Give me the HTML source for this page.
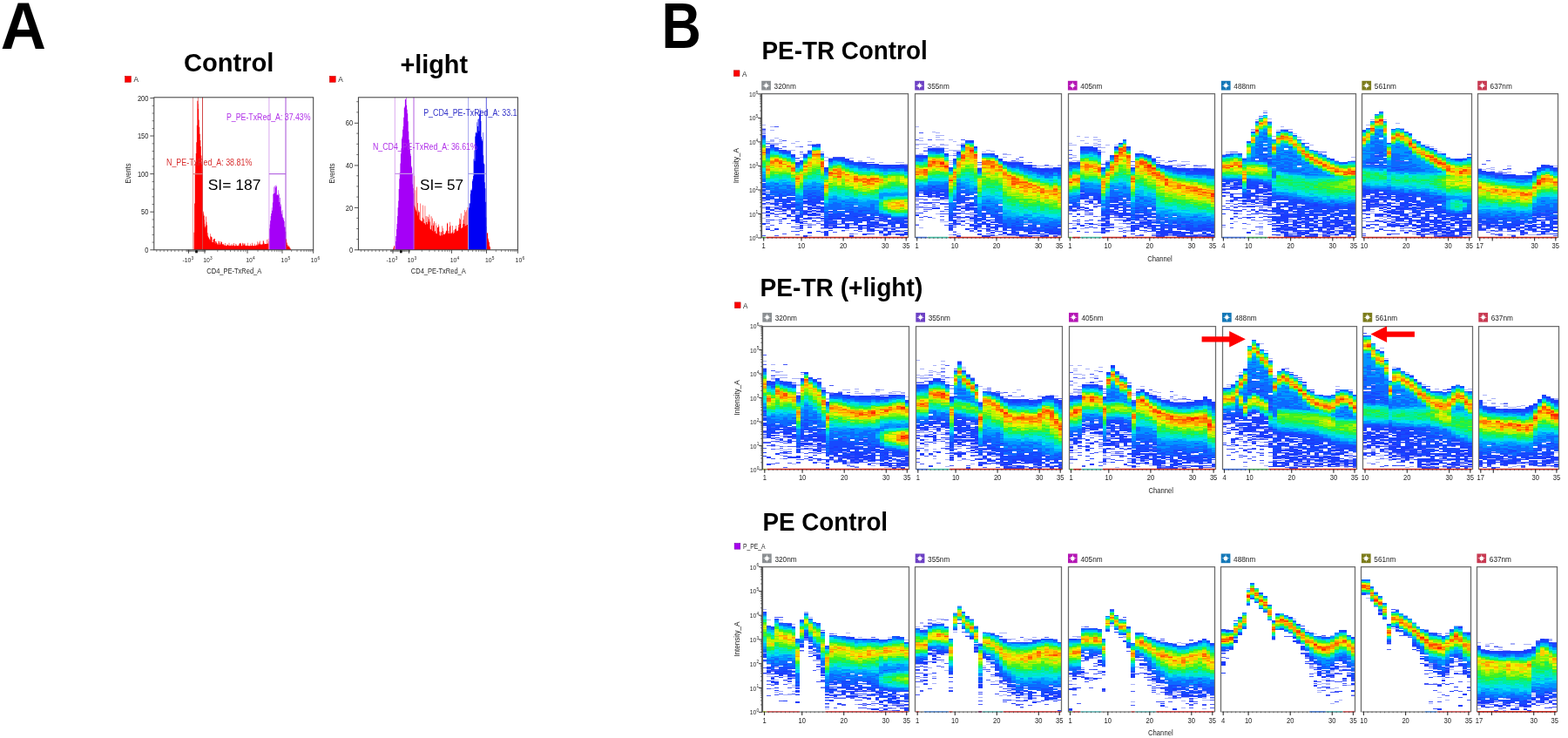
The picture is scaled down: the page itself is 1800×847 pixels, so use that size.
<!DOCTYPE html>
<html lang="en"><head><meta charset="utf-8"><title>Figure</title>
<style>
html,body{margin:0;padding:0;background:#fff;}
body{width:1800px;height:847px;overflow:hidden;font-family:"Liberation Sans",sans-serif;}
svg{display:block;position:absolute;left:0;top:0;}
svg text{font-family:"Liberation Sans",sans-serif;}
</style></head><body>
<svg width="1800" height="847" viewBox="0 0 1800 847">
<rect width="1800" height="847" fill="#fff"/>
<g id="panelA">
<text x="0.8" y="55.6" font-size="76" font-weight="bold" textLength="52.2" lengthAdjust="spacingAndGlyphs">A</text>
<text x="211" y="82.4" font-size="30.1" font-weight="bold" textLength="103.4" lengthAdjust="spacingAndGlyphs">Control</text>
<text x="459.4" y="84" font-size="30.1" font-weight="bold" textLength="77.6" lengthAdjust="spacingAndGlyphs">+light</text>
<path d="M222.0 286.8L222.0 286.8L222.6 286.8L222.6 266.8L223.1 266.8L223.1 233.4L223.7 233.4L223.7 198.8L224.2 198.8L224.2 187.4L224.8 187.4L224.8 176.1L225.3 176.1L225.3 163.2L225.9 163.2L225.9 143.7L226.4 143.7L226.4 115.8L227.0 115.8L227.0 115.8L227.5 115.8L227.5 119.3L228.1 119.3L228.1 137.6L228.6 137.6L228.6 145.8L229.2 145.8L229.2 153.8L229.7 153.8L229.7 161.0L230.3 161.0L230.3 168.1L230.8 168.1L230.8 178.5L231.4 178.5L231.4 189.1L231.9 189.1L231.9 199.8L232.5 199.8L232.5 221.3L233.0 221.3L233.0 242.8L233.6 242.8L233.6 247.5L234.1 247.5L234.1 252.2L234.7 252.2L234.7 256.8L235.2 256.8L235.2 260.5L235.8 260.5L235.8 262.6L236.3 262.6L236.3 264.6L236.9 264.6L236.9 266.6L237.4 266.6L237.4 268.6L238.0 268.6L238.0 270.6L238.5 270.6L238.5 271.6L239.1 271.6L239.1 272.5L239.6 272.5L239.6 273.4L240.2 273.4L240.2 274.3L240.7 274.3L240.7 275.2L241.3 275.2L241.3 276.1L241.8 276.1L241.8 277.0L242.4 277.0L242.4 277.5L242.9 277.5L242.9 277.7L243.5 277.7L243.5 277.9L244.0 277.9L244.0 278.2L244.6 278.2L244.6 278.4L245.1 278.4L245.1 278.7L245.7 278.7L245.7 278.9L246.2 278.9L246.2 279.1L246.8 279.1L246.8 279.4L247.3 279.4L247.3 279.6L247.9 279.6L247.9 279.9L248.4 279.9L248.4 280.1L249.0 280.1L249.0 280.3L249.5 280.3L249.5 280.6L250.1 280.6L250.1 280.8L250.6 280.8L250.6 280.9L251.2 280.9L251.2 280.9L251.7 280.9L251.7 281.0L252.3 281.0L252.3 281.1L252.8 281.1L252.8 281.2L253.4 281.2L253.4 281.2L253.9 281.2L253.9 281.3L254.5 281.3L254.5 281.4L255.0 281.4L255.0 281.4L255.6 281.4L255.6 281.5L256.1 281.5L256.1 281.6L256.7 281.6L256.7 281.6L257.2 281.6L257.2 281.7L257.8 281.7L257.8 281.8L258.3 281.8L258.3 281.8L258.9 281.8L258.9 281.9L259.4 281.9L259.4 282.0L260.0 282.0L260.0 282.0L260.5 282.0L260.5 282.1L261.1 282.1L261.1 282.2L261.6 282.2L261.6 282.3L262.2 282.3L262.2 282.3L262.7 282.3L262.7 282.3L263.3 282.3L263.3 282.3L263.8 282.3L263.8 282.3L264.4 282.3L264.4 282.3L264.9 282.3L264.9 282.3L265.5 282.3L265.5 282.3L266.0 282.3L266.0 282.3L266.6 282.3L266.6 282.3L267.1 282.3L267.1 282.3L267.7 282.3L267.7 282.3L268.2 282.3L268.2 282.3L268.8 282.3L268.8 282.3L269.3 282.3L269.3 282.3L269.9 282.3L269.9 282.3L270.4 282.3L270.4 282.3L271.0 282.3L271.0 282.3L271.5 282.3L271.5 282.3L272.1 282.3L272.1 282.3L272.6 282.3L272.6 282.3L273.2 282.3L273.2 282.3L273.7 282.3L273.7 282.3L274.3 282.3L274.3 282.3L274.8 282.3L274.8 282.3L275.4 282.3L275.4 282.3L275.9 282.3L275.9 282.3L276.5 282.3L276.5 282.3L277.0 282.3L277.0 282.3L277.6 282.3L277.6 282.3L278.1 282.3L278.1 282.3L278.7 282.3L278.7 282.3L279.2 282.3L279.2 282.3L279.8 282.3L279.8 282.3L280.3 282.3L280.3 282.3L280.9 282.3L280.9 282.3L281.4 282.3L281.4 282.3L282.0 282.3L282.0 282.3L282.5 282.3L282.5 282.3L283.1 282.3L283.1 282.3L283.6 282.3L283.6 282.3L284.2 282.3L284.2 282.3L284.7 282.3L284.7 282.3L285.3 282.3L285.3 282.3L285.8 282.3L285.8 282.3L286.4 282.3L286.4 282.3L286.9 282.3L286.9 282.3L287.5 282.3L287.5 282.3L288.0 282.3L288.0 282.3L288.6 282.3L288.6 282.3L289.1 282.3L289.1 282.3L289.7 282.3L289.7 282.3L290.2 282.3L290.2 282.3L290.8 282.3L290.8 282.2L291.3 282.2L291.3 282.1L291.9 282.1L291.9 282.0L292.4 282.0L292.4 281.9L293.0 281.9L293.0 281.9L293.5 281.9L293.5 281.8L294.1 281.8L294.1 281.7L294.6 281.7L294.6 281.6L295.2 281.6L295.2 281.5L295.7 281.5L295.7 281.4L296.3 281.4L296.3 281.4L296.8 281.4L296.8 281.3L297.4 281.3L297.4 281.2L297.9 281.2L297.9 281.1L298.5 281.1L298.5 281.0L299.0 281.0L299.0 280.9L299.6 280.9L299.6 280.9L300.1 280.9L300.1 280.8L300.7 280.8L300.7 280.7L301.2 280.7L301.2 280.6L301.8 280.6L301.8 280.5L302.3 280.5L302.3 280.4L302.9 280.4L302.9 280.3L303.4 280.3L303.4 280.2L304.0 280.2L304.0 280.1L304.5 280.1L304.5 280.0L305.1 280.0L305.1 280.0L305.6 280.0L305.6 279.9L306.2 279.9L306.2 279.8L306.7 279.8L306.7 279.7L307.3 279.7L307.3 279.6L307.8 279.6L307.8 279.5L308.4 279.5L308.4 279.4L308.9 279.4L308.9 279.3L309.5 279.3L309.5 286.8Z" fill="#f00"/>
<path d="M233.0 286.8L233.0 244.9L233.6 244.9L233.6 255.2L234.1 255.2L234.1 247.5L234.7 247.5L234.7 261.0L235.2 261.0L235.2 266.8L235.8 266.8L235.8 259.2L236.3 259.2L236.3 248.6L236.9 248.6L236.9 254.7L237.4 254.7L237.4 258.6L238.0 258.6L238.0 271.6L238.5 271.6L238.5 267.2L239.1 267.2L239.1 272.5L239.6 272.5L239.6 275.0L240.2 275.0L240.2 276.7L240.7 276.7L240.7 276.0L241.3 276.0L241.3 268.2L241.8 268.2L241.8 270.9L242.4 270.9L242.4 271.9L242.9 271.9L242.9 272.3L243.5 272.3L243.5 278.8L244.0 278.8L244.0 277.9L244.6 277.9L244.6 275.1L245.1 275.1L245.1 274.5L245.7 274.5L245.7 273.8L246.2 273.8L246.2 273.9L246.8 273.9L246.8 281.0L247.3 281.0L247.3 277.0L247.9 277.0L247.9 276.8L248.4 276.8L248.4 278.4L249.0 278.4L249.0 281.1L249.5 281.1L249.5 279.2L250.1 279.2L250.1 282.1L250.6 282.1L250.6 276.5L251.2 276.5L251.2 277.1L251.7 277.1L251.7 279.3L252.3 279.3L252.3 280.9L252.8 280.9L252.8 277.1L253.4 277.1L253.4 279.4L253.9 279.4L253.9 277.5L254.5 277.5L254.5 277.9L255.0 277.9L255.0 280.0L255.6 280.0L255.6 280.7L256.1 280.7L256.1 279.7L256.7 279.7L256.7 280.7L257.2 280.7L257.2 282.4L257.8 282.4L257.8 281.6L258.3 281.6L258.3 278.9L258.9 278.9L258.9 283.2L259.4 283.2L259.4 283.2L260.0 283.2L260.0 280.2L260.5 280.2L260.5 282.1L261.1 282.1L261.1 280.8L261.6 280.8L261.6 281.3L262.2 281.3L262.2 282.0L262.7 282.0L262.7 278.7L263.3 278.7L263.3 282.7L263.8 282.7L263.8 281.6L264.4 281.6L264.4 282.7L264.9 282.7L264.9 280.5L265.5 280.5L265.5 282.3L266.0 282.3L266.0 281.9L266.6 281.9L266.6 279.9L267.1 279.9L267.1 282.1L267.7 282.1L267.7 280.9L268.2 280.9L268.2 279.1L268.8 279.1L268.8 283.2L269.3 283.2L269.3 283.4L269.9 283.4L269.9 282.5L270.4 282.5L270.4 279.8L271.0 279.8L271.0 280.6L271.5 280.6L271.5 282.5L272.1 282.5L272.1 282.0L272.6 282.0L272.6 282.8L273.2 282.8L273.2 281.4L273.7 281.4L273.7 283.5L274.3 283.5L274.3 280.2L274.8 280.2L274.8 279.2L275.4 279.2L275.4 278.9L275.9 278.9L275.9 280.0L276.5 280.0L276.5 278.8L277.0 278.8L277.0 283.6L277.6 283.6L277.6 282.2L278.1 282.2L278.1 278.8L278.7 278.8L278.7 279.8L279.2 279.8L279.2 281.6L279.8 281.6L279.8 278.9L280.3 278.9L280.3 280.6L280.9 280.6L280.9 279.6L281.4 279.6L281.4 282.2L282.0 282.2L282.0 282.7L282.5 282.7L282.5 281.5L283.1 281.5L283.1 283.0L283.6 283.0L283.6 281.8L284.2 281.8L284.2 278.8L284.7 278.8L284.7 282.0L285.3 282.0L285.3 283.7L285.8 283.7L285.8 283.5L286.4 283.5L286.4 282.8L286.9 282.8L286.9 279.7L287.5 279.7L287.5 281.9L288.0 281.9L288.0 282.2L288.6 282.2L288.6 283.2L289.1 283.2L289.1 278.7L289.7 278.7L289.7 281.6L290.2 281.6L290.2 282.6L290.8 282.6L290.8 283.3L291.3 283.3L291.3 283.3L291.9 283.3L291.9 282.6L292.4 282.6L292.4 279.8L293.0 279.8L293.0 282.6L293.5 282.6L293.5 283.1L294.1 283.1L294.1 280.5L294.6 280.5L294.6 281.8L295.2 281.8L295.2 277.3L295.7 277.3L295.7 282.4L296.3 282.4L296.3 279.8L296.8 279.8L296.8 278.2L297.4 278.2L297.4 280.4L297.9 280.4L297.9 276.6L298.5 276.6L298.5 279.7L299.0 279.7L299.0 281.2L299.6 281.2L299.6 280.0L300.1 280.0L300.1 282.4L300.7 282.4L300.7 279.7L301.2 279.7L301.2 280.8L301.8 280.8L301.8 276.2L302.3 276.2L302.3 276.4L302.9 276.4L302.9 278.7L303.4 278.7L303.4 282.1L304.0 282.1L304.0 280.3L304.5 280.3L304.5 280.3L305.1 280.3L305.1 280.5L305.6 280.5L305.6 280.2L306.2 280.2L306.2 275.1L306.7 275.1L306.7 280.8L307.3 280.8L307.3 281.4L307.8 281.4L307.8 274.2L308.4 274.2L308.4 277.0L308.9 277.0L308.9 273.3L309.5 273.3L309.5 286.8Z" fill="#f00"/>
<path d="M309.0 286.8L309.0 262.2L309.6 262.2L309.6 257.6L310.1 257.6L310.1 253.2L310.7 253.2L310.7 248.1L311.2 248.1L311.2 245.1L311.8 245.1L311.8 238.3L312.3 238.3L312.3 241.8L312.9 241.8L312.9 232.5L313.4 232.5L313.4 222.7L314.0 222.7L314.0 222.0L314.5 222.0L314.5 214.5L315.1 214.5L315.1 221.4L315.6 221.4L315.6 213.3L316.2 213.3L316.2 215.2L316.7 215.2L316.7 212.6L317.3 212.6L317.3 214.1L317.8 214.1L317.8 223.9L318.4 223.9L318.4 223.0L318.9 223.0L318.9 224.3L319.5 224.3L319.5 218.3L320.0 218.3L320.0 222.6L320.6 222.6L320.6 232.0L321.1 232.0L321.1 226.9L321.7 226.9L321.7 236.9L322.2 236.9L322.2 234.6L322.8 234.6L322.8 242.2L323.3 242.2L323.3 245.8L323.9 245.8L323.9 240.9L324.4 240.9L324.4 249.4L325.0 249.4L325.0 252.2L325.5 252.2L325.5 250.0L326.1 250.0L326.1 254.0L326.6 254.0L326.6 260.6L327.2 260.6L327.2 260.5L327.7 260.5L327.7 265.8L328.3 265.8L328.3 286.8Z" fill="#a500f7"/>
<path d="M328.0 286.8L328.0 273.9L328.6 273.9L328.6 275.3L329.1 275.3L329.1 278.6L329.7 278.6L329.7 280.9L330.2 280.9L330.2 282.8L330.8 282.8L330.8 281.4L331.3 281.4L331.3 282.7L331.9 282.7L331.9 282.9L332.4 282.9L332.4 284.4L333.0 284.4L333.0 284.7L333.5 284.7L333.5 285.9L334.1 285.9L334.1 286.8Z" fill="#f00"/>
<path d="M221.5 111.8V286.8" stroke="#e9a0a0" stroke-width="1" fill="none"/>
<path d="M232.5 111.8V286.8" stroke="#d24848" stroke-width="1" fill="none"/>
<path d="M227.4 111.8V125" stroke="#e86060" stroke-width="0.8" fill="none"/>
<path d="M221.5 199.6H232.5" stroke="#e08080" stroke-width="1.2" fill="none"/>
<path d="M308.9 111.8V286.8" stroke="#d9a8ee" stroke-width="1" fill="none"/>
<path d="M328 111.8V286.8" stroke="#a64fd6" stroke-width="1" fill="none"/>
<path d="M308.9 199.6H328" stroke="#b15fe0" stroke-width="1.1" fill="none"/>
<rect x="143.5" y="87.4" width="6.9" height="6.9" fill="#f00" stroke="#b00" stroke-width="0.5"/>
<text x="153.5" y="94.3" font-size="9" fill="#1c1c1c" textLength="5.5" lengthAdjust="spacingAndGlyphs">A</text>
<rect x="176.8" y="111.8" width="182.89999999999998" height="175.0" fill="none" stroke="#3a3a3a" stroke-width="1"/>
<line x1="172.3" y1="112.6" x2="176.8" y2="112.6" stroke="#3a3a3a" stroke-width="0.9"/>
<text x="157.9" y="115.69999999999999" font-size="8.8" fill="#1c1c1c" textLength="12.6" lengthAdjust="spacingAndGlyphs">200</text>
<line x1="172.3" y1="156.0" x2="176.8" y2="156.0" stroke="#3a3a3a" stroke-width="0.9"/>
<text x="157.9" y="159.1" font-size="8.8" fill="#1c1c1c" textLength="12.6" lengthAdjust="spacingAndGlyphs">150</text>
<line x1="172.3" y1="199.6" x2="176.8" y2="199.6" stroke="#3a3a3a" stroke-width="0.9"/>
<text x="157.9" y="202.7" font-size="8.8" fill="#1c1c1c" textLength="12.6" lengthAdjust="spacingAndGlyphs">100</text>
<line x1="172.3" y1="243.2" x2="176.8" y2="243.2" stroke="#3a3a3a" stroke-width="0.9"/>
<text x="162.1" y="246.29999999999998" font-size="8.8" fill="#1c1c1c" textLength="8.4" lengthAdjust="spacingAndGlyphs">50</text>
<line x1="172.3" y1="286.8" x2="176.8" y2="286.8" stroke="#3a3a3a" stroke-width="0.9"/>
<text x="166.3" y="289.90000000000003" font-size="8.8" fill="#1c1c1c" textLength="4.2" lengthAdjust="spacingAndGlyphs">0</text>
<line x1="174.60000000000002" y1="278.09000000000003" x2="176.8" y2="278.09000000000003" stroke="#3a3a3a" stroke-width="0.7"/>
<line x1="174.60000000000002" y1="269.38" x2="176.8" y2="269.38" stroke="#3a3a3a" stroke-width="0.7"/>
<line x1="174.60000000000002" y1="260.67" x2="176.8" y2="260.67" stroke="#3a3a3a" stroke-width="0.7"/>
<line x1="174.60000000000002" y1="251.96" x2="176.8" y2="251.96" stroke="#3a3a3a" stroke-width="0.7"/>
<line x1="174.60000000000002" y1="234.54000000000002" x2="176.8" y2="234.54000000000002" stroke="#3a3a3a" stroke-width="0.7"/>
<line x1="174.60000000000002" y1="225.83" x2="176.8" y2="225.83" stroke="#3a3a3a" stroke-width="0.7"/>
<line x1="174.60000000000002" y1="217.12" x2="176.8" y2="217.12" stroke="#3a3a3a" stroke-width="0.7"/>
<line x1="174.60000000000002" y1="208.41" x2="176.8" y2="208.41" stroke="#3a3a3a" stroke-width="0.7"/>
<line x1="174.60000000000002" y1="190.99" x2="176.8" y2="190.99" stroke="#3a3a3a" stroke-width="0.7"/>
<line x1="174.60000000000002" y1="182.28" x2="176.8" y2="182.28" stroke="#3a3a3a" stroke-width="0.7"/>
<line x1="174.60000000000002" y1="173.57" x2="176.8" y2="173.57" stroke="#3a3a3a" stroke-width="0.7"/>
<line x1="174.60000000000002" y1="164.86" x2="176.8" y2="164.86" stroke="#3a3a3a" stroke-width="0.7"/>
<line x1="174.60000000000002" y1="147.44" x2="176.8" y2="147.44" stroke="#3a3a3a" stroke-width="0.7"/>
<line x1="174.60000000000002" y1="138.73" x2="176.8" y2="138.73" stroke="#3a3a3a" stroke-width="0.7"/>
<line x1="174.60000000000002" y1="130.01999999999998" x2="176.8" y2="130.01999999999998" stroke="#3a3a3a" stroke-width="0.7"/>
<line x1="174.60000000000002" y1="121.31" x2="176.8" y2="121.31" stroke="#3a3a3a" stroke-width="0.7"/>
<text transform="translate(150.0 210.6) rotate(-90)" font-size="8.6" fill="#1c1c1c" textLength="23" lengthAdjust="spacingAndGlyphs">Events</text>
<text x="209.4" y="301.0" font-size="7.8" fill="#1c1c1c" textLength="9.9" lengthAdjust="spacingAndGlyphs">-10</text>
<text x="219.6" y="297.6" font-size="4.8" fill="#1c1c1c">3</text>
<text x="233.2" y="301.0" font-size="7.8" fill="#1c1c1c" textLength="7.6" lengthAdjust="spacingAndGlyphs">10</text>
<text x="241.0" y="297.6" font-size="4.8" fill="#1c1c1c">3</text>
<text x="282.2" y="301.0" font-size="7.8" fill="#1c1c1c" textLength="7.6" lengthAdjust="spacingAndGlyphs">10</text>
<text x="290.0" y="297.6" font-size="4.8" fill="#1c1c1c">4</text>
<text x="322.6" y="301.0" font-size="7.8" fill="#1c1c1c" textLength="7.6" lengthAdjust="spacingAndGlyphs">10</text>
<text x="330.4" y="297.6" font-size="4.8" fill="#1c1c1c">5</text>
<text x="356.8" y="301.0" font-size="7.8" fill="#1c1c1c" textLength="7.6" lengthAdjust="spacingAndGlyphs">10</text>
<text x="364.6" y="297.6" font-size="4.8" fill="#1c1c1c">6</text>
<text x="268.8" y="314" font-size="8.6" fill="#1c1c1c" text-anchor="middle" textLength="63" lengthAdjust="spacingAndGlyphs">CD4_PE-TxRed_A</text>
<line x1="216.5" y1="286.8" x2="216.5" y2="290.8" stroke="#3a3a3a" stroke-width="0.9"/>
<line x1="235.0" y1="286.8" x2="235.0" y2="290.8" stroke="#3a3a3a" stroke-width="0.9"/>
<line x1="284.0" y1="286.8" x2="284.0" y2="290.8" stroke="#3a3a3a" stroke-width="0.9"/>
<line x1="324.0" y1="286.8" x2="324.0" y2="290.8" stroke="#3a3a3a" stroke-width="0.9"/>
<line x1="359.7" y1="286.8" x2="359.7" y2="290.8" stroke="#3a3a3a" stroke-width="0.9"/>
<path d="M249.8 286.8v2.3M258.4 286.8v2.3M264.5 286.8v2.3M269.2 286.8v2.3M273.1 286.8v2.3M276.4 286.8v2.3M279.3 286.8v2.3M281.8 286.8v2.3M296.0 286.8v2.3M303.1 286.8v2.3M308.1 286.8v2.3M312.0 286.8v2.3M315.1 286.8v2.3M317.8 286.8v2.3M320.1 286.8v2.3M322.2 286.8v2.3M334.7 286.8v2.3M341.0 286.8v2.3M345.5 286.8v2.3M349.0 286.8v2.3M351.8 286.8v2.3M354.2 286.8v2.3M356.2 286.8v2.3M358.1 286.8v2.3M179.8 286.8v2.3M184.0 286.8v2.3M188.2 286.8v2.3M192.4 286.8v2.3M196.6 286.8v2.3M200.8 286.8v2.3M205.0 286.8v2.3M209.2 286.8v2.3M214.0 286.8v2.3M215.2 286.8v2.3M216.3 286.8v2.3M217.4 286.8v2.3M218.6 286.8v2.3M219.8 286.8v2.3M220.9 286.8v2.3M222.1 286.8v2.3M223.2 286.8v2.3M224.3 286.8v2.3M225.5 286.8v2.3M226.7 286.8v2.3M227.8 286.8v2.3M228.9 286.8v2.3M230.1 286.8v2.3M231.2 286.8v2.3M232.4 286.8v2.3M233.6 286.8v2.3M234.7 286.8v2.3M235.8 286.8v2.3" stroke="#3a3a3a" stroke-width="0.6" fill="none"/>
<rect x="224.2" y="287.3" width="2.6" height="3" fill="#000"/>
<text x="260" y="137.8" font-size="10" fill="#b030e8" textLength="96.5" lengthAdjust="spacingAndGlyphs">P_PE-TxRed_A: 37.43%</text>
<text x="191" y="190.2" font-size="10" fill="#d83030" textLength="98.3" lengthAdjust="spacingAndGlyphs">N_PE-TxRed_A: 38.81%</text>
<text x="238.7" y="217.6" font-size="17.3" textLength="60.7" lengthAdjust="spacingAndGlyphs">SI= 187</text>
<path d="M451.0 286.8L451.0 285.8L451.6 285.8L451.6 283.9L452.1 283.9L452.1 282.0L452.7 282.0L452.7 282.6L453.2 282.6L453.2 282.3L453.8 282.3L453.8 286.8Z" fill="#f00"/>
<path d="M475.0 286.8L475.0 235.6L475.6 235.6L475.6 236.5L476.1 236.5L476.1 237.5L476.7 237.5L476.7 239.4L477.2 239.4L477.2 241.2L477.8 241.2L477.8 243.0L478.3 243.0L478.3 244.9L478.9 244.9L478.9 246.4L479.4 246.4L479.4 247.9L480.0 247.9L480.0 249.3L480.5 249.3L480.5 250.8L481.1 250.8L481.1 251.8L481.6 251.8L481.6 252.3L482.2 252.3L482.2 252.7L482.7 252.7L482.7 253.1L483.3 253.1L483.3 253.6L483.8 253.6L483.8 254.0L484.4 254.0L484.4 254.5L484.9 254.5L484.9 254.9L485.5 254.9L485.5 255.4L486.0 255.4L486.0 255.8L486.6 255.8L486.6 256.3L487.1 256.3L487.1 256.8L487.7 256.8L487.7 257.3L488.2 257.3L488.2 257.8L488.8 257.8L488.8 258.3L489.3 258.3L489.3 258.9L489.9 258.9L489.9 259.4L490.4 259.4L490.4 259.9L491.0 259.9L491.0 260.4L491.5 260.4L491.5 261.0L492.1 261.0L492.1 261.5L492.6 261.5L492.6 262.0L493.2 262.0L493.2 262.4L493.7 262.4L493.7 262.9L494.3 262.9L494.3 263.3L494.8 263.3L494.8 263.8L495.4 263.8L495.4 264.2L495.9 264.2L495.9 264.7L496.5 264.7L496.5 265.1L497.0 265.1L497.0 265.6L497.6 265.6L497.6 266.0L498.1 266.0L498.1 266.5L498.7 266.5L498.7 266.9L499.2 266.9L499.2 267.2L499.8 267.2L499.8 267.5L500.3 267.5L500.3 267.8L500.9 267.8L500.9 268.1L501.4 268.1L501.4 268.4L502.0 268.4L502.0 268.7L502.5 268.7L502.5 269.1L503.1 269.1L503.1 269.4L503.6 269.4L503.6 269.7L504.2 269.7L504.2 270.0L504.7 270.0L504.7 270.3L505.3 270.3L505.3 270.6L505.8 270.6L505.8 270.7L506.4 270.7L506.4 270.5L506.9 270.5L506.9 270.2L507.5 270.2L507.5 270.0L508.0 270.0L508.0 269.7L508.6 269.7L508.6 269.5L509.1 269.5L509.1 269.2L509.7 269.2L509.7 269.0L510.2 269.0L510.2 268.7L510.8 268.7L510.8 268.5L511.3 268.5L511.3 268.2L511.9 268.2L511.9 268.0L512.4 268.0L512.4 267.7L513.0 267.7L513.0 267.6L513.5 267.6L513.5 267.7L514.1 267.7L514.1 267.8L514.6 267.8L514.6 267.8L515.2 267.8L515.2 267.9L515.7 267.9L515.7 267.9L516.3 267.9L516.3 268.0L516.8 268.0L516.8 268.1L517.4 268.1L517.4 268.1L517.9 268.1L517.9 268.2L518.5 268.2L518.5 268.2L519.0 268.2L519.0 268.3L519.6 268.3L519.6 268.4L520.1 268.4L520.1 268.2L520.7 268.2L520.7 267.8L521.2 267.8L521.2 267.4L521.8 267.4L521.8 267.1L522.3 267.1L522.3 266.7L522.8 266.7L522.8 266.3L523.4 266.3L523.4 265.9L523.9 265.9L523.9 265.6L524.5 265.6L524.5 265.2L525.0 265.2L525.0 264.8L525.6 264.8L525.6 264.5L526.1 264.5L526.1 264.1L526.7 264.1L526.7 263.7L527.2 263.7L527.2 263.3L527.8 263.3L527.8 263.0L528.3 263.0L528.3 262.6L528.9 262.6L528.9 262.2L529.4 262.2L529.4 261.9L530.0 261.9L530.0 261.5L530.5 261.5L530.5 261.2L531.1 261.2L531.1 260.9L531.6 260.9L531.6 260.6L532.2 260.6L532.2 260.3L532.7 260.3L532.7 260.0L533.3 260.0L533.3 259.7L533.8 259.7L533.8 259.4L534.4 259.4L534.4 259.1L534.9 259.1L534.9 258.8L535.5 258.8L535.5 258.5L536.0 258.5L536.0 258.1L536.6 258.1L536.6 258.0L537.1 258.0L537.1 258.0L537.7 258.0L537.7 258.0L538.2 258.0L538.2 286.8Z" fill="#f00"/>
<path d="M475.0 286.8L475.0 236.1L475.6 236.1L475.6 201.8L476.1 201.8L476.1 242.7L476.7 242.7L476.7 218.3L477.2 218.3L477.2 247.8L477.8 247.8L477.8 242.6L478.3 242.6L478.3 214.5L478.9 214.5L478.9 247.5L479.4 247.5L479.4 232.9L480.0 232.9L480.0 241.4L480.5 241.4L480.5 243.4L481.1 243.4L481.1 243.2L481.6 243.2L481.6 253.7L482.2 253.7L482.2 233.5L482.7 233.5L482.7 257.9L483.3 257.9L483.3 253.7L483.8 253.7L483.8 260.8L484.4 260.8L484.4 253.6L484.9 253.6L484.9 249.8L485.5 249.8L485.5 235.5L486.0 235.5L486.0 251.6L486.6 251.6L486.6 259.8L487.1 259.8L487.1 256.2L487.7 256.2L487.7 236.2L488.2 236.2L488.2 262.6L488.8 262.6L488.8 248.0L489.3 248.0L489.3 255.1L489.9 255.1L489.9 248.3L490.4 248.3L490.4 257.3L491.0 257.3L491.0 249.1L491.5 249.1L491.5 254.6L492.1 254.6L492.1 251.5L492.6 251.5L492.6 246.3L493.2 246.3L493.2 254.5L493.7 254.5L493.7 265.0L494.3 265.0L494.3 267.2L494.8 267.2L494.8 248.3L495.4 248.3L495.4 258.8L495.9 258.8L495.9 265.6L496.5 265.6L496.5 250.5L497.0 250.5L497.0 258.7L497.6 258.7L497.6 256.3L498.1 256.3L498.1 254.0L498.7 254.0L498.7 266.0L499.2 266.0L499.2 265.0L499.8 265.0L499.8 255.7L500.3 255.7L500.3 269.7L500.9 269.7L500.9 258.8L501.4 258.8L501.4 270.9L502.0 270.9L502.0 261.0L502.5 261.0L502.5 261.2L503.1 261.2L503.1 257.6L503.6 257.6L503.6 259.8L504.2 259.8L504.2 265.7L504.7 265.7L504.7 270.9L505.3 270.9L505.3 271.9L505.8 271.9L505.8 266.2L506.4 266.2L506.4 266.2L506.9 266.2L506.9 272.8L507.5 272.8L507.5 259.3L508.0 259.3L508.0 265.3L508.6 265.3L508.6 261.8L509.1 261.8L509.1 269.5L509.7 269.5L509.7 268.9L510.2 268.9L510.2 272.6L510.8 272.6L510.8 266.6L511.3 266.6L511.3 267.7L511.9 267.7L511.9 264.6L512.4 264.6L512.4 265.2L513.0 265.2L513.0 256.7L513.5 256.7L513.5 255.8L514.1 255.8L514.1 268.9L514.6 268.9L514.6 264.9L515.2 264.9L515.2 269.1L515.7 269.1L515.7 260.3L516.3 260.3L516.3 254.8L516.8 254.8L516.8 268.7L517.4 268.7L517.4 258.7L517.9 258.7L517.9 267.1L518.5 267.1L518.5 272.2L519.0 272.2L519.0 259.0L519.6 259.0L519.6 266.5L520.1 266.5L520.1 269.4L520.7 269.4L520.7 264.2L521.2 264.2L521.2 267.5L521.8 267.5L521.8 263.8L522.3 263.8L522.3 262.7L522.8 262.7L522.8 262.8L523.4 262.8L523.4 259.0L523.9 259.0L523.9 264.5L524.5 264.5L524.5 268.1L525.0 268.1L525.0 268.0L525.6 268.0L525.6 267.2L526.1 267.2L526.1 257.9L526.7 257.9L526.7 261.0L527.2 261.0L527.2 250.6L527.8 250.6L527.8 256.9L528.3 256.9L528.3 251.7L528.9 251.7L528.9 244.8L529.4 244.8L529.4 266.0L530.0 266.0L530.0 266.8L530.5 266.8L530.5 263.6L531.1 263.6L531.1 257.3L531.6 257.3L531.6 252.2L532.2 252.2L532.2 247.6L532.7 247.6L532.7 257.1L533.3 257.1L533.3 240.9L533.8 240.9L533.8 265.5L534.4 265.5L534.4 243.3L534.9 243.3L534.9 259.5L535.5 259.5L535.5 241.3L536.0 241.3L536.0 263.7L536.6 263.7L536.6 238.1L537.1 238.1L537.1 243.7L537.7 243.7L537.7 237.4L538.2 237.4L538.2 286.8Z" fill="#f00"/>
<path d="M453.3 286.8L453.3 283.3L453.9 283.3L453.9 277.0L454.4 277.0L454.4 270.9L455.0 270.9L455.0 263.0L455.5 263.0L455.5 257.1L456.1 257.1L456.1 248.1L456.6 248.1L456.6 238.3L457.2 238.3L457.2 230.5L457.7 230.5L457.7 217.0L458.3 217.0L458.3 205.3L458.8 205.3L458.8 198.2L459.4 198.2L459.4 187.4L459.9 187.4L459.9 176.4L460.5 176.4L460.5 170.2L461.0 170.2L461.0 159.2L461.6 159.2L461.6 156.8L462.1 156.8L462.1 148.8L462.7 148.8L462.7 144.9L463.2 144.9L463.2 134.7L463.8 134.7L463.8 124.0L464.3 124.0L464.3 122.6L464.9 122.6L464.9 114.3L465.4 114.3L465.4 113.7L466.0 113.7L466.0 112.0L466.5 112.0L466.5 120.8L467.1 120.8L467.1 125.8L467.6 125.8L467.6 130.2L468.2 130.2L468.2 139.2L468.7 139.2L468.7 150.8L469.3 150.8L469.3 160.3L469.8 160.3L469.8 164.4L470.4 164.4L470.4 170.8L470.9 170.8L470.9 176.6L471.5 176.6L471.5 178.9L472.0 178.9L472.0 190.8L472.6 190.8L472.6 192.6L473.1 192.6L473.1 199.5L473.7 199.5L473.7 211.5L474.2 211.5L474.2 216.1L474.8 216.1L474.8 221.8L475.3 221.8L475.3 286.8Z" fill="#a500f7"/>
<path d="M537.6 286.8L537.6 241.2L538.1 241.2L538.1 238.6L538.7 238.6L538.7 233.2L539.2 233.2L539.2 233.5L539.8 233.5L539.8 222.5L540.3 222.5L540.3 218.2L540.9 218.2L540.9 216.4L541.4 216.4L541.4 218.5L542.0 218.5L542.0 207.9L542.5 207.9L542.5 205.8L543.1 205.8L543.1 202.1L543.6 202.1L543.6 182.4L544.2 182.4L544.2 172.5L544.7 172.5L544.7 184.8L545.3 184.8L545.3 156.5L545.8 156.5L545.8 152.5L546.4 152.5L546.4 151.5L546.9 151.5L546.9 152.8L547.5 152.8L547.5 140.2L548.0 140.2L548.0 144.9L548.6 144.9L548.6 137.0L549.1 137.0L549.1 136.3L549.7 136.3L549.7 150.5L550.2 150.5L550.2 130.5L550.8 130.5L550.8 124.5L551.3 124.5L551.3 126.8L551.9 126.8L551.9 139.0L552.4 139.0L552.4 157.1L553.0 157.1L553.0 159.8L553.5 159.8L553.5 161.7L554.1 161.7L554.1 151.9L554.6 151.9L554.6 178.3L555.2 178.3L555.2 187.5L555.7 187.5L555.7 188.5L556.3 188.5L556.3 209.3L556.8 209.3L556.8 216.2L557.4 216.2L557.4 231.8L557.9 231.8L557.9 249.4L558.5 249.4L558.5 260.0L559.0 260.0L559.0 286.8Z" fill="#0000f5"/>
<path d="M558.5 286.8L558.5 266.4L559.0 266.4L559.0 267.7L559.6 267.7L559.6 266.9L560.1 266.9L560.1 273.8L560.7 273.8L560.7 276.0L561.2 276.0L561.2 278.1L561.8 278.1L561.8 282.2L562.3 282.2L562.3 283.6L562.9 283.6L562.9 286.8Z" fill="#f00"/>
<path d="M453.3 111.8V286.8" stroke="#dcaaf0" stroke-width="1" fill="none"/>
<path d="M475 111.8V286.8" stroke="#b45fe0" stroke-width="1" fill="none"/>
<path d="M453.3 199.4H475" stroke="#c890ea" stroke-width="1.2" fill="none"/>
<path d="M537.6 111.8V286.8" stroke="#a8a8f0" stroke-width="1" fill="none"/>
<path d="M558.3 111.8V286.8" stroke="#5a5ae0" stroke-width="1" fill="none"/>
<path d="M537.6 199.4H558.3" stroke="#9a9ae8" stroke-width="1.2" fill="none"/>
<rect x="378.3" y="87.4" width="6.9" height="6.9" fill="#f00" stroke="#b00" stroke-width="0.5"/>
<text x="388.3" y="94.3" font-size="9" fill="#1c1c1c" textLength="5.5" lengthAdjust="spacingAndGlyphs">A</text>
<rect x="411.4" y="111.8" width="183.0" height="175.0" fill="none" stroke="#3a3a3a" stroke-width="1"/>
<line x1="406.9" y1="141.3" x2="411.4" y2="141.3" stroke="#3a3a3a" stroke-width="0.9"/>
<text x="396.7" y="144.4" font-size="8.8" fill="#1c1c1c" textLength="8.4" lengthAdjust="spacingAndGlyphs">60</text>
<line x1="406.9" y1="189.9" x2="411.4" y2="189.9" stroke="#3a3a3a" stroke-width="0.9"/>
<text x="396.7" y="193.0" font-size="8.8" fill="#1c1c1c" textLength="8.4" lengthAdjust="spacingAndGlyphs">40</text>
<line x1="406.9" y1="238.4" x2="411.4" y2="238.4" stroke="#3a3a3a" stroke-width="0.9"/>
<text x="396.7" y="241.5" font-size="8.8" fill="#1c1c1c" textLength="8.4" lengthAdjust="spacingAndGlyphs">20</text>
<line x1="406.9" y1="286.8" x2="411.4" y2="286.8" stroke="#3a3a3a" stroke-width="0.9"/>
<text x="400.9" y="289.90000000000003" font-size="8.8" fill="#1c1c1c" textLength="4.2" lengthAdjust="spacingAndGlyphs">0</text>
<line x1="409.2" y1="274.65000000000003" x2="411.4" y2="274.65000000000003" stroke="#3a3a3a" stroke-width="0.7"/>
<line x1="409.2" y1="262.5" x2="411.4" y2="262.5" stroke="#3a3a3a" stroke-width="0.7"/>
<line x1="409.2" y1="250.35000000000002" x2="411.4" y2="250.35000000000002" stroke="#3a3a3a" stroke-width="0.7"/>
<line x1="409.2" y1="226.05" x2="411.4" y2="226.05" stroke="#3a3a3a" stroke-width="0.7"/>
<line x1="409.2" y1="213.9" x2="411.4" y2="213.9" stroke="#3a3a3a" stroke-width="0.7"/>
<line x1="409.2" y1="201.75" x2="411.4" y2="201.75" stroke="#3a3a3a" stroke-width="0.7"/>
<line x1="409.2" y1="177.45" x2="411.4" y2="177.45" stroke="#3a3a3a" stroke-width="0.7"/>
<line x1="409.2" y1="165.3" x2="411.4" y2="165.3" stroke="#3a3a3a" stroke-width="0.7"/>
<line x1="409.2" y1="153.15" x2="411.4" y2="153.15" stroke="#3a3a3a" stroke-width="0.7"/>
<line x1="409.2" y1="128.85" x2="411.4" y2="128.85" stroke="#3a3a3a" stroke-width="0.7"/>
<line x1="409.2" y1="116.69999999999999" x2="411.4" y2="116.69999999999999" stroke="#3a3a3a" stroke-width="0.7"/>
<text transform="translate(384.1 210.6) rotate(-90)" font-size="8.6" fill="#1c1c1c" textLength="23" lengthAdjust="spacingAndGlyphs">Events</text>
<text x="443.6" y="301.0" font-size="7.8" fill="#1c1c1c" textLength="9.9" lengthAdjust="spacingAndGlyphs">-10</text>
<text x="453.8" y="297.6" font-size="4.8" fill="#1c1c1c">3</text>
<text x="467.7" y="301.0" font-size="7.8" fill="#1c1c1c" textLength="7.6" lengthAdjust="spacingAndGlyphs">10</text>
<text x="475.5" y="297.6" font-size="4.8" fill="#1c1c1c">3</text>
<text x="516.8" y="301.0" font-size="7.8" fill="#1c1c1c" textLength="7.6" lengthAdjust="spacingAndGlyphs">10</text>
<text x="524.6" y="297.6" font-size="4.8" fill="#1c1c1c">4</text>
<text x="557.0" y="301.0" font-size="7.8" fill="#1c1c1c" textLength="7.6" lengthAdjust="spacingAndGlyphs">10</text>
<text x="564.8" y="297.6" font-size="4.8" fill="#1c1c1c">5</text>
<text x="591.6" y="301.0" font-size="7.8" fill="#1c1c1c" textLength="7.6" lengthAdjust="spacingAndGlyphs">10</text>
<text x="599.4" y="297.6" font-size="4.8" fill="#1c1c1c">6</text>
<text x="503.3" y="314" font-size="8.6" fill="#1c1c1c" text-anchor="middle" textLength="63" lengthAdjust="spacingAndGlyphs">CD4_PE-TxRed_A</text>
<line x1="451.0" y1="286.8" x2="451.0" y2="290.8" stroke="#3a3a3a" stroke-width="0.9"/>
<line x1="469.5" y1="286.8" x2="469.5" y2="290.8" stroke="#3a3a3a" stroke-width="0.9"/>
<line x1="518.5" y1="286.8" x2="518.5" y2="290.8" stroke="#3a3a3a" stroke-width="0.9"/>
<line x1="558.5" y1="286.8" x2="558.5" y2="290.8" stroke="#3a3a3a" stroke-width="0.9"/>
<line x1="594.4" y1="286.8" x2="594.4" y2="290.8" stroke="#3a3a3a" stroke-width="0.9"/>
<path d="M484.3 286.8v2.3M492.9 286.8v2.3M499.0 286.8v2.3M503.7 286.8v2.3M507.6 286.8v2.3M510.9 286.8v2.3M513.8 286.8v2.3M516.3 286.8v2.3M530.5 286.8v2.3M537.6 286.8v2.3M542.6 286.8v2.3M546.5 286.8v2.3M549.6 286.8v2.3M552.3 286.8v2.3M554.6 286.8v2.3M556.7 286.8v2.3M569.3 286.8v2.3M575.6 286.8v2.3M580.1 286.8v2.3M583.6 286.8v2.3M586.4 286.8v2.3M588.8 286.8v2.3M590.9 286.8v2.3M592.8 286.8v2.3M414.4 286.8v2.3M418.6 286.8v2.3M422.8 286.8v2.3M427.0 286.8v2.3M431.2 286.8v2.3M435.4 286.8v2.3M439.6 286.8v2.3M443.8 286.8v2.3M448.5 286.8v2.3M449.6 286.8v2.3M450.8 286.8v2.3M451.9 286.8v2.3M453.1 286.8v2.3M454.2 286.8v2.3M455.4 286.8v2.3M456.6 286.8v2.3M457.7 286.8v2.3M458.9 286.8v2.3M460.0 286.8v2.3M461.1 286.8v2.3M462.3 286.8v2.3M463.4 286.8v2.3M464.6 286.8v2.3M465.8 286.8v2.3M466.9 286.8v2.3M468.1 286.8v2.3M469.2 286.8v2.3M470.4 286.8v2.3" stroke="#3a3a3a" stroke-width="0.6" fill="none"/>
<rect x="459" y="287.3" width="2.6" height="3" fill="#000"/>
<clipPath id="cpA2"><rect x="411" y="112" width="183" height="175"/></clipPath>
<text x="486.2" y="132.5" font-size="10" fill="#3030c8" textLength="119.5" lengthAdjust="spacingAndGlyphs" clip-path="url(#cpA2)">P_CD4_PE-TxRed_A: 33.11%</text>
<text x="428" y="172.3" font-size="10" fill="#b030e8" textLength="119.8" lengthAdjust="spacingAndGlyphs">N_CD4_PE-TxRed_A: 36.61%</text>
<text x="482" y="217.6" font-size="17.3" textLength="50" lengthAdjust="spacingAndGlyphs">SI= 57</text>
</g>
<g id="panelB">
<text x="759.4" y="54.8" font-size="75" font-weight="bold" textLength="45.4" lengthAdjust="spacingAndGlyphs">B</text>
<text x="874.5" y="68.3" font-size="29.0" font-weight="bold" textLength="190.2" lengthAdjust="spacingAndGlyphs">PE-TR Control</text>
<text x="872.5" y="340.2" font-size="29.0" font-weight="bold" textLength="186.8" lengthAdjust="spacingAndGlyphs">PE-TR (+light)</text>
<text x="875.5" y="609.3" font-size="29.0" font-weight="bold" textLength="143.6" lengthAdjust="spacingAndGlyphs">PE Control</text>
<rect x="842.3" y="80.8" width="6.7" height="6.7" fill="#f00" stroke="#b00000" stroke-width="0.5"/>
<text x="852.0" y="87.5" font-size="9" fill="#1c1c1c" textLength="5.4" lengthAdjust="spacingAndGlyphs">A</text>
<text x="859.9" y="276.0" font-size="7.7" fill="#1c1c1c" textLength="7.5" lengthAdjust="spacingAndGlyphs">10</text>
<text x="867.6" y="272.6" font-size="4.8" fill="#1c1c1c">0</text>
<text x="859.9" y="248.5" font-size="7.7" fill="#1c1c1c" textLength="7.5" lengthAdjust="spacingAndGlyphs">10</text>
<text x="867.6" y="245.1" font-size="4.8" fill="#1c1c1c">1</text>
<text x="859.9" y="221.0" font-size="7.7" fill="#1c1c1c" textLength="7.5" lengthAdjust="spacingAndGlyphs">10</text>
<text x="867.6" y="217.6" font-size="4.8" fill="#1c1c1c">2</text>
<text x="859.9" y="193.4" font-size="7.7" fill="#1c1c1c" textLength="7.5" lengthAdjust="spacingAndGlyphs">10</text>
<text x="867.6" y="190.0" font-size="4.8" fill="#1c1c1c">3</text>
<text x="859.9" y="165.9" font-size="7.7" fill="#1c1c1c" textLength="7.5" lengthAdjust="spacingAndGlyphs">10</text>
<text x="867.6" y="162.5" font-size="4.8" fill="#1c1c1c">4</text>
<text x="859.9" y="138.4" font-size="7.7" fill="#1c1c1c" textLength="7.5" lengthAdjust="spacingAndGlyphs">10</text>
<text x="867.6" y="135.0" font-size="4.8" fill="#1c1c1c">5</text>
<text x="859.9" y="110.9" font-size="7.7" fill="#1c1c1c" textLength="7.5" lengthAdjust="spacingAndGlyphs">10</text>
<text x="867.6" y="107.5" font-size="4.8" fill="#1c1c1c">6</text>
<text transform="translate(847.8 210.2) rotate(-90)" font-size="8.8" fill="#1c1c1c" textLength="40.2" lengthAdjust="spacingAndGlyphs">Intensity_A</text>
<text x="1317.3" y="299.6" font-size="8.8" fill="#1c1c1c" textLength="28.5" lengthAdjust="spacingAndGlyphs">Channel</text>
<rect x="874.2" y="92.8" width="10.7" height="10.7" fill="#8b8f92"/>
<path d="M879.55 99.15L884.05 98.15L879.55 97.15ZM879.06 98.64L882.02 100.62L880.04 97.66ZM878.55 98.15L879.55 102.65L880.55 98.15ZM879.06 97.66L877.08 100.62L880.04 98.64ZM879.55 97.15L875.05 98.15L879.55 99.15ZM880.04 97.66L877.08 95.68L879.06 98.64ZM880.55 98.15L879.55 93.65L878.55 98.15ZM880.04 98.64L882.02 95.68L879.06 97.66Z" fill="#fff"/>
<circle cx="879.55" cy="98.15" r="2.0" fill="#fff"/>
<text x="888.6" y="101.9" font-size="9.3" fill="#1c1c1c" textLength="25.2" lengthAdjust="spacingAndGlyphs">320nm</text>
<g fill="none">
<path stroke="#a8b0f7" stroke-width="5" d="M876.5 143v1M876.5 147v1M876.5 216v1M876.5 220v1M876.5 229v1M876.5 236v1M876.5 250v1M881.5 162v1M881.5 165v1M881.5 218v1M881.5 233v1M881.5 234v1M881.5 248v1M881.5 249v1M886.5 145v1M886.5 149v1M886.5 160v1M886.5 161v1M886.5 162v1M886.5 164v1M886.5 165v1M886.5 224v1M886.5 230v1M886.5 232v1M886.5 237v1M886.5 238v1M891.5 158v1M891.5 164v1M891.5 165v1M891.5 166v1M891.5 236v1M891.5 237v1M891.5 240v1M891.5 245v1M891.5 252v1M905.5 172v1M905.5 241v1M905.5 250v1M910.5 164v1M910.5 172v1M910.5 230v1M910.5 238v1M915.5 162v1M915.5 168v1M915.5 182v1M915.5 184v1M915.5 242v1M915.5 257v1M924.5 176v1M924.5 234v1M924.5 236v1M924.5 253v1M924.5 258v1M929.5 162v1M929.5 172v1M929.5 241v1M929.5 256v1M929.5 257v1M929.5 261v1M929.5 270v1M934.5 165v1M934.5 237v1M934.5 249v1M934.5 252v1M934.5 254v1M934.5 257v1M934.5 258v1M939.5 234v1M939.5 240v1M939.5 241v1M948.5 180v1M948.5 184v1M948.5 262v1M953.5 181v1M953.5 244v1M953.5 260v1M958.5 252v1M963.5 254v1M963.5 256v1M972.5 244v1M972.5 254v1M972.5 264v1M977.5 181v1M977.5 257v1M977.5 258v1M977.5 260v1M982.5 260v1M982.5 268v1M987.5 184v1M987.5 185v1M987.5 249v1M992.5 262v1M1001.5 182v1M1006.5 253v1M1011.5 186v1M1011.5 256v1M1011.5 260v1M1011.5 264v1M1011.5 269v1M1016.5 265v1M1016.5 272v1M1025.5 261v1M1025.5 264v1M1025.5 268v1M1025.5 272v1M1030.5 186v1M1030.5 260v1M1030.5 262v1M1030.5 266v1M1035.5 186v1M1035.5 188v1M1035.5 264v1M1035.5 266v1M1040.5 188v1M1040.5 252v1M1040.5 256v1"/>
<path stroke="#4657f8" stroke-width="5" d="M876.5 148v1M876.5 149v1M876.5 151v1M876.5 153v1M876.5 228v1M876.5 230v1M876.5 234v1M876.5 238v1M876.5 244v1M876.5 270v1M881.5 164v1M881.5 168v1M881.5 244v1M881.5 254v1M881.5 256v1M881.5 260v1M886.5 234v1M886.5 244v1M886.5 245v1M886.5 258v1M886.5 264v1M891.5 145v1M891.5 232v1M891.5 242v1M891.5 246v1M891.5 248v1M891.5 270v1M900.5 161v1M900.5 168v1M900.5 238v1M900.5 242v1M900.5 244v1M900.5 245v1M900.5 268v1M905.5 173v1M905.5 240v1M905.5 256v1M910.5 233v1M910.5 240v1M910.5 244v1M910.5 245v1M910.5 252v1M910.5 265v1M915.5 181v1M915.5 260v1M915.5 262v1M915.5 269v1M924.5 241v1M924.5 246v1M924.5 254v1M924.5 256v1M929.5 166v1M929.5 249v1M929.5 258v1M934.5 242v1M934.5 250v1M939.5 165v1M939.5 237v1M939.5 246v2M939.5 249v1M939.5 250v1M939.5 254v1M939.5 256v1M948.5 270v1M953.5 253v1M953.5 257v1M953.5 258v2M953.5 262v1M958.5 180v1M958.5 257v1M958.5 266v1M963.5 180v1M972.5 253v1M972.5 262v1M977.5 184v1M977.5 268v1M982.5 258v1M982.5 261v1M982.5 264v1M987.5 265v1M992.5 248v1M1001.5 186v1M1001.5 268v1M1006.5 250v1M1006.5 258v2M1006.5 261v1M1006.5 264v1M1011.5 249v1M1011.5 252v1M1016.5 253v1M1016.5 254v1M1016.5 270v1M1025.5 253v1M1025.5 266v1M1030.5 264v1M1030.5 269v1M1035.5 265v1M1035.5 270v1M1040.5 189v1"/>
<path stroke="#1b3bfc" stroke-width="5" d="M876.5 155v1M876.5 157v1M876.5 221v3M876.5 226v2M876.5 233v1M876.5 256v2M881.5 170v3M881.5 232v1M881.5 237v4M881.5 242v2M881.5 246v2M881.5 252v1M881.5 262v2M886.5 166v2M886.5 233v1M886.5 240v2M886.5 252v1M891.5 169v1M891.5 233v1M891.5 238v2M891.5 262v2M900.5 172v2M900.5 229v1M900.5 234v4M900.5 240v2M900.5 250v2M905.5 230v3M905.5 236v4M905.5 246v3M910.5 177v3M910.5 232v1M910.5 234v4M910.5 241v3M910.5 248v1M910.5 253v1M910.5 260v1M915.5 186v3M915.5 248v1M915.5 250v6M915.5 265v1M924.5 177v1M924.5 230v2M924.5 233v1M924.5 237v1M924.5 242v4M924.5 250v2M924.5 270v2M929.5 173v1M929.5 230v2M929.5 237v4M929.5 242v2M929.5 245v3M929.5 250v2M929.5 260v1M929.5 266v2M934.5 166v2M934.5 232v1M934.5 234v3M934.5 238v2M934.5 241v1M934.5 244v4M934.5 253v1M939.5 232v1M939.5 238v2M939.5 242v2M939.5 245v1M939.5 265v1M948.5 192v2M948.5 254v2M948.5 258v4M948.5 265v5M953.5 182v2M953.5 248v1M953.5 250v2M953.5 256v1M953.5 261v1M953.5 264v1M958.5 181v1M958.5 253v1M958.5 256v1M958.5 258v4M963.5 181v1M963.5 249v3M963.5 260v2M972.5 182v4M972.5 256v6M977.5 185v1M977.5 253v1M977.5 261v1M977.5 270v2M982.5 248v1M982.5 256v2M987.5 186v2M987.5 253v1M987.5 258v6M992.5 186v2M992.5 189v1M992.5 249v1M992.5 252v2M992.5 258v2M992.5 261v1M992.5 268v2M1001.5 188v1M1001.5 256v1M1001.5 258v2M1001.5 262v4M1006.5 188v2M1006.5 249v1M1006.5 254v4M1006.5 260v1M1011.5 189v1M1011.5 253v1M1011.5 258v2M1011.5 261v1M1011.5 265v3M1016.5 189v3M1016.5 249v1M1016.5 257v1M1016.5 261v4M1016.5 268v2M1025.5 189v1M1025.5 192v1M1025.5 257v1M1025.5 260v1M1025.5 262v2M1025.5 265v1M1030.5 189v4M1030.5 253v4M1030.5 261v1M1030.5 265v1M1030.5 268v1M1035.5 189v3M1035.5 256v5M1035.5 268v2M1040.5 190v3M1040.5 250v2M1040.5 253v1M1040.5 257v5M1040.5 266v4"/>
<path stroke="#164afe" stroke-width="5" d="M876.5 156v1M876.5 210v2M876.5 213v3M876.5 217v3M881.5 173v3M881.5 220v1M881.5 224v6M886.5 168v2M886.5 220v1M886.5 225v4M891.5 170v3M891.5 220v1M891.5 225v1M891.5 228v4M891.5 234v2M900.5 174v2M900.5 220v1M900.5 224v1M900.5 228v1M900.5 230v4M905.5 174v2M905.5 222v2M905.5 226v4M905.5 234v2M910.5 221v1M910.5 224v1M910.5 226v4M915.5 234v2M915.5 240v2M915.5 244v1M915.5 246v2M915.5 249v1M924.5 178v3M924.5 224v1M924.5 228v1M924.5 232v1M929.5 174v2M929.5 222v2M929.5 225v5M929.5 232v4M934.5 221v1M934.5 224v2M934.5 228v4M934.5 233v1M939.5 166v2M939.5 225v7M939.5 233v1M939.5 236v1M948.5 194v3M948.5 244v1M948.5 248v1M948.5 250v4M948.5 256v2M953.5 184v2M953.5 242v2M953.5 245v3M953.5 249v1M953.5 252v1M953.5 254v2M958.5 182v2M958.5 241v1M958.5 245v7M958.5 254v2M963.5 182v2M963.5 240v1M963.5 244v5M963.5 257v1M972.5 242v2M972.5 246v7M977.5 186v3M977.5 240v1M977.5 242v11M977.5 256v1M982.5 186v4M982.5 244v4M982.5 249v7M987.5 188v2M987.5 241v3M987.5 245v4M987.5 250v3M987.5 254v2M992.5 188v1M992.5 190v2M992.5 241v1M992.5 245v3M992.5 250v2M1001.5 189v1M1001.5 245v3M1001.5 249v4M1001.5 254v2M1001.5 257v1M1001.5 260v1M1006.5 190v3M1006.5 244v1M1006.5 252v1M1011.5 190v3M1011.5 246v3M1011.5 250v2M1011.5 257v1M1016.5 192v2M1016.5 248v1M1016.5 250v3M1016.5 258v2M1025.5 190v2M1025.5 193v1M1025.5 250v3M1025.5 254v3M1025.5 258v2M1030.5 250v3M1035.5 192v1M1035.5 250v6M1035.5 261v1M1040.5 193v3M1040.5 254v2M1040.5 264v1"/>
<path stroke="#0c6aff" stroke-width="5" d="M876.5 158v2M876.5 205v4M876.5 212v1M881.5 176v1M881.5 213v5M881.5 222v2M886.5 170v2M886.5 213v1M886.5 216v1M886.5 218v2M886.5 221v3M891.5 173v1M891.5 210v2M891.5 214v6M891.5 221v4M900.5 176v1M900.5 212v1M900.5 217v3M900.5 221v3M900.5 225v1M905.5 176v1M905.5 212v5M905.5 218v4M905.5 224v1M910.5 180v1M910.5 213v1M910.5 216v5M910.5 222v2M915.5 189v3M915.5 228v1M915.5 232v2M915.5 236v4M924.5 213v1M924.5 218v6M924.5 225v3M929.5 176v1M929.5 216v1M929.5 218v4M929.5 224v1M934.5 168v1M934.5 214v2M934.5 218v3M934.5 222v2M934.5 226v2M939.5 168v1M939.5 218v7M948.5 197v1M948.5 237v4M948.5 242v2M948.5 245v3M948.5 249v1M953.5 228v1M953.5 234v7M958.5 228v1M958.5 232v9M958.5 242v3M963.5 184v1M963.5 233v7M963.5 242v2M972.5 186v3M972.5 232v1M972.5 234v2M972.5 237v5M977.5 232v1M977.5 234v6M977.5 241v1M982.5 232v1M982.5 237v7M987.5 190v3M987.5 236v1M987.5 238v3M987.5 244v1M992.5 192v1M992.5 237v4M992.5 242v3M1001.5 190v3M1001.5 234v11M1001.5 248v1M1006.5 241v3M1006.5 245v3M1011.5 193v1M1011.5 245v1M1016.5 194v2M1016.5 246v2M1025.5 249v1M1030.5 193v3M1030.5 249v1M1035.5 193v1M1035.5 249v1M1040.5 196v1M1040.5 249v1"/>
<path stroke="#0096ff" stroke-width="5" d="M876.5 160v1M876.5 197v1M876.5 200v5M881.5 177v4M881.5 210v3M886.5 172v1M886.5 209v4M886.5 214v2M886.5 217v1M891.5 212v2M900.5 209v3M900.5 213v4M905.5 177v3M905.5 209v1M905.5 217v1M910.5 181v1M910.5 212v1M910.5 214v2M915.5 192v1M915.5 224v4M915.5 229v3M924.5 181v1M924.5 214v4M929.5 212v4M929.5 217v1M934.5 209v5M934.5 216v2M939.5 210v2M939.5 213v5M948.5 198v3M948.5 233v4M948.5 241v1M953.5 186v2M953.5 229v5M958.5 184v1M958.5 225v3M958.5 229v3M963.5 185v1M963.5 229v4M972.5 189v1M972.5 229v3M972.5 233v1M972.5 236v1M977.5 189v4M977.5 228v1M977.5 230v2M977.5 233v1M982.5 190v2M982.5 228v4M982.5 233v3M987.5 193v1M987.5 232v4M987.5 237v1M992.5 232v5M1001.5 193v1M1001.5 230v4M1006.5 193v1M1006.5 230v6M1006.5 237v4M1011.5 194v3M1011.5 222v6M1016.5 196v1M1016.5 221v4M1016.5 245v1M1025.5 194v3M1025.5 222v3M1025.5 248v1M1030.5 222v2M1030.5 248v1M1035.5 194v2M1035.5 222v3M1035.5 248v1M1040.5 221v3M1040.5 248v1"/>
<path stroke="#00bbf8" stroke-width="5" d="M876.5 161v3M876.5 198v2M881.5 181v1M881.5 209v1M886.5 173v1M886.5 208v1M891.5 209v1M900.5 177v1M900.5 206v2M905.5 208v1M905.5 210v2M910.5 182v2M910.5 209v3M915.5 222v2M924.5 209v4M929.5 177v1M929.5 210v2M934.5 208v1M939.5 169v1M939.5 212v1M948.5 201v1M953.5 188v2M953.5 225v3M958.5 185v3M958.5 224v1M963.5 226v3M972.5 190v2M972.5 225v1M972.5 228v1M977.5 226v2M977.5 229v1M982.5 192v1M987.5 194v2M987.5 229v3M992.5 193v3M992.5 228v1M992.5 230v2M1001.5 229v1M1006.5 194v2M1006.5 236v1M1011.5 221v1M1011.5 228v1M1011.5 242v3M1016.5 197v3M1016.5 225v1M1025.5 220v2M1025.5 225v1M1030.5 196v2M1030.5 220v2M1030.5 224v1M1035.5 196v1M1035.5 221v1M1040.5 197v3M1040.5 220v1M1040.5 224v1M1040.5 246v2"/>
<path stroke="#00e1f0" stroke-width="5" d="M876.5 164v2M876.5 193v4M881.5 208v1M886.5 174v2M886.5 205v3M891.5 174v3M891.5 205v1M891.5 208v1M900.5 178v3M900.5 205v1M900.5 208v1M905.5 180v1M905.5 205v3M915.5 193v1M924.5 182v2M929.5 178v2M929.5 206v4M934.5 169v3M934.5 206v2M939.5 204v1M939.5 206v2M939.5 209v1M948.5 230v3M953.5 221v4M958.5 220v1M958.5 222v2M963.5 186v2M963.5 224v2M972.5 226v2M977.5 225v1M982.5 193v3M982.5 226v2M987.5 225v4M992.5 196v1M992.5 226v2M992.5 229v1M1001.5 194v2M1001.5 228v1M1006.5 196v2M1006.5 228v2M1011.5 197v1M1011.5 220v1M1011.5 241v1M1016.5 200v1M1016.5 217v4M1016.5 226v3M1016.5 242v3M1025.5 218v2M1025.5 246v2M1030.5 216v1M1030.5 218v2M1030.5 225v1M1030.5 245v3M1035.5 197v1M1035.5 218v3M1035.5 225v1M1035.5 245v3M1040.5 200v1M1040.5 218v2M1040.5 225v1M1040.5 245v1"/>
<path stroke="#19f051" stroke-width="5" d="M876.5 166v2M876.5 186v3M876.5 190v2M881.5 184v1M881.5 204v1M886.5 178v2M886.5 200v2M900.5 181v1M905.5 182v3M905.5 200v1M915.5 197v1M915.5 216v1M924.5 185v1M924.5 202v2M929.5 180v1M934.5 172v1M934.5 197v3M939.5 194v2M939.5 197v1M939.5 200v1M953.5 192v1M953.5 217v1M963.5 189v1M963.5 216v2M977.5 196v1M977.5 217v3M982.5 218v2M982.5 221v3M987.5 221v1M1001.5 221v3M1006.5 218v3M1011.5 200v2M1011.5 216v1M1011.5 232v4M1016.5 201v3M1016.5 214v2M1016.5 240v1M1025.5 200v1M1025.5 209v5M1025.5 242v2M1030.5 200v1M1030.5 212v2M1035.5 200v1M1035.5 228v1M1040.5 202v2M1040.5 214v2M1040.5 242v2"/>
<path stroke="#42f120" stroke-width="5" d="M876.5 168v1M876.5 184v2M881.5 185v1M886.5 197v3M891.5 178v2M891.5 197v1M900.5 198v2M905.5 198v2M910.5 186v2M910.5 201v1M924.5 186v2M924.5 201v1M924.5 204v1M929.5 181v1M929.5 197v4M934.5 193v4M939.5 192v1M948.5 208v1M948.5 222v3M953.5 210v2M953.5 213v3M958.5 190v2M958.5 213v1M963.5 213v3M972.5 194v3M972.5 214v4M977.5 197v1M977.5 214v2M982.5 198v2M982.5 220v1M987.5 200v1M992.5 200v1M992.5 220v1M992.5 222v2M1001.5 198v3M1001.5 218v3M1006.5 200v1M1006.5 217v1M1006.5 221v1M1011.5 214v2M1016.5 212v2M1016.5 237v3M1025.5 201v1M1025.5 228v1M1025.5 241v1M1030.5 201v1M1030.5 208v4M1030.5 228v1M1030.5 242v2M1035.5 201v1M1035.5 210v3M1035.5 241v3M1040.5 212v2M1040.5 228v1M1040.5 241v1"/>
<path stroke="#83f40c" stroke-width="5" d="M876.5 169v1M881.5 186v4M881.5 200v4M886.5 180v1M886.5 192v1M886.5 196v1M891.5 180v1M891.5 198v2M900.5 182v2M900.5 196v2M905.5 185v1M910.5 200v1M910.5 202v2M915.5 198v3M915.5 213v3M924.5 198v3M929.5 192v1M929.5 194v2M934.5 190v3M939.5 172v1M939.5 190v2M939.5 193v1M948.5 206v2M948.5 221v1M953.5 193v3M953.5 212v1M958.5 192v1M958.5 204v2M958.5 209v4M963.5 190v3M972.5 212v1M977.5 216v1M982.5 217v1M987.5 201v1M987.5 213v1M987.5 216v4M992.5 217v1M1011.5 202v2M1011.5 212v2M1016.5 204v1M1016.5 206v2M1016.5 210v2M1016.5 230v2M1016.5 234v2M1025.5 208v1M1025.5 229v1M1030.5 202v6M1030.5 229v1M1030.5 240v2M1035.5 238v2M1040.5 204v1M1040.5 230v2M1040.5 240v1"/>
<path stroke="#f0f100" stroke-width="5" d="M876.5 170v2M876.5 173v1M886.5 182v2M886.5 193v1M891.5 181v1M891.5 192v1M900.5 186v2M900.5 189v4M905.5 188v1M910.5 189v1M910.5 198v2M915.5 209v1M924.5 189v1M924.5 193v1M924.5 196v1M929.5 184v1M934.5 180v2M934.5 184v4M948.5 209v3M953.5 196v1M953.5 202v3M953.5 206v2M953.5 209v1M958.5 197v1M963.5 209v3M972.5 198v2M972.5 204v1M972.5 210v2M977.5 201v1M977.5 206v2M977.5 209v1M977.5 212v1M982.5 200v1M982.5 210v3M982.5 214v2M987.5 209v1M992.5 213v1M1001.5 214v3M1006.5 202v2M1006.5 210v2M1006.5 216v1M1025.5 233v3M1030.5 230v2M1030.5 237v1M1035.5 204v1M1035.5 206v2M1035.5 233v1M1035.5 237v1M1040.5 206v3M1040.5 232v1M1040.5 234v3M1040.5 238v2"/>
<path stroke="#fe9f00" stroke-width="5" d="M876.5 172v1M876.5 177v1M881.5 190v2M881.5 193v1M886.5 184v1M886.5 189v1M900.5 185v1M915.5 202v2M915.5 208v1M924.5 194v2M929.5 186v2M929.5 189v1M934.5 176v1M934.5 178v2M939.5 178v2M948.5 213v3M953.5 200v1M958.5 196v1M958.5 202v2M963.5 193v3M963.5 201v1M972.5 206v2M992.5 204v1M992.5 206v2M1001.5 208v1M1006.5 206v2M1011.5 205v3M1011.5 209v1M1025.5 232v1M1025.5 236v1M1030.5 232v2M1030.5 236v1M1035.5 234v2"/>
<path stroke="#ff7500" stroke-width="5" d="M876.5 174v2M881.5 194v2M886.5 185v3M891.5 182v2M891.5 185v1M900.5 188v1M905.5 190v2M910.5 192v1M910.5 194v3M915.5 204v1M924.5 190v2M939.5 176v1M948.5 212v1M953.5 197v1M953.5 201v1M958.5 194v2M958.5 198v2M963.5 196v5M982.5 202v3M982.5 206v3M987.5 205v3M992.5 209v1M992.5 212v1M1001.5 204v1M1001.5 206v2M1001.5 210v2M1006.5 204v1M1035.5 236v1"/>
<path stroke="#fccc00" stroke-width="5" d="M876.5 176v1M881.5 192v1M881.5 196v4M886.5 188v1M891.5 186v6M900.5 193v1M905.5 186v2M905.5 189v1M910.5 190v2M915.5 201v1M915.5 206v2M915.5 210v2M924.5 192v1M924.5 197v1M929.5 185v1M929.5 188v1M929.5 190v2M934.5 173v3M934.5 182v2M939.5 173v3M939.5 180v2M939.5 184v1M939.5 186v2M948.5 216v1M948.5 218v2M953.5 205v1M958.5 193v1M958.5 200v1M963.5 204v4M972.5 201v3M972.5 205v1M972.5 208v1M977.5 202v4M977.5 208v1M982.5 201v1M982.5 209v1M982.5 213v1M987.5 202v3M987.5 208v1M992.5 202v2M992.5 210v2M1001.5 202v2M1001.5 209v1M1001.5 212v2M1006.5 209v1M1006.5 212v1M1011.5 208v1M1025.5 237v3M1030.5 234v2M1030.5 238v2M1035.5 230v3M1040.5 237v1"/>
<path stroke="#bef400" stroke-width="5" d="M876.5 178v6M886.5 181v1M886.5 190v2M886.5 194v2M891.5 193v4M900.5 184v1M900.5 194v2M905.5 192v6M910.5 188v1M910.5 197v1M915.5 212v1M924.5 188v1M929.5 182v2M929.5 193v1M929.5 196v1M934.5 188v2M939.5 182v2M939.5 185v1M939.5 188v2M948.5 217v1M948.5 220v1M953.5 208v1M958.5 201v1M958.5 206v3M963.5 208v1M963.5 212v1M972.5 197v1M972.5 209v1M972.5 213v1M977.5 198v3M977.5 210v2M977.5 213v1M982.5 216v1M987.5 210v3M987.5 214v2M992.5 201v1M992.5 214v3M992.5 218v2M1001.5 201v1M1001.5 217v1M1006.5 201v1M1006.5 213v3M1011.5 204v1M1011.5 210v2M1016.5 205v1M1016.5 208v2M1016.5 232v2M1016.5 236v1M1025.5 202v6M1025.5 230v2M1025.5 240v1M1035.5 202v2M1035.5 205v1M1035.5 208v2M1035.5 229v1M1035.5 240v1M1040.5 205v1M1040.5 209v3M1040.5 229v1M1040.5 233v1"/>
<path stroke="#00f096" stroke-width="5" d="M876.5 189v1M876.5 192v1M881.5 182v2M881.5 205v1M886.5 177v1M886.5 202v3M891.5 200v4M900.5 200v2M905.5 201v3M910.5 204v4M915.5 217v3M924.5 184v1M924.5 205v1M929.5 201v1M929.5 204v2M934.5 200v4M939.5 196v1M939.5 198v2M948.5 204v2M948.5 225v4M953.5 190v2M953.5 216v1M953.5 218v2M958.5 214v3M958.5 218v2M963.5 218v4M972.5 192v2M972.5 218v2M972.5 221v3M977.5 220v2M982.5 197v1M982.5 224v2M987.5 197v3M987.5 220v1M992.5 198v2M992.5 221v1M1001.5 197v1M1006.5 198v2M1006.5 222v2M1006.5 226v2M1011.5 198v2M1011.5 217v1M1011.5 236v5M1016.5 229v1M1016.5 241v1M1025.5 198v2M1025.5 216v1M1030.5 198v2M1030.5 226v2M1030.5 244v1M1035.5 213v3M1035.5 226v2M1040.5 201v1M1040.5 226v2M1040.5 244v1"/>
<path stroke="#00e8c3" stroke-width="5" d="M881.5 206v2M886.5 176v1M891.5 177v1M891.5 204v1M891.5 206v2M900.5 202v3M905.5 181v1M905.5 204v1M910.5 184v2M910.5 208v1M915.5 194v3M915.5 220v2M924.5 206v3M929.5 202v2M934.5 204v2M939.5 170v2M939.5 201v3M939.5 205v1M939.5 208v1M948.5 202v2M948.5 229v1M953.5 220v1M958.5 188v2M958.5 217v1M958.5 221v1M963.5 188v1M963.5 222v2M972.5 220v1M972.5 224v1M977.5 193v3M977.5 222v3M982.5 196v1M987.5 196v1M987.5 222v3M992.5 197v1M992.5 224v2M1001.5 196v1M1001.5 224v4M1006.5 224v2M1011.5 218v2M1011.5 229v3M1016.5 216v1M1025.5 197v1M1025.5 214v2M1025.5 217v1M1025.5 226v2M1025.5 244v2M1030.5 214v2M1030.5 217v1M1035.5 198v2M1035.5 216v2M1035.5 244v1M1040.5 216v2"/>
<path stroke="#ff4c00" stroke-width="5" d="M891.5 184v1M910.5 193v1M915.5 205v1M934.5 177v1M939.5 177v1M953.5 198v2M963.5 202v2M972.5 200v1M992.5 205v1M992.5 208v1M1006.5 205v1M1006.5 208v1"/>
<path stroke="#a8b0f7" stroke-width="4" d="M896 160v1M896 162v1M896 164v1M896 237v1M896 249v1M920 176v1M920 177v1M920 180v1M944 174v1M944 230v1M944 244v1M944 246v1M944 262v1M968 257v1M968 265v1M997 180v1M1021 258v1M1021 260v1M1021 261v1"/>
<path stroke="#4657f8" stroke-width="4" d="M896 170v1M896 238v2M896 242v1M896 245v1M896 254v1M896 256v1M920 168v1M920 174v1M920 260v1M920 262v1M920 264v1M920 272v1M944 234v1M944 248v1M944 257v1M944 258v1M944 261v1M944 266v1M968 180v1M997 186v1M997 256v1M997 264v1M997 265v1M1021 262v1M1021 269v1"/>
<path stroke="#1b3bfc" stroke-width="4" d="M896 172v1M896 230v2M896 233v1M896 236v1M896 240v1M896 252v1M920 184v2M920 249v1M920 252v1M920 254v3M920 258v2M920 261v1M944 176v1M944 232v1M944 237v7M944 250v2M944 253v1M968 181v1M968 250v2M968 253v4M968 260v2M968 264v1M997 188v2M997 250v3M997 254v2M997 258v6M997 268v1M1021 189v4M1021 252v1M1021 256v2M1021 265v4"/>
<path stroke="#164afe" stroke-width="4" d="M896 173v1M896 222v8M920 186v2M920 238v2M920 241v1M920 245v4M944 177v1M944 224v1M944 226v4M944 233v1M968 182v3M968 245v4M968 252v1M997 190v2M997 241v1M997 245v1M997 248v2M997 253v1M997 257v1M1021 248v2M1021 253v3"/>
<path stroke="#0c6aff" stroke-width="4" d="M896 174v2M896 213v1M896 217v5M920 188v1M920 228v2M920 232v6M920 240v1M920 242v3M944 214v2M944 217v1M944 220v4M944 225v1M968 185v1M968 230v2M968 236v1M968 238v3M968 242v3M997 192v2M997 238v3M997 242v3M1021 193v1M1021 246v2"/>
<path stroke="#00bbf8" stroke-width="4" d="M896 176v1M896 206v6M920 224v1M944 210v2M968 228v2M997 228v2M1021 221v1M1021 225v1M1021 245v1"/>
<path stroke="#00e1f0" stroke-width="4" d="M896 177v1M920 190v3M920 221v3M944 180v1M944 208v2M968 188v2M968 222v2M968 225v3M997 226v2M1021 198v2M1021 217v1M1021 220v1M1021 244v1"/>
<path stroke="#00f096" stroke-width="4" d="M896 178v2M896 202v3M920 216v2M944 181v1M944 202v2M968 190v2M968 216v1M997 198v2M997 222v2M1021 216v1M1021 228v1"/>
<path stroke="#19f051" stroke-width="4" d="M896 180v1M896 200v2M920 194v2M920 213v3M944 204v1M968 192v1M968 217v1M997 200v1M1021 200v1M1021 212v1M1021 214v2M1021 241v3"/>
<path stroke="#83f40c" stroke-width="4" d="M896 181v1M896 197v1M920 209v1M944 198v2M968 194v2M968 205v5M968 212v1M997 216v1M997 218v2M1021 202v2M1021 208v1M1021 230v2"/>
<path stroke="#f0f100" stroke-width="4" d="M896 182v2M896 194v2M944 184v1M968 196v1M997 204v1M1021 206v2M1021 236v1"/>
<path stroke="#ff7500" stroke-width="4" d="M896 184v2M944 185v1M944 189v1M997 205v1M997 208v4"/>
<path stroke="#ff4c00" stroke-width="4" d="M896 186v2M944 186v3M944 190v2M997 206v2"/>
<path stroke="#fe9f00" stroke-width="4" d="M896 188v1M896 190v2M920 200v1M944 193v1M968 197v3"/>
<path stroke="#fccc00" stroke-width="4" d="M896 189v1M896 192v1M920 201v5M944 192v1M944 194v2M968 200v2M997 212v1M997 214v2M1021 205v1M1021 232v4M1021 237v1"/>
<path stroke="#bef400" stroke-width="4" d="M896 193v1M896 196v1M920 197v3M920 206v3M944 196v2M968 202v3M997 202v2M997 213v1M997 217v1M1021 204v1M1021 238v2"/>
<path stroke="#42f120" stroke-width="4" d="M896 198v2M920 196v1M920 210v3M944 182v2M944 200v2M968 193v1M968 210v2M968 213v3M997 201v1M997 220v2M1021 201v1M1021 209v3M1021 213v1M1021 229v1M1021 240v1"/>
<path stroke="#00e8c3" stroke-width="4" d="M896 205v1M920 193v1M920 218v3M944 205v3M968 218v4M968 224v1M997 196v2M997 224v2M1021 197v1M1021 218v2M1021 226v2"/>
<path stroke="#0096ff" stroke-width="4" d="M896 212v1M896 214v3M920 189v1M920 225v3M920 230v2M944 178v2M944 212v2M944 216v1M944 218v2M968 186v2M968 232v4M968 237v1M997 194v2M997 230v8M1021 194v3M1021 222v3"/>
<path stroke="#ff2300" stroke-width="5" d="M982.5 205v1M1001.5 205v1"/>
</g>
<path d="M874.8 272.7H1042.1" stroke="#555" stroke-width="1.1" fill="none"/>
<path d="M874.8 272.5H878.6" stroke="#58c040" stroke-width="1.5" fill="none"/>
<path d="M879.6 272.5H1042.1" stroke="#c8281e" stroke-width="1.5" fill="none"/>
<path d="M874.5 273.0V107.5H1042.5V273.0" fill="none" stroke="#6a6a6a" stroke-width="1.25"/>
<path d="M876.7 272.4v4.2M920.0 272.4v4.2M968.1 272.4v4.2M1016.2 272.4v4.2M1040.2 272.4v4.2" stroke="#333" stroke-width="1.1" fill="none"/>
<path d="M876.7 272.4v1.6M881.5 272.4v1.6M886.3 272.4v1.6M891.1 272.4v1.6M895.9 272.4v1.6M900.7 272.4v1.6M905.6 272.4v1.6M910.4 272.4v1.6M915.2 272.4v1.6M920.0 272.4v1.6M924.8 272.4v1.6M929.6 272.4v1.6M934.4 272.4v1.6M939.2 272.4v1.6M944.0 272.4v1.6M948.8 272.4v1.6M953.6 272.4v1.6M958.4 272.4v1.6M963.3 272.4v1.6M968.1 272.4v1.6M972.9 272.4v1.6M977.7 272.4v1.6M982.5 272.4v1.6M987.3 272.4v1.6M992.1 272.4v1.6M996.9 272.4v1.6M1001.7 272.4v1.6M1006.5 272.4v1.6M1011.3 272.4v1.6M1016.2 272.4v1.6M1021.0 272.4v1.6M1025.8 272.4v1.6M1030.6 272.4v1.6M1035.4 272.4v1.6M1040.2 272.4v1.6" stroke="#333" stroke-width="0.6" fill="none"/>
<text x="874.6" y="285.3" font-size="8.6" fill="#1c1c1c" textLength="4.2" lengthAdjust="spacingAndGlyphs">1</text>
<text x="915.8" y="285.3" font-size="8.6" fill="#1c1c1c" textLength="8.4" lengthAdjust="spacingAndGlyphs">10</text>
<text x="963.9" y="285.3" font-size="8.6" fill="#1c1c1c" textLength="8.4" lengthAdjust="spacingAndGlyphs">20</text>
<text x="1012.0" y="285.3" font-size="8.6" fill="#1c1c1c" textLength="8.4" lengthAdjust="spacingAndGlyphs">30</text>
<text x="1036.0" y="285.3" font-size="8.6" fill="#1c1c1c" textLength="8.4" lengthAdjust="spacingAndGlyphs">35</text>
<rect x="1050.2" y="92.8" width="10.7" height="10.7" fill="#6c40c4"/>
<path d="M1055.55 99.15L1060.05 98.15L1055.55 97.15ZM1055.06 98.64L1058.02 100.62L1056.04 97.66ZM1054.55 98.15L1055.55 102.65L1056.55 98.15ZM1055.06 97.66L1053.08 100.62L1056.04 98.64ZM1055.55 97.15L1051.05 98.15L1055.55 99.15ZM1056.04 97.66L1053.08 95.68L1055.06 98.64ZM1056.55 98.15L1055.55 93.65L1054.55 98.15ZM1056.04 98.64L1058.02 95.68L1055.06 97.66Z" fill="#fff"/>
<circle cx="1055.55" cy="98.15" r="2.0" fill="#fff"/>
<text x="1064.6" y="101.9" font-size="9.3" fill="#1c1c1c" textLength="25.2" lengthAdjust="spacingAndGlyphs">355nm</text>
<g fill="none">
<path stroke="#a8b0f7" stroke-width="5" d="M1052.5 145v1M1052.5 165v1M1052.5 166v1M1052.5 170v1M1052.5 177v1M1052.5 226v1M1052.5 240v1M1052.5 257v1M1057.5 158v1M1057.5 161v1M1057.5 165v1M1057.5 176v1M1057.5 177v1M1057.5 220v1M1057.5 233v1M1057.5 238v1M1057.5 252v1M1057.5 261v1M1062.5 165v1M1062.5 169v1M1062.5 172v1M1062.5 228v1M1062.5 236v1M1076.5 152v1M1076.5 155v1M1076.5 157v1M1076.5 160v1M1076.5 168v1M1076.5 169v1M1076.5 236v1M1076.5 245v1M1081.5 155v1M1081.5 160v1M1081.5 165v1M1081.5 166v1M1081.5 169v1M1081.5 221v1M1081.5 229v1M1081.5 254v1M1086.5 166v1M1086.5 170v1M1086.5 173v1M1086.5 230v1M1086.5 242v1M1086.5 254v1M1091.5 160v1M1091.5 172v1M1091.5 178v1M1091.5 184v1M1091.5 186v1M1091.5 188v1M1091.5 257v1M1091.5 269v1M1100.5 166v1M1100.5 172v1M1100.5 173v1M1100.5 234v1M1100.5 238v1M1100.5 268v1M1105.5 164v1M1105.5 165v1M1105.5 217v1M1105.5 233v1M1105.5 237v1M1105.5 250v1M1110.5 230v1M1110.5 233v1M1110.5 252v1M1115.5 237v1M1115.5 241v1M1115.5 248v1M1124.5 188v1M1124.5 189v1M1124.5 192v1M1124.5 254v1M1124.5 261v1M1124.5 262v1M1129.5 174v1M1134.5 172v1M1134.5 246v1M1134.5 254v1M1134.5 261v1M1139.5 173v1M1139.5 262v1M1148.5 234v1M1148.5 257v1M1148.5 266v1M1148.5 268v1M1153.5 176v1M1153.5 177v1M1153.5 180v1M1153.5 270v1M1158.5 177v1M1158.5 185v1M1158.5 262v1M1158.5 270v1M1163.5 185v1M1163.5 270v1M1172.5 184v1M1177.5 186v1M1177.5 253v1M1177.5 256v1M1177.5 266v1M1182.5 256v1M1182.5 257v1M1187.5 189v1M1187.5 265v1M1196.5 190v1M1196.5 266v1M1196.5 269v1M1201.5 190v1M1201.5 192v1M1206.5 190v1M1206.5 192v1M1206.5 269v1M1211.5 269v1"/>
<path stroke="#4657f8" stroke-width="5" d="M1052.5 160v1M1052.5 230v1M1052.5 234v1M1052.5 236v1M1052.5 238v1M1052.5 244v1M1052.5 258v1M1057.5 152v1M1057.5 228v1M1057.5 232v1M1057.5 237v1M1057.5 249v1M1062.5 173v1M1062.5 229v1M1062.5 232v1M1062.5 233v1M1062.5 238v1M1062.5 240v1M1062.5 242v1M1062.5 248v1M1067.5 160v1M1067.5 168v1M1067.5 226v1M1067.5 233v1M1067.5 238v1M1067.5 240v1M1076.5 226v1M1076.5 232v1M1081.5 228v1M1081.5 234v1M1081.5 242v1M1081.5 245v1M1081.5 248v1M1081.5 252v1M1086.5 226v2M1086.5 228v1M1086.5 233v1M1086.5 234v1M1086.5 237v1M1086.5 245v1M1086.5 258v1M1091.5 260v1M1091.5 264v1M1100.5 244v1M1100.5 245v1M1100.5 248v1M1100.5 249v1M1100.5 250v1M1100.5 252v1M1100.5 254v1M1105.5 160v1M1105.5 236v1M1105.5 242v1M1105.5 254v1M1105.5 258v1M1110.5 228v1M1110.5 245v1M1110.5 256v1M1115.5 244v1M1115.5 246v1M1115.5 249v1M1115.5 253v1M1115.5 262v1M1115.5 264v1M1115.5 265v1M1124.5 186v1M1124.5 269v1M1129.5 262v1M1134.5 264v1M1134.5 265v1M1134.5 268v1M1139.5 269v1M1139.5 270v1M1148.5 265v1M1148.5 269v1M1163.5 184v1M1163.5 268v1M1172.5 180v1M1172.5 272v1M1177.5 270v2M1182.5 186v1M1187.5 190v1M1187.5 268v1M1187.5 270v1M1201.5 189v1M1206.5 193v1M1211.5 270v2"/>
<path stroke="#1b3bfc" stroke-width="5" d="M1052.5 178v3M1052.5 222v3M1052.5 228v1M1052.5 246v2M1057.5 178v2M1057.5 221v1M1057.5 225v1M1057.5 244v1M1062.5 178v3M1062.5 222v2M1062.5 225v1M1067.5 170v2M1067.5 220v6M1067.5 232v1M1067.5 249v1M1076.5 170v2M1076.5 220v2M1076.5 224v2M1076.5 229v1M1076.5 238v2M1081.5 222v3M1081.5 226v2M1081.5 233v1M1086.5 176v1M1086.5 225v1M1086.5 240v1M1091.5 192v1M1091.5 249v1M1091.5 256v1M1091.5 261v3M1100.5 174v2M1100.5 229v1M1100.5 233v1M1100.5 237v1M1100.5 240v2M1100.5 256v2M1100.5 270v2M1105.5 166v2M1105.5 232v1M1105.5 238v2M1105.5 244v1M1105.5 249v1M1105.5 253v1M1110.5 161v1M1110.5 232v1M1110.5 234v2M1110.5 238v4M1110.5 248v2M1110.5 262v2M1115.5 161v1M1115.5 233v4M1115.5 238v3M1115.5 250v2M1115.5 257v3M1124.5 193v1M1124.5 258v3M1124.5 264v2M1124.5 268v1M1129.5 176v1M1129.5 254v4M1129.5 270v2M1134.5 176v1M1134.5 253v1M1134.5 257v4M1134.5 262v2M1134.5 270v2M1139.5 176v1M1139.5 254v2M1139.5 257v1M1139.5 260v2M1139.5 264v1M1139.5 266v2M1148.5 182v2M1148.5 256v1M1148.5 258v2M1153.5 185v1M1153.5 262v3M1153.5 266v3M1153.5 272v1M1158.5 186v3M1158.5 268v2M1163.5 186v3M1163.5 261v1M1163.5 265v3M1163.5 269v1M1172.5 186v4M1172.5 261v1M1172.5 264v1M1172.5 269v3M1177.5 189v4M1177.5 265v1M1177.5 269v1M1182.5 189v5M1182.5 266v3M1182.5 270v3M1187.5 192v2M1187.5 262v2M1187.5 266v2M1196.5 193v4M1196.5 265v1M1196.5 268v1M1196.5 270v2M1201.5 193v4M1201.5 264v1M1201.5 269v3M1206.5 194v2M1206.5 264v5M1211.5 192v4M1211.5 266v3"/>
<path stroke="#0c6aff" stroke-width="5" d="M1052.5 181v4M1052.5 213v7M1057.5 182v3M1057.5 216v2M1062.5 214v4M1067.5 173v1M1067.5 212v4M1076.5 174v2M1076.5 212v4M1076.5 217v1M1081.5 174v2M1081.5 212v5M1086.5 178v2M1086.5 210v7M1091.5 194v2M1091.5 233v11M1091.5 245v1M1100.5 177v1M1100.5 210v3M1100.5 214v7M1105.5 214v2M1105.5 218v2M1105.5 221v1M1105.5 225v1M1110.5 162v2M1110.5 217v5M1115.5 220v4M1115.5 226v2M1124.5 196v2M1124.5 241v7M1129.5 177v1M1129.5 233v1M1129.5 236v1M1129.5 240v1M1134.5 177v1M1134.5 230v2M1134.5 233v1M1134.5 237v3M1134.5 241v3M1139.5 178v2M1139.5 233v1M1139.5 236v1M1139.5 238v8M1139.5 248v1M1148.5 237v7M1148.5 245v3M1153.5 188v1M1153.5 252v4M1158.5 190v2M1158.5 250v10M1163.5 192v1M1163.5 252v4M1163.5 257v1M1172.5 192v2M1172.5 249v1M1172.5 252v5M1172.5 258v2M1177.5 193v3M1177.5 250v2M1177.5 257v1M1177.5 261v1M1182.5 252v4M1182.5 260v1M1187.5 197v1M1187.5 252v1M1187.5 254v4M1196.5 200v1M1196.5 256v5M1196.5 262v2M1201.5 198v6M1201.5 256v2M1201.5 260v2M1206.5 200v2M1206.5 254v6M1206.5 261v1M1211.5 201v1M1211.5 252v1M1211.5 254v6"/>
<path stroke="#00bbf8" stroke-width="5" d="M1052.5 185v1M1052.5 210v3M1057.5 210v2M1062.5 184v2M1067.5 176v1M1067.5 205v1M1081.5 208v1M1100.5 180v1M1100.5 205v1M1100.5 208v1M1105.5 170v2M1105.5 208v2M1110.5 164v1M1110.5 205v3M1110.5 210v2M1115.5 164v1M1115.5 208v1M1115.5 212v4M1124.5 233v1M1124.5 236v1M1129.5 226v3M1134.5 224v4M1139.5 180v1M1139.5 225v3M1139.5 229v1M1148.5 225v1M1148.5 230v3M1153.5 241v3M1153.5 246v2M1158.5 192v2M1158.5 241v7M1163.5 193v3M1163.5 244v5M1172.5 196v1M1177.5 198v2M1177.5 245v1M1177.5 248v1M1182.5 200v1M1182.5 248v1M1182.5 250v2M1187.5 201v1M1187.5 244v2M1187.5 249v1M1196.5 202v2M1196.5 246v3M1196.5 250v2M1206.5 206v2M1206.5 252v1M1211.5 250v2"/>
<path stroke="#00e8c3" stroke-width="5" d="M1052.5 186v3M1052.5 209v1M1057.5 186v3M1057.5 208v1M1062.5 209v1M1067.5 177v1M1067.5 202v3M1076.5 177v1M1076.5 201v1M1076.5 204v1M1081.5 177v1M1081.5 205v1M1086.5 181v3M1086.5 205v1M1091.5 225v1M1100.5 204v1M1105.5 172v1M1105.5 202v2M1105.5 206v2M1110.5 198v2M1110.5 201v3M1115.5 165v1M1115.5 202v2M1115.5 205v3M1129.5 213v1M1129.5 218v2M1134.5 180v1M1134.5 216v4M1134.5 221v1M1139.5 216v1M1139.5 222v2M1148.5 186v2M1148.5 224v1M1153.5 190v2M1153.5 229v1M1153.5 233v3M1153.5 237v1M1158.5 237v3M1163.5 196v1M1163.5 237v4M1163.5 242v2M1172.5 198v2M1172.5 237v3M1172.5 241v3M1177.5 242v3M1182.5 201v3M1182.5 237v1M1182.5 241v1M1187.5 204v1M1196.5 205v1M1196.5 242v3M1201.5 206v3M1201.5 240v1M1201.5 242v4M1206.5 209v1M1206.5 241v1M1206.5 245v1M1211.5 208v1M1211.5 245v1"/>
<path stroke="#42f120" stroke-width="5" d="M1052.5 189v1M1052.5 205v1M1057.5 190v2M1062.5 190v2M1062.5 205v1M1067.5 198v3M1076.5 180v1M1076.5 196v4M1081.5 180v1M1081.5 197v1M1086.5 184v1M1086.5 198v2M1091.5 200v1M1091.5 217v4M1100.5 182v2M1105.5 173v1M1105.5 194v3M1110.5 190v2M1110.5 193v1M1110.5 196v1M1115.5 193v3M1124.5 216v1M1129.5 181v1M1129.5 202v2M1129.5 206v3M1129.5 210v2M1134.5 204v4M1139.5 206v4M1148.5 188v1M1148.5 210v2M1153.5 193v1M1153.5 221v3M1158.5 229v1M1163.5 198v2M1163.5 225v4M1172.5 200v2M1172.5 228v2M1172.5 233v1M1177.5 228v1M1177.5 230v3M1177.5 234v2M1182.5 206v2M1182.5 228v2M1187.5 208v1M1187.5 229v1M1187.5 232v2M1196.5 212v1M1196.5 232v4M1201.5 210v2M1206.5 213v1M1206.5 234v4M1211.5 210v2M1211.5 233v3M1211.5 237v3"/>
<path stroke="#83f40c" stroke-width="5" d="M1052.5 190v2M1057.5 192v1M1057.5 202v4M1062.5 204v1M1067.5 180v1M1067.5 196v2M1076.5 181v1M1086.5 197v1M1091.5 213v1M1091.5 216v1M1100.5 197v3M1105.5 189v1M1105.5 192v2M1110.5 184v1M1110.5 189v1M1110.5 192v1M1115.5 168v1M1115.5 188v5M1124.5 204v1M1124.5 212v1M1124.5 214v2M1124.5 217v3M1129.5 198v3M1129.5 204v2M1134.5 182v2M1134.5 198v2M1139.5 201v1M1139.5 204v1M1148.5 204v6M1153.5 213v1M1153.5 216v4M1158.5 197v1M1158.5 214v4M1158.5 220v1M1158.5 222v3M1163.5 222v2M1172.5 222v6M1172.5 230v2M1177.5 204v2M1177.5 225v1M1182.5 205v1M1182.5 208v1M1182.5 225v1M1182.5 230v3M1187.5 230v2M1196.5 210v2M1201.5 212v1M1201.5 229v3M1201.5 233v1M1206.5 214v2M1206.5 229v1M1206.5 232v2M1211.5 212v1M1211.5 230v3M1211.5 236v1"/>
<path stroke="#bef400" stroke-width="5" d="M1052.5 192v1M1052.5 202v3M1062.5 202v2M1067.5 181v1M1076.5 193v1M1081.5 181v1M1081.5 196v1M1086.5 185v1M1091.5 201v3M1091.5 214v2M1100.5 184v1M1100.5 193v4M1105.5 174v2M1110.5 166v2M1110.5 181v1M1110.5 185v1M1110.5 188v1M1124.5 205v1M1124.5 209v3M1124.5 213v1M1129.5 193v1M1129.5 201v1M1134.5 202v2M1139.5 182v2M1139.5 200v1M1139.5 202v2M1139.5 205v1M1148.5 189v1M1148.5 197v3M1153.5 205v1M1153.5 208v1M1153.5 210v2M1153.5 214v2M1158.5 198v2M1158.5 218v2M1158.5 221v1M1163.5 200v1M1163.5 217v1M1163.5 220v2M1163.5 224v1M1172.5 202v2M1177.5 206v2M1177.5 226v2M1182.5 221v1M1182.5 224v1M1182.5 226v2M1187.5 209v1M1187.5 221v1M1187.5 225v4M1196.5 228v1M1196.5 230v2M1201.5 213v4M1201.5 228v1M1201.5 232v1M1206.5 216v2M1206.5 230v2"/>
<path stroke="#fe9f00" stroke-width="5" d="M1052.5 193v1M1052.5 196v1M1052.5 198v2M1057.5 194v3M1057.5 198v2M1062.5 201v1M1067.5 184v1M1067.5 186v2M1076.5 184v1M1076.5 186v3M1076.5 190v2M1081.5 189v1M1086.5 188v2M1086.5 193v1M1091.5 204v1M1091.5 209v1M1100.5 186v3M1100.5 190v2M1105.5 182v3M1110.5 170v3M1110.5 176v1M1110.5 178v2M1115.5 169v1M1115.5 176v6M1129.5 184v1M1134.5 189v1M1134.5 192v1M1134.5 197v1M1139.5 188v1M1139.5 193v1M1148.5 196v1M1153.5 197v1M1153.5 201v1M1153.5 204v1M1158.5 202v2M1163.5 214v2M1172.5 210v3M1177.5 210v3M1177.5 214v3M1177.5 218v3M1187.5 216v2M1201.5 218v3M1201.5 224v1M1201.5 226v2M1206.5 218v3M1206.5 222v2M1211.5 220v1"/>
<path stroke="#fccc00" stroke-width="5" d="M1052.5 194v2M1057.5 200v1M1067.5 193v1M1076.5 182v2M1076.5 192v1M1081.5 182v3M1081.5 193v3M1086.5 186v2M1086.5 194v3M1091.5 205v1M1091.5 208v1M1091.5 212v1M1100.5 185v1M1100.5 192v1M1105.5 185v1M1105.5 188v1M1110.5 168v1M1110.5 173v3M1110.5 177v1M1110.5 180v1M1110.5 182v2M1115.5 182v2M1115.5 185v1M1124.5 206v2M1129.5 189v3M1129.5 197v1M1134.5 190v2M1134.5 193v1M1134.5 196v1M1134.5 200v1M1139.5 194v6M1148.5 193v1M1153.5 196v1M1153.5 202v2M1158.5 200v1M1158.5 204v1M1158.5 206v8M1163.5 213v1M1172.5 205v3M1172.5 213v1M1172.5 218v2M1172.5 221v1M1177.5 217v1M1177.5 222v2M1182.5 213v1M1182.5 217v1M1187.5 214v2M1187.5 218v2M1187.5 224v1M1196.5 222v2M1196.5 226v2M1201.5 221v1M1201.5 225v1M1206.5 221v1M1211.5 213v3M1211.5 221v1M1211.5 224v2M1211.5 228v1"/>
<path stroke="#ff7500" stroke-width="5" d="M1052.5 197v1M1057.5 197v1M1062.5 196v1M1062.5 198v3M1067.5 185v1M1067.5 188v1M1067.5 190v2M1076.5 185v1M1081.5 185v1M1081.5 190v2M1086.5 192v1M1100.5 189v1M1105.5 177v1M1110.5 169v1M1115.5 170v2M1115.5 174v2M1129.5 185v3M1129.5 192v1M1134.5 185v4M1139.5 186v2M1139.5 189v1M1139.5 192v1M1148.5 190v3M1148.5 194v2M1153.5 198v3M1158.5 205v1M1163.5 202v2M1163.5 206v2M1163.5 209v1M1163.5 212v1M1172.5 208v1M1172.5 214v2M1177.5 208v1M1182.5 210v3M1182.5 214v2M1187.5 212v2M1187.5 220v1M1196.5 216v4M1196.5 221v1M1211.5 216v1M1211.5 218v2M1211.5 222v2"/>
<path stroke="#ff4c00" stroke-width="5" d="M1052.5 200v1M1062.5 194v2M1062.5 197v1M1067.5 189v1M1091.5 206v2M1105.5 178v3M1129.5 188v1M1134.5 184v1M1139.5 185v1M1139.5 190v2M1158.5 201v1M1163.5 204v2M1163.5 208v1M1163.5 210v2M1172.5 209v1M1177.5 209v1M1177.5 213v1M1196.5 220v1M1211.5 217v1"/>
<path stroke="#f0f100" stroke-width="5" d="M1052.5 201v1M1057.5 193v1M1057.5 201v1M1062.5 192v2M1067.5 182v2M1067.5 192v1M1067.5 194v2M1076.5 189v1M1076.5 194v2M1081.5 192v1M1091.5 210v2M1105.5 176v1M1105.5 186v2M1105.5 190v2M1110.5 186v2M1115.5 184v1M1115.5 186v2M1124.5 208v1M1129.5 182v2M1129.5 194v3M1134.5 194v2M1134.5 201v1M1139.5 184v1M1148.5 200v4M1153.5 194v2M1153.5 206v2M1153.5 209v1M1153.5 212v1M1163.5 201v1M1163.5 216v1M1163.5 218v2M1172.5 204v1M1172.5 216v2M1172.5 220v1M1177.5 221v1M1177.5 224v1M1182.5 209v1M1182.5 216v1M1182.5 218v3M1182.5 222v2M1187.5 210v2M1187.5 222v2M1196.5 213v3M1196.5 224v2M1196.5 229v1M1201.5 217v1M1201.5 222v2M1206.5 224v5M1211.5 226v2M1211.5 229v1"/>
<path stroke="#00f096" stroke-width="5" d="M1052.5 206v3M1057.5 189v1M1062.5 186v2M1062.5 208v1M1067.5 178v2M1067.5 201v1M1076.5 200v1M1076.5 202v2M1081.5 178v2M1081.5 201v3M1086.5 202v2M1091.5 198v2M1091.5 221v4M1105.5 198v2M1105.5 201v1M1110.5 197v1M1110.5 200v1M1115.5 198v2M1115.5 201v1M1115.5 204v1M1124.5 201v1M1124.5 222v3M1129.5 214v4M1134.5 212v1M1139.5 213v1M1139.5 217v5M1148.5 213v3M1148.5 218v2M1153.5 226v3M1153.5 230v3M1158.5 194v2M1158.5 226v2M1158.5 232v4M1163.5 197v1M1163.5 233v1M1163.5 236v1M1172.5 234v2M1172.5 240v1M1177.5 238v2M1182.5 204v1M1182.5 238v3M1187.5 205v1M1187.5 237v7M1196.5 208v2M1201.5 209v1M1201.5 238v2M1201.5 241v1M1206.5 210v2M1206.5 242v3M1211.5 206v2M1211.5 209v1M1211.5 240v5"/>
<path stroke="#164afe" stroke-width="5" d="M1052.5 220v2M1052.5 225v1M1057.5 180v2M1057.5 218v2M1062.5 181v1M1062.5 218v4M1067.5 172v1M1067.5 216v4M1076.5 172v2M1076.5 216v1M1076.5 218v2M1076.5 222v2M1081.5 170v4M1081.5 217v4M1086.5 177v1M1086.5 217v8M1091.5 193v1M1091.5 244v1M1091.5 246v3M1091.5 250v4M1091.5 258v2M1100.5 176v1M1100.5 221v8M1100.5 230v3M1100.5 236v1M1105.5 168v1M1105.5 220v1M1105.5 224v1M1105.5 226v6M1110.5 222v3M1110.5 226v2M1110.5 229v1M1110.5 236v2M1115.5 162v2M1115.5 228v1M1115.5 232v1M1124.5 194v2M1124.5 248v1M1124.5 250v4M1124.5 256v2M1129.5 237v3M1129.5 241v1M1129.5 244v9M1134.5 240v1M1134.5 244v2M1134.5 249v1M1134.5 252v1M1134.5 256v1M1139.5 177v1M1139.5 246v2M1139.5 249v1M1139.5 252v1M1148.5 184v1M1148.5 248v8M1148.5 260v1M1153.5 186v2M1153.5 256v6M1158.5 189v1M1158.5 260v2M1158.5 264v1M1163.5 189v3M1163.5 256v1M1163.5 258v3M1163.5 262v3M1172.5 190v2M1172.5 257v1M1172.5 260v1M1172.5 262v2M1177.5 260v1M1177.5 262v3M1182.5 194v2M1182.5 258v2M1182.5 261v5M1187.5 194v3M1187.5 258v4M1187.5 264v1M1196.5 197v3M1196.5 261v1M1196.5 264v1M1201.5 197v1M1201.5 258v2M1201.5 262v2M1201.5 265v3M1206.5 196v4M1206.5 260v1M1206.5 262v2M1211.5 196v2M1211.5 260v6"/>
<path stroke="#0096ff" stroke-width="5" d="M1057.5 185v1M1057.5 212v4M1062.5 182v2M1062.5 212v2M1067.5 174v2M1067.5 208v4M1076.5 176v1M1076.5 208v4M1081.5 209v3M1086.5 208v2M1091.5 196v1M1091.5 232v1M1100.5 178v2M1100.5 206v2M1100.5 209v1M1100.5 213v1M1105.5 169v1M1105.5 210v4M1105.5 216v1M1110.5 209v1M1110.5 212v5M1115.5 216v4M1124.5 198v2M1124.5 234v2M1124.5 237v4M1129.5 178v2M1129.5 225v1M1129.5 229v4M1129.5 234v2M1134.5 178v2M1134.5 228v2M1134.5 232v1M1134.5 234v3M1139.5 228v1M1139.5 230v3M1139.5 234v2M1139.5 237v1M1148.5 185v1M1148.5 229v1M1148.5 233v1M1148.5 236v1M1153.5 189v1M1153.5 244v2M1153.5 248v4M1158.5 248v2M1163.5 249v3M1172.5 194v2M1172.5 248v1M1172.5 250v2M1177.5 196v2M1177.5 246v2M1177.5 249v1M1177.5 252v1M1177.5 254v2M1182.5 196v4M1182.5 246v2M1182.5 249v1M1187.5 198v2M1187.5 250v2M1187.5 253v1M1196.5 201v1M1196.5 249v1M1196.5 252v4M1201.5 204v1M1201.5 249v7M1206.5 202v3M1206.5 250v2M1206.5 253v1M1211.5 198v3M1211.5 253v1"/>
<path stroke="#19f051" stroke-width="5" d="M1057.5 206v2M1062.5 188v2M1062.5 206v2M1076.5 178v2M1081.5 198v3M1086.5 200v2M1100.5 181v1M1100.5 200v4M1105.5 197v1M1105.5 200v1M1110.5 165v1M1110.5 194v2M1115.5 166v2M1115.5 196v2M1115.5 200v1M1124.5 202v2M1124.5 220v2M1124.5 225v1M1129.5 209v1M1129.5 212v1M1134.5 181v1M1134.5 208v4M1134.5 213v3M1139.5 181v1M1139.5 210v3M1139.5 214v2M1148.5 212v1M1148.5 216v2M1153.5 192v1M1153.5 220v1M1153.5 224v2M1158.5 196v1M1158.5 225v1M1158.5 228v1M1158.5 230v2M1163.5 229v4M1163.5 234v2M1172.5 232v1M1172.5 236v1M1177.5 201v3M1177.5 229v1M1177.5 233v1M1177.5 236v2M1182.5 233v4M1187.5 206v2M1187.5 234v3M1196.5 236v6M1201.5 234v4M1206.5 212v1M1206.5 238v3"/>
<path stroke="#00e1f0" stroke-width="5" d="M1057.5 209v1M1062.5 210v2M1067.5 206v2M1076.5 205v3M1081.5 176v1M1081.5 204v1M1081.5 206v2M1086.5 180v1M1086.5 204v1M1086.5 206v2M1091.5 197v1M1091.5 226v6M1105.5 204v2M1110.5 204v1M1110.5 208v1M1115.5 209v3M1124.5 200v1M1124.5 226v7M1129.5 180v1M1129.5 220v5M1134.5 220v1M1134.5 222v2M1139.5 224v1M1148.5 220v4M1148.5 226v3M1153.5 236v1M1153.5 238v3M1158.5 236v1M1158.5 240v1M1163.5 241v1M1172.5 197v1M1172.5 244v4M1177.5 200v1M1177.5 240v2M1182.5 242v4M1187.5 200v1M1187.5 202v2M1187.5 246v3M1196.5 204v1M1196.5 206v2M1196.5 245v1M1201.5 205v1M1201.5 246v3M1206.5 205v1M1206.5 208v1M1206.5 246v4M1211.5 202v4M1211.5 246v4"/>
<path stroke="#a8b0f7" stroke-width="4" d="M1072 151v1M1072 166v1M1072 169v1M1072 226v1M1072 250v1M1096 162v1M1096 172v1M1096 173v1M1096 176v1M1096 248v1M1096 265v1M1120 222v1M1120 257v1M1120 266v1M1144 264v1M1144 270v1M1168 184v1M1168 185v1M1168 265v1M1192 190v1M1192 192v1M1192 260v1M1216 189v1M1216 190v1M1216 270v1"/>
<path stroke="#1b3bfc" stroke-width="4" d="M1072 170v2M1072 224v1M1072 236v1M1072 238v2M1096 182v2M1096 246v2M1096 249v1M1096 252v5M1096 260v1M1096 269v1M1120 168v2M1120 246v4M1120 252v1M1120 258v6M1144 178v2M1144 252v1M1144 257v1M1144 260v4M1144 265v1M1168 186v2M1168 268v1M1192 193v1M1192 264v1M1216 192v5M1216 265v4"/>
<path stroke="#164afe" stroke-width="4" d="M1072 172v2M1072 213v3M1072 218v2M1072 221v1M1096 184v1M1096 238v4M1096 244v1M1120 234v2M1120 238v7M1120 250v2M1120 253v4M1144 242v2M1144 246v6M1144 253v3M1144 258v2M1168 188v2M1168 254v2M1168 257v1M1168 260v5M1168 266v2M1192 194v4M1192 261v3M1192 265v4M1216 197v3M1216 258v2M1216 262v3"/>
<path stroke="#0096ff" stroke-width="4" d="M1072 174v2M1072 208v5M1096 188v1M1096 224v4M1120 170v2M1120 214v2M1120 218v2M1120 228v1M1144 181v1M1144 230v4M1144 238v2M1168 192v2M1168 248v2M1192 200v1M1192 202v2M1192 249v5M1192 256v1M1216 202v3M1216 252v2M1216 256v1"/>
<path stroke="#00bbf8" stroke-width="4" d="M1072 176v1M1096 189v1M1096 222v2M1120 172v1M1120 213v1M1144 224v1M1144 228v2M1168 244v1M1168 246v2M1192 201v1M1192 245v1M1192 248v1M1216 205v1M1216 249v3"/>
<path stroke="#00e8c3" stroke-width="4" d="M1072 177v1M1096 190v2M1120 210v2M1144 182v2M1144 217v1M1144 222v2M1168 196v2M1168 234v6M1168 241v1M1192 205v1M1192 237v3M1192 242v2M1216 209v3M1216 244v4"/>
<path stroke="#00f096" stroke-width="4" d="M1072 178v2M1072 201v3M1096 192v1M1096 214v4M1120 173v1M1120 205v4M1144 213v4M1144 218v2M1168 232v2M1192 236v1M1192 241v1M1216 212v1M1216 241v3"/>
<path stroke="#42f120" stroke-width="4" d="M1072 180v1M1072 197v3M1096 209v3M1096 213v1M1120 174v2M1120 198v2M1144 206v2M1144 212v1M1168 200v1M1168 225v1M1168 228v1M1192 208v1M1192 228v1M1192 233v1M1216 213v1M1216 238v2"/>
<path stroke="#bef400" stroke-width="4" d="M1072 181v1M1072 193v1M1096 194v2M1096 208v1M1120 189v1M1144 202v2M1168 202v2M1168 218v3M1168 224v1M1192 210v2M1192 221v3M1192 226v2M1192 229v1M1216 216v1M1216 220v1M1216 237v1"/>
<path stroke="#fe9f00" stroke-width="4" d="M1072 182v3M1072 188v1M1096 198v3M1096 205v1M1120 184v1M1144 188v1M1144 194v3M1168 204v1M1168 216v1M1192 216v1M1192 218v2M1216 226v2M1216 229v1"/>
<path stroke="#ff2300" stroke-width="4" d="M1072 185v1M1120 177v1"/>
<path stroke="#ff4c00" stroke-width="4" d="M1072 186v2M1096 197v1M1120 178v2M1120 181v1M1168 205v1M1168 209v1"/>
<path stroke="#ff7500" stroke-width="4" d="M1072 189v1M1096 202v2M1120 180v1M1144 189v1M1168 206v3M1168 210v2M1192 214v2M1216 221v1"/>
<path stroke="#fccc00" stroke-width="4" d="M1072 190v2M1096 201v1M1096 204v1M1120 176v1M1120 182v2M1120 185v4M1120 190v2M1144 185v3M1144 190v3M1192 213v1M1216 218v2M1216 222v4M1216 230v3"/>
<path stroke="#f0f100" stroke-width="4" d="M1072 192v1M1096 196v1M1120 192v1M1144 193v1M1144 197v1M1168 212v4M1168 217v1M1192 217v1M1192 220v1M1216 228v1M1216 234v2"/>
<path stroke="#83f40c" stroke-width="4" d="M1072 194v3M1096 206v2M1096 212v1M1120 193v5M1144 184v1M1144 198v4M1144 204v2M1168 201v1M1168 221v3M1168 226v2M1192 209v1M1192 212v1M1192 224v2M1216 214v2M1216 217v1M1216 233v1M1216 236v1"/>
<path stroke="#19f051" stroke-width="4" d="M1072 200v1M1096 193v1M1120 200v5M1144 208v4M1168 198v2M1168 229v3M1192 206v2M1192 230v3M1192 234v2M1216 240v1"/>
<path stroke="#00e1f0" stroke-width="4" d="M1072 204v4M1096 218v4M1120 209v1M1120 212v1M1144 220v2M1144 225v3M1168 194v2M1168 240v1M1168 242v2M1168 245v1M1192 204v1M1192 240v1M1192 244v1M1192 246v2M1216 206v3M1216 248v1"/>
<path stroke="#0c6aff" stroke-width="4" d="M1072 216v2M1096 185v3M1096 228v2M1096 232v6M1120 216v2M1120 220v2M1120 224v4M1120 229v5M1120 236v1M1144 180v1M1144 234v4M1144 240v2M1144 244v2M1168 190v2M1168 250v4M1168 256v1M1168 258v2M1192 198v2M1192 254v2M1192 257v1M1216 200v2M1216 254v2M1216 257v1M1216 260v1"/>
<path stroke="#4657f8" stroke-width="4" d="M1072 220v1M1072 222v1M1072 225v1M1072 229v1M1072 232v1M1072 234v1M1096 178v1M1096 230v1M1096 245v1M1096 257v1M1096 258v1M1096 266v1M1168 182v1M1168 269v1M1168 270v1M1168 272v1M1192 270v1M1192 272v1M1216 269v1"/>
<path stroke="#ff2300" stroke-width="5" d="M1081.5 186v3M1086.5 190v2M1105.5 181v1M1115.5 172v2"/>
</g>
<path d="M1050.8 272.7H1218.0" stroke="#555" stroke-width="1.1" fill="none"/>
<path d="M1050.8 272.5H1064.2" stroke="#3c6ad0" stroke-width="1.5" fill="none"/>
<path d="M1065.2 272.5H1088.2" stroke="#40b8a0" stroke-width="1.5" fill="none"/>
<path d="M1089.2 272.5H1218.0" stroke="#c8281e" stroke-width="1.5" fill="none"/>
<path d="M1050.5 273.0V107.5H1218.5V273.0" fill="none" stroke="#6a6a6a" stroke-width="1.25"/>
<path d="M1052.7 272.4v4.2M1096.0 272.4v4.2M1144.0 272.4v4.2M1192.1 272.4v4.2M1216.1 272.4v4.2" stroke="#333" stroke-width="1.1" fill="none"/>
<path d="M1052.7 272.4v1.6M1057.5 272.4v1.6M1062.3 272.4v1.6M1067.1 272.4v1.6M1071.9 272.4v1.6M1076.7 272.4v1.6M1081.5 272.4v1.6M1086.3 272.4v1.6M1091.1 272.4v1.6M1096.0 272.4v1.6M1100.8 272.4v1.6M1105.6 272.4v1.6M1110.4 272.4v1.6M1115.2 272.4v1.6M1120.0 272.4v1.6M1124.8 272.4v1.6M1129.6 272.4v1.6M1134.4 272.4v1.6M1139.2 272.4v1.6M1144.0 272.4v1.6M1148.8 272.4v1.6M1153.6 272.4v1.6M1158.4 272.4v1.6M1163.2 272.4v1.6M1168.0 272.4v1.6M1172.8 272.4v1.6M1177.7 272.4v1.6M1182.5 272.4v1.6M1187.3 272.4v1.6M1192.1 272.4v1.6M1196.9 272.4v1.6M1201.7 272.4v1.6M1206.5 272.4v1.6M1211.3 272.4v1.6M1216.1 272.4v1.6" stroke="#333" stroke-width="0.6" fill="none"/>
<text x="1050.6" y="285.3" font-size="8.6" fill="#1c1c1c" textLength="4.2" lengthAdjust="spacingAndGlyphs">1</text>
<text x="1091.8" y="285.3" font-size="8.6" fill="#1c1c1c" textLength="8.4" lengthAdjust="spacingAndGlyphs">10</text>
<text x="1139.8" y="285.3" font-size="8.6" fill="#1c1c1c" textLength="8.4" lengthAdjust="spacingAndGlyphs">20</text>
<text x="1187.9" y="285.3" font-size="8.6" fill="#1c1c1c" textLength="8.4" lengthAdjust="spacingAndGlyphs">30</text>
<text x="1211.9" y="285.3" font-size="8.6" fill="#1c1c1c" textLength="8.4" lengthAdjust="spacingAndGlyphs">35</text>
<rect x="1225.9" y="92.8" width="10.7" height="10.7" fill="#b416b4"/>
<path d="M1231.25 99.15L1235.75 98.15L1231.25 97.15ZM1230.76 98.64L1233.72 100.62L1231.74 97.66ZM1230.25 98.15L1231.25 102.65L1232.25 98.15ZM1230.76 97.66L1228.78 100.62L1231.74 98.64ZM1231.25 97.15L1226.75 98.15L1231.25 99.15ZM1231.74 97.66L1228.78 95.68L1230.76 98.64ZM1232.25 98.15L1231.25 93.65L1230.25 98.15ZM1231.74 98.64L1233.72 95.68L1230.76 97.66Z" fill="#fff"/>
<circle cx="1231.25" cy="98.15" r="2.0" fill="#fff"/>
<text x="1240.3" y="101.9" font-size="9.3" fill="#1c1c1c" textLength="25.2" lengthAdjust="spacingAndGlyphs">405nm</text>
<g fill="none">
<path stroke="#a8b0f7" stroke-width="5" d="M1228.5 164v1M1228.5 166v1M1228.5 185v1M1228.5 242v1M1228.5 266v1M1233.5 166v1M1233.5 178v1M1233.5 180v1M1233.5 184v1M1233.5 238v1M1233.5 256v1M1233.5 258v1M1242.5 161v1M1242.5 221v1M1242.5 233v1M1242.5 241v1M1242.5 262v1M1247.5 157v1M1247.5 164v1M1247.5 232v1M1247.5 258v1M1252.5 226v1M1252.5 229v1M1252.5 245v1M1257.5 157v1M1257.5 160v1M1257.5 164v1M1257.5 166v1M1257.5 233v1M1257.5 238v1M1266.5 169v1M1266.5 174v1M1266.5 237v1M1266.5 248v1M1266.5 249v1M1266.5 254v1M1271.5 166v1M1271.5 184v1M1271.5 185v1M1271.5 252v1M1271.5 260v1M1271.5 266v1M1276.5 256v1M1276.5 264v1M1281.5 166v1M1281.5 217v1M1281.5 248v1M1281.5 260v1M1286.5 250v1M1286.5 256v1M1286.5 260v1M1295.5 233v1M1295.5 238v1M1295.5 249v1M1295.5 257v1M1295.5 264v1M1295.5 265v1M1300.5 189v1M1300.5 190v1M1305.5 245v1M1305.5 253v1M1305.5 257v1M1310.5 173v1M1310.5 253v1M1319.5 261v1M1324.5 181v1M1324.5 242v1M1324.5 250v1M1324.5 253v1M1324.5 256v1M1324.5 268v1M1324.5 269v1M1329.5 184v1M1329.5 272v1M1334.5 184v1M1334.5 253v1M1343.5 184v1M1343.5 189v1M1343.5 268v1M1343.5 270v1M1348.5 189v1M1348.5 257v1M1353.5 188v1M1353.5 192v1M1358.5 185v1M1358.5 190v1M1358.5 192v1M1358.5 272v1M1363.5 185v1M1363.5 188v1M1363.5 268v1M1372.5 189v1M1372.5 192v1M1372.5 266v1M1377.5 192v1M1377.5 268v1M1382.5 189v1M1382.5 190v1M1382.5 265v1M1382.5 269v1"/>
<path stroke="#4657f8" stroke-width="5" d="M1228.5 172v1M1228.5 177v1M1228.5 181v1M1228.5 240v1M1228.5 256v1M1228.5 262v1M1233.5 240v1M1233.5 242v1M1233.5 253v1M1233.5 262v1M1242.5 237v1M1242.5 238v1M1242.5 248v1M1247.5 228v1M1247.5 230v2M1247.5 234v1M1247.5 241v1M1247.5 242v1M1247.5 244v1M1247.5 246v1M1247.5 253v1M1247.5 261v1M1247.5 266v1M1247.5 272v1M1252.5 233v1M1252.5 240v1M1252.5 244v1M1252.5 246v1M1257.5 234v1M1257.5 236v1M1257.5 237v1M1257.5 248v1M1257.5 257v1M1257.5 261v1M1257.5 266v1M1266.5 188v1M1266.5 253v1M1266.5 264v1M1266.5 265v1M1271.5 253v1M1271.5 257v1M1271.5 265v1M1276.5 241v1M1276.5 244v1M1276.5 245v1M1276.5 246v1M1276.5 249v1M1276.5 257v1M1276.5 258v1M1276.5 260v1M1276.5 261v1M1281.5 240v1M1281.5 246v2M1281.5 249v1M1281.5 252v1M1286.5 230v1M1286.5 238v1M1286.5 262v1M1286.5 265v1M1295.5 230v1M1295.5 256v1M1295.5 260v1M1300.5 185v1M1300.5 272v1M1305.5 260v1M1305.5 270v1M1310.5 250v1M1310.5 257v1M1310.5 269v1M1310.5 270v1M1319.5 244v1M1319.5 260v1M1319.5 262v1M1324.5 236v1M1324.5 246v1M1324.5 265v1M1324.5 270v1M1329.5 180v1M1329.5 186v1M1329.5 188v1M1329.5 252v1M1329.5 268v1M1329.5 269v1M1343.5 185v1M1343.5 269v1M1343.5 272v1M1348.5 184v1M1348.5 270v1M1353.5 190v1M1353.5 261v1M1353.5 269v1M1358.5 189v1M1358.5 257v1M1372.5 190v1M1372.5 269v1M1377.5 190v1M1377.5 193v1M1377.5 269v1M1377.5 270v2M1387.5 193v1"/>
<path stroke="#1b3bfc" stroke-width="5" d="M1228.5 186v3M1228.5 236v1M1228.5 238v2M1228.5 241v1M1228.5 245v1M1233.5 186v3M1233.5 237v1M1233.5 241v1M1233.5 248v1M1233.5 261v1M1242.5 168v4M1242.5 222v2M1242.5 226v3M1242.5 240v1M1242.5 258v2M1247.5 168v2M1247.5 224v1M1247.5 238v2M1247.5 256v1M1252.5 168v1M1252.5 170v2M1252.5 228v1M1252.5 230v3M1252.5 241v1M1252.5 252v1M1252.5 256v2M1252.5 260v1M1257.5 169v4M1257.5 228v2M1266.5 192v2M1266.5 256v4M1266.5 261v3M1266.5 266v2M1271.5 246v2M1271.5 250v2M1271.5 254v3M1271.5 261v1M1271.5 264v1M1276.5 236v2M1276.5 240v1M1276.5 242v2M1281.5 168v2M1281.5 230v2M1281.5 234v2M1281.5 237v3M1281.5 242v4M1286.5 164v1M1286.5 241v1M1286.5 244v6M1286.5 252v1M1295.5 168v1M1295.5 245v3M1295.5 250v4M1300.5 192v1M1300.5 258v8M1300.5 268v1M1305.5 176v1M1305.5 249v1M1305.5 252v1M1305.5 258v2M1305.5 261v3M1310.5 248v1M1310.5 254v3M1310.5 260v1M1310.5 264v1M1319.5 178v2M1319.5 252v2M1319.5 256v1M1319.5 258v2M1319.5 265v1M1324.5 182v3M1324.5 258v4M1324.5 264v1M1324.5 272v1M1329.5 265v3M1329.5 270v2M1334.5 189v1M1334.5 262v10M1343.5 190v3M1343.5 264v4M1348.5 192v1M1348.5 265v5M1348.5 272v1M1353.5 193v3M1353.5 262v2M1353.5 265v4M1353.5 270v3M1358.5 193v3M1358.5 266v6M1363.5 193v4M1363.5 262v2M1363.5 266v2M1363.5 270v3M1372.5 193v4M1372.5 264v1M1372.5 270v2M1377.5 194v3M1377.5 264v2M1382.5 193v5M1382.5 262v2M1382.5 270v3M1387.5 194v3M1387.5 262v2M1387.5 268v4"/>
<path stroke="#164afe" stroke-width="5" d="M1228.5 189v1M1228.5 232v1M1228.5 237v1M1233.5 232v5M1242.5 172v1M1242.5 218v3M1242.5 224v2M1247.5 170v3M1247.5 221v3M1247.5 225v3M1252.5 169v1M1252.5 172v2M1252.5 221v4M1257.5 173v1M1257.5 221v7M1266.5 242v6M1266.5 250v3M1271.5 186v3M1271.5 237v1M1271.5 240v4M1271.5 245v1M1271.5 248v2M1271.5 258v2M1276.5 178v2M1276.5 226v2M1276.5 229v4M1276.5 234v2M1281.5 226v4M1281.5 232v1M1281.5 236v1M1286.5 225v1M1286.5 228v1M1286.5 232v4M1286.5 237v1M1295.5 169v1M1295.5 228v1M1295.5 236v2M1295.5 240v2M1295.5 244v1M1300.5 193v1M1300.5 246v2M1300.5 249v1M1300.5 252v1M1300.5 254v3M1305.5 177v1M1305.5 238v2M1305.5 241v4M1305.5 246v3M1305.5 250v2M1305.5 256v1M1310.5 176v1M1310.5 237v1M1310.5 241v1M1310.5 244v1M1310.5 246v2M1310.5 249v1M1310.5 252v1M1310.5 258v2M1319.5 180v1M1319.5 245v5M1319.5 254v2M1319.5 257v1M1324.5 238v3M1324.5 245v1M1324.5 248v2M1324.5 252v1M1324.5 254v2M1324.5 262v2M1329.5 189v1M1329.5 254v2M1329.5 258v2M1329.5 262v2M1334.5 190v3M1334.5 257v5M1343.5 193v1M1343.5 258v6M1348.5 193v3M1348.5 254v3M1348.5 258v4M1353.5 196v1M1353.5 257v4M1358.5 196v1M1358.5 254v2M1358.5 261v3M1363.5 198v2M1363.5 254v2M1363.5 257v5M1363.5 264v1M1372.5 197v3M1372.5 261v3M1372.5 265v1M1377.5 197v3M1377.5 258v6M1382.5 198v2M1382.5 257v5M1382.5 264v1M1382.5 266v3M1387.5 197v4M1387.5 256v1M1387.5 258v2M1387.5 261v1M1387.5 264v2"/>
<path stroke="#0c6aff" stroke-width="5" d="M1228.5 190v2M1228.5 193v1M1228.5 226v2M1228.5 229v3M1228.5 233v1M1233.5 189v4M1233.5 225v1M1233.5 228v4M1242.5 173v3M1242.5 210v2M1242.5 214v4M1247.5 173v3M1247.5 213v1M1247.5 216v5M1252.5 216v5M1257.5 174v2M1257.5 217v4M1266.5 194v3M1266.5 234v2M1266.5 240v2M1271.5 189v1M1271.5 226v2M1271.5 229v8M1271.5 238v2M1271.5 244v1M1276.5 180v2M1276.5 213v1M1276.5 218v8M1276.5 228v1M1281.5 170v2M1281.5 216v1M1281.5 220v6M1286.5 165v1M1286.5 220v2M1286.5 224v1M1286.5 226v2M1286.5 229v1M1295.5 170v2M1295.5 222v6M1295.5 229v1M1295.5 232v1M1295.5 234v2M1300.5 194v2M1300.5 238v2M1300.5 241v5M1300.5 248v1M1300.5 250v2M1305.5 178v2M1305.5 225v1M1305.5 229v3M1305.5 233v5M1305.5 240v1M1310.5 177v1M1310.5 226v3M1310.5 232v1M1310.5 234v3M1310.5 238v3M1310.5 242v2M1319.5 181v1M1319.5 230v2M1319.5 234v4M1319.5 240v4M1324.5 185v1M1324.5 228v1M1324.5 233v1M1324.5 237v1M1324.5 241v1M1324.5 244v1M1329.5 190v2M1329.5 246v6M1329.5 253v1M1329.5 256v1M1334.5 249v4M1334.5 254v3M1343.5 194v2M1343.5 249v1M1343.5 252v6M1348.5 196v2M1348.5 246v2M1348.5 252v2M1353.5 197v3M1353.5 248v1M1353.5 250v7M1358.5 197v1M1358.5 250v4M1358.5 256v1M1358.5 258v3M1363.5 197v1M1363.5 200v1M1363.5 253v1M1363.5 256v1M1372.5 200v1M1372.5 248v2M1372.5 254v7M1377.5 200v1M1377.5 253v5M1382.5 200v1M1382.5 249v1M1382.5 254v3M1387.5 201v1M1387.5 252v4M1387.5 257v1M1387.5 260v1"/>
<path stroke="#0096ff" stroke-width="5" d="M1228.5 192v1M1228.5 194v2M1228.5 224v2M1228.5 228v1M1233.5 224v1M1233.5 226v2M1242.5 176v1M1242.5 209v1M1242.5 212v2M1247.5 176v1M1247.5 210v3M1247.5 214v2M1252.5 174v2M1252.5 210v6M1257.5 176v2M1257.5 212v5M1266.5 230v2M1266.5 233v1M1266.5 236v1M1266.5 238v2M1271.5 190v3M1271.5 225v1M1271.5 228v1M1276.5 182v2M1276.5 212v1M1276.5 214v4M1281.5 213v3M1281.5 218v2M1286.5 210v2M1286.5 214v6M1286.5 222v2M1295.5 172v1M1295.5 214v8M1300.5 196v1M1300.5 232v6M1300.5 240v1M1305.5 222v2M1305.5 226v3M1305.5 232v1M1310.5 178v2M1310.5 225v1M1310.5 229v3M1310.5 233v1M1319.5 226v4M1319.5 232v2M1324.5 229v4M1324.5 234v2M1329.5 244v2M1334.5 193v1M1334.5 242v7M1343.5 196v2M1343.5 241v1M1343.5 245v4M1343.5 250v2M1348.5 198v2M1348.5 244v2M1348.5 249v3M1353.5 244v1M1353.5 246v2M1353.5 249v1M1358.5 198v3M1358.5 248v2M1363.5 201v1M1363.5 245v1M1363.5 248v5M1372.5 202v2M1372.5 246v2M1372.5 250v4M1377.5 201v3M1377.5 246v2M1377.5 249v4M1382.5 201v1M1382.5 250v4M1387.5 202v3M1387.5 248v4"/>
<path stroke="#00bbf8" stroke-width="5" d="M1228.5 196v1M1228.5 222v2M1233.5 193v1M1233.5 221v3M1242.5 177v1M1242.5 208v1M1247.5 209v1M1252.5 176v1M1252.5 178v2M1252.5 209v1M1257.5 210v2M1266.5 197v3M1266.5 229v1M1266.5 232v1M1271.5 220v5M1276.5 210v2M1281.5 172v1M1281.5 210v3M1286.5 209v1M1286.5 212v2M1295.5 212v1M1300.5 197v1M1305.5 180v1M1305.5 218v3M1305.5 224v1M1310.5 218v7M1319.5 182v2M1319.5 221v5M1324.5 186v2M1324.5 222v2M1324.5 225v3M1329.5 192v1M1329.5 238v2M1329.5 241v3M1334.5 238v2M1334.5 241v1M1343.5 240v1M1343.5 242v3M1348.5 241v1M1353.5 200v2M1353.5 245v1M1358.5 241v1M1358.5 244v4M1363.5 202v2M1363.5 241v1M1363.5 246v2M1372.5 201v1M1372.5 245v1M1377.5 204v1M1377.5 244v2M1377.5 248v1M1382.5 202v2M1382.5 244v5M1387.5 205v1"/>
<path stroke="#00e8c3" stroke-width="5" d="M1228.5 197v3M1233.5 194v2M1233.5 220v1M1242.5 178v2M1247.5 178v3M1247.5 206v3M1257.5 180v2M1257.5 206v2M1266.5 225v3M1271.5 193v1M1271.5 216v4M1276.5 208v1M1281.5 173v1M1281.5 208v2M1286.5 166v2M1286.5 204v1M1295.5 173v1M1295.5 205v1M1295.5 208v2M1300.5 198v2M1300.5 228v1M1305.5 212v2M1305.5 217v1M1310.5 213v1M1319.5 218v2M1324.5 218v2M1329.5 230v7M1334.5 233v3M1343.5 198v2M1343.5 233v1M1348.5 201v1M1353.5 202v2M1353.5 238v3M1358.5 202v3M1358.5 236v1M1358.5 240v1M1363.5 204v1M1363.5 238v3M1372.5 205v1M1372.5 238v6M1377.5 205v1M1377.5 241v3M1382.5 205v4M1382.5 242v2M1387.5 209v1"/>
<path stroke="#00f096" stroke-width="5" d="M1228.5 200v1M1228.5 220v1M1233.5 196v1M1233.5 217v3M1242.5 181v1M1242.5 204v2M1252.5 180v4M1252.5 204v4M1257.5 182v2M1257.5 204v2M1266.5 200v1M1276.5 206v2M1281.5 202v3M1281.5 206v2M1286.5 198v2M1286.5 201v3M1295.5 202v3M1295.5 206v2M1300.5 224v2M1305.5 210v2M1305.5 214v2M1310.5 180v1M1310.5 210v2M1319.5 184v1M1319.5 216v2M1324.5 188v1M1324.5 217v1M1324.5 220v1M1329.5 193v1M1329.5 226v4M1334.5 225v1M1334.5 228v2M1334.5 232v1M1343.5 201v1M1343.5 232v1M1343.5 234v3M1348.5 202v2M1348.5 232v4M1353.5 234v4M1358.5 237v3M1363.5 205v3M1363.5 234v4M1372.5 208v1M1372.5 236v1M1377.5 206v3M1377.5 237v1M1377.5 240v1M1382.5 209v1M1382.5 240v1M1387.5 210v2M1387.5 238v2M1387.5 241v3"/>
<path stroke="#42f120" stroke-width="5" d="M1228.5 201v3M1228.5 217v1M1233.5 198v2M1233.5 214v2M1242.5 182v3M1242.5 200v1M1247.5 202v2M1252.5 184v1M1257.5 184v1M1266.5 202v2M1271.5 210v2M1271.5 214v2M1276.5 202v2M1281.5 174v2M1281.5 201v1M1286.5 189v3M1286.5 193v3M1286.5 197v1M1295.5 197v1M1305.5 201v1M1310.5 204v2M1319.5 209v1M1319.5 212v2M1324.5 189v1M1324.5 213v3M1329.5 221v3M1334.5 221v4M1343.5 224v1M1343.5 226v6M1353.5 206v2M1353.5 232v1M1358.5 206v2M1358.5 224v1M1358.5 229v1M1363.5 229v4M1372.5 232v1M1372.5 234v2M1377.5 210v2M1377.5 232v1M1377.5 234v2M1382.5 210v2M1382.5 233v1M1382.5 237v1M1387.5 213v1"/>
<path stroke="#bef400" stroke-width="5" d="M1228.5 204v1M1228.5 213v1M1233.5 200v1M1242.5 185v1M1242.5 196v2M1247.5 185v1M1247.5 196v1M1247.5 198v2M1252.5 185v3M1252.5 194v2M1252.5 198v2M1257.5 186v2M1257.5 198v2M1266.5 204v1M1266.5 216v1M1266.5 220v1M1271.5 206v4M1281.5 176v1M1281.5 190v2M1281.5 193v4M1286.5 188v1M1295.5 193v1M1300.5 213v1M1300.5 216v1M1305.5 184v1M1305.5 193v1M1305.5 197v4M1310.5 197v1M1310.5 200v1M1319.5 204v1M1319.5 206v3M1324.5 190v2M1324.5 208v1M1329.5 217v1M1334.5 213v1M1334.5 217v1M1334.5 220v1M1348.5 221v1M1353.5 208v2M1353.5 221v1M1353.5 224v1M1358.5 209v1M1358.5 225v1M1363.5 226v3M1372.5 209v4M1372.5 226v2M1377.5 212v1M1382.5 214v2M1382.5 226v3M1387.5 229v4"/>
<path stroke="#fe9f00" stroke-width="5" d="M1228.5 205v1M1242.5 190v2M1247.5 193v3M1252.5 189v1M1252.5 192v1M1257.5 188v1M1257.5 190v2M1257.5 196v1M1266.5 209v4M1266.5 214v2M1271.5 198v2M1271.5 204v1M1276.5 193v1M1276.5 197v1M1281.5 188v2M1286.5 173v1M1286.5 178v2M1286.5 182v2M1295.5 182v3M1295.5 186v2M1295.5 189v1M1300.5 202v2M1300.5 206v2M1305.5 185v4M1305.5 192v1M1310.5 189v1M1310.5 196v1M1319.5 188v1M1319.5 198v3M1324.5 200v1M1329.5 197v1M1329.5 202v2M1329.5 212v1M1334.5 201v1M1334.5 204v1M1334.5 206v2M1343.5 208v2M1348.5 209v1M1348.5 213v1M1348.5 216v1M1353.5 210v2M1358.5 213v1M1358.5 220v1M1363.5 213v1M1363.5 218v2M1363.5 221v1M1372.5 221v1M1377.5 218v2M1382.5 222v3M1387.5 218v2M1387.5 224v1M1387.5 226v2"/>
<path stroke="#fccc00" stroke-width="5" d="M1228.5 206v2M1228.5 210v3M1233.5 201v4M1233.5 208v2M1242.5 186v2M1242.5 192v2M1247.5 186v2M1247.5 197v1M1252.5 188v1M1257.5 189v1M1257.5 192v1M1257.5 197v1M1266.5 205v3M1266.5 217v1M1276.5 188v2M1276.5 198v2M1281.5 177v1M1281.5 186v2M1281.5 192v1M1286.5 169v1M1295.5 185v1M1295.5 190v3M1300.5 209v1M1300.5 214v2M1305.5 189v1M1305.5 196v1M1310.5 182v2M1310.5 193v3M1310.5 198v2M1319.5 197v1M1324.5 196v1M1324.5 202v2M1329.5 205v3M1329.5 209v1M1329.5 213v1M1334.5 200v1M1334.5 208v1M1343.5 205v3M1343.5 210v3M1343.5 214v2M1343.5 217v3M1348.5 208v1M1348.5 210v3M1348.5 214v2M1348.5 217v1M1348.5 220v1M1353.5 222v2M1358.5 214v6M1358.5 222v2M1363.5 217v1M1363.5 220v1M1372.5 220v1M1372.5 222v3M1377.5 221v1M1377.5 225v4M1382.5 218v2M1382.5 225v1M1387.5 216v2M1387.5 220v1M1387.5 222v2M1387.5 225v1"/>
<path stroke="#ff7500" stroke-width="5" d="M1228.5 208v1M1233.5 206v2M1247.5 188v5M1252.5 190v2M1257.5 193v1M1266.5 208v1M1271.5 200v2M1276.5 190v2M1276.5 194v2M1281.5 180v1M1281.5 182v3M1286.5 176v2M1295.5 181v1M1300.5 204v1M1305.5 190v2M1310.5 184v1M1319.5 193v3M1324.5 194v2M1324.5 197v1M1324.5 201v1M1329.5 198v2M1334.5 202v2M1334.5 205v1M1343.5 213v1M1353.5 212v5M1363.5 214v2M1372.5 214v4M1377.5 216v1M1377.5 220v1M1377.5 222v2M1382.5 217v1M1382.5 221v1"/>
<path stroke="#ff2300" stroke-width="5" d="M1228.5 209v1M1281.5 178v2M1319.5 189v3M1324.5 193v1"/>
<path stroke="#83f40c" stroke-width="5" d="M1228.5 214v3M1233.5 213v1M1242.5 198v2M1247.5 182v3M1247.5 200v2M1252.5 197v1M1252.5 200v2M1257.5 185v1M1257.5 200v2M1266.5 218v2M1266.5 221v1M1271.5 196v1M1276.5 186v2M1276.5 200v2M1281.5 197v1M1286.5 192v1M1295.5 176v1M1295.5 194v3M1295.5 198v2M1300.5 201v1M1300.5 217v3M1305.5 202v4M1310.5 201v3M1319.5 186v2M1319.5 202v2M1319.5 205v1M1319.5 210v2M1324.5 206v2M1324.5 209v3M1329.5 214v3M1329.5 218v3M1334.5 198v2M1334.5 214v2M1334.5 218v2M1343.5 204v1M1343.5 220v1M1343.5 222v2M1343.5 225v1M1348.5 205v3M1348.5 222v6M1353.5 225v4M1358.5 208v1M1358.5 226v3M1363.5 208v2M1372.5 229v3M1377.5 230v2M1377.5 233v1M1382.5 212v2M1382.5 230v3M1387.5 214v2M1387.5 233v1"/>
<path stroke="#19f051" stroke-width="5" d="M1228.5 218v2M1233.5 197v1M1233.5 216v1M1242.5 201v3M1247.5 181v1M1247.5 204v2M1252.5 202v2M1257.5 202v2M1266.5 201v1M1266.5 222v3M1271.5 194v2M1271.5 212v2M1276.5 185v1M1276.5 204v2M1281.5 198v3M1286.5 168v1M1286.5 196v1M1286.5 200v1M1295.5 174v2M1295.5 200v2M1300.5 200v1M1300.5 220v4M1305.5 182v2M1305.5 206v4M1310.5 181v1M1310.5 206v4M1310.5 212v1M1319.5 185v1M1319.5 214v2M1324.5 212v1M1324.5 216v1M1329.5 194v2M1329.5 224v2M1334.5 197v1M1334.5 226v2M1334.5 230v2M1343.5 202v2M1348.5 204v1M1348.5 228v4M1353.5 204v2M1353.5 229v3M1353.5 233v1M1358.5 205v1M1358.5 230v6M1363.5 233v1M1372.5 206v2M1372.5 233v1M1372.5 237v1M1377.5 209v1M1377.5 236v1M1377.5 238v2M1382.5 234v3M1382.5 238v2M1387.5 212v1M1387.5 234v4M1387.5 240v1"/>
<path stroke="#00e1f0" stroke-width="5" d="M1228.5 221v1M1242.5 180v1M1242.5 206v2M1247.5 177v1M1252.5 177v1M1252.5 208v1M1257.5 178v2M1257.5 208v2M1266.5 228v1M1276.5 184v1M1276.5 209v1M1281.5 205v1M1286.5 205v4M1295.5 210v2M1295.5 213v1M1300.5 226v2M1300.5 229v3M1305.5 181v1M1305.5 216v1M1305.5 221v1M1310.5 214v4M1319.5 220v1M1324.5 221v1M1324.5 224v1M1329.5 237v1M1329.5 240v1M1334.5 194v3M1334.5 236v2M1334.5 240v1M1343.5 200v1M1343.5 237v3M1348.5 200v1M1348.5 236v5M1348.5 242v2M1353.5 241v3M1358.5 201v1M1358.5 242v2M1363.5 242v3M1372.5 204v1M1372.5 244v1M1382.5 204v1M1382.5 241v1M1387.5 206v3M1387.5 244v4"/>
<path stroke="#ff4c00" stroke-width="5" d="M1233.5 205v1M1276.5 192v1M1281.5 181v1M1281.5 185v1M1286.5 170v3M1286.5 174v2M1295.5 178v3M1300.5 205v1M1300.5 208v1M1310.5 185v4M1319.5 192v1M1319.5 196v1M1324.5 192v1M1324.5 198v2M1329.5 200v2M1329.5 204v1M1358.5 212v1M1363.5 216v1M1372.5 218v2M1377.5 217v1M1382.5 220v1M1387.5 221v1"/>
<path stroke="#f0f100" stroke-width="5" d="M1233.5 210v3M1242.5 188v2M1242.5 194v2M1252.5 193v1M1252.5 196v1M1257.5 194v2M1266.5 213v1M1271.5 197v1M1271.5 202v2M1271.5 205v1M1276.5 196v1M1286.5 180v2M1286.5 184v4M1295.5 177v1M1295.5 188v1M1300.5 210v3M1305.5 194v2M1310.5 190v3M1319.5 201v1M1324.5 204v2M1329.5 196v1M1329.5 208v1M1329.5 210v2M1334.5 209v4M1334.5 216v1M1343.5 216v1M1343.5 221v1M1348.5 218v2M1353.5 217v4M1358.5 210v2M1358.5 221v1M1363.5 210v3M1363.5 222v4M1372.5 213v1M1372.5 225v1M1372.5 228v1M1377.5 213v3M1377.5 224v1M1377.5 229v1M1382.5 216v1M1382.5 229v1M1387.5 228v1"/>
<path stroke="#a8b0f7" stroke-width="4" d="M1238 156v1M1238 184v1M1238 185v1M1238 232v1M1238 240v1M1238 258v1M1262 160v1M1262 162v1M1262 165v1M1262 166v1M1262 168v1M1262 169v1M1262 173v1M1262 248v1M1262 252v1M1262 256v1M1291 228v1M1291 250v1M1291 261v1M1315 253v1M1315 258v1M1315 262v1M1315 265v1M1315 266v1M1339 186v1M1339 249v1M1339 262v1M1368 269v1M1368 272v1M1392 193v1"/>
<path stroke="#1b3bfc" stroke-width="4" d="M1238 186v2M1238 238v2M1238 245v1M1238 252v1M1238 257v1M1238 265v1M1262 174v3M1262 225v9M1262 236v1M1291 240v1M1291 242v6M1291 252v1M1291 264v1M1291 270v2M1315 177v1M1315 250v2M1315 254v2M1315 257v1M1315 260v2M1315 264v1M1339 190v3M1339 258v2M1339 261v1M1339 265v5M1368 193v1M1368 264v1M1368 266v2M1368 270v2M1392 194v6M1392 265v3M1392 269v4"/>
<path stroke="#164afe" stroke-width="4" d="M1238 188v2M1238 236v1M1262 177v1M1262 222v3M1291 160v1M1291 232v2M1291 236v1M1291 238v2M1291 241v1M1315 178v2M1315 238v10M1315 249v1M1315 252v1M1315 256v1M1339 193v1M1339 253v3M1339 264v1M1368 196v4M1368 256v1M1368 258v6M1368 265v1M1368 268v1M1392 200v2M1392 257v3M1392 261v4"/>
<path stroke="#0c6aff" stroke-width="4" d="M1238 190v2M1238 224v1M1238 226v6M1238 233v3M1262 213v1M1262 217v5M1291 161v1M1291 214v3M1291 222v4M1291 229v3M1291 234v2M1315 229v3M1315 233v1M1315 236v2M1339 194v2M1339 246v2M1339 250v3M1339 257v1M1368 200v1M1368 249v1M1368 252v4M1368 257v1M1392 254v3M1392 260v1"/>
<path stroke="#0096ff" stroke-width="4" d="M1238 192v2M1238 225v1M1262 178v2M1262 212v1M1262 214v3M1291 212v2M1291 217v5M1315 180v1M1315 225v4M1315 232v1M1315 234v2M1339 242v2M1339 245v1M1339 248v1M1368 201v1M1368 248v1M1368 250v2M1392 202v3M1392 250v4"/>
<path stroke="#00e1f0" stroke-width="4" d="M1238 194v2M1238 220v2M1291 208v1M1315 220v1M1315 222v3M1339 197v1M1339 237v1M1368 204v1M1368 244v1M1392 206v2"/>
<path stroke="#00f096" stroke-width="4" d="M1238 196v2M1238 217v1M1262 185v1M1262 206v2M1291 197v1M1291 202v2M1315 216v1M1339 200v1M1339 232v1M1339 234v2M1368 234v3M1392 241v3"/>
<path stroke="#19f051" stroke-width="4" d="M1238 198v2M1238 216v1M1262 205v1M1291 200v1M1315 182v2M1315 212v2M1339 201v1M1339 228v1M1339 233v1M1368 206v2M1368 232v1M1392 212v1M1392 238v3"/>
<path stroke="#83f40c" stroke-width="4" d="M1238 200v1M1238 212v1M1262 188v1M1262 202v3M1291 184v2M1291 189v5M1315 200v1M1315 208v1M1339 202v2M1339 221v4M1368 209v3M1368 228v1M1368 230v2M1368 233v1M1392 214v3M1392 234v2"/>
<path stroke="#fccc00" stroke-width="4" d="M1238 201v3M1262 190v2M1262 200v1M1291 166v2M1291 174v3M1315 193v1M1315 196v2M1339 213v1M1339 216v1M1339 218v2M1368 212v2M1368 220v2M1392 220v1M1392 229v1"/>
<path stroke="#ff7500" stroke-width="4" d="M1238 204v4M1262 193v1M1262 196v2M1291 168v1M1291 170v3M1315 185v1M1315 189v3M1368 214v2M1368 218v2M1392 221v1"/>
<path stroke="#fe9f00" stroke-width="4" d="M1238 208v2M1291 177v3M1315 188v1M1315 194v2M1339 208v1M1368 216v2M1392 218v2M1392 226v3M1392 230v2"/>
<path stroke="#bef400" stroke-width="4" d="M1238 210v2M1238 213v1M1291 182v2M1291 188v1M1315 184v1M1315 198v2M1315 204v1M1339 225v1M1368 224v1M1368 226v2M1392 217v1M1392 232v1M1392 236v1"/>
<path stroke="#42f120" stroke-width="4" d="M1238 214v2M1262 186v2M1291 165v1M1291 194v3M1291 198v2M1315 205v3M1315 209v3M1339 226v2M1339 229v3M1368 208v1M1368 229v1M1392 213v1M1392 237v1"/>
<path stroke="#00e8c3" stroke-width="4" d="M1238 218v2M1262 182v3M1262 208v2M1291 164v1M1291 201v1M1291 204v4M1315 214v2M1315 217v3M1315 221v1M1339 198v2M1339 236v1M1339 238v2M1368 205v1M1368 237v7M1392 208v4M1392 244v2"/>
<path stroke="#00bbf8" stroke-width="4" d="M1238 222v2M1262 180v2M1262 210v2M1291 162v2M1291 209v3M1315 181v1M1339 196v1M1339 240v2M1339 244v1M1368 202v2M1368 245v3M1392 205v1M1392 246v4"/>
<path stroke="#4657f8" stroke-width="4" d="M1238 237v1M1238 241v1M1238 246v1M1238 254v1M1238 256v1M1262 172v1M1262 253v1M1262 258v1M1262 266v1M1291 226v1M1291 237v1M1291 249v1M1291 253v1M1291 254v1M1291 256v1M1291 266v1M1339 260v1M1339 270v1M1368 194v2"/>
<path stroke="#f0f100" stroke-width="4" d="M1262 189v1M1262 198v2M1262 201v1M1291 180v2M1291 186v2M1315 201v3M1339 204v1M1339 214v2M1339 217v1M1339 220v1M1368 222v2M1368 225v1M1392 233v1"/>
<path stroke="#ff4c00" stroke-width="4" d="M1262 192v1M1262 194v2M1291 169v1M1315 186v2M1315 192v1M1339 206v2M1339 209v4M1392 224v1"/>
<path stroke="#ff2300" stroke-width="4" d="M1291 173v1M1339 205v1M1392 222v2M1392 225v1"/>
</g>
<path d="M1226.5 272.7H1393.9" stroke="#555" stroke-width="1.1" fill="none"/>
<path d="M1226.5 272.5H1230.3" stroke="#58c040" stroke-width="1.5" fill="none"/>
<path d="M1231.3 272.5H1239.9" stroke="#c8281e" stroke-width="1.5" fill="none"/>
<path d="M1240.9 272.5H1264.0" stroke="#40b8a0" stroke-width="1.5" fill="none"/>
<path d="M1265.0 272.5H1393.9" stroke="#c8281e" stroke-width="1.5" fill="none"/>
<path d="M1226.5 273.0V107.5H1394.5V273.0" fill="none" stroke="#6a6a6a" stroke-width="1.25"/>
<path d="M1228.4 272.4v4.2M1271.7 272.4v4.2M1319.8 272.4v4.2M1367.9 272.4v4.2M1392.0 272.4v4.2" stroke="#333" stroke-width="1.1" fill="none"/>
<path d="M1228.4 272.4v1.6M1233.2 272.4v1.6M1238.0 272.4v1.6M1242.8 272.4v1.6M1247.7 272.4v1.6M1252.5 272.4v1.6M1257.3 272.4v1.6M1262.1 272.4v1.6M1266.9 272.4v1.6M1271.7 272.4v1.6M1276.5 272.4v1.6M1281.3 272.4v1.6M1286.1 272.4v1.6M1291.0 272.4v1.6M1295.8 272.4v1.6M1300.6 272.4v1.6M1305.4 272.4v1.6M1310.2 272.4v1.6M1315.0 272.4v1.6M1319.8 272.4v1.6M1324.6 272.4v1.6M1329.4 272.4v1.6M1334.3 272.4v1.6M1339.1 272.4v1.6M1343.9 272.4v1.6M1348.7 272.4v1.6M1353.5 272.4v1.6M1358.3 272.4v1.6M1363.1 272.4v1.6M1367.9 272.4v1.6M1372.7 272.4v1.6M1377.6 272.4v1.6M1382.4 272.4v1.6M1387.2 272.4v1.6M1392.0 272.4v1.6" stroke="#333" stroke-width="0.6" fill="none"/>
<text x="1226.3" y="285.3" font-size="8.6" fill="#1c1c1c" textLength="4.2" lengthAdjust="spacingAndGlyphs">1</text>
<text x="1267.5" y="285.3" font-size="8.6" fill="#1c1c1c" textLength="8.4" lengthAdjust="spacingAndGlyphs">10</text>
<text x="1315.6" y="285.3" font-size="8.6" fill="#1c1c1c" textLength="8.4" lengthAdjust="spacingAndGlyphs">20</text>
<text x="1363.7" y="285.3" font-size="8.6" fill="#1c1c1c" textLength="8.4" lengthAdjust="spacingAndGlyphs">30</text>
<text x="1387.8" y="285.3" font-size="8.6" fill="#1c1c1c" textLength="8.4" lengthAdjust="spacingAndGlyphs">35</text>
<rect x="1401.9" y="92.8" width="10.7" height="10.7" fill="#1478b8"/>
<path d="M1407.25 99.15L1411.75 98.15L1407.25 97.15ZM1406.76 98.64L1409.72 100.62L1407.74 97.66ZM1406.25 98.15L1407.25 102.65L1408.25 98.15ZM1406.76 97.66L1404.78 100.62L1407.74 98.64ZM1407.25 97.15L1402.75 98.15L1407.25 99.15ZM1407.74 97.66L1404.78 95.68L1406.76 98.64ZM1408.25 98.15L1407.25 93.65L1406.25 98.15ZM1407.74 98.64L1409.72 95.68L1406.76 97.66Z" fill="#fff"/>
<circle cx="1407.25" cy="98.15" r="2.0" fill="#fff"/>
<text x="1416.3" y="101.9" font-size="9.3" fill="#1c1c1c" textLength="25.2" lengthAdjust="spacingAndGlyphs">488nm</text>
<g fill="none">
<path stroke="#a8b0f7" stroke-width="5" d="M1404.5 177v1M1404.5 260v1M1409.5 174v1M1409.5 176v1M1409.5 214v1M1409.5 222v1M1409.5 224v1M1418.5 208v1M1418.5 230v1M1418.5 249v1M1418.5 254v1M1423.5 213v1M1423.5 237v1M1423.5 245v1M1428.5 181v1M1428.5 232v1M1428.5 236v1M1428.5 262v1M1433.5 217v1M1433.5 233v1M1433.5 234v1M1433.5 257v1M1438.5 148v1M1438.5 149v1M1438.5 217v1M1438.5 228v1M1447.5 222v1M1447.5 224v1M1447.5 226v1M1447.5 232v1M1447.5 245v1M1447.5 253v1M1447.5 256v1M1447.5 262v1M1452.5 127v1M1452.5 216v1M1452.5 221v1M1452.5 237v1M1457.5 136v1M1457.5 139v1M1457.5 181v1M1457.5 245v1M1462.5 156v1M1462.5 192v1M1462.5 246v1M1462.5 257v1M1462.5 261v1M1467.5 149v1M1467.5 246v1M1467.5 266v1M1467.5 270v1M1476.5 148v1M1476.5 265v1M1481.5 148v1M1481.5 244v1M1481.5 250v1M1481.5 258v1M1481.5 266v1M1481.5 269v1M1486.5 153v1M1486.5 244v1M1486.5 260v1M1491.5 157v1M1491.5 234v1M1491.5 237v1M1500.5 262v1M1505.5 166v1M1505.5 240v1M1505.5 254v1M1505.5 266v1M1510.5 244v1M1510.5 256v1M1510.5 265v1M1515.5 244v1M1515.5 249v1M1515.5 250v1M1515.5 258v1M1515.5 266v1M1515.5 269v1M1520.5 177v1M1520.5 262v1M1520.5 264v1M1520.5 268v1M1529.5 244v1M1529.5 256v1M1529.5 257v1M1534.5 184v1M1534.5 242v1M1534.5 262v1M1534.5 265v1M1534.5 266v1M1534.5 270v1M1539.5 240v1M1539.5 250v1M1539.5 262v1M1544.5 253v1M1544.5 257v1M1544.5 266v1M1553.5 180v1M1553.5 184v1M1553.5 246v1M1553.5 264v1M1553.5 272v1"/>
<path stroke="#164afe" stroke-width="5" d="M1404.5 178v2M1404.5 206v3M1409.5 177v1M1409.5 206v3M1409.5 210v2M1418.5 206v2M1418.5 209v1M1423.5 206v4M1423.5 212v1M1428.5 182v2M1428.5 222v6M1428.5 229v1M1433.5 162v2M1433.5 206v6M1433.5 213v1M1433.5 216v1M1433.5 218v3M1433.5 222v2M1438.5 208v4M1438.5 213v3M1438.5 222v2M1447.5 177v1M1447.5 209v1M1452.5 170v2M1452.5 177v1M1452.5 181v3M1452.5 210v2M1452.5 218v2M1452.5 222v2M1457.5 140v1M1457.5 180v1M1457.5 184v1M1457.5 186v2M1457.5 212v1M1462.5 225v4M1462.5 240v4M1462.5 250v2M1462.5 253v1M1467.5 151v1M1467.5 224v6M1467.5 233v3M1467.5 240v1M1467.5 242v2M1467.5 245v1M1467.5 249v1M1467.5 253v1M1476.5 149v2M1476.5 196v1M1476.5 226v3M1476.5 232v1M1476.5 236v2M1476.5 242v2M1476.5 245v1M1481.5 229v7M1481.5 241v1M1486.5 155v1M1486.5 228v4M1486.5 233v1M1486.5 236v4M1486.5 242v2M1486.5 245v3M1486.5 249v1M1491.5 160v1M1491.5 229v5M1491.5 236v1M1491.5 238v2M1491.5 241v1M1491.5 244v1M1491.5 250v2M1500.5 232v1M1500.5 234v4M1500.5 240v1M1500.5 242v2M1500.5 246v2M1500.5 254v2M1505.5 233v3M1505.5 237v3M1505.5 242v2M1505.5 245v1M1505.5 256v2M1505.5 262v2M1510.5 173v1M1510.5 232v2M1510.5 237v7M1510.5 245v1M1510.5 250v2M1510.5 253v1M1515.5 176v1M1515.5 234v10M1515.5 245v3M1515.5 253v1M1515.5 261v1M1520.5 234v4M1520.5 242v2M1520.5 246v2M1520.5 250v3M1520.5 257v1M1529.5 237v3M1529.5 241v3M1529.5 245v3M1529.5 249v1M1529.5 252v2M1534.5 234v4M1534.5 240v2M1534.5 244v4M1534.5 249v1M1534.5 257v1M1539.5 236v4M1539.5 241v7M1539.5 252v1M1539.5 264v1M1544.5 186v2M1544.5 236v4M1544.5 241v5M1544.5 248v1M1544.5 252v1M1544.5 254v2M1544.5 258v2M1553.5 185v1M1553.5 234v4M1553.5 240v6M1553.5 248v1M1553.5 250v4M1553.5 256v1M1553.5 260v1"/>
<path stroke="#0096ff" stroke-width="5" d="M1404.5 180v1M1404.5 204v1M1409.5 204v2M1418.5 204v1M1423.5 178v2M1428.5 184v2M1428.5 218v2M1433.5 181v5M1438.5 168v12M1438.5 185v1M1438.5 205v1M1447.5 151v5M1447.5 158v4M1447.5 164v1M1452.5 132v1M1452.5 148v4M1452.5 155v2M1452.5 161v1M1452.5 165v3M1457.5 141v2M1457.5 158v7M1457.5 166v2M1457.5 170v3M1457.5 174v2M1457.5 177v1M1457.5 190v2M1457.5 206v3M1462.5 161v1M1462.5 178v4M1462.5 184v2M1462.5 190v2M1462.5 193v3M1462.5 204v1M1462.5 216v2M1462.5 220v1M1467.5 152v1M1467.5 169v4M1467.5 174v2M1467.5 177v1M1467.5 185v1M1467.5 188v1M1467.5 196v1M1467.5 220v4M1476.5 166v2M1476.5 169v1M1476.5 172v2M1476.5 176v1M1476.5 178v3M1476.5 184v1M1476.5 189v1M1476.5 193v1M1476.5 197v1M1476.5 221v3M1481.5 170v4M1481.5 177v1M1481.5 180v2M1481.5 185v1M1481.5 198v2M1481.5 222v3M1486.5 156v1M1486.5 173v5M1486.5 181v3M1486.5 186v3M1486.5 190v4M1486.5 198v2M1486.5 222v4M1491.5 178v4M1491.5 184v2M1491.5 192v2M1491.5 198v3M1491.5 224v1M1500.5 169v1M1500.5 188v4M1500.5 193v5M1500.5 201v1M1500.5 226v2M1500.5 229v1M1505.5 190v7M1505.5 198v2M1505.5 201v1M1505.5 226v3M1510.5 196v1M1510.5 198v2M1510.5 201v1M1510.5 226v2M1510.5 229v3M1515.5 177v1M1515.5 194v3M1515.5 198v4M1515.5 228v1M1520.5 198v4M1520.5 230v3M1529.5 184v1M1529.5 201v1M1529.5 229v1M1529.5 233v1M1534.5 186v2M1534.5 230v3M1539.5 188v1M1539.5 230v3M1544.5 233v1M1553.5 230v2"/>
<path stroke="#00e1f0" stroke-width="5" d="M1404.5 181v1M1409.5 180v1M1409.5 202v2M1418.5 178v2M1423.5 180v1M1428.5 214v2M1433.5 178v2M1433.5 202v2M1438.5 153v2M1438.5 202v2M1447.5 136v1M1447.5 149v2M1447.5 186v3M1452.5 133v2M1452.5 188v1M1452.5 205v1M1457.5 143v1M1457.5 157v1M1462.5 205v3M1462.5 209v3M1462.5 214v2M1467.5 153v2M1467.5 197v4M1467.5 214v2M1467.5 217v3M1476.5 218v2M1481.5 153v2M1481.5 220v1M1486.5 201v1M1491.5 161v3M1491.5 177v1M1491.5 201v1M1491.5 218v6M1500.5 222v3M1505.5 220v1M1505.5 225v1M1510.5 222v2M1515.5 204v1M1515.5 224v2M1520.5 196v1M1520.5 226v3M1529.5 185v1M1529.5 204v1M1529.5 224v1M1529.5 226v2M1539.5 224v1M1544.5 224v1M1544.5 226v2M1553.5 225v1M1553.5 228v1"/>
<path stroke="#00f096" stroke-width="5" d="M1404.5 182v2M1404.5 200v2M1409.5 200v2M1423.5 181v1M1423.5 200v1M1428.5 190v2M1428.5 210v2M1428.5 213v1M1433.5 177v1M1433.5 188v1M1438.5 188v1M1438.5 201v1M1447.5 148v1M1452.5 145v2M1457.5 144v1M1457.5 194v2M1457.5 198v2M1457.5 202v2M1462.5 164v1M1462.5 208v1M1462.5 212v1M1467.5 155v1M1467.5 205v1M1467.5 209v5M1476.5 152v1M1476.5 208v1M1476.5 210v3M1481.5 155v1M1481.5 202v4M1481.5 208v1M1481.5 213v1M1486.5 158v2M1486.5 205v4M1486.5 210v3M1486.5 214v4M1491.5 176v1M1491.5 204v5M1491.5 210v2M1491.5 213v5M1500.5 208v1M1500.5 212v1M1500.5 216v5M1505.5 188v1M1505.5 208v2M1505.5 213v4M1510.5 190v2M1510.5 209v3M1510.5 216v1M1510.5 221v1M1515.5 180v1M1515.5 205v4M1515.5 218v4M1520.5 206v2M1520.5 217v5M1529.5 205v3M1529.5 222v2M1534.5 189v1M1534.5 206v2M1534.5 221v4M1539.5 202v2M1539.5 205v1M1539.5 221v3M1544.5 204v1M1544.5 218v2M1544.5 221v3M1553.5 189v1M1553.5 204v1M1553.5 221v4"/>
<path stroke="#19f051" stroke-width="5" d="M1404.5 184v1M1404.5 198v2M1409.5 182v3M1418.5 200v1M1428.5 189v1M1433.5 166v2M1433.5 176v1M1433.5 189v1M1433.5 200v1M1438.5 155v2M1438.5 164v1M1447.5 137v2M1447.5 201v1M1452.5 189v3M1452.5 200v2M1457.5 155v2M1457.5 196v2M1457.5 200v2M1462.5 176v1M1467.5 165v1M1467.5 201v4M1467.5 206v3M1476.5 162v2M1476.5 205v3M1476.5 209v1M1481.5 206v2M1481.5 209v4M1486.5 209v1M1486.5 213v1M1491.5 164v1M1491.5 209v1M1491.5 212v1M1500.5 184v1M1500.5 209v3M1500.5 213v3M1505.5 210v3M1505.5 217v1M1510.5 177v3M1510.5 208v1M1510.5 212v2M1510.5 217v1M1515.5 192v1M1515.5 209v1M1515.5 213v5M1520.5 182v2M1520.5 208v1M1520.5 210v2M1520.5 213v1M1520.5 216v1M1529.5 208v1M1529.5 212v1M1529.5 218v4M1534.5 216v1M1534.5 218v3M1539.5 190v2M1539.5 206v2M1539.5 218v3M1544.5 190v3M1544.5 206v2M1553.5 190v2M1553.5 202v2M1553.5 220v1"/>
<path stroke="#42f120" stroke-width="5" d="M1404.5 185v1M1409.5 197v3M1418.5 181v1M1418.5 198v2M1423.5 182v3M1428.5 192v2M1428.5 208v2M1433.5 168v1M1433.5 197v3M1438.5 189v1M1438.5 200v1M1447.5 139v1M1447.5 147v1M1447.5 189v3M1447.5 200v1M1452.5 135v1M1452.5 144v1M1452.5 198v2M1457.5 145v2M1462.5 165v1M1476.5 153v2M1481.5 165v1M1486.5 169v1M1491.5 174v2M1500.5 173v1M1500.5 182v2M1505.5 186v2M1510.5 214v2M1515.5 181v1M1515.5 190v2M1515.5 210v3M1520.5 184v1M1520.5 194v2M1520.5 209v1M1520.5 212v1M1520.5 214v2M1529.5 188v1M1529.5 198v2M1529.5 209v3M1529.5 214v4M1534.5 201v1M1534.5 208v5M1534.5 217v1M1539.5 192v1M1539.5 201v1M1539.5 208v2M1539.5 216v2M1544.5 202v2M1544.5 205v1M1544.5 212v1M1544.5 217v1M1544.5 220v1M1553.5 213v3M1553.5 217v3"/>
<path stroke="#bef400" stroke-width="5" d="M1404.5 186v2M1404.5 194v3M1409.5 194v2M1418.5 182v4M1418.5 192v1M1418.5 196v1M1423.5 193v1M1433.5 169v1M1433.5 174v2M1433.5 194v3M1438.5 196v1M1447.5 193v1M1447.5 197v1M1452.5 143v1M1452.5 192v1M1457.5 147v2M1462.5 166v2M1481.5 156v2M1481.5 164v1M1486.5 161v1M1500.5 181v1M1510.5 180v1M1515.5 182v2M1529.5 189v1M1544.5 201v1M1553.5 206v7"/>
<path stroke="#fccc00" stroke-width="5" d="M1404.5 188v1M1404.5 193v1M1418.5 193v1M1423.5 185v1M1423.5 188v1M1428.5 196v1M1428.5 198v2M1428.5 201v3M1433.5 172v2M1433.5 193v1M1438.5 158v2M1438.5 162v2M1438.5 194v2M1447.5 140v1M1447.5 144v1M1452.5 141v2M1457.5 149v2M1467.5 160v4M1476.5 160v1M1481.5 160v1M1481.5 162v2M1486.5 164v1M1491.5 168v1M1491.5 170v2M1515.5 184v1M1515.5 188v1M1520.5 186v2M1529.5 194v2M1534.5 192v1M1539.5 193v3M1539.5 200v1M1553.5 194v2"/>
<path stroke="#fe9f00" stroke-width="5" d="M1404.5 189v1M1409.5 190v2M1409.5 193v1M1418.5 188v1M1423.5 186v2M1423.5 192v1M1428.5 197v1M1428.5 205v1M1438.5 160v2M1452.5 139v2M1462.5 168v1M1462.5 172v1M1476.5 156v1M1476.5 158v2M1481.5 158v2M1486.5 166v2M1491.5 169v1M1491.5 172v1M1500.5 176v1M1510.5 182v2M1510.5 185v3M1515.5 185v1M1529.5 196v1M1534.5 193v1M1539.5 197v1M1544.5 196v1"/>
<path stroke="#ff7500" stroke-width="5" d="M1404.5 190v3M1409.5 189v1M1418.5 186v2M1423.5 189v1M1428.5 200v1M1428.5 204v1M1447.5 141v2M1462.5 169v3M1467.5 158v2M1476.5 157v1M1481.5 161v1M1486.5 165v1M1500.5 178v3M1505.5 181v3M1520.5 188v1M1520.5 190v2M1529.5 192v2M1534.5 194v2M1539.5 196v1M1544.5 198v2M1553.5 200v1"/>
<path stroke="#83f40c" stroke-width="5" d="M1404.5 197v1M1409.5 185v3M1409.5 196v1M1418.5 197v1M1423.5 196v4M1428.5 194v2M1433.5 190v2M1438.5 190v3M1438.5 197v3M1447.5 145v2M1447.5 196v1M1447.5 198v2M1452.5 193v1M1452.5 196v2M1457.5 153v2M1462.5 174v2M1467.5 156v2M1467.5 164v1M1476.5 155v1M1476.5 161v1M1486.5 160v1M1486.5 168v1M1491.5 165v3M1491.5 173v1M1500.5 174v2M1505.5 176v2M1505.5 185v1M1510.5 189v1M1520.5 193v1M1529.5 197v1M1529.5 213v1M1534.5 190v2M1534.5 200v1M1534.5 213v3M1539.5 210v6M1544.5 193v1M1544.5 208v4M1544.5 213v4M1553.5 201v1M1553.5 205v1M1553.5 216v1"/>
<path stroke="#00bbf8" stroke-width="5" d="M1404.5 202v2M1418.5 177v1M1423.5 202v3M1428.5 186v2M1428.5 216v1M1433.5 164v1M1433.5 180v1M1433.5 204v1M1438.5 204v1M1447.5 205v1M1452.5 147v1M1452.5 186v2M1452.5 206v2M1462.5 162v2M1462.5 218v2M1467.5 168v1M1476.5 151v1M1476.5 165v1M1476.5 198v2M1476.5 217v1M1476.5 220v1M1481.5 152v1M1481.5 200v1M1481.5 221v1M1486.5 172v1M1486.5 200v1M1486.5 220v2M1491.5 225v1M1500.5 170v2M1500.5 202v3M1500.5 225v1M1505.5 173v1M1505.5 189v1M1505.5 202v3M1505.5 222v2M1510.5 174v3M1510.5 192v1M1510.5 202v3M1510.5 225v1M1510.5 228v1M1515.5 178v2M1515.5 202v2M1515.5 226v2M1515.5 229v1M1520.5 180v1M1520.5 197v1M1520.5 202v2M1520.5 225v1M1520.5 229v1M1529.5 202v2M1529.5 228v1M1534.5 228v2M1539.5 226v4M1544.5 188v1M1544.5 228v4M1553.5 186v2M1553.5 229v1"/>
<path stroke="#0c6aff" stroke-width="5" d="M1404.5 205v1M1409.5 178v2M1418.5 176v1M1418.5 205v1M1423.5 177v1M1423.5 205v1M1428.5 217v1M1428.5 220v2M1433.5 205v1M1438.5 152v1M1438.5 180v5M1438.5 206v2M1447.5 135v1M1447.5 156v2M1447.5 162v2M1447.5 165v12M1447.5 178v8M1447.5 206v3M1452.5 152v3M1452.5 157v4M1452.5 162v2M1452.5 169v1M1452.5 172v2M1452.5 176v1M1452.5 178v3M1452.5 184v2M1452.5 208v2M1457.5 165v1M1457.5 168v2M1457.5 173v1M1457.5 176v1M1457.5 178v2M1457.5 182v2M1457.5 185v1M1457.5 188v2M1457.5 209v3M1462.5 160v1M1462.5 182v2M1462.5 186v4M1462.5 196v8M1462.5 221v4M1462.5 229v1M1467.5 173v1M1467.5 176v1M1467.5 178v7M1467.5 186v2M1467.5 189v7M1476.5 168v1M1476.5 174v2M1476.5 177v1M1476.5 181v3M1476.5 185v4M1476.5 190v3M1476.5 194v2M1476.5 224v2M1481.5 168v2M1481.5 174v3M1481.5 178v2M1481.5 182v3M1481.5 186v12M1481.5 225v4M1486.5 178v3M1486.5 184v2M1486.5 189v1M1486.5 194v4M1486.5 226v2M1491.5 182v2M1491.5 186v4M1491.5 194v4M1491.5 226v3M1500.5 186v2M1500.5 192v1M1500.5 198v3M1500.5 228v1M1500.5 230v2M1505.5 172v1M1505.5 197v1M1505.5 200v1M1505.5 229v4M1510.5 193v3M1510.5 197v1M1510.5 200v1M1515.5 197v1M1515.5 230v4M1520.5 178v2M1520.5 233v1M1529.5 230v3M1529.5 234v3M1534.5 185v1M1534.5 233v1M1539.5 186v2M1539.5 233v3M1544.5 232v1M1544.5 234v2M1553.5 232v2"/>
<path stroke="#1b3bfc" stroke-width="5" d="M1404.5 210v4M1404.5 217v1M1404.5 220v1M1404.5 224v1M1404.5 240v1M1404.5 245v1M1409.5 209v1M1409.5 213v1M1409.5 240v1M1418.5 210v3M1418.5 214v2M1418.5 217v1M1418.5 226v2M1418.5 229v1M1423.5 176v1M1423.5 210v2M1423.5 214v3M1423.5 226v2M1423.5 233v1M1428.5 230v2M1428.5 233v1M1433.5 212v1M1433.5 214v2M1433.5 224v4M1433.5 230v2M1433.5 237v1M1433.5 249v1M1433.5 266v2M1438.5 151v1M1438.5 212v1M1438.5 216v1M1438.5 221v1M1438.5 224v1M1438.5 229v4M1438.5 237v1M1438.5 240v1M1438.5 245v1M1438.5 249v1M1447.5 210v2M1447.5 213v1M1447.5 217v5M1447.5 225v1M1447.5 228v1M1447.5 236v1M1447.5 241v1M1447.5 260v1M1452.5 212v4M1452.5 217v1M1452.5 220v1M1452.5 225v1M1452.5 228v1M1452.5 232v1M1452.5 234v2M1452.5 241v1M1452.5 248v1M1457.5 213v7M1457.5 221v3M1457.5 226v10M1457.5 249v1M1457.5 257v1M1462.5 232v1M1462.5 238v2M1462.5 245v1M1462.5 248v2M1462.5 252v1M1462.5 256v1M1462.5 262v2M1462.5 265v1M1462.5 269v1M1467.5 237v3M1467.5 241v1M1467.5 244v1M1467.5 250v3M1467.5 254v3M1467.5 258v2M1467.5 261v5M1467.5 269v1M1467.5 272v1M1476.5 229v1M1476.5 233v3M1476.5 241v1M1476.5 244v1M1476.5 246v10M1476.5 257v4M1476.5 262v3M1476.5 266v6M1481.5 151v1M1481.5 237v4M1481.5 246v3M1481.5 252v1M1481.5 257v1M1481.5 260v4M1481.5 268v1M1481.5 270v2M1486.5 232v1M1486.5 234v2M1486.5 248v1M1486.5 253v7M1486.5 261v4M1486.5 268v1M1486.5 270v2M1491.5 240v1M1491.5 242v2M1491.5 245v5M1491.5 252v1M1491.5 254v3M1491.5 258v4M1491.5 264v1M1491.5 266v3M1491.5 270v2M1500.5 168v1M1500.5 233v1M1500.5 238v2M1500.5 245v1M1500.5 248v5M1500.5 256v6M1500.5 264v5M1500.5 270v2M1505.5 236v1M1505.5 241v1M1505.5 244v1M1505.5 246v2M1505.5 250v4M1505.5 258v2M1505.5 261v1M1505.5 264v2M1505.5 268v1M1505.5 270v2M1510.5 234v3M1510.5 246v4M1510.5 254v2M1510.5 258v4M1510.5 264v1M1510.5 268v4M1515.5 252v1M1515.5 256v1M1515.5 260v1M1515.5 262v4M1520.5 238v2M1520.5 241v1M1520.5 244v2M1520.5 249v1M1520.5 253v4M1520.5 258v4M1520.5 265v1M1520.5 269v1M1529.5 182v2M1529.5 240v1M1529.5 248v1M1529.5 254v2M1529.5 258v6M1529.5 265v3M1529.5 269v1M1534.5 238v2M1534.5 250v7M1534.5 258v3M1534.5 269v1M1539.5 248v1M1539.5 253v7M1539.5 261v1M1539.5 265v4M1544.5 249v3M1544.5 256v1M1544.5 260v6M1544.5 268v1M1553.5 238v2M1553.5 249v1M1553.5 254v2M1553.5 257v1M1553.5 262v2M1553.5 265v5"/>
<path stroke="#4657f8" stroke-width="5" d="M1404.5 214v1M1404.5 216v1M1404.5 218v1M1404.5 221v1M1404.5 225v1M1404.5 236v1M1404.5 258v1M1409.5 216v1M1409.5 217v1M1409.5 220v1M1409.5 221v1M1409.5 230v1M1409.5 233v1M1409.5 238v1M1418.5 174v1M1418.5 213v1M1418.5 216v1M1418.5 222v1M1418.5 228v1M1418.5 234v1M1418.5 237v1M1418.5 238v1M1418.5 241v1M1418.5 242v1M1418.5 244v1M1418.5 245v1M1418.5 248v1M1423.5 222v1M1423.5 230v1M1423.5 236v1M1423.5 241v1M1423.5 242v1M1423.5 250v1M1428.5 234v1M1428.5 237v1M1428.5 240v1M1428.5 249v1M1428.5 256v1M1433.5 221v1M1433.5 228v1M1433.5 229v1M1433.5 236v1M1433.5 242v1M1433.5 246v1M1433.5 250v1M1438.5 225v1M1438.5 234v1M1438.5 236v1M1438.5 241v1M1438.5 252v1M1438.5 264v1M1447.5 133v1M1447.5 216v1M1447.5 230v2M1447.5 233v1M1447.5 238v1M1447.5 240v1M1447.5 244v1M1447.5 249v1M1447.5 266v1M1447.5 268v1M1452.5 129v1M1452.5 226v1M1452.5 229v3M1452.5 233v1M1452.5 240v1M1452.5 242v1M1452.5 245v1M1452.5 252v1M1457.5 225v1M1457.5 236v1M1457.5 238v1M1457.5 241v1M1457.5 242v1M1457.5 246v1M1457.5 248v1M1457.5 252v1M1457.5 254v1M1462.5 230v1M1462.5 258v2M1467.5 232v1M1467.5 236v1M1467.5 248v1M1476.5 261v1M1481.5 242v1M1481.5 245v1M1481.5 249v1M1481.5 254v1M1481.5 264v1M1486.5 240v1M1486.5 252v1M1486.5 265v1M1486.5 266v1M1491.5 265v1M1491.5 269v1M1500.5 164v1M1500.5 253v1M1505.5 269v1M1510.5 257v1M1510.5 272v1M1515.5 174v1M1520.5 174v1M1520.5 266v2M1520.5 270v2M1520.5 272v1M1529.5 272v1M1534.5 264v1M1534.5 268v1M1553.5 261v1"/>
<path stroke="#00e8c3" stroke-width="5" d="M1409.5 181v1M1418.5 180v1M1418.5 201v3M1423.5 201v1M1428.5 188v1M1428.5 212v1M1433.5 165v1M1433.5 186v2M1433.5 201v1M1438.5 165v3M1438.5 186v2M1447.5 202v3M1452.5 202v3M1457.5 192v2M1457.5 204v2M1462.5 177v1M1462.5 213v1M1467.5 166v2M1467.5 216v1M1476.5 164v1M1476.5 200v5M1476.5 213v4M1481.5 166v2M1481.5 201v1M1481.5 214v6M1486.5 157v1M1486.5 170v2M1486.5 202v3M1486.5 218v2M1491.5 202v2M1500.5 172v1M1500.5 185v1M1500.5 205v3M1500.5 221v1M1505.5 174v2M1505.5 205v3M1505.5 218v2M1505.5 221v1M1505.5 224v1M1510.5 205v3M1510.5 218v3M1510.5 224v1M1515.5 193v1M1515.5 222v2M1520.5 181v1M1520.5 204v2M1520.5 222v3M1529.5 186v2M1529.5 200v1M1529.5 225v1M1534.5 188v1M1534.5 202v4M1534.5 225v3M1539.5 189v1M1539.5 204v1M1539.5 225v1M1544.5 189v1M1544.5 225v1M1553.5 188v1M1553.5 226v2"/>
<path stroke="#f0f100" stroke-width="5" d="M1409.5 188v1M1418.5 190v2M1418.5 194v2M1423.5 194v2M1428.5 206v2M1433.5 170v2M1433.5 192v1M1438.5 157v1M1438.5 193v1M1447.5 143v1M1447.5 192v1M1447.5 194v2M1452.5 136v3M1452.5 194v2M1457.5 151v2M1462.5 173v1M1486.5 162v2M1505.5 178v2M1505.5 184v1M1510.5 181v1M1510.5 188v1M1515.5 189v1M1520.5 185v1M1520.5 192v1M1529.5 190v2M1534.5 198v2M1539.5 198v2M1544.5 194v2M1553.5 192v2"/>
<path stroke="#ff4c00" stroke-width="5" d="M1409.5 192v1M1418.5 189v1M1423.5 190v2M1500.5 177v1M1505.5 180v1M1510.5 184v1M1515.5 186v2M1534.5 196v2M1544.5 197v1M1544.5 200v1M1553.5 197v3"/>
<path stroke="#4657f8" stroke-width="4" d="M1414 174v1M1414 217v1M1414 224v1M1414 226v1M1414 229v1M1414 236v1M1414 241v1M1414 261v1M1443 139v1M1443 222v1M1443 226v3M1443 232v1M1443 260v1M1472 244v1M1472 265v1M1472 272v1M1496 234v1M1525 264v1M1525 265v1M1525 272v1M1549 254v1M1549 262v2M1549 270v2M1549 272v1"/>
<path stroke="#164afe" stroke-width="4" d="M1414 176v1M1414 206v3M1414 212v1M1443 140v1M1443 181v1M1443 184v1M1443 208v5M1443 217v1M1443 224v1M1472 193v1M1472 225v1M1472 229v1M1472 232v2M1472 237v1M1472 241v1M1472 252v1M1472 261v1M1496 229v5M1496 236v1M1496 238v6M1496 245v3M1496 253v1M1496 261v1M1525 236v10M1525 248v1M1525 250v3M1525 256v1M1549 185v1M1549 234v4M1549 240v5M1549 246v2M1549 250v3M1549 260v1"/>
<path stroke="#0c6aff" stroke-width="4" d="M1414 177v1M1414 205v1M1443 164v1M1443 166v2M1443 170v7M1443 178v3M1443 206v2M1472 149v2M1472 172v1M1472 176v2M1472 182v2M1472 185v1M1472 188v5M1472 194v3M1472 221v1M1472 224v1M1472 226v2M1496 165v1M1496 188v1M1496 193v3M1496 198v2M1496 228v1M1525 181v1M1525 201v1M1525 233v3M1549 233v1"/>
<path stroke="#0096ff" stroke-width="4" d="M1414 178v2M1414 204v1M1443 157v7M1443 165v1M1443 168v2M1443 177v1M1443 185v1M1443 205v1M1472 166v6M1472 173v3M1472 178v4M1472 184v1M1472 186v2M1472 197v1M1472 222v2M1496 184v4M1496 189v4M1496 196v2M1496 200v1M1496 226v2M1525 182v2M1525 200v1M1525 229v1M1525 232v1M1549 230v3"/>
<path stroke="#00e8c3" stroke-width="4" d="M1414 180v1M1414 202v2M1443 143v1M1443 156v1M1443 202v2M1472 201v1M1472 210v2M1472 213v3M1472 217v1M1496 168v1M1496 181v1M1496 218v2M1525 204v2M1549 188v1M1549 224v1"/>
<path stroke="#00f096" stroke-width="4" d="M1414 181v1M1414 200v1M1443 155v1M1443 188v1M1443 201v1M1472 152v1M1472 162v2M1472 202v3M1472 209v1M1496 180v1M1496 206v2M1496 210v2M1496 213v3M1496 217v1M1525 184v1M1525 197v1M1525 208v1M1525 221v4M1549 189v1M1549 222v2"/>
<path stroke="#42f120" stroke-width="4" d="M1414 182v2M1414 197v3M1443 144v1M1443 198v2M1496 169v1M1496 178v2M1525 210v4M1525 216v1M1549 190v2M1549 202v2M1549 205v1M1549 213v4"/>
<path stroke="#83f40c" stroke-width="4" d="M1414 184v1M1414 193v3M1443 153v2M1443 190v2M1472 153v2M1549 192v1M1549 206v2M1549 209v4M1549 217v1"/>
<path stroke="#bef400" stroke-width="4" d="M1414 185v1M1414 196v1M1443 145v2M1443 194v2M1443 197v1M1496 170v2M1525 186v2M1549 201v1M1549 208v1"/>
<path stroke="#fccc00" stroke-width="4" d="M1414 186v3M1443 147v1M1443 196v1M1472 160v1M1496 177v1M1525 188v2M1549 200v1"/>
<path stroke="#fe9f00" stroke-width="4" d="M1414 189v1M1443 148v1M1443 151v2M1472 155v1M1496 172v1M1496 174v2M1525 190v3M1549 193v1"/>
<path stroke="#ff4c00" stroke-width="4" d="M1414 190v2M1472 156v1M1496 173v1M1549 198v2"/>
<path stroke="#f0f100" stroke-width="4" d="M1414 192v1M1443 192v2M1525 194v2"/>
<path stroke="#00e1f0" stroke-width="4" d="M1414 201v1M1472 151v1M1472 198v3M1472 216v1M1472 218v2M1496 182v2M1496 202v3M1496 220v4M1525 198v2M1549 225v1M1549 229v1"/>
<path stroke="#a8b0f7" stroke-width="4" d="M1414 209v1M1414 210v1M1414 213v1M1414 233v1M1414 240v1M1443 137v1M1443 244v1M1443 253v1M1443 268v1M1472 145v1M1472 148v1M1472 234v1M1472 238v1M1472 254v1M1472 264v1M1472 269v1M1496 160v1M1496 252v1M1496 256v1M1496 260v1M1496 265v1M1525 253v1M1525 261v1M1525 269v1M1549 253v1M1549 256v1M1549 266v1"/>
<path stroke="#1b3bfc" stroke-width="4" d="M1414 214v3M1414 222v2M1414 225v1M1414 230v2M1414 250v2M1414 256v1M1443 213v4M1443 218v4M1443 225v1M1443 229v1M1443 233v1M1443 236v1M1443 242v2M1443 245v1M1472 228v1M1472 236v1M1472 240v1M1472 242v2M1472 245v7M1472 253v1M1472 256v1M1472 258v3M1472 262v2M1472 266v2M1496 164v1M1496 237v1M1496 244v1M1496 248v1M1496 250v2M1496 254v2M1496 257v1M1496 264v1M1496 266v4M1525 249v1M1525 254v2M1525 257v4M1525 262v2M1525 266v3M1525 270v2M1549 238v2M1549 245v1M1549 248v2M1549 257v3M1549 261v1M1549 264v2M1549 269v1"/>
<path stroke="#00bbf8" stroke-width="4" d="M1443 141v2M1443 186v2M1443 204v1M1472 164v2M1472 220v1M1496 166v2M1496 201v1M1496 224v2M1525 202v2M1525 225v4M1525 230v2M1549 186v2M1549 226v3"/>
<path stroke="#ff2300" stroke-width="4" d="M1443 149v2"/>
<path stroke="#19f051" stroke-width="4" d="M1443 189v1M1443 200v1M1472 161v1M1472 205v4M1472 212v1M1496 205v1M1496 208v2M1496 212v1M1496 216v1M1525 185v1M1525 196v1M1525 206v2M1525 209v1M1525 214v2M1525 217v4M1549 204v1M1549 218v4"/>
<path stroke="#ff7500" stroke-width="4" d="M1472 157v3M1496 176v1M1525 193v1M1549 194v4"/>
<path stroke="#ff2300" stroke-width="5" d="M1520.5 189v1M1553.5 196v1"/>
</g>
<path d="M1402.5 272.7H1555.8" stroke="#555" stroke-width="1.1" fill="none"/>
<path d="M1402.5 272.5H1430.4" stroke="#3c6ad0" stroke-width="1.5" fill="none"/>
<path d="M1431.4 272.5H1454.5" stroke="#48a860" stroke-width="1.5" fill="none"/>
<path d="M1455.5 272.5H1555.8" stroke="#c8281e" stroke-width="1.5" fill="none"/>
<path d="M1402.5 273.0V107.5H1556.5V273.0" fill="none" stroke="#6a6a6a" stroke-width="1.25"/>
<path d="M1404.4 272.4v4.2M1433.3 272.4v4.2M1481.6 272.4v4.2M1529.8 272.4v4.2M1553.9 272.4v4.2" stroke="#333" stroke-width="1.1" fill="none"/>
<path d="M1404.4 272.4v1.6M1409.2 272.4v1.6M1414.1 272.4v1.6M1418.9 272.4v1.6M1423.7 272.4v1.6M1428.5 272.4v1.6M1433.3 272.4v1.6M1438.2 272.4v1.6M1443.0 272.4v1.6M1447.8 272.4v1.6M1452.6 272.4v1.6M1457.5 272.4v1.6M1462.3 272.4v1.6M1467.1 272.4v1.6M1471.9 272.4v1.6M1476.7 272.4v1.6M1481.6 272.4v1.6M1486.4 272.4v1.6M1491.2 272.4v1.6M1496.0 272.4v1.6M1500.8 272.4v1.6M1505.7 272.4v1.6M1510.5 272.4v1.6M1515.3 272.4v1.6M1520.1 272.4v1.6M1525.0 272.4v1.6M1529.8 272.4v1.6M1534.6 272.4v1.6M1539.4 272.4v1.6M1544.2 272.4v1.6M1549.1 272.4v1.6M1553.9 272.4v1.6" stroke="#333" stroke-width="0.6" fill="none"/>
<text x="1402.3" y="285.3" font-size="8.6" fill="#1c1c1c" textLength="4.2" lengthAdjust="spacingAndGlyphs">4</text>
<text x="1429.1" y="285.3" font-size="8.6" fill="#1c1c1c" textLength="8.4" lengthAdjust="spacingAndGlyphs">10</text>
<text x="1477.4" y="285.3" font-size="8.6" fill="#1c1c1c" textLength="8.4" lengthAdjust="spacingAndGlyphs">20</text>
<text x="1525.6" y="285.3" font-size="8.6" fill="#1c1c1c" textLength="8.4" lengthAdjust="spacingAndGlyphs">30</text>
<text x="1549.7" y="285.3" font-size="8.6" fill="#1c1c1c" textLength="8.4" lengthAdjust="spacingAndGlyphs">35</text>
<rect x="1563.4" y="92.8" width="10.7" height="10.7" fill="#7c7c1c"/>
<path d="M1568.75 99.15L1573.25 98.15L1568.75 97.15ZM1568.26 98.64L1571.22 100.62L1569.24 97.66ZM1567.75 98.15L1568.75 102.65L1569.75 98.15ZM1568.26 97.66L1566.28 100.62L1569.24 98.64ZM1568.75 97.15L1564.25 98.15L1568.75 99.15ZM1569.24 97.66L1566.28 95.68L1568.26 98.64ZM1569.75 98.15L1568.75 93.65L1567.75 98.15ZM1569.24 98.64L1571.22 95.68L1568.26 97.66Z" fill="#fff"/>
<circle cx="1568.75" cy="98.15" r="2.0" fill="#fff"/>
<text x="1577.8" y="101.9" font-size="9.3" fill="#1c1c1c" textLength="25.2" lengthAdjust="spacingAndGlyphs">561nm</text>
<g fill="none">
<path stroke="#1b3bfc" stroke-width="4" d="M1566 149v2M1566 218v2M1566 221v4M1566 228v2M1566 233v1M1566 236v1M1566 240v2M1566 261v1M1590 221v3M1590 225v1M1590 229v3M1590 234v2M1590 237v1M1590 240v1M1590 242v2M1590 254v2M1590 272v1M1619 224v1M1619 226v2M1619 230v2M1619 234v3M1619 238v2M1619 244v1M1619 250v8M1619 261v1M1648 172v1M1648 238v2M1648 244v1M1648 249v4M1648 254v2M1648 257v4M1648 262v2M1648 265v4M1677 182v2M1677 252v1M1677 254v2M1677 257v4M1677 262v3M1677 266v4M1677 272v1"/>
<path stroke="#0c6aff" stroke-width="4" d="M1566 151v1M1566 172v1M1566 176v1M1566 184v4M1566 189v3M1566 213v3M1590 139v1M1590 168v1M1590 170v4M1590 176v4M1590 181v7M1590 189v3M1590 216v2M1619 173v4M1619 182v2M1619 185v3M1619 189v8M1619 218v4M1648 173v1M1648 221v1M1648 224v2M1648 229v1M1648 233v1M1648 236v1M1677 242v3"/>
<path stroke="#00e1f0" stroke-width="4" d="M1566 152v1M1566 168v1M1590 156v1M1590 194v2M1590 212v1M1619 156v1M1619 200v1M1619 202v2M1619 216v1M1648 176v1M1648 216v2M1677 221v3M1677 233v1M1677 240v2"/>
<path stroke="#00f096" stroke-width="4" d="M1566 153v3M1566 166v2M1566 196v1M1566 198v2M1566 202v4M1566 208v1M1590 155v1M1590 197v3M1619 157v1M1619 170v2M1619 204v5M1648 201v4M1648 214v2M1677 188v2M1677 218v2M1677 234v3"/>
<path stroke="#83f40c" stroke-width="4" d="M1566 156v1M1566 165v1M1590 145v2M1619 158v2M1648 188v1M1677 202v3M1677 206v2M1677 212v1M1677 216v1"/>
<path stroke="#f0f100" stroke-width="4" d="M1566 157v1M1566 164v1M1677 192v1M1677 200v1M1677 205v1M1677 210v2"/>
<path stroke="#fe9f00" stroke-width="4" d="M1566 158v2M1590 147v4M1619 161v1M1648 181v1M1648 186v2M1677 193v1M1677 201v1"/>
<path stroke="#ff7500" stroke-width="4" d="M1566 160v2M1619 162v2M1619 166v2M1648 184v1"/>
<path stroke="#fccc00" stroke-width="4" d="M1566 162v2M1590 151v1M1619 160v1M1619 168v1M1677 194v2M1677 209v1"/>
<path stroke="#0096ff" stroke-width="4" d="M1566 169v3M1566 173v3M1566 177v7M1566 188v1M1566 192v1M1566 212v1M1590 140v1M1590 158v10M1590 169v1M1590 174v2M1590 193v1M1590 214v2M1619 155v1M1619 177v5M1619 184v1M1619 188v1M1619 197v3M1619 217v1M1648 194v4M1648 222v2M1677 185v1M1677 226v4"/>
<path stroke="#00bbf8" stroke-width="4" d="M1566 193v1M1566 210v2M1590 157v1M1590 210v2M1590 213v1M1619 172v1M1619 213v3M1648 174v2M1648 193v1M1648 198v3M1648 218v3M1677 224v2"/>
<path stroke="#00e8c3" stroke-width="4" d="M1566 194v2M1566 209v1M1590 141v2M1590 196v1M1590 201v1M1590 206v4M1619 201v1M1619 209v4M1648 192v1M1648 213v1M1677 186v2M1677 230v3M1677 237v3"/>
<path stroke="#19f051" stroke-width="4" d="M1566 197v1M1566 200v2M1566 206v2M1590 143v1M1590 153v2M1590 200v1M1590 202v4M1648 177v1M1648 205v8M1677 220v1"/>
<path stroke="#164afe" stroke-width="4" d="M1566 216v2M1566 220v1M1590 192v1M1590 218v3M1590 226v2M1619 153v2M1619 222v2M1619 228v2M1619 233v1M1619 248v1M1648 226v3M1648 230v3M1648 234v2M1648 237v1M1648 240v4M1648 245v1M1648 253v1M1648 256v1M1677 184v1M1677 245v4M1677 250v2M1677 253v1M1677 256v1M1677 261v1M1677 265v1"/>
<path stroke="#4657f8" stroke-width="4" d="M1566 225v1M1566 226v1M1566 242v1M1566 245v1M1566 250v1M1566 260v1M1566 268v1M1566 270v1M1590 228v1M1590 238v1M1590 245v1M1590 246v1M1590 252v1M1590 260v1M1590 264v1M1619 240v1M1619 264v1M1619 265v1M1648 269v3M1677 270v2"/>
<path stroke="#a8b0f7" stroke-width="4" d="M1566 230v1M1566 232v1M1566 238v1M1566 244v1M1566 253v1M1590 137v1M1590 232v1M1590 236v1M1590 248v1M1590 249v1M1619 225v1M1619 241v1M1619 246v1M1648 170v1M1648 261v1"/>
<path stroke="#a8b0f7" stroke-width="5" d="M1570.5 143v1M1570.5 188v1M1570.5 225v1M1570.5 242v1M1570.5 250v1M1570.5 257v1M1575.5 137v1M1575.5 222v1M1575.5 233v1M1575.5 238v1M1575.5 242v1M1575.5 244v1M1580.5 177v1M1580.5 254v1M1585.5 221v1M1585.5 224v1M1585.5 232v1M1585.5 233v1M1585.5 237v1M1585.5 250v1M1594.5 229v1M1594.5 253v1M1599.5 226v1M1599.5 230v1M1599.5 232v1M1599.5 250v1M1599.5 256v1M1599.5 265v1M1604.5 141v1M1604.5 233v1M1604.5 234v1M1604.5 241v1M1604.5 246v1M1604.5 254v1M1609.5 147v1M1609.5 248v1M1609.5 254v1M1609.5 265v1M1614.5 264v1M1623.5 254v1M1623.5 266v1M1623.5 268v1M1628.5 226v1M1628.5 237v1M1628.5 240v1M1628.5 248v1M1633.5 230v1M1633.5 248v1M1633.5 261v1M1638.5 166v1M1638.5 254v1M1638.5 269v1M1643.5 168v1M1643.5 238v1M1643.5 245v1M1643.5 246v1M1643.5 258v1M1643.5 265v1M1643.5 268v1M1643.5 269v1M1652.5 174v1M1652.5 250v1M1652.5 266v1M1657.5 264v1M1657.5 268v1M1662.5 180v1M1662.5 252v1M1662.5 253v1M1662.5 256v1M1662.5 258v1M1662.5 265v1M1667.5 248v1M1667.5 262v1M1672.5 253v1M1672.5 258v1M1672.5 269v1M1681.5 181v1M1686.5 176v1M1686.5 252v1M1686.5 260v1M1686.5 261v1M1686.5 262v1M1686.5 269v1M1686.5 270v1"/>
<path stroke="#164afe" stroke-width="5" d="M1570.5 147v1M1570.5 186v2M1570.5 217v1M1570.5 229v1M1575.5 186v2M1575.5 218v3M1575.5 226v2M1580.5 178v2M1580.5 184v1M1580.5 186v2M1580.5 189v1M1580.5 217v1M1580.5 220v1M1580.5 228v2M1580.5 234v2M1585.5 174v2M1585.5 178v2M1585.5 189v1M1585.5 218v2M1585.5 229v1M1594.5 218v2M1594.5 221v3M1594.5 225v4M1594.5 232v1M1594.5 234v3M1599.5 148v1M1599.5 192v1M1599.5 220v4M1599.5 241v1M1604.5 192v1M1604.5 194v2M1604.5 220v1M1604.5 222v3M1604.5 226v6M1609.5 148v1M1609.5 194v2M1609.5 221v3M1609.5 226v2M1609.5 233v1M1609.5 236v1M1609.5 244v1M1614.5 193v1M1614.5 224v8M1614.5 234v3M1614.5 238v2M1614.5 245v1M1623.5 222v6M1623.5 229v1M1623.5 237v5M1628.5 162v2M1628.5 221v1M1628.5 225v1M1628.5 230v4M1628.5 236v1M1628.5 241v4M1633.5 222v3M1633.5 226v3M1633.5 232v8M1633.5 244v2M1633.5 249v1M1633.5 252v1M1638.5 224v1M1638.5 226v7M1638.5 234v4M1638.5 240v1M1638.5 244v1M1638.5 246v3M1638.5 256v1M1643.5 170v2M1643.5 224v1M1643.5 228v8M1643.5 240v1M1643.5 244v1M1652.5 225v3M1652.5 230v4M1652.5 236v1M1652.5 238v4M1652.5 244v4M1652.5 256v1M1657.5 176v1M1657.5 230v2M1657.5 240v2M1657.5 244v1M1657.5 246v3M1657.5 252v1M1657.5 256v1M1657.5 260v1M1662.5 245v3M1662.5 250v2M1662.5 254v2M1667.5 245v3M1667.5 250v2M1667.5 253v1M1667.5 257v1M1672.5 245v1M1672.5 248v2M1672.5 252v1M1672.5 262v2M1681.5 182v2M1681.5 246v3M1681.5 250v2M1681.5 256v1M1686.5 180v1M1686.5 241v4M1686.5 250v2M1686.5 256v1"/>
<path stroke="#0096ff" stroke-width="5" d="M1570.5 148v1M1570.5 165v8M1570.5 174v2M1570.5 177v5M1570.5 192v1M1570.5 213v1M1575.5 156v6M1575.5 166v3M1575.5 174v2M1575.5 192v2M1575.5 214v2M1580.5 148v5M1580.5 155v3M1580.5 160v1M1580.5 164v1M1580.5 214v2M1585.5 129v2M1585.5 148v1M1585.5 151v4M1585.5 157v1M1585.5 160v2M1585.5 165v1M1585.5 193v3M1585.5 214v2M1594.5 165v1M1594.5 184v6M1594.5 192v2M1594.5 212v1M1599.5 166v10M1599.5 214v4M1604.5 147v1M1604.5 164v4M1604.5 170v6M1604.5 196v2M1604.5 217v1M1609.5 166v12M1609.5 180v1M1609.5 182v2M1609.5 189v1M1609.5 196v4M1609.5 216v1M1614.5 152v1M1614.5 169v5M1614.5 176v2M1614.5 180v4M1614.5 189v1M1614.5 196v1M1614.5 216v1M1614.5 218v3M1623.5 178v10M1623.5 192v1M1623.5 197v3M1623.5 217v3M1628.5 164v1M1628.5 182v7M1628.5 190v2M1628.5 197v1M1628.5 217v1M1633.5 185v9M1633.5 197v1M1633.5 218v2M1638.5 188v5M1638.5 194v4M1638.5 217v4M1643.5 190v7M1643.5 220v4M1652.5 196v1M1657.5 222v3M1657.5 236v1M1662.5 225v3M1662.5 229v1M1662.5 240v1M1667.5 225v4M1667.5 241v1M1672.5 225v3M1672.5 242v2M1681.5 225v1M1681.5 228v1M1681.5 238v3M1686.5 228v1M1686.5 233v1"/>
<path stroke="#00e8c3" stroke-width="5" d="M1570.5 149v2M1570.5 196v1M1570.5 206v3M1575.5 196v2M1575.5 206v2M1580.5 197v1M1580.5 210v2M1585.5 131v1M1585.5 198v2M1585.5 206v2M1594.5 181v3M1594.5 204v1M1599.5 151v1M1599.5 165v1M1599.5 200v2M1599.5 208v1M1599.5 210v2M1604.5 200v1M1604.5 202v4M1604.5 208v1M1604.5 210v3M1609.5 151v1M1609.5 202v2M1609.5 210v2M1614.5 153v2M1614.5 210v2M1623.5 176v1M1623.5 201v1M1623.5 209v1M1623.5 212v2M1628.5 166v2M1628.5 200v5M1628.5 210v6M1633.5 169v1M1633.5 182v2M1633.5 201v4M1633.5 208v1M1633.5 213v1M1638.5 201v4M1638.5 208v1M1638.5 210v2M1638.5 213v3M1643.5 173v1M1643.5 201v1M1643.5 209v1M1643.5 212v2M1652.5 178v2M1652.5 216v1M1657.5 180v1M1657.5 196v2M1657.5 200v1M1657.5 218v2M1662.5 185v1M1662.5 221v1M1667.5 186v2M1667.5 220v1M1667.5 222v2M1667.5 232v1M1667.5 234v6M1672.5 221v1M1672.5 232v1M1672.5 238v3M1681.5 186v2M1681.5 221v3M1681.5 234v2M1686.5 185v1M1686.5 221v3"/>
<path stroke="#19f051" stroke-width="5" d="M1570.5 151v1M1570.5 161v1M1570.5 198v6M1575.5 153v2M1575.5 200v1M1575.5 204v1M1580.5 133v3M1580.5 198v4M1585.5 132v1M1585.5 201v5M1599.5 164v1M1599.5 205v1M1604.5 161v1M1604.5 206v2M1609.5 162v2M1614.5 155v1M1614.5 166v2M1614.5 206v3M1623.5 206v2M1628.5 168v1M1628.5 208v1M1633.5 181v1M1633.5 206v2M1638.5 184v1M1638.5 206v2M1643.5 174v2M1643.5 208v1M1643.5 210v2M1652.5 180v1M1652.5 202v2M1652.5 208v1M1652.5 214v2M1657.5 182v2M1657.5 202v2M1657.5 214v2M1662.5 186v2M1662.5 201v1M1662.5 217v3M1667.5 216v1M1672.5 217v1M1672.5 237v1M1686.5 188v1M1686.5 218v2"/>
<path stroke="#42f120" stroke-width="5" d="M1570.5 152v1M1580.5 144v1M1585.5 133v2M1585.5 144v1M1594.5 169v1M1594.5 180v1M1599.5 153v2M1604.5 160v1M1609.5 152v1M1614.5 156v1M1614.5 165v1M1623.5 164v1M1623.5 174v2M1633.5 170v2M1638.5 173v1M1643.5 176v1M1643.5 186v2M1652.5 192v1M1652.5 205v3M1652.5 209v1M1652.5 212v1M1657.5 194v2M1657.5 204v2M1657.5 208v6M1662.5 213v1M1662.5 216v1M1667.5 214v2M1672.5 214v3M1681.5 189v1M1681.5 216v4M1686.5 189v1M1686.5 202v2M1686.5 216v2"/>
<path stroke="#fccc00" stroke-width="5" d="M1570.5 153v4M1575.5 145v2M1580.5 137v2M1580.5 141v2M1594.5 177v1M1599.5 156v1M1599.5 161v1M1604.5 157v1M1609.5 155v1M1609.5 160v1M1614.5 158v4M1623.5 165v3M1623.5 170v2M1633.5 173v1M1638.5 177v1M1638.5 180v1M1643.5 185v1M1657.5 193v1M1662.5 189v1M1667.5 194v2M1672.5 193v1M1672.5 196v6M1681.5 205v1M1681.5 208v2M1686.5 200v1"/>
<path stroke="#fe9f00" stroke-width="5" d="M1570.5 157v1M1585.5 136v1M1585.5 140v3M1594.5 173v1M1604.5 156v1M1609.5 157v3M1628.5 172v1M1628.5 174v2M1633.5 174v3M1643.5 181v1M1643.5 184v1M1652.5 185v1M1652.5 189v1M1657.5 189v4M1667.5 193v1M1667.5 196v1M1681.5 197v3M1686.5 192v1M1686.5 194v6"/>
<path stroke="#bef400" stroke-width="5" d="M1570.5 158v3M1575.5 144v1M1575.5 151v2M1580.5 136v1M1580.5 143v1M1594.5 172v1M1599.5 155v1M1599.5 160v1M1609.5 153v2M1609.5 161v1M1614.5 157v1M1614.5 162v2M1623.5 172v1M1633.5 178v2M1638.5 174v3M1652.5 182v2M1657.5 185v1M1662.5 197v1M1662.5 200v1M1662.5 205v1M1662.5 210v3M1667.5 204v1M1667.5 209v1M1667.5 212v2M1672.5 192v1M1672.5 194v2M1672.5 202v6M1681.5 190v3M1681.5 202v3M1681.5 214v2M1686.5 204v2M1686.5 210v2M1686.5 213v1"/>
<path stroke="#00f096" stroke-width="5" d="M1570.5 162v2M1570.5 197v1M1570.5 204v2M1575.5 141v2M1575.5 198v2M1575.5 201v3M1575.5 205v1M1580.5 145v2M1580.5 202v6M1585.5 145v2M1585.5 200v1M1594.5 168v1M1599.5 152v1M1599.5 202v3M1599.5 206v2M1599.5 209v1M1604.5 149v2M1604.5 209v1M1609.5 164v1M1609.5 204v6M1614.5 201v5M1614.5 209v1M1623.5 162v2M1623.5 202v4M1623.5 208v1M1628.5 178v3M1628.5 205v3M1628.5 209v1M1633.5 205v1M1633.5 209v3M1638.5 172v1M1638.5 185v1M1638.5 205v1M1638.5 209v1M1643.5 188v1M1643.5 202v6M1652.5 193v1M1652.5 201v1M1652.5 204v1M1652.5 210v2M1652.5 213v1M1652.5 217v1M1657.5 181v1M1657.5 201v1M1657.5 216v2M1662.5 220v1M1667.5 188v1M1667.5 217v3M1667.5 221v1M1667.5 233v1M1672.5 188v2M1672.5 218v3M1672.5 230v2M1672.5 233v4M1681.5 188v1M1681.5 220v1M1686.5 186v2M1686.5 220v1"/>
<path stroke="#00e1f0" stroke-width="5" d="M1570.5 164v1M1570.5 194v2M1570.5 209v1M1575.5 155v1M1575.5 208v5M1580.5 147v1M1580.5 196v1M1580.5 208v2M1585.5 147v1M1585.5 196v2M1585.5 208v5M1594.5 166v2M1594.5 201v3M1594.5 205v1M1594.5 208v1M1594.5 210v2M1599.5 198v2M1599.5 212v2M1604.5 162v2M1604.5 201v1M1604.5 213v1M1609.5 200v2M1609.5 212v2M1614.5 198v3M1614.5 212v1M1614.5 214v2M1623.5 177v1M1623.5 200v1M1623.5 210v2M1628.5 216v1M1633.5 212v1M1633.5 214v2M1638.5 186v2M1638.5 200v1M1638.5 212v1M1643.5 189v1M1643.5 200v1M1643.5 214v3M1643.5 218v2M1652.5 194v2M1652.5 198v3M1657.5 178v2M1657.5 198v2M1657.5 220v1M1662.5 222v2M1667.5 229v3M1672.5 186v2M1672.5 222v3M1672.5 241v1M1681.5 185v1M1681.5 224v1M1681.5 233v1M1681.5 236v2M1686.5 184v1"/>
<path stroke="#0c6aff" stroke-width="5" d="M1570.5 173v1M1570.5 176v1M1570.5 182v4M1570.5 189v3M1570.5 214v3M1575.5 139v1M1575.5 162v4M1575.5 169v5M1575.5 176v10M1575.5 189v3M1575.5 216v2M1580.5 131v1M1580.5 153v2M1580.5 158v2M1580.5 161v3M1580.5 165v12M1580.5 180v4M1580.5 185v1M1580.5 190v3M1580.5 216v1M1585.5 149v2M1585.5 155v2M1585.5 162v3M1585.5 166v8M1585.5 176v2M1585.5 180v4M1585.5 185v4M1585.5 190v3M1585.5 216v2M1594.5 190v2M1594.5 194v3M1594.5 214v4M1594.5 220v1M1599.5 176v16M1599.5 193v4M1599.5 218v2M1604.5 168v2M1604.5 176v8M1604.5 185v7M1604.5 193v1M1604.5 218v2M1604.5 221v1M1609.5 178v2M1609.5 181v1M1609.5 184v1M1609.5 186v3M1609.5 190v4M1609.5 217v4M1614.5 174v2M1614.5 178v2M1614.5 185v4M1614.5 190v3M1614.5 194v2M1614.5 197v1M1614.5 221v1M1623.5 160v1M1623.5 188v4M1623.5 193v4M1623.5 220v2M1628.5 189v1M1628.5 192v5M1628.5 220v1M1628.5 222v3M1633.5 166v2M1633.5 194v3M1633.5 220v2M1633.5 225v1M1633.5 229v1M1638.5 169v1M1638.5 193v1M1638.5 221v3M1638.5 225v1M1638.5 233v1M1643.5 197v1M1643.5 225v3M1652.5 176v1M1652.5 197v1M1652.5 224v1M1652.5 228v2M1657.5 177v1M1657.5 225v5M1657.5 232v4M1657.5 237v3M1662.5 181v1M1662.5 228v1M1662.5 241v3M1667.5 182v2M1667.5 242v3M1672.5 184v1M1672.5 244v1M1681.5 229v3M1681.5 241v3M1686.5 181v1M1686.5 229v4M1686.5 234v7"/>
<path stroke="#00bbf8" stroke-width="5" d="M1570.5 193v1M1570.5 210v3M1575.5 140v1M1575.5 194v2M1575.5 213v1M1580.5 132v1M1580.5 193v3M1580.5 212v2M1585.5 213v1M1594.5 197v4M1594.5 206v2M1594.5 209v1M1594.5 213v1M1599.5 149v2M1599.5 197v1M1604.5 148v1M1604.5 198v2M1604.5 214v3M1609.5 149v2M1609.5 165v1M1609.5 214v2M1614.5 168v1M1614.5 213v1M1614.5 217v1M1623.5 161v1M1623.5 214v3M1628.5 165v1M1628.5 181v1M1628.5 198v2M1628.5 218v2M1633.5 168v1M1633.5 184v1M1633.5 198v3M1633.5 216v2M1638.5 170v2M1638.5 198v2M1638.5 216v1M1643.5 172v1M1643.5 198v2M1643.5 217v1M1652.5 177v1M1652.5 218v6M1657.5 221v1M1662.5 182v3M1662.5 224v1M1662.5 230v10M1667.5 184v2M1667.5 224v1M1667.5 240v1M1672.5 185v1M1672.5 228v2M1681.5 184v1M1681.5 226v2M1681.5 232v1M1686.5 182v2M1686.5 224v4"/>
<path stroke="#1b3bfc" stroke-width="5" d="M1570.5 218v6M1570.5 228v1M1570.5 230v12M1570.5 249v1M1570.5 258v2M1575.5 221v1M1575.5 229v3M1575.5 234v2M1575.5 237v1M1575.5 257v1M1575.5 261v1M1580.5 218v2M1580.5 221v5M1580.5 230v2M1580.5 233v1M1580.5 237v1M1580.5 246v2M1580.5 253v1M1580.5 265v1M1585.5 128v1M1585.5 222v2M1585.5 225v3M1585.5 234v2M1585.5 238v2M1585.5 241v1M1585.5 245v3M1585.5 262v2M1594.5 164v1M1594.5 224v1M1594.5 233v1M1594.5 238v2M1594.5 242v3M1594.5 246v3M1594.5 257v3M1599.5 225v1M1599.5 228v2M1599.5 233v1M1599.5 236v2M1599.5 240v1M1599.5 242v4M1599.5 248v1M1599.5 252v1M1599.5 254v2M1599.5 257v3M1599.5 264v1M1604.5 225v1M1604.5 236v5M1604.5 242v4M1604.5 248v6M1604.5 256v1M1604.5 258v2M1609.5 224v2M1609.5 228v2M1609.5 232v1M1609.5 234v2M1609.5 238v3M1609.5 242v2M1609.5 245v3M1609.5 250v4M1609.5 258v3M1614.5 151v1M1614.5 222v2M1614.5 232v2M1614.5 237v1M1614.5 240v1M1614.5 246v2M1614.5 249v3M1614.5 256v1M1614.5 266v2M1623.5 228v1M1623.5 230v3M1623.5 234v2M1623.5 242v2M1623.5 246v4M1623.5 252v1M1623.5 257v3M1628.5 234v2M1628.5 238v2M1628.5 245v3M1628.5 249v1M1628.5 252v4M1628.5 258v4M1628.5 264v1M1628.5 266v2M1628.5 269v1M1633.5 250v2M1633.5 254v2M1633.5 257v3M1633.5 262v4M1633.5 270v2M1638.5 168v1M1638.5 242v2M1638.5 245v1M1638.5 249v5M1638.5 257v3M1638.5 262v4M1638.5 268v1M1643.5 236v1M1643.5 242v2M1643.5 248v1M1643.5 252v4M1643.5 257v1M1643.5 261v3M1643.5 266v2M1652.5 237v1M1652.5 242v2M1652.5 248v2M1652.5 252v4M1652.5 258v7M1652.5 268v1M1652.5 270v2M1657.5 242v2M1657.5 249v3M1657.5 254v2M1657.5 257v3M1657.5 262v2M1657.5 265v3M1657.5 269v4M1662.5 244v1M1662.5 248v1M1662.5 257v1M1662.5 260v5M1662.5 266v3M1662.5 270v2M1667.5 249v1M1667.5 252v1M1667.5 256v1M1667.5 258v2M1667.5 261v1M1667.5 264v4M1667.5 269v3M1672.5 182v2M1672.5 246v2M1672.5 250v2M1672.5 254v3M1672.5 264v2M1672.5 270v2M1681.5 244v2M1681.5 253v3M1681.5 258v2M1681.5 261v4M1681.5 268v2M1686.5 245v1M1686.5 253v3M1686.5 257v3M1686.5 264v1M1686.5 266v3"/>
<path stroke="#4657f8" stroke-width="5" d="M1570.5 245v1M1570.5 246v1M1570.5 254v1M1570.5 262v1M1575.5 188v1M1575.5 224v1M1575.5 225v1M1575.5 228v1M1575.5 232v1M1575.5 236v1M1575.5 240v1M1575.5 254v1M1580.5 226v1M1580.5 232v1M1580.5 236v1M1580.5 245v1M1580.5 248v1M1580.5 252v1M1580.5 257v1M1580.5 258v1M1580.5 264v1M1585.5 228v1M1585.5 236v1M1585.5 248v1M1585.5 253v1M1585.5 254v1M1585.5 260v1M1594.5 241v1M1594.5 250v1M1594.5 254v1M1594.5 256v1M1594.5 264v1M1594.5 268v1M1594.5 269v1M1599.5 249v1M1599.5 260v1M1599.5 268v1M1604.5 184v1M1604.5 257v1M1604.5 268v1M1609.5 185v1M1609.5 237v1M1609.5 241v1M1609.5 256v1M1609.5 262v1M1609.5 264v1M1614.5 248v1M1614.5 254v1M1614.5 257v3M1614.5 261v1M1623.5 244v1M1623.5 253v1M1623.5 261v1M1623.5 262v1M1623.5 265v1M1628.5 268v1M1628.5 272v1M1633.5 240v1M1633.5 241v1M1633.5 253v1M1633.5 256v1M1633.5 260v1M1633.5 266v1M1633.5 268v1M1633.5 269v1M1638.5 238v1M1638.5 260v1M1643.5 237v1M1643.5 260v1M1643.5 264v1M1652.5 265v1M1662.5 269v1M1667.5 268v1M1672.5 272v1M1681.5 249v1M1681.5 260v1M1681.5 266v2M1686.5 177v1"/>
<path stroke="#83f40c" stroke-width="5" d="M1575.5 143v1M1585.5 135v1M1585.5 143v1M1594.5 170v2M1594.5 178v2M1599.5 162v2M1604.5 151v2M1604.5 158v2M1614.5 164v1M1623.5 173v1M1628.5 169v1M1628.5 176v2M1633.5 172v1M1633.5 180v1M1638.5 182v2M1652.5 181v1M1657.5 184v1M1657.5 206v2M1662.5 188v1M1662.5 202v3M1662.5 208v1M1662.5 214v2M1667.5 189v1M1667.5 201v3M1667.5 205v1M1667.5 208v1M1667.5 210v2M1672.5 190v2M1672.5 208v1M1672.5 213v1M1681.5 212v2M1686.5 190v2M1686.5 201v1M1686.5 208v1M1686.5 214v2"/>
<path stroke="#ff2300" stroke-width="5" d="M1575.5 147v1M1585.5 137v2M1643.5 180v1M1652.5 186v2M1657.5 188v1"/>
<path stroke="#ff7500" stroke-width="5" d="M1575.5 148v3M1585.5 139v1M1594.5 174v3M1599.5 157v3M1604.5 153v2M1609.5 156v1M1623.5 168v1M1633.5 177v1M1643.5 178v2M1643.5 182v2M1652.5 184v1M1652.5 188v1M1657.5 186v2M1662.5 190v3M1662.5 196v1M1667.5 197v1"/>
<path stroke="#ff4c00" stroke-width="5" d="M1580.5 139v2M1604.5 155v1M1623.5 169v1M1638.5 178v2M1662.5 193v3M1681.5 194v3"/>
<path stroke="#42f120" stroke-width="4" d="M1590 144v1M1619 169v1M1648 178v2M1648 190v2M1677 190v2M1677 213v1M1677 217v1"/>
<path stroke="#bef400" stroke-width="4" d="M1590 152v1M1648 180v1M1648 189v1M1677 208v1M1677 214v2"/>
<path stroke="#ff2300" stroke-width="4" d="M1619 164v2"/>
<path stroke="#f0f100" stroke-width="5" d="M1628.5 170v2M1628.5 173v1M1638.5 181v1M1643.5 177v1M1652.5 190v2M1662.5 198v2M1662.5 206v2M1662.5 209v1M1667.5 190v3M1667.5 198v3M1667.5 206v2M1672.5 209v4M1681.5 193v1M1681.5 200v2M1681.5 206v2M1681.5 210v2M1686.5 193v1M1686.5 206v2M1686.5 209v1M1686.5 212v1"/>
<path stroke="#ff4c00" stroke-width="4" d="M1648 182v2M1648 185v1M1677 196v4"/>
</g>
<path d="M1564.0 272.7H1688.6" stroke="#555" stroke-width="1.1" fill="none"/>
<path d="M1564.0 272.5H1688.6" stroke="#c8281e" stroke-width="1.5" fill="none"/>
<path d="M1563.5 273.0V107.5H1689.5V273.0" fill="none" stroke="#6a6a6a" stroke-width="1.25"/>
<path d="M1565.9 272.4v4.2M1614.2 272.4v4.2M1662.5 272.4v4.2M1686.7 272.4v4.2" stroke="#333" stroke-width="1.1" fill="none"/>
<path d="M1565.9 272.4v1.6M1570.7 272.4v1.6M1575.6 272.4v1.6M1580.4 272.4v1.6M1585.2 272.4v1.6M1590.1 272.4v1.6M1594.9 272.4v1.6M1599.7 272.4v1.6M1604.6 272.4v1.6M1609.4 272.4v1.6M1614.2 272.4v1.6M1619.1 272.4v1.6M1623.9 272.4v1.6M1628.7 272.4v1.6M1633.5 272.4v1.6M1638.4 272.4v1.6M1643.2 272.4v1.6M1648.0 272.4v1.6M1652.9 272.4v1.6M1657.7 272.4v1.6M1662.5 272.4v1.6M1667.4 272.4v1.6M1672.2 272.4v1.6M1677.0 272.4v1.6M1681.9 272.4v1.6M1686.7 272.4v1.6" stroke="#333" stroke-width="0.6" fill="none"/>
<text x="1561.7" y="285.3" font-size="8.6" fill="#1c1c1c" textLength="8.4" lengthAdjust="spacingAndGlyphs">10</text>
<text x="1610.0" y="285.3" font-size="8.6" fill="#1c1c1c" textLength="8.4" lengthAdjust="spacingAndGlyphs">20</text>
<text x="1658.3" y="285.3" font-size="8.6" fill="#1c1c1c" textLength="8.4" lengthAdjust="spacingAndGlyphs">30</text>
<text x="1682.5" y="285.3" font-size="8.6" fill="#1c1c1c" textLength="8.4" lengthAdjust="spacingAndGlyphs">35</text>
<rect x="1696.2" y="92.8" width="10.7" height="10.7" fill="#c83a52"/>
<path d="M1701.55 99.15L1706.05 98.15L1701.55 97.15ZM1701.06 98.64L1704.02 100.62L1702.04 97.66ZM1700.55 98.15L1701.55 102.65L1702.55 98.15ZM1701.06 97.66L1699.08 100.62L1702.04 98.64ZM1701.55 97.15L1697.05 98.15L1701.55 99.15ZM1702.04 97.66L1699.08 95.68L1701.06 98.64ZM1702.55 98.15L1701.55 93.65L1700.55 98.15ZM1702.04 98.64L1704.02 95.68L1701.06 97.66Z" fill="#fff"/>
<circle cx="1701.55" cy="98.15" r="2.0" fill="#fff"/>
<text x="1710.6" y="101.9" font-size="9.3" fill="#1c1c1c" textLength="25.2" lengthAdjust="spacingAndGlyphs">637nm</text>
<g fill="none">
<path stroke="#a8b0f7" stroke-width="5" d="M1698.5 193v1M1698.5 256v1M1703.5 194v1M1703.5 252v1M1703.5 260v1M1703.5 261v1M1708.5 193v1M1708.5 264v1M1713.5 192v1M1713.5 194v1M1713.5 196v1M1713.5 257v1M1713.5 261v1M1713.5 265v1M1722.5 196v1M1722.5 197v1M1722.5 265v1M1727.5 262v1M1727.5 265v1M1732.5 190v1M1732.5 194v1M1732.5 197v1M1732.5 254v1M1732.5 264v1M1732.5 269v1M1737.5 269v1M1742.5 260v1M1742.5 264v1M1742.5 265v1M1747.5 252v1M1747.5 262v1M1756.5 197v1M1756.5 269v1M1756.5 272v1M1761.5 248v1M1761.5 266v1M1761.5 269v1M1766.5 250v1M1766.5 262v1M1766.5 268v1M1771.5 248v1M1771.5 250v1M1771.5 253v1M1771.5 261v1M1771.5 269v1M1776.5 253v1M1776.5 260v1M1785.5 190v1"/>
<path stroke="#1b3bfc" stroke-width="5" d="M1698.5 194v3M1698.5 257v7M1703.5 196v2M1703.5 262v2M1708.5 197v3M1708.5 256v4M1713.5 197v3M1713.5 256v1M1713.5 260v1M1713.5 264v1M1722.5 200v1M1722.5 261v1M1727.5 201v1M1727.5 261v1M1732.5 200v2M1732.5 260v4M1737.5 200v4M1737.5 257v1M1737.5 260v2M1737.5 264v1M1737.5 270v2M1742.5 257v3M1742.5 262v2M1747.5 201v1M1747.5 204v1M1747.5 257v1M1747.5 260v2M1747.5 264v4M1747.5 269v1M1756.5 201v3M1756.5 258v4M1761.5 196v1M1761.5 257v3M1761.5 262v4M1766.5 192v2M1766.5 253v1M1766.5 260v2M1766.5 265v1M1771.5 189v3M1771.5 252v1M1771.5 254v7M1771.5 262v2M1771.5 265v4M1776.5 190v2M1776.5 252v1M1776.5 258v2M1776.5 262v2M1785.5 193v1M1785.5 250v2M1785.5 254v4M1785.5 260v2M1785.5 264v2M1785.5 268v1"/>
<path stroke="#164afe" stroke-width="5" d="M1698.5 197v3M1698.5 248v1M1698.5 250v6M1703.5 198v2M1703.5 249v1M1703.5 253v4M1708.5 200v1M1708.5 250v3M1708.5 254v2M1708.5 260v2M1713.5 200v1M1713.5 250v6M1713.5 258v2M1722.5 201v1M1722.5 250v2M1722.5 256v1M1722.5 258v3M1722.5 262v2M1727.5 200v1M1727.5 202v3M1727.5 250v2M1727.5 253v8M1732.5 202v3M1732.5 253v1M1732.5 256v4M1737.5 204v1M1737.5 250v2M1737.5 253v4M1737.5 258v2M1742.5 202v3M1742.5 249v1M1742.5 252v5M1742.5 261v1M1747.5 202v2M1747.5 205v1M1747.5 253v4M1756.5 204v1M1756.5 254v3M1756.5 262v2M1761.5 197v4M1761.5 245v3M1761.5 249v7M1761.5 260v1M1766.5 241v1M1766.5 244v6M1766.5 252v1M1766.5 257v1M1771.5 192v1M1771.5 245v3M1771.5 249v1M1776.5 192v1M1776.5 241v3M1776.5 245v3M1776.5 249v3M1776.5 257v1M1776.5 265v1M1785.5 194v2M1785.5 242v3M1785.5 248v2M1785.5 253v1"/>
<path stroke="#0096ff" stroke-width="5" d="M1698.5 200v4M1698.5 241v4M1703.5 201v1M1703.5 240v1M1703.5 242v3M1708.5 202v3M1708.5 240v4M1713.5 205v1M1713.5 242v6M1722.5 205v1M1722.5 244v1M1722.5 246v2M1727.5 206v2M1727.5 242v4M1732.5 205v3M1732.5 244v2M1732.5 248v1M1737.5 205v3M1737.5 241v3M1737.5 248v1M1742.5 206v2M1742.5 209v1M1742.5 244v4M1747.5 206v2M1747.5 209v1M1747.5 242v3M1756.5 206v3M1756.5 244v2M1756.5 249v1M1761.5 202v2M1761.5 233v5M1761.5 241v1M1766.5 197v1M1766.5 228v8M1771.5 226v4M1771.5 232v1M1771.5 234v2M1776.5 193v1M1776.5 226v8M1785.5 197v1M1785.5 230v3"/>
<path stroke="#00e1f0" stroke-width="5" d="M1698.5 204v1M1698.5 234v2M1698.5 238v2M1703.5 236v1M1703.5 238v2M1708.5 205v1M1708.5 238v2M1713.5 206v2M1713.5 236v1M1713.5 238v2M1722.5 209v1M1727.5 208v2M1727.5 237v1M1727.5 240v1M1732.5 209v1M1737.5 209v1M1737.5 238v3M1742.5 212v1M1742.5 237v5M1747.5 212v1M1747.5 240v2M1756.5 210v2M1756.5 238v2M1761.5 206v2M1761.5 230v3M1766.5 198v3M1771.5 196v2M1771.5 225v1M1776.5 224v2M1785.5 201v1M1785.5 224v2"/>
<path stroke="#00e8c3" stroke-width="5" d="M1698.5 205v1M1698.5 236v1M1703.5 205v3M1703.5 234v2M1708.5 208v1M1708.5 232v4M1713.5 233v3M1713.5 237v1M1722.5 208v1M1722.5 237v1M1727.5 234v3M1732.5 210v2M1732.5 237v1M1737.5 210v3M1737.5 236v1M1742.5 210v2M1747.5 238v2M1756.5 212v2M1756.5 237v1M1756.5 240v1M1761.5 228v2M1766.5 224v2M1771.5 221v4M1776.5 222v2M1785.5 222v2"/>
<path stroke="#00f096" stroke-width="5" d="M1698.5 206v2M1698.5 233v1M1703.5 230v4M1708.5 206v2M1713.5 208v1M1722.5 210v2M1722.5 236v1M1727.5 210v2M1732.5 212v1M1732.5 232v1M1732.5 234v3M1737.5 234v2M1737.5 237v1M1742.5 213v1M1742.5 233v4M1747.5 213v1M1747.5 236v2M1756.5 234v3M1761.5 208v1M1761.5 226v2M1766.5 222v2M1771.5 198v2M1776.5 197v1M1776.5 220v2M1785.5 220v1"/>
<path stroke="#42f120" stroke-width="5" d="M1698.5 208v1M1698.5 226v2M1698.5 229v1M1703.5 209v1M1703.5 225v3M1708.5 228v2M1713.5 210v3M1713.5 228v2M1713.5 232v1M1722.5 212v1M1722.5 229v5M1732.5 214v2M1732.5 229v1M1737.5 213v1M1737.5 232v1M1742.5 229v1M1742.5 232v1M1747.5 214v3M1747.5 233v3M1756.5 233v1M1761.5 225v1M1766.5 202v3M1766.5 218v3M1771.5 200v1M1771.5 217v1M1776.5 217v3M1785.5 218v2"/>
<path stroke="#bef400" stroke-width="5" d="M1698.5 209v1M1698.5 218v2M1698.5 222v2M1703.5 210v2M1703.5 218v2M1703.5 221v3M1708.5 212v1M1713.5 213v1M1713.5 225v3M1722.5 224v4M1727.5 226v2M1727.5 229v1M1732.5 216v1M1732.5 226v2M1737.5 228v1M1742.5 217v1M1742.5 228v1M1747.5 218v2M1747.5 230v2M1756.5 217v1M1756.5 230v2M1761.5 212v1M1761.5 222v3M1766.5 205v1M1766.5 214v2M1771.5 212v1M1776.5 213v3M1785.5 216v1"/>
<path stroke="#f0f100" stroke-width="5" d="M1698.5 210v2M1698.5 221v1M1703.5 213v3M1708.5 214v2M1708.5 217v1M1713.5 214v2M1713.5 222v2M1722.5 214v3M1722.5 221v1M1727.5 216v1M1727.5 225v1M1732.5 217v1M1737.5 218v2M1737.5 226v2M1742.5 224v2M1747.5 229v1M1756.5 218v2M1756.5 228v1M1761.5 213v1M1761.5 217v1M1761.5 220v1M1766.5 216v1M1776.5 200v1M1776.5 209v3M1785.5 205v3"/>
<path stroke="#fccc00" stroke-width="5" d="M1698.5 212v2M1698.5 217v1M1698.5 220v1M1703.5 212v1M1703.5 216v1M1703.5 220v1M1708.5 216v1M1713.5 218v2M1722.5 218v3M1727.5 221v4M1732.5 218v4M1732.5 224v1M1737.5 217v1M1737.5 222v4M1742.5 218v2M1742.5 221v3M1747.5 225v4M1756.5 225v3M1761.5 218v2M1766.5 213v1M1771.5 201v3M1771.5 210v2M1771.5 213v1M1776.5 202v2M1776.5 212v1M1785.5 213v1"/>
<path stroke="#ff7500" stroke-width="5" d="M1698.5 214v2M1727.5 218v3M1737.5 220v1M1747.5 222v3M1756.5 222v2M1761.5 214v2M1771.5 204v1M1771.5 206v3M1776.5 205v1M1785.5 208v1"/>
<path stroke="#fe9f00" stroke-width="5" d="M1698.5 216v1M1703.5 217v1M1708.5 218v2M1713.5 216v2M1713.5 220v2M1722.5 217v1M1722.5 222v2M1727.5 217v1M1732.5 222v2M1737.5 221v1M1742.5 220v1M1747.5 220v1M1756.5 220v2M1756.5 224v1M1761.5 216v1M1766.5 212v1M1771.5 209v1M1776.5 201v1M1776.5 204v1M1776.5 206v3M1785.5 210v3"/>
<path stroke="#83f40c" stroke-width="5" d="M1698.5 224v2M1703.5 224v1M1708.5 210v2M1708.5 213v1M1708.5 220v8M1713.5 224v1M1722.5 213v1M1722.5 228v1M1727.5 213v3M1727.5 228v1M1727.5 230v2M1732.5 225v1M1732.5 228v1M1732.5 230v2M1737.5 216v1M1737.5 229v1M1742.5 216v1M1742.5 226v2M1742.5 230v2M1747.5 217v1M1747.5 232v1M1756.5 229v1M1756.5 232v1M1761.5 210v2M1761.5 221v1M1766.5 217v1M1771.5 214v3M1776.5 216v1M1785.5 204v1M1785.5 214v2M1785.5 217v1"/>
<path stroke="#19f051" stroke-width="5" d="M1698.5 228v1M1698.5 230v3M1703.5 208v1M1703.5 228v2M1708.5 209v1M1708.5 230v2M1713.5 209v1M1713.5 230v2M1722.5 234v2M1727.5 212v1M1727.5 232v2M1732.5 213v1M1732.5 233v1M1737.5 214v2M1737.5 230v2M1737.5 233v1M1742.5 214v2M1756.5 214v3M1761.5 209v1M1766.5 201v1M1766.5 221v1M1771.5 218v3M1776.5 198v2M1785.5 202v2M1785.5 221v1"/>
<path stroke="#00bbf8" stroke-width="5" d="M1698.5 237v1M1698.5 240v1M1703.5 202v3M1703.5 237v1M1703.5 241v1M1708.5 236v2M1713.5 204v1M1713.5 240v2M1722.5 206v2M1722.5 238v6M1727.5 238v2M1727.5 241v1M1732.5 208v1M1732.5 238v4M1737.5 208v1M1742.5 242v2M1747.5 210v2M1756.5 209v1M1756.5 241v3M1761.5 204v2M1766.5 226v2M1776.5 194v3M1785.5 198v3M1785.5 226v3"/>
<path stroke="#0c6aff" stroke-width="5" d="M1698.5 245v3M1698.5 249v1M1703.5 200v1M1703.5 245v4M1703.5 250v2M1708.5 201v1M1708.5 244v6M1708.5 253v1M1713.5 201v3M1713.5 248v2M1722.5 202v3M1722.5 245v1M1722.5 248v2M1722.5 252v1M1722.5 254v2M1727.5 205v1M1727.5 246v4M1727.5 252v1M1732.5 242v2M1732.5 246v2M1732.5 249v4M1737.5 244v4M1737.5 249v1M1737.5 252v1M1742.5 205v1M1742.5 208v1M1742.5 248v1M1742.5 250v2M1747.5 208v1M1747.5 245v7M1756.5 205v1M1756.5 246v3M1756.5 250v2M1756.5 253v1M1761.5 201v1M1761.5 238v3M1761.5 242v3M1766.5 194v3M1766.5 236v5M1766.5 242v2M1771.5 193v3M1771.5 230v2M1771.5 233v1M1771.5 236v8M1776.5 234v7M1776.5 244v1M1785.5 196v1M1785.5 229v1M1785.5 233v9M1785.5 246v2"/>
<path stroke="#4657f8" stroke-width="5" d="M1698.5 264v1M1703.5 188v1M1703.5 257v1M1703.5 258v1M1703.5 264v1M1708.5 184v1M1708.5 262v1M1708.5 266v1M1713.5 268v1M1722.5 198v2M1722.5 264v1M1722.5 268v1M1722.5 269v1M1722.5 270v1M1727.5 194v1M1727.5 198v1M1732.5 193v1M1732.5 265v1M1737.5 265v1M1742.5 201v1M1747.5 268v1M1756.5 198v1M1756.5 264v1M1766.5 269v1M1766.5 272v1M1771.5 244v1M1776.5 189v1M1776.5 248v1M1776.5 264v1M1776.5 266v1M1776.5 268v1M1785.5 192v1M1785.5 270v1"/>
<path stroke="#4657f8" stroke-width="4" d="M1718 198v2M1718 257v1M1718 265v1M1718 269v1M1752 266v2M1752 268v1"/>
<path stroke="#1b3bfc" stroke-width="4" d="M1718 200v1M1718 258v2M1718 261v1M1752 201v3M1781 190v2M1781 260v2M1781 264v1M1781 268v1"/>
<path stroke="#164afe" stroke-width="4" d="M1718 201v3M1718 248v1M1718 252v5M1752 204v2M1752 253v1M1752 258v3M1752 262v2M1781 192v2M1781 241v1M1781 244v2M1781 248v12M1781 262v2"/>
<path stroke="#0c6aff" stroke-width="4" d="M1718 204v1M1718 246v2M1718 249v3M1752 206v2M1752 245v1M1752 248v5M1752 254v2M1781 194v2M1781 233v1M1781 238v3M1781 242v2M1781 246v2"/>
<path stroke="#0096ff" stroke-width="4" d="M1718 205v1M1718 242v4M1752 208v2M1752 244v1M1752 246v2M1781 229v4M1781 234v4"/>
<path stroke="#00e1f0" stroke-width="4" d="M1718 206v3M1718 236v1M1718 238v2M1752 210v3M1752 240v2M1781 197v3M1781 225v1"/>
<path stroke="#00f096" stroke-width="4" d="M1718 209v3M1718 230v2M1752 213v1M1752 237v1M1781 200v1M1781 220v1"/>
<path stroke="#42f120" stroke-width="4" d="M1718 212v1M1718 229v1M1752 216v1M1752 233v4M1781 201v1M1781 216v2"/>
<path stroke="#bef400" stroke-width="4" d="M1718 213v1M1718 220v1M1752 218v2M1752 230v2"/>
<path stroke="#83f40c" stroke-width="4" d="M1718 214v2M1718 224v5M1752 217v1M1752 232v1M1781 212v1M1781 214v2"/>
<path stroke="#fccc00" stroke-width="4" d="M1718 216v1M1752 221v1M1752 225v1M1752 229v1M1781 204v1"/>
<path stroke="#ff7500" stroke-width="4" d="M1718 217v3M1752 224v1M1781 205v1"/>
<path stroke="#fe9f00" stroke-width="4" d="M1718 221v1M1752 228v1M1781 206v4"/>
<path stroke="#f0f100" stroke-width="4" d="M1718 222v2M1752 220v1M1752 226v2M1781 202v2M1781 210v2M1781 213v1"/>
<path stroke="#19f051" stroke-width="4" d="M1718 232v1M1752 214v2M1781 218v2"/>
<path stroke="#00e8c3" stroke-width="4" d="M1718 233v3M1718 237v1M1752 238v2M1781 221v4"/>
<path stroke="#00bbf8" stroke-width="4" d="M1718 240v2M1752 242v2M1781 196v1M1781 226v3"/>
<path stroke="#a8b0f7" stroke-width="4" d="M1718 260v1M1718 262v1M1718 264v1M1718 268v1M1752 197v1M1752 256v1M1752 257v1M1752 264v1"/>
<path stroke="#ff4c00" stroke-width="5" d="M1747.5 221v1M1766.5 206v3M1785.5 209v1"/>
<path stroke="#ff4c00" stroke-width="4" d="M1752 222v2"/>
<path stroke="#ff2300" stroke-width="5" d="M1766.5 209v3M1771.5 205v1"/>
</g>
<path d="M1696.8 272.7H1787.7" stroke="#555" stroke-width="1.1" fill="none"/>
<path d="M1696.8 272.5H1787.7" stroke="#c8281e" stroke-width="1.5" fill="none"/>
<path d="M1696.5 273.0V107.5H1788.5V273.0" fill="none" stroke="#6a6a6a" stroke-width="1.25"/>
<path d="M1698.7 272.4v4.2M1713.2 272.4v4.2M1761.6 272.4v4.2M1785.8 272.4v4.2" stroke="#333" stroke-width="1.1" fill="none"/>
<path d="M1698.7 272.4v1.6M1703.6 272.4v1.6M1708.4 272.4v1.6M1713.2 272.4v1.6M1718.1 272.4v1.6M1722.9 272.4v1.6M1727.7 272.4v1.6M1732.6 272.4v1.6M1737.4 272.4v1.6M1742.2 272.4v1.6M1747.1 272.4v1.6M1751.9 272.4v1.6M1756.8 272.4v1.6M1761.6 272.4v1.6M1766.4 272.4v1.6M1771.3 272.4v1.6M1776.1 272.4v1.6M1780.9 272.4v1.6M1785.8 272.4v1.6" stroke="#333" stroke-width="0.6" fill="none"/>
<text x="1694.5" y="285.3" font-size="8.6" fill="#1c1c1c" textLength="8.4" lengthAdjust="spacingAndGlyphs">17</text>
<text x="1757.4" y="285.3" font-size="8.6" fill="#1c1c1c" textLength="8.4" lengthAdjust="spacingAndGlyphs">30</text>
<text x="1781.6" y="285.3" font-size="8.6" fill="#1c1c1c" textLength="8.4" lengthAdjust="spacingAndGlyphs">35</text>
<path d="M870.1 273.0H874.3M870.1 245.5H874.3M870.1 218.0H874.3M870.1 190.4H874.3M870.1 162.9H874.3M870.1 135.4H874.3M870.1 107.9H874.3" stroke="#333" stroke-width="1" fill="none"/>
<path d="M872.1 264.7H874.3M872.1 259.9H874.3M872.1 256.4H874.3M872.1 253.8H874.3M872.1 251.6H874.3M872.1 249.7H874.3M872.1 248.1H874.3M872.1 246.7H874.3M872.1 237.2H874.3M872.1 232.4H874.3M872.1 228.9H874.3M872.1 226.3H874.3M872.1 224.1H874.3M872.1 222.2H874.3M872.1 220.6H874.3M872.1 219.2H874.3M872.1 209.7H874.3M872.1 204.8H874.3M872.1 201.4H874.3M872.1 198.7H874.3M872.1 196.6H874.3M872.1 194.7H874.3M872.1 193.1H874.3M872.1 191.7H874.3M872.1 182.2H874.3M872.1 177.3H874.3M872.1 173.9H874.3M872.1 171.2H874.3M872.1 169.0H874.3M872.1 167.2H874.3M872.1 165.6H874.3M872.1 164.2H874.3M872.1 154.6H874.3M872.1 149.8H874.3M872.1 146.4H874.3M872.1 143.7H874.3M872.1 141.5H874.3M872.1 139.7H874.3M872.1 138.1H874.3M872.1 136.7H874.3M872.1 127.1H874.3M872.1 122.3H874.3M872.1 118.8H874.3M872.1 116.2H874.3M872.1 114.0H874.3M872.1 112.2H874.3M872.1 110.6H874.3M872.1 109.2H874.3" stroke="#333" stroke-width="0.7" fill="none"/>
<path d="M874.0 107.9V273.0" stroke="#4a4a4a" stroke-width="1.3" fill="none"/>
<rect x="843.4" y="346.9" width="6.7" height="6.7" fill="#f00" stroke="#b00000" stroke-width="0.5"/>
<text x="853.1" y="353.6" font-size="9" fill="#1c1c1c" textLength="5.4" lengthAdjust="spacingAndGlyphs">A</text>
<text x="861.0" y="542.1" font-size="7.7" fill="#1c1c1c" textLength="7.5" lengthAdjust="spacingAndGlyphs">10</text>
<text x="868.7" y="538.7" font-size="4.8" fill="#1c1c1c">0</text>
<text x="861.0" y="514.6" font-size="7.7" fill="#1c1c1c" textLength="7.5" lengthAdjust="spacingAndGlyphs">10</text>
<text x="868.7" y="511.2" font-size="4.8" fill="#1c1c1c">1</text>
<text x="861.0" y="487.1" font-size="7.7" fill="#1c1c1c" textLength="7.5" lengthAdjust="spacingAndGlyphs">10</text>
<text x="868.7" y="483.7" font-size="4.8" fill="#1c1c1c">2</text>
<text x="861.0" y="459.6" font-size="7.7" fill="#1c1c1c" textLength="7.5" lengthAdjust="spacingAndGlyphs">10</text>
<text x="868.7" y="456.2" font-size="4.8" fill="#1c1c1c">3</text>
<text x="861.0" y="432.0" font-size="7.7" fill="#1c1c1c" textLength="7.5" lengthAdjust="spacingAndGlyphs">10</text>
<text x="868.7" y="428.6" font-size="4.8" fill="#1c1c1c">4</text>
<text x="861.0" y="404.5" font-size="7.7" fill="#1c1c1c" textLength="7.5" lengthAdjust="spacingAndGlyphs">10</text>
<text x="868.7" y="401.1" font-size="4.8" fill="#1c1c1c">5</text>
<text x="861.0" y="377.0" font-size="7.7" fill="#1c1c1c" textLength="7.5" lengthAdjust="spacingAndGlyphs">10</text>
<text x="868.7" y="373.6" font-size="4.8" fill="#1c1c1c">6</text>
<text transform="translate(848.9 476.4) rotate(-90)" font-size="8.8" fill="#1c1c1c" textLength="40.2" lengthAdjust="spacingAndGlyphs">Intensity_A</text>
<text x="1318.4" y="565.7" font-size="8.8" fill="#1c1c1c" textLength="28.5" lengthAdjust="spacingAndGlyphs">Channel</text>
<rect x="875.3" y="358.9" width="10.7" height="10.7" fill="#8b8f92"/>
<path d="M880.65 365.25L885.15 364.25L880.65 363.25ZM880.16 364.74L883.12 366.72L881.14 363.76ZM879.65 364.25L880.65 368.75L881.65 364.25ZM880.16 363.76L878.18 366.72L881.14 364.74ZM880.65 363.25L876.15 364.25L880.65 365.25ZM881.14 363.76L878.18 361.78L880.16 364.74ZM881.65 364.25L880.65 359.75L879.65 364.25ZM881.14 364.74L883.12 361.78L880.16 363.76Z" fill="#fff"/>
<circle cx="880.65" cy="364.25" r="2.0" fill="#fff"/>
<text x="889.7" y="368.0" font-size="9.3" fill="#1c1c1c" textLength="25.2" lengthAdjust="spacingAndGlyphs">320nm</text>
<g fill="none">
<path stroke="#4657f8" stroke-width="5" d="M877.5 407v1M877.5 418v1M877.5 473v1M877.5 494v1M877.5 496v1M877.5 500v1M877.5 507v1M877.5 508v1M877.5 514v1M882.5 507v1M882.5 508v1M882.5 511v1M887.5 425v1M887.5 431v1M887.5 490v1M887.5 500v1M887.5 502v1M887.5 503v1M887.5 506v1M887.5 511v1M887.5 515v1M887.5 526v1M887.5 532v1M892.5 504v1M892.5 506v1M892.5 531v1M901.5 418v1M901.5 491v1M901.5 500v2M901.5 508v1M901.5 519v1M901.5 520v1M901.5 526v1M901.5 536v1M906.5 502v1M906.5 508v1M906.5 512v1M906.5 520v1M906.5 531v1M911.5 439v1M911.5 490v1M911.5 494v1M911.5 502v1M911.5 503v1M911.5 506v1M911.5 512v1M916.5 527v1M916.5 530v1M916.5 531v1M925.5 502v1M925.5 512v1M925.5 515v1M925.5 520v1M925.5 526v1M930.5 496v1M930.5 514v1M930.5 527v1M930.5 528v1M935.5 512v1M935.5 519v1M935.5 530v1M940.5 434v1M940.5 438v1M940.5 512v2M940.5 515v1M940.5 520v1M940.5 527v1M940.5 528v1M945.5 445v1M945.5 511v1M945.5 516v1M945.5 519v1M945.5 531v1M954.5 442v1M954.5 451v2M954.5 526v1M959.5 495v1M959.5 518v1M959.5 528v2M964.5 450v1M964.5 524v2M969.5 502v1M969.5 532v1M978.5 523v1M978.5 526v1M978.5 530v1M978.5 531v1M978.5 535v1M983.5 454v1M983.5 528v2M983.5 536v1M988.5 530v1M993.5 530v1M1002.5 454v1M1002.5 519v1M1002.5 531v1M1007.5 447v1M1007.5 527v1M1007.5 528v1M1012.5 453v1M1012.5 538v1M1017.5 453v1M1017.5 532v2M1026.5 527v1M1026.5 538v1M1031.5 524v1M1031.5 535v1M1031.5 536v1M1036.5 453v1M1036.5 524v1M1036.5 531v1M1036.5 538v1M1041.5 530v1"/>
<path stroke="#a8b0f7" stroke-width="5" d="M877.5 414v1M877.5 422v1M877.5 478v1M877.5 490v1M887.5 418v1M887.5 430v1M887.5 433v1M887.5 434v1M887.5 435v1M887.5 437v1M887.5 512v1M892.5 426v1M892.5 427v1M892.5 430v1M892.5 495v1M892.5 507v1M892.5 511v1M892.5 515v1M892.5 538v1M901.5 430v1M901.5 433v1M901.5 437v1M901.5 499v1M901.5 502v1M901.5 512v1M901.5 516v1M906.5 515v1M906.5 523v1M911.5 434v1M911.5 532v1M916.5 434v1M916.5 441v1M916.5 442v1M916.5 450v1M916.5 451v1M916.5 453v1M916.5 514v1M925.5 496v1M925.5 507v1M925.5 523v1M930.5 489v1M930.5 511v1M930.5 512v1M930.5 515v1M930.5 516v1M935.5 487v1M935.5 507v1M935.5 508v1M935.5 520v1M940.5 435v1M940.5 491v1M940.5 530v1M945.5 508v1M945.5 514v1M945.5 515v1M954.5 450v1M954.5 522v1M954.5 528v1M959.5 524v1M959.5 527v1M964.5 449v1M964.5 530v1M969.5 447v1M969.5 518v1M969.5 526v1M978.5 534v1M983.5 446v1M983.5 449v1M983.5 451v1M983.5 511v1M983.5 535v1M988.5 451v1M988.5 516v1M988.5 526v1M993.5 503v1M993.5 512v1M993.5 522v1M993.5 528v1M1002.5 451v1M1002.5 453v1M1002.5 518v1M1002.5 534v1M1007.5 449v1M1007.5 523v1M1007.5 531v1M1007.5 532v1M1012.5 447v1M1012.5 454v1M1017.5 528v1M1017.5 536v1M1026.5 449v1M1026.5 451v1M1026.5 524v1M1026.5 528v1M1026.5 532v1M1031.5 449v1M1031.5 530v1M1036.5 450v1M1036.5 451v1M1041.5 455v1M1041.5 523v1M1041.5 535v1"/>
<path stroke="#1b3bfc" stroke-width="5" d="M877.5 423v2M877.5 481v1M877.5 485v4M877.5 495v1M877.5 498v1M877.5 502v1M877.5 519v1M877.5 523v1M882.5 437v2M882.5 492v2M882.5 499v4M882.5 524v2M882.5 532v2M887.5 438v4M887.5 495v3M887.5 499v1M887.5 510v1M892.5 434v1M892.5 496v2M892.5 499v1M892.5 502v1M892.5 520v2M901.5 439v2M901.5 495v4M901.5 506v1M901.5 518v1M901.5 523v1M906.5 438v1M906.5 490v1M906.5 492v2M906.5 496v3M906.5 500v2M906.5 504v4M906.5 518v1M906.5 524v2M911.5 441v1M911.5 492v2M911.5 495v1M911.5 498v4M911.5 524v2M916.5 454v3M916.5 519v1M916.5 523v3M925.5 427v2M925.5 506v1M925.5 508v3M925.5 514v1M930.5 433v1M930.5 500v2M930.5 508v3M930.5 519v1M930.5 524v2M935.5 435v2M935.5 496v2M935.5 500v2M935.5 503v4M935.5 510v1M935.5 515v3M935.5 522v1M935.5 526v1M935.5 531v1M940.5 439v2M940.5 500v7M940.5 508v3M940.5 514v1M940.5 516v3M940.5 526v1M945.5 447v3M945.5 500v7M945.5 510v1M945.5 527v1M954.5 453v1M954.5 514v1M954.5 518v1M954.5 524v2M954.5 527v1M959.5 451v2M959.5 512v2M959.5 519v5M959.5 530v1M964.5 451v2M964.5 516v2M964.5 522v2M964.5 526v4M969.5 453v1M969.5 519v1M969.5 523v3M969.5 528v4M978.5 454v3M978.5 514v1M978.5 518v2M978.5 522v1M978.5 524v2M978.5 527v3M983.5 514v2M983.5 518v5M983.5 524v4M983.5 530v2M988.5 454v3M988.5 520v6M988.5 527v3M993.5 454v3M993.5 520v2M993.5 523v5M1002.5 514v1M1002.5 516v2M1002.5 522v8M1007.5 454v3M1007.5 512v2M1007.5 518v1M1012.5 455v2M1012.5 519v1M1012.5 522v1M1012.5 527v1M1012.5 531v4M1017.5 455v2M1017.5 519v3M1017.5 524v2M1017.5 527v1M1017.5 530v2M1017.5 534v1M1026.5 453v2M1026.5 519v1M1026.5 522v1M1026.5 531v1M1026.5 534v1M1026.5 536v2M1031.5 453v1M1031.5 518v1M1031.5 523v1M1031.5 527v1M1031.5 531v4M1036.5 454v1M1036.5 520v2M1036.5 526v1M1036.5 528v3M1036.5 532v3M1036.5 536v2M1041.5 459v2M1041.5 519v1M1041.5 522v1M1041.5 524v6M1041.5 531v4M1041.5 538v1"/>
<path stroke="#164afe" stroke-width="5" d="M877.5 425v2M877.5 471v2M877.5 477v1M877.5 479v2M877.5 482v1M882.5 439v3M882.5 487v5M882.5 494v5M887.5 443v2M887.5 486v3M887.5 491v4M892.5 435v2M892.5 489v5M901.5 438v1M901.5 441v1M901.5 489v2M901.5 492v3M906.5 439v3M906.5 485v1M906.5 491v1M906.5 494v2M911.5 442v3M911.5 485v1M911.5 491v1M916.5 457v1M916.5 508v2M916.5 511v3M916.5 515v4M925.5 481v2M925.5 485v9M925.5 495v1M925.5 499v3M925.5 503v3M930.5 434v1M930.5 482v1M930.5 491v5M930.5 498v2M930.5 502v4M935.5 437v1M935.5 483v3M935.5 490v1M935.5 492v2M935.5 498v2M940.5 492v4M940.5 498v2M940.5 511v1M945.5 492v2M945.5 498v2M945.5 507v1M945.5 512v2M954.5 454v1M954.5 503v1M954.5 506v8M954.5 515v3M954.5 519v3M959.5 453v2M959.5 506v6M959.5 514v4M964.5 453v2M964.5 503v13M964.5 518v2M969.5 454v3M969.5 506v8M969.5 515v3M969.5 520v3M978.5 503v1M978.5 507v7M978.5 515v1M978.5 520v2M983.5 455v4M983.5 508v2M983.5 512v2M983.5 516v2M983.5 523v1M988.5 457v2M988.5 504v2M988.5 507v4M988.5 512v4M988.5 518v2M993.5 457v2M993.5 502v1M993.5 504v4M993.5 510v1M993.5 514v6M1002.5 455v3M1002.5 506v1M1002.5 510v1M1002.5 512v2M1002.5 515v1M1002.5 520v2M1007.5 457v2M1007.5 510v2M1007.5 515v3M1007.5 519v1M1007.5 522v1M1012.5 457v2M1012.5 512v3M1012.5 516v3M1012.5 520v2M1012.5 523v4M1012.5 528v2M1017.5 457v1M1017.5 515v4M1017.5 522v2M1017.5 526v1M1026.5 455v2M1026.5 516v3M1026.5 520v2M1026.5 523v1M1026.5 526v1M1031.5 454v1M1031.5 516v2M1031.5 519v4M1031.5 528v2M1036.5 518v2M1036.5 522v2M1041.5 461v1M1041.5 518v1M1041.5 520v2"/>
<path stroke="#0096ff" stroke-width="5" d="M877.5 427v3M877.5 463v2M877.5 466v1M877.5 469v2M882.5 477v2M887.5 445v2M887.5 475v2M887.5 479v2M892.5 438v3M892.5 477v4M892.5 482v1M901.5 477v2M906.5 475v7M911.5 445v1M911.5 475v2M911.5 478v1M911.5 481v1M916.5 461v1M916.5 492v7M925.5 429v1M925.5 463v2M925.5 466v4M930.5 435v2M930.5 465v1M930.5 467v7M930.5 475v3M930.5 481v1M935.5 471v2M935.5 474v1M935.5 481v1M940.5 443v2M940.5 475v2M940.5 479v3M940.5 486v1M945.5 451v2M945.5 483v2M945.5 486v1M954.5 457v1M954.5 491v3M954.5 495v1M959.5 491v4M959.5 496v2M959.5 502v1M964.5 457v1M964.5 492v3M964.5 500v2M969.5 459v2M969.5 492v2M969.5 495v1M969.5 499v1M978.5 459v2M978.5 494v1M983.5 491v7M983.5 500v2M988.5 461v1M988.5 492v4M993.5 461v1M993.5 492v2M993.5 500v2M1002.5 459v2M1002.5 492v2M1002.5 495v1M1007.5 461v1M1007.5 495v3M1007.5 503v1M1012.5 459v2M1012.5 489v2M1012.5 492v3M1012.5 508v4M1017.5 461v1M1017.5 486v3M1017.5 490v1M1017.5 512v2M1026.5 457v2M1026.5 487v4M1031.5 486v3M1031.5 515v1M1036.5 457v1M1036.5 487v4M1036.5 515v1M1041.5 486v3M1041.5 490v1M1041.5 516v2"/>
<path stroke="#00e1f0" stroke-width="5" d="M877.5 430v1M877.5 459v3M882.5 446v1M882.5 473v4M887.5 447v2M887.5 473v1M892.5 470v3M892.5 474v1M901.5 474v1M906.5 445v1M906.5 471v2M911.5 446v3M911.5 471v4M916.5 491v1M925.5 430v1M925.5 458v3M930.5 437v1M930.5 461v1M935.5 441v1M935.5 469v2M940.5 445v1M940.5 473v1M945.5 478v4M954.5 458v1M954.5 486v1M954.5 489v2M959.5 458v1M959.5 486v1M959.5 489v1M964.5 486v1M969.5 461v1M978.5 461v2M978.5 489v2M983.5 462v1M983.5 489v2M988.5 490v1M1002.5 462v3M1002.5 490v1M1007.5 489v2M1012.5 483v3M1012.5 507v1M1017.5 462v1M1017.5 485v1M1017.5 492v2M1017.5 508v2M1017.5 511v1M1026.5 459v2M1026.5 483v2M1026.5 492v2M1026.5 511v1M1031.5 458v1M1031.5 483v3M1031.5 491v1M1036.5 459v2M1036.5 485v1"/>
<path stroke="#00f096" stroke-width="5" d="M877.5 431v2M877.5 454v1M877.5 457v1M882.5 469v2M887.5 451v2M887.5 471v2M892.5 442v1M892.5 465v1M892.5 467v2M901.5 467v3M906.5 467v2M906.5 470v1M911.5 449v1M911.5 469v2M916.5 487v3M925.5 454v1M925.5 457v1M930.5 459v2M935.5 442v1M935.5 462v1M935.5 465v2M940.5 466v3M945.5 475v3M954.5 485v1M959.5 482v4M964.5 461v1M969.5 462v1M969.5 485v2M978.5 465v1M978.5 485v1M978.5 487v2M983.5 466v1M988.5 465v1M988.5 486v1M993.5 487v2M1002.5 486v1M1007.5 485v2M1012.5 463v2M1012.5 481v2M1012.5 496v4M1012.5 504v2M1017.5 463v2M1017.5 481v2M1017.5 507v1M1026.5 494v1M1026.5 508v2M1031.5 459v2M1031.5 511v1M1036.5 461v1M1036.5 481v1M1036.5 492v2M1041.5 511v3"/>
<path stroke="#19f051" stroke-width="5" d="M877.5 433v1M877.5 451v2M892.5 462v1M892.5 466v1M901.5 446v1M901.5 465v1M906.5 449v1M906.5 463v4M916.5 466v1M916.5 485v2M925.5 431v2M925.5 453v1M930.5 454v5M935.5 443v2M935.5 459v2M940.5 469v1M945.5 474v1M954.5 461v1M954.5 479v2M954.5 482v1M959.5 461v1M959.5 481v1M964.5 479v2M964.5 482v3M969.5 463v2M969.5 482v1M978.5 466v1M978.5 482v1M978.5 486v1M983.5 467v2M983.5 485v2M988.5 466v3M993.5 467v2M993.5 486v1M1002.5 465v1M1007.5 482v3M1012.5 465v1M1012.5 500v4M1017.5 479v2M1017.5 495v3M1026.5 462v1M1026.5 479v2M1026.5 510v1M1031.5 461v1M1031.5 479v3M1031.5 510v1M1036.5 479v2M1041.5 466v1M1041.5 479v3M1041.5 492v2"/>
<path stroke="#42f120" stroke-width="5" d="M877.5 434v1M877.5 453v1M882.5 450v3M882.5 467v2M887.5 453v1M887.5 455v2M887.5 466v4M892.5 443v2M892.5 459v3M892.5 463v2M901.5 447v2M901.5 463v2M901.5 466v1M911.5 450v1M911.5 466v3M916.5 469v1M916.5 483v2M925.5 433v1M925.5 450v3M930.5 439v2M935.5 461v1M940.5 447v2M940.5 463v3M945.5 455v2M945.5 471v3M954.5 462v1M954.5 477v1M954.5 481v1M959.5 462v1M959.5 478v1M964.5 462v3M964.5 481v1M969.5 465v1M969.5 483v2M978.5 467v2M983.5 482v3M988.5 482v1M988.5 485v1M993.5 469v1M993.5 483v3M1002.5 485v1M1007.5 466v1M1007.5 481v1M1012.5 478v3M1017.5 465v1M1017.5 506v1M1026.5 478v1M1026.5 495v1M1031.5 477v2M1031.5 494v1M1036.5 477v2M1036.5 511v1"/>
<path stroke="#bef400" stroke-width="5" d="M877.5 435v2M877.5 447v3M882.5 453v1M882.5 462v1M887.5 459v2M892.5 455v2M906.5 451v2M906.5 458v1M911.5 462v1M916.5 479v4M925.5 445v1M930.5 447v4M935.5 445v1M935.5 451v2M935.5 454v1M940.5 454v3M940.5 458v3M945.5 458v1M954.5 473v4M954.5 478v1M959.5 463v2M964.5 465v1M969.5 466v1M983.5 479v2M988.5 469v2M988.5 481v1M993.5 470v1M1002.5 469v1M1002.5 479v3M1007.5 467v2M1007.5 477v1M1007.5 479v2M1012.5 467v2M1017.5 498v1M1017.5 500v4M1026.5 465v1M1026.5 503v1M1026.5 506v1M1031.5 463v2M1031.5 474v1M1031.5 495v1M1036.5 475v2M1036.5 507v1M1041.5 467v2"/>
<path stroke="#fccc00" stroke-width="5" d="M877.5 437v1M882.5 454v1M882.5 461v1M887.5 457v1M892.5 445v2M892.5 454v1M901.5 450v1M901.5 459v2M906.5 453v1M911.5 453v1M911.5 457v1M911.5 461v1M925.5 439v2M925.5 443v2M930.5 441v1M935.5 447v3M935.5 453v1M940.5 450v1M940.5 457v1M954.5 466v1M954.5 470v3M959.5 465v1M959.5 470v3M964.5 469v1M964.5 471v2M964.5 474v1M969.5 471v2M969.5 474v4M978.5 470v1M978.5 475v2M988.5 477v4M993.5 474v1M993.5 478v3M1002.5 470v1M1007.5 470v4M1007.5 478v1M1012.5 474v3M1017.5 467v2M1017.5 473v1M1026.5 467v2M1026.5 470v3M1031.5 465v1M1031.5 470v1M1031.5 473v1M1031.5 498v1M1031.5 506v1M1036.5 465v1M1036.5 471v2M1036.5 474v1M1036.5 495v1M1041.5 498v1M1041.5 506v4"/>
<path stroke="#f0f100" stroke-width="5" d="M877.5 438v1M877.5 442v1M882.5 463v2M887.5 458v1M887.5 461v1M892.5 453v1M901.5 458v1M906.5 454v1M906.5 457v1M906.5 459v2M911.5 454v1M916.5 470v1M916.5 477v1M925.5 434v1M930.5 442v3M930.5 446v1M935.5 450v1M940.5 451v2M945.5 465v2M945.5 469v1M959.5 474v3M964.5 466v1M964.5 475v2M969.5 467v2M978.5 477v1M978.5 479v2M993.5 471v2M993.5 477v1M1002.5 478v1M1007.5 474v1M1012.5 471v2M1017.5 475v2M1017.5 499v1M1026.5 466v1M1026.5 473v1M1026.5 496v2M1026.5 499v4M1026.5 504v2M1031.5 471v2M1031.5 496v2M1031.5 507v1M1036.5 473v1M1041.5 474v3M1041.5 496v2"/>
<path stroke="#fe9f00" stroke-width="5" d="M877.5 439v2M877.5 443v3M882.5 455v2M892.5 450v1M901.5 455v3M906.5 455v2M911.5 455v2M911.5 458v3M916.5 471v2M916.5 474v3M916.5 478v1M925.5 437v1M925.5 441v2M930.5 445v1M935.5 446v1M945.5 462v1M954.5 465v1M959.5 466v4M964.5 467v2M964.5 473v1M969.5 473v1M978.5 471v2M978.5 474v1M978.5 478v1M983.5 471v3M983.5 475v2M983.5 478v1M988.5 471v2M1002.5 477v1M1007.5 475v2M1012.5 469v1M1017.5 469v1M1017.5 474v1M1026.5 469v1M1031.5 499v5M1036.5 466v1M1036.5 470v1M1036.5 496v4M1036.5 504v3M1041.5 469v5M1041.5 504v2"/>
<path stroke="#ff7500" stroke-width="5" d="M877.5 441v1M882.5 458v3M892.5 447v2M892.5 451v2M916.5 473v1M925.5 438v1M940.5 453v1M945.5 459v3M945.5 463v2M954.5 467v3M964.5 470v1M969.5 469v2M983.5 474v1M983.5 477v1M988.5 473v1M993.5 473v1M993.5 475v2M1002.5 475v2M1012.5 470v1M1012.5 473v1M1031.5 467v3M1031.5 504v2M1041.5 503v1"/>
<path stroke="#83f40c" stroke-width="5" d="M877.5 446v1M877.5 450v1M882.5 465v2M887.5 454v1M887.5 462v4M892.5 457v2M901.5 449v1M901.5 461v2M906.5 450v1M906.5 461v2M911.5 451v2M911.5 463v3M916.5 467v2M925.5 446v4M930.5 451v3M935.5 455v4M940.5 449v1M940.5 461v2M945.5 457v1M945.5 467v2M945.5 470v1M954.5 463v2M959.5 473v1M959.5 477v1M959.5 479v2M964.5 477v2M969.5 478v4M978.5 469v1M978.5 481v1M978.5 483v2M983.5 469v2M983.5 481v1M988.5 483v2M993.5 481v2M1002.5 466v3M1002.5 482v3M1007.5 469v1M1012.5 466v1M1012.5 477v1M1017.5 466v1M1017.5 477v2M1017.5 504v2M1026.5 463v2M1026.5 474v4M1026.5 498v1M1026.5 507v1M1031.5 462v1M1031.5 475v2M1031.5 508v2M1036.5 462v3M1036.5 494v1M1036.5 508v3M1041.5 477v2M1041.5 494v2M1041.5 510v1"/>
<path stroke="#00e8c3" stroke-width="5" d="M877.5 455v2M877.5 458v1M882.5 447v3M882.5 471v2M887.5 449v2M887.5 470v1M892.5 441v1M892.5 469v1M901.5 445v1M901.5 470v3M906.5 446v3M906.5 469v1M906.5 473v1M916.5 463v3M916.5 490v1M925.5 455v2M930.5 438v1M930.5 462v3M935.5 463v2M940.5 446v1M940.5 470v3M945.5 454v1M954.5 459v2M954.5 483v2M959.5 459v2M959.5 487v2M964.5 459v2M964.5 485v1M964.5 487v3M969.5 487v2M978.5 463v2M983.5 463v3M983.5 487v2M988.5 487v3M993.5 465v2M993.5 489v1M1002.5 487v3M1007.5 463v3M1007.5 487v2M1012.5 495v1M1012.5 506v1M1017.5 483v2M1017.5 494v1M1017.5 510v1M1026.5 461v1M1026.5 481v2M1031.5 482v1M1031.5 492v2M1036.5 482v1M1036.5 491v1M1036.5 512v3M1041.5 465v1M1041.5 482v3M1041.5 491v1"/>
<path stroke="#00bbf8" stroke-width="5" d="M877.5 462v1M877.5 465v1M882.5 443v3M887.5 474v1M892.5 473v1M892.5 475v2M901.5 443v2M901.5 473v1M901.5 475v2M906.5 474v1M911.5 477v1M916.5 462v1M925.5 461v2M930.5 466v1M935.5 439v2M935.5 467v2M940.5 474v1M940.5 477v1M945.5 453v1M945.5 482v1M954.5 487v2M959.5 490v1M964.5 458v1M964.5 490v2M969.5 489v3M978.5 491v1M983.5 461v1M988.5 462v3M988.5 491v1M993.5 462v3M993.5 490v2M1002.5 461v1M1002.5 491v1M1007.5 462v1M1007.5 491v1M1007.5 498v5M1012.5 461v2M1012.5 486v3M1026.5 485v2M1026.5 491v1M1026.5 512v2M1031.5 512v3M1036.5 458v1M1036.5 483v2M1036.5 486v1M1041.5 463v2M1041.5 485v1M1041.5 514v2"/>
<path stroke="#0c6aff" stroke-width="5" d="M877.5 467v2M877.5 474v3M882.5 442v1M882.5 479v8M887.5 442v1M887.5 477v2M887.5 481v5M887.5 489v1M892.5 437v1M892.5 481v1M892.5 483v3M892.5 487v2M901.5 442v1M901.5 479v10M906.5 442v3M906.5 482v3M906.5 486v3M911.5 479v2M911.5 482v3M911.5 486v1M911.5 489v1M916.5 458v3M916.5 499v9M916.5 510v1M925.5 465v1M925.5 470v11M925.5 483v2M930.5 474v1M930.5 478v3M930.5 483v6M930.5 490v1M935.5 438v1M935.5 473v1M935.5 475v6M935.5 482v1M935.5 486v1M935.5 489v1M935.5 491v1M935.5 494v1M940.5 441v2M940.5 478v1M940.5 482v4M940.5 487v4M940.5 496v2M945.5 450v1M945.5 485v1M945.5 487v4M945.5 494v4M954.5 455v2M954.5 494v1M954.5 496v7M954.5 504v2M959.5 455v3M959.5 498v4M959.5 504v2M964.5 455v2M964.5 495v5M964.5 502v1M969.5 457v2M969.5 494v1M969.5 496v3M969.5 500v2M969.5 503v3M978.5 457v2M978.5 492v2M978.5 495v8M978.5 506v1M983.5 459v2M983.5 498v2M983.5 502v6M983.5 510v1M988.5 459v2M988.5 496v8M993.5 459v2M993.5 494v6M993.5 508v2M993.5 511v1M1002.5 458v1M1002.5 494v1M1002.5 496v10M1002.5 507v3M1002.5 511v1M1007.5 459v2M1007.5 492v3M1007.5 504v6M1012.5 491v1M1017.5 458v3M1017.5 489v1M1017.5 491v1M1017.5 514v1M1026.5 514v2M1031.5 455v3M1031.5 489v2M1036.5 455v2M1036.5 516v2M1041.5 462v1M1041.5 489v1"/>
<path stroke="#ff4c00" stroke-width="5" d="M882.5 457v1M892.5 449v1M901.5 451v4M925.5 435v2M978.5 473v1M988.5 474v3M1002.5 471v2M1017.5 470v3M1031.5 466v1M1036.5 469v1M1036.5 502v1M1041.5 499v3"/>
<path stroke="#a8b0f7" stroke-width="4" d="M897 426v1M897 430v1M897 433v1M897 500v1M897 516v1M897 520v1M897 522v1M897 526v1M921 429v1M921 507v1M921 512v1M921 514v1M921 519v1M950 451v1M950 457v1M950 458v1M950 534v1M974 447v1M974 519v1M974 527v1M998 531v1M1022 450v1M1022 451v1M1022 518v1M1022 520v1M1022 523v1M1022 536v1"/>
<path stroke="#1b3bfc" stroke-width="4" d="M897 437v1M897 495v1M897 504v2M897 519v1M921 434v3M921 498v1M921 500v4M921 506v1M921 508v2M921 511v1M950 461v2M950 527v3M950 532v2M950 536v2M974 453v4M974 518v1M974 522v5M974 534v1M998 454v3M998 519v1M998 522v5M998 528v2M998 532v2M1022 453v1M1022 522v1M1022 526v1M1022 528v2M1022 531v5"/>
<path stroke="#164afe" stroke-width="4" d="M897 438v3M897 487v4M897 492v2M921 485v1M921 487v2M921 492v6M921 499v1M950 463v2M950 511v1M950 514v1M950 519v5M974 457v1M974 508v10M974 520v2M998 457v2M998 508v3M998 512v7M1022 454v3M1022 516v2M1022 519v1M1022 524v2"/>
<path stroke="#0096ff" stroke-width="4" d="M897 441v1M897 475v2M897 478v4M921 438v1M921 469v4M921 474v4M921 481v1M950 466v1M950 500v6M950 507v1M974 458v4M974 491v5M974 499v3M998 491v3M998 496v2M1022 458v1M1022 486v5M1022 512v2"/>
<path stroke="#00bbf8" stroke-width="4" d="M897 442v1M897 474v1M897 477v1M921 439v2M921 467v2M950 467v2M950 498v2M974 462v1M998 462v3M998 490v1M1022 459v2M1022 483v3M1022 491v1"/>
<path stroke="#00e8c3" stroke-width="4" d="M897 443v2M921 462v1M950 469v1M950 494v1M974 463v2M974 486v3M998 465v1M1022 482v1"/>
<path stroke="#19f051" stroke-width="4" d="M897 445v1M897 467v2M921 441v1M950 473v1M950 491v1M974 465v2M998 467v2M1022 463v2M1022 479v2M1022 507v1"/>
<path stroke="#42f120" stroke-width="4" d="M897 446v1M897 466v1M921 442v1M921 454v5M974 481v1M998 483v2M1022 465v1M1022 478v1M1022 495v1"/>
<path stroke="#83f40c" stroke-width="4" d="M897 447v2M897 462v4M921 451v2M950 486v3M950 490v1M974 478v1M974 482v1M998 469v2M998 481v2M1022 475v3M1022 496v3M1022 506v1"/>
<path stroke="#fe9f00" stroke-width="4" d="M897 449v6M897 457v1M921 445v1M921 447v2M950 481v1M974 470v4M998 475v2M998 478v1M1022 469v1"/>
<path stroke="#ff7500" stroke-width="4" d="M897 455v2M950 477v2M950 482v1M998 471v4M998 477v1M1022 467v2"/>
<path stroke="#bef400" stroke-width="4" d="M897 458v1M897 461v1M921 443v2M921 453v1M950 474v1M950 489v1M974 467v2M974 479v2M1022 474v1M1022 503v3"/>
<path stroke="#f0f100" stroke-width="4" d="M897 459v2M921 446v1M921 450v1M950 483v3M974 469v1M974 477v1M1022 473v1M1022 499v4"/>
<path stroke="#00f096" stroke-width="4" d="M897 469v1M921 459v3M921 463v2M950 471v2M950 492v2M974 483v3M998 466v1M998 485v4M1022 462v1M1022 481v1M1022 494v1M1022 508v3"/>
<path stroke="#00e1f0" stroke-width="4" d="M897 470v4M921 465v2M950 470v1M950 495v3M974 489v2M998 489v1M1022 461v1M1022 492v2M1022 511v1"/>
<path stroke="#0c6aff" stroke-width="4" d="M897 482v5M921 437v1M921 473v1M921 478v3M921 482v3M921 486v1M921 489v3M950 465v1M950 506v1M950 508v3M950 512v2M950 515v4M974 496v3M974 502v6M998 459v3M998 494v2M998 498v10M1022 457v1M1022 514v2"/>
<path stroke="#4657f8" stroke-width="4" d="M897 496v1M897 503v1M897 507v1M897 512v1M897 514v1M921 427v1M921 504v1M921 510v1M921 515v1M921 527v1M950 450v1M950 530v1M974 450v1M974 530v1M974 532v1M998 511v1M998 520v1M998 527v1"/>
<path stroke="#fccc00" stroke-width="4" d="M921 449v1M950 475v2M974 474v3M998 479v2M1022 466v1M1022 471v2"/>
<path stroke="#ff4c00" stroke-width="4" d="M950 479v2M1022 470v1"/>
<path stroke="#ff2300" stroke-width="5" d="M1002.5 473v2M1036.5 467v2M1036.5 500v2M1036.5 503v1M1041.5 502v1"/>
</g>
<path d="M875.9 538.8H1043.2" stroke="#555" stroke-width="1.1" fill="none"/>
<path d="M875.9 538.6H879.7" stroke="#b0b030" stroke-width="1.5" fill="none"/>
<path d="M880.7 538.6H1043.2" stroke="#c8281e" stroke-width="1.5" fill="none"/>
<path d="M875.5 539.1V374.5H1043.5V539.1" fill="none" stroke="#6a6a6a" stroke-width="1.25"/>
<path d="M877.8 538.5v4.2M921.1 538.5v4.2M969.2 538.5v4.2M1017.3 538.5v4.2M1041.3 538.5v4.2" stroke="#333" stroke-width="1.1" fill="none"/>
<path d="M877.8 538.5v1.6M882.6 538.5v1.6M887.4 538.5v1.6M892.2 538.5v1.6M897.0 538.5v1.6M901.8 538.5v1.6M906.7 538.5v1.6M911.5 538.5v1.6M916.3 538.5v1.6M921.1 538.5v1.6M925.9 538.5v1.6M930.7 538.5v1.6M935.5 538.5v1.6M940.3 538.5v1.6M945.1 538.5v1.6M949.9 538.5v1.6M954.7 538.5v1.6M959.5 538.5v1.6M964.4 538.5v1.6M969.2 538.5v1.6M974.0 538.5v1.6M978.8 538.5v1.6M983.6 538.5v1.6M988.4 538.5v1.6M993.2 538.5v1.6M998.0 538.5v1.6M1002.8 538.5v1.6M1007.6 538.5v1.6M1012.4 538.5v1.6M1017.3 538.5v1.6M1022.1 538.5v1.6M1026.9 538.5v1.6M1031.7 538.5v1.6M1036.5 538.5v1.6M1041.3 538.5v1.6" stroke="#333" stroke-width="0.6" fill="none"/>
<text x="875.7" y="551.4" font-size="8.6" fill="#1c1c1c" textLength="4.2" lengthAdjust="spacingAndGlyphs">1</text>
<text x="916.9" y="551.4" font-size="8.6" fill="#1c1c1c" textLength="8.4" lengthAdjust="spacingAndGlyphs">10</text>
<text x="965.0" y="551.4" font-size="8.6" fill="#1c1c1c" textLength="8.4" lengthAdjust="spacingAndGlyphs">20</text>
<text x="1013.1" y="551.4" font-size="8.6" fill="#1c1c1c" textLength="8.4" lengthAdjust="spacingAndGlyphs">30</text>
<text x="1037.1" y="551.4" font-size="8.6" fill="#1c1c1c" textLength="8.4" lengthAdjust="spacingAndGlyphs">35</text>
<rect x="1051.3" y="358.9" width="10.7" height="10.7" fill="#6c40c4"/>
<path d="M1056.65 365.25L1061.15 364.25L1056.65 363.25ZM1056.16 364.74L1059.12 366.72L1057.14 363.76ZM1055.65 364.25L1056.65 368.75L1057.65 364.25ZM1056.16 363.76L1054.18 366.72L1057.14 364.74ZM1056.65 363.25L1052.15 364.25L1056.65 365.25ZM1057.14 363.76L1054.18 361.78L1056.16 364.74ZM1057.65 364.25L1056.65 359.75L1055.65 364.25ZM1057.14 364.74L1059.12 361.78L1056.16 363.76Z" fill="#fff"/>
<circle cx="1056.65" cy="364.25" r="2.0" fill="#fff"/>
<text x="1065.7" y="368.0" font-size="9.3" fill="#1c1c1c" textLength="25.2" lengthAdjust="spacingAndGlyphs">355nm</text>
<g fill="none">
<path stroke="#a8b0f7" stroke-width="5" d="M1053.5 413v1M1053.5 430v1M1053.5 433v1M1053.5 438v1M1053.5 492v1M1053.5 507v1M1053.5 512v1M1053.5 518v1M1053.5 538v1M1058.5 423v1M1058.5 431v1M1058.5 433v1M1058.5 434v1M1058.5 438v1M1058.5 494v1M1058.5 495v1M1058.5 496v1M1063.5 430v1M1063.5 433v1M1063.5 434v1M1063.5 487v1M1063.5 494v1M1063.5 496v1M1063.5 498v1M1063.5 504v1M1063.5 506v1M1063.5 507v1M1063.5 508v1M1063.5 512v1M1063.5 518v1M1068.5 425v1M1068.5 427v1M1068.5 433v1M1068.5 492v1M1068.5 522v1M1077.5 427v1M1077.5 429v1M1077.5 490v1M1077.5 495v1M1077.5 498v1M1077.5 506v1M1082.5 414v1M1082.5 418v1M1082.5 422v1M1082.5 423v1M1082.5 427v1M1082.5 433v1M1082.5 483v1M1082.5 492v1M1082.5 496v1M1082.5 504v1M1087.5 438v1M1087.5 499v1M1087.5 503v1M1087.5 507v1M1087.5 510v1M1087.5 527v1M1087.5 535v1M1092.5 433v1M1092.5 445v1M1092.5 446v1M1092.5 451v1M1092.5 523v1M1101.5 414v1M1101.5 498v1M1101.5 503v1M1101.5 506v1M1101.5 514v1M1101.5 528v1M1106.5 421v1M1106.5 423v1M1106.5 496v1M1106.5 527v1M1111.5 429v1M1111.5 486v1M1111.5 498v1M1111.5 527v1M1116.5 433v1M1116.5 485v1M1116.5 487v1M1116.5 491v1M1116.5 507v1M1116.5 510v1M1116.5 511v1M1116.5 532v1M1125.5 443v1M1125.5 461v1M1125.5 524v1M1130.5 446v1M1130.5 512v1M1130.5 519v1M1130.5 522v1M1130.5 527v1M1135.5 508v1M1135.5 516v1M1135.5 531v1M1140.5 518v1M1140.5 527v1M1145.5 450v1M1145.5 523v1M1145.5 524v1M1154.5 455v1M1159.5 453v1M1159.5 534v1M1164.5 450v1M1164.5 455v1M1164.5 532v1M1164.5 535v1M1169.5 447v1M1169.5 455v1M1178.5 532v1M1178.5 536v1M1183.5 457v1M1188.5 458v1M1188.5 534v1M1188.5 538v1M1193.5 454v1M1193.5 455v1M1193.5 535v1M1202.5 522v1M1202.5 536v1M1207.5 453v1M1207.5 528v1M1207.5 532v1M1207.5 534v1M1212.5 454v1"/>
<path stroke="#4657f8" stroke-width="5" d="M1053.5 439v1M1053.5 496v1M1053.5 499v1M1053.5 500v1M1053.5 503v1M1053.5 514v1M1053.5 526v1M1053.5 530v1M1058.5 439v1M1058.5 492v2M1058.5 500v1M1058.5 514v1M1058.5 522v1M1058.5 532v1M1063.5 437v1M1063.5 499v1M1063.5 510v1M1063.5 516v1M1063.5 523v1M1068.5 430v1M1068.5 495v1M1068.5 534v1M1077.5 485v1M1077.5 489v1M1077.5 494v1M1077.5 504v1M1077.5 531v1M1082.5 426v1M1082.5 431v1M1082.5 435v1M1082.5 498v1M1082.5 506v1M1082.5 514v1M1087.5 419v1M1087.5 433v1M1087.5 489v1M1087.5 498v1M1087.5 502v1M1087.5 504v1M1087.5 508v1M1087.5 512v1M1087.5 514v1M1087.5 515v1M1087.5 520v1M1092.5 442v1M1092.5 514v1M1092.5 520v1M1092.5 526v1M1092.5 528v1M1092.5 534v1M1101.5 510v1M1101.5 512v1M1101.5 518v1M1101.5 519v1M1101.5 524v1M1106.5 498v1M1106.5 499v1M1106.5 506v1M1106.5 511v1M1106.5 526v1M1111.5 500v1M1111.5 518v1M1111.5 534v1M1116.5 512v2M1116.5 522v1M1116.5 523v1M1116.5 528v1M1125.5 512v1M1125.5 515v1M1125.5 531v1M1130.5 514v1M1130.5 516v1M1130.5 526v1M1130.5 530v1M1130.5 532v1M1130.5 536v1M1135.5 445v1M1135.5 447v1M1135.5 518v1M1135.5 532v1M1140.5 523v1M1145.5 449v1M1145.5 531v1M1145.5 532v1M1145.5 536v1M1154.5 450v1M1154.5 457v1M1154.5 528v1M1154.5 534v1M1159.5 454v1M1159.5 514v1M1159.5 522v1M1169.5 528v1M1178.5 535v1M1188.5 531v1M1188.5 535v1M1188.5 536v1M1212.5 457v1M1217.5 457v1M1217.5 531v1M1217.5 535v1"/>
<path stroke="#1b3bfc" stroke-width="5" d="M1053.5 441v1M1053.5 490v2M1053.5 494v1M1053.5 502v1M1053.5 516v2M1058.5 441v2M1058.5 490v2M1058.5 504v2M1058.5 508v2M1058.5 520v2M1063.5 441v1M1063.5 489v1M1063.5 491v3M1063.5 500v2M1068.5 437v1M1068.5 486v3M1068.5 490v1M1068.5 498v1M1068.5 500v2M1068.5 507v1M1068.5 520v2M1068.5 535v1M1077.5 434v4M1077.5 491v3M1077.5 518v2M1082.5 437v1M1082.5 487v4M1082.5 502v1M1087.5 441v1M1087.5 485v4M1087.5 490v2M1087.5 494v1M1087.5 496v2M1092.5 455v3M1092.5 522v1M1092.5 524v2M1092.5 527v1M1101.5 415v3M1101.5 479v2M1101.5 482v1M1101.5 485v1M1101.5 487v4M1101.5 492v6M1101.5 500v2M1101.5 504v2M1101.5 507v3M1101.5 520v4M1106.5 425v1M1106.5 483v3M1106.5 487v2M1106.5 495v1M1106.5 500v3M1106.5 507v1M1106.5 510v1M1106.5 519v3M1111.5 430v1M1111.5 482v1M1111.5 485v1M1111.5 490v1M1111.5 494v1M1111.5 502v1M1111.5 504v3M1111.5 511v1M1111.5 514v1M1111.5 536v2M1116.5 492v2M1116.5 495v1M1116.5 499v1M1116.5 502v1M1116.5 504v3M1116.5 508v2M1116.5 514v1M1116.5 516v2M1116.5 519v1M1125.5 462v1M1125.5 526v2M1125.5 530v1M1125.5 532v3M1130.5 518v1M1130.5 523v3M1130.5 531v1M1135.5 515v1M1135.5 520v3M1135.5 526v4M1140.5 450v1M1140.5 514v1M1140.5 528v2M1140.5 531v1M1145.5 453v1M1145.5 522v1M1145.5 526v2M1145.5 530v1M1154.5 527v1M1154.5 530v4M1154.5 535v3M1159.5 458v1M1159.5 532v2M1159.5 535v3M1164.5 458v4M1164.5 527v5M1164.5 534v1M1164.5 536v2M1169.5 458v3M1169.5 523v1M1169.5 527v1M1169.5 530v2M1169.5 534v4M1178.5 458v3M1178.5 528v4M1183.5 459v3M1183.5 528v4M1183.5 536v2M1188.5 461v1M1188.5 526v5M1193.5 458v3M1193.5 527v4M1193.5 532v3M1193.5 536v2M1202.5 454v3M1202.5 527v1M1202.5 532v4M1207.5 454v3M1207.5 535v4M1212.5 458v1M1212.5 528v2M1212.5 534v2M1217.5 459v4M1217.5 534v1M1217.5 536v2"/>
<path stroke="#164afe" stroke-width="5" d="M1053.5 442v4M1053.5 487v3M1058.5 443v3M1058.5 486v3M1063.5 442v3M1063.5 485v2M1063.5 490v1M1068.5 438v3M1068.5 478v4M1068.5 483v3M1077.5 479v6M1077.5 486v1M1082.5 438v1M1082.5 481v2M1082.5 485v2M1087.5 442v1M1087.5 482v1M1092.5 458v3M1092.5 507v7M1092.5 515v3M1092.5 519v1M1101.5 483v2M1101.5 486v1M1101.5 491v1M1101.5 502v1M1106.5 426v1M1106.5 479v4M1106.5 486v1M1106.5 490v5M1106.5 504v2M1111.5 431v2M1111.5 481v1M1111.5 487v3M1111.5 491v3M1111.5 496v2M1111.5 499v1M1116.5 434v3M1116.5 482v3M1116.5 486v1M1116.5 490v1M1116.5 494v1M1116.5 496v3M1116.5 500v2M1125.5 463v2M1125.5 516v2M1125.5 519v4M1130.5 449v1M1130.5 506v4M1130.5 511v1M1130.5 515v1M1135.5 449v1M1135.5 504v2M1135.5 507v1M1135.5 510v5M1135.5 519v1M1140.5 451v2M1140.5 510v1M1140.5 512v2M1140.5 515v3M1140.5 519v3M1145.5 451v2M1145.5 454v1M1145.5 507v1M1145.5 510v2M1145.5 514v5M1145.5 520v2M1154.5 458v3M1154.5 516v3M1154.5 523v4M1159.5 459v4M1159.5 516v2M1159.5 519v1M1159.5 523v9M1164.5 462v1M1164.5 515v1M1164.5 523v4M1169.5 461v2M1169.5 515v1M1169.5 518v1M1169.5 520v3M1169.5 524v3M1178.5 461v1M1178.5 519v1M1178.5 522v6M1183.5 462v3M1183.5 519v9M1188.5 459v2M1188.5 462v1M1188.5 515v1M1188.5 518v4M1188.5 523v3M1188.5 532v2M1193.5 461v2M1193.5 519v8M1193.5 531v1M1202.5 457v1M1202.5 523v3M1202.5 528v2M1207.5 457v2M1207.5 527v1M1207.5 530v2M1212.5 459v4M1212.5 522v1M1212.5 526v2M1212.5 530v2M1217.5 463v2M1217.5 524v2M1217.5 527v1M1217.5 530v1M1217.5 532v2"/>
<path stroke="#0c6aff" stroke-width="5" d="M1053.5 446v3M1053.5 481v5M1058.5 446v1M1058.5 481v1M1058.5 483v3M1063.5 445v2M1063.5 481v4M1068.5 473v1M1068.5 477v1M1077.5 438v1M1077.5 477v2M1082.5 439v2M1082.5 473v8M1087.5 443v2M1087.5 475v2M1087.5 478v4M1087.5 483v2M1092.5 500v7M1101.5 418v1M1101.5 438v1M1101.5 446v3M1101.5 450v3M1101.5 455v3M1101.5 475v4M1106.5 447v2M1106.5 450v3M1106.5 455v4M1106.5 478v1M1111.5 455v2M1111.5 458v1M1111.5 479v2M1116.5 454v1M1116.5 461v1M1116.5 479v3M1125.5 465v2M1125.5 510v2M1125.5 514v1M1125.5 518v1M1130.5 450v1M1130.5 499v7M1130.5 510v1M1135.5 450v3M1135.5 500v4M1135.5 506v1M1140.5 453v1M1140.5 499v1M1140.5 502v8M1140.5 511v1M1145.5 496v11M1145.5 508v2M1145.5 512v2M1154.5 461v1M1154.5 508v4M1154.5 514v2M1154.5 519v3M1159.5 463v2M1159.5 511v3M1159.5 515v1M1159.5 518v1M1159.5 520v2M1164.5 463v2M1164.5 510v2M1164.5 516v2M1164.5 520v3M1169.5 463v3M1169.5 511v4M1169.5 516v2M1169.5 519v1M1178.5 462v3M1178.5 510v2M1178.5 514v5M1183.5 507v1M1183.5 510v4M1183.5 515v4M1188.5 463v3M1188.5 508v2M1188.5 514v1M1188.5 522v1M1193.5 510v1M1193.5 514v5M1202.5 458v1M1202.5 515v3M1202.5 520v2M1202.5 526v1M1207.5 522v5M1212.5 520v2M1212.5 523v3M1217.5 465v4M1217.5 519v5M1217.5 526v1"/>
<path stroke="#0096ff" stroke-width="5" d="M1053.5 449v1M1053.5 479v2M1058.5 447v2M1058.5 478v3M1063.5 447v2M1063.5 479v2M1068.5 441v1M1068.5 470v3M1068.5 474v1M1077.5 439v2M1077.5 473v4M1082.5 441v1M1087.5 445v1M1087.5 474v1M1087.5 477v1M1092.5 461v1M1092.5 498v2M1101.5 437v1M1101.5 439v7M1101.5 449v1M1101.5 453v2M1106.5 427v2M1106.5 445v2M1106.5 449v1M1106.5 453v2M1106.5 475v3M1111.5 449v6M1111.5 457v1M1111.5 459v2M1111.5 478v1M1116.5 455v6M1116.5 478v1M1125.5 503v7M1130.5 492v7M1135.5 491v1M1135.5 494v1M1135.5 496v4M1140.5 454v1M1140.5 494v1M1140.5 496v3M1140.5 500v2M1145.5 455v2M1145.5 494v1M1154.5 506v2M1154.5 512v2M1159.5 465v1M1159.5 506v5M1164.5 465v1M1164.5 506v4M1164.5 512v3M1169.5 504v2M1169.5 507v4M1178.5 465v1M1178.5 506v4M1178.5 512v2M1183.5 465v2M1183.5 508v2M1183.5 514v1M1188.5 466v1M1188.5 507v1M1188.5 510v4M1193.5 463v2M1193.5 507v3M1193.5 511v3M1202.5 459v2M1202.5 511v1M1202.5 514v1M1202.5 518v2M1207.5 459v3M1207.5 514v8M1212.5 463v4M1212.5 518v2M1217.5 469v1M1217.5 518v1"/>
<path stroke="#00bbf8" stroke-width="5" d="M1053.5 450v1M1053.5 477v2M1058.5 449v1M1058.5 477v1M1063.5 449v2M1063.5 478v1M1077.5 441v1M1077.5 470v3M1082.5 442v1M1087.5 446v1M1087.5 471v3M1092.5 462v1M1092.5 496v2M1101.5 419v2M1101.5 435v2M1101.5 458v1M1101.5 474v1M1106.5 459v2M1106.5 474v1M1111.5 433v1M1111.5 461v1M1111.5 475v3M1116.5 437v1M1125.5 467v3M1125.5 502v1M1130.5 451v3M1130.5 487v4M1135.5 453v1M1135.5 490v1M1135.5 492v2M1135.5 495v1M1140.5 492v2M1140.5 495v1M1145.5 457v1M1145.5 491v3M1145.5 495v1M1154.5 462v1M1154.5 503v3M1159.5 466v1M1159.5 503v3M1164.5 466v3M1164.5 503v3M1169.5 466v1M1169.5 506v1M1178.5 466v3M1178.5 502v4M1183.5 469v1M1183.5 504v3M1188.5 506v1M1193.5 465v1M1193.5 504v3M1202.5 461v1M1202.5 508v3M1202.5 512v2M1207.5 508v6M1212.5 511v1M1212.5 515v3M1217.5 470v3M1217.5 515v3"/>
<path stroke="#00e1f0" stroke-width="5" d="M1053.5 451v2M1053.5 475v2M1058.5 450v1M1063.5 477v1M1068.5 442v3M1068.5 469v1M1077.5 442v1M1082.5 443v2M1082.5 469v1M1082.5 471v2M1087.5 470v1M1092.5 494v2M1101.5 459v2M1101.5 471v3M1106.5 429v1M1106.5 443v2M1106.5 461v1M1111.5 434v1M1111.5 447v2M1116.5 451v3M1116.5 462v1M1116.5 475v3M1125.5 498v4M1130.5 491v1M1135.5 489v1M1140.5 490v2M1145.5 458v1M1145.5 490v1M1154.5 463v3M1154.5 500v3M1159.5 467v2M1159.5 502v1M1164.5 500v3M1169.5 467v3M1169.5 500v4M1178.5 499v1M1183.5 467v2M1183.5 502v2M1188.5 467v2M1188.5 500v6M1193.5 466v3M1193.5 500v4M1202.5 507v1M1207.5 462v1M1207.5 506v1M1212.5 467v4M1212.5 512v3M1217.5 473v2M1217.5 512v3"/>
<path stroke="#00e8c3" stroke-width="5" d="M1053.5 453v1M1053.5 474v1M1058.5 451v3M1058.5 475v2M1063.5 475v2M1068.5 465v1M1068.5 467v2M1077.5 466v1M1077.5 469v1M1082.5 445v1M1082.5 470v1M1087.5 447v2M1087.5 467v2M1092.5 490v4M1101.5 421v1M1101.5 434v1M1106.5 430v1M1106.5 442v1M1106.5 473v1M1111.5 474v1M1116.5 438v1M1116.5 463v2M1125.5 470v1M1125.5 495v3M1130.5 485v2M1135.5 454v1M1135.5 482v7M1140.5 455v2M1140.5 485v1M1140.5 487v3M1145.5 489v1M1154.5 496v4M1159.5 499v3M1164.5 470v1M1164.5 498v2M1169.5 498v2M1178.5 469v1M1178.5 498v1M1178.5 500v2M1183.5 500v2M1188.5 469v1M1188.5 499v1M1202.5 462v3M1202.5 500v2M1202.5 504v3M1207.5 463v2M1207.5 504v2M1207.5 507v1M1212.5 510v1M1217.5 510v2"/>
<path stroke="#19f051" stroke-width="5" d="M1053.5 454v1M1058.5 454v1M1058.5 473v1M1063.5 455v2M1063.5 473v1M1068.5 462v1M1082.5 465v2M1087.5 449v1M1087.5 465v2M1092.5 486v4M1101.5 422v1M1101.5 431v3M1101.5 461v4M1101.5 467v3M1106.5 441v1M1106.5 462v3M1106.5 469v1M1111.5 466v1M1111.5 470v4M1116.5 439v2M1116.5 450v1M1116.5 466v1M1116.5 470v4M1125.5 471v2M1125.5 492v3M1130.5 477v1M1130.5 479v2M1135.5 477v4M1140.5 482v1M1145.5 459v2M1145.5 482v5M1154.5 466v3M1154.5 494v2M1159.5 491v3M1159.5 496v2M1164.5 495v3M1169.5 496v2M1178.5 494v4M1183.5 473v1M1183.5 494v1M1183.5 498v1M1188.5 494v1M1193.5 494v2M1193.5 499v1M1202.5 492v3M1202.5 498v2M1207.5 499v1M1207.5 502v1M1212.5 473v1M1217.5 506v2"/>
<path stroke="#42f120" stroke-width="5" d="M1053.5 455v3M1053.5 470v3M1058.5 455v2M1068.5 459v2M1077.5 445v2M1082.5 446v1M1082.5 462v1M1087.5 462v1M1092.5 466v1M1092.5 485v1M1101.5 465v2M1106.5 465v1M1111.5 445v1M1111.5 463v3M1111.5 467v2M1116.5 449v1M1125.5 473v1M1125.5 491v1M1130.5 473v1M1130.5 475v2M1130.5 478v1M1135.5 474v1M1140.5 481v1M1140.5 483v2M1145.5 461v1M1154.5 491v3M1159.5 470v3M1159.5 490v1M1164.5 471v2M1164.5 490v2M1164.5 494v1M1169.5 492v3M1178.5 471v3M1178.5 491v1M1183.5 492v2M1183.5 495v1M1188.5 473v2M1188.5 491v1M1188.5 495v1M1193.5 469v2M1202.5 489v1M1202.5 495v1M1207.5 467v2M1207.5 498v1M1212.5 474v1M1212.5 499v1M1212.5 502v2M1217.5 479v2M1217.5 503v1"/>
<path stroke="#83f40c" stroke-width="5" d="M1053.5 458v1M1058.5 457v1M1058.5 470v3M1063.5 457v1M1063.5 470v3M1068.5 446v3M1068.5 458v1M1068.5 461v1M1077.5 459v4M1082.5 463v2M1087.5 463v2M1092.5 481v4M1101.5 423v2M1106.5 431v2M1106.5 439v2M1106.5 466v3M1111.5 435v2M1111.5 443v2M1111.5 469v1M1116.5 467v3M1125.5 474v1M1125.5 490v1M1130.5 474v1M1135.5 455v3M1135.5 470v3M1135.5 475v2M1140.5 458v1M1140.5 478v3M1145.5 478v1M1145.5 481v1M1154.5 489v1M1159.5 473v1M1159.5 485v2M1164.5 473v1M1164.5 492v2M1169.5 473v2M1169.5 489v1M1169.5 491v1M1178.5 492v2M1183.5 474v1M1183.5 490v2M1188.5 490v1M1188.5 492v2M1193.5 471v2M1193.5 492v2M1202.5 467v2M1202.5 485v1M1202.5 487v2M1202.5 490v2M1207.5 492v2M1207.5 495v3M1212.5 495v1M1212.5 498v1M1212.5 500v2M1217.5 481v2M1217.5 504v2"/>
<path stroke="#bef400" stroke-width="5" d="M1053.5 459v2M1053.5 467v2M1058.5 467v3M1063.5 469v1M1068.5 455v3M1077.5 447v2M1077.5 457v2M1082.5 447v2M1082.5 459v2M1087.5 450v1M1092.5 467v2M1092.5 477v4M1106.5 433v1M1125.5 489v1M1130.5 455v2M1130.5 466v3M1130.5 470v3M1135.5 466v3M1135.5 473v1M1140.5 471v7M1145.5 475v2M1145.5 479v2M1154.5 469v1M1154.5 485v1M1154.5 487v2M1154.5 490v1M1159.5 487v3M1164.5 474v1M1169.5 475v2M1169.5 483v2M1169.5 490v1M1178.5 474v1M1178.5 487v4M1183.5 487v3M1188.5 489v1M1193.5 489v3M1202.5 466v1M1202.5 479v2M1207.5 469v2M1207.5 491v1M1207.5 494v1M1212.5 475v2M1212.5 492v3M1212.5 496v2M1217.5 500v3"/>
<path stroke="#f0f100" stroke-width="5" d="M1053.5 461v1M1058.5 458v1M1058.5 461v1M1063.5 458v3M1087.5 459v3M1101.5 429v2M1116.5 441v1M1125.5 485v1M1125.5 487v2M1130.5 463v2M1130.5 469v1M1135.5 465v1M1135.5 469v1M1140.5 459v2M1140.5 467v2M1140.5 470v1M1145.5 462v1M1145.5 473v2M1145.5 477v1M1154.5 486v1M1159.5 474v1M1159.5 481v2M1164.5 475v3M1164.5 486v4M1169.5 486v3M1178.5 475v2M1178.5 483v2M1178.5 486v1M1183.5 475v2M1188.5 475v2M1188.5 485v4M1193.5 473v1M1193.5 486v1M1202.5 477v2M1202.5 482v3M1202.5 486v1M1207.5 486v1M1207.5 489v2M1212.5 477v4M1212.5 489v1M1217.5 483v2"/>
<path stroke="#fe9f00" stroke-width="5" d="M1053.5 462v3M1058.5 459v2M1058.5 462v1M1058.5 465v1M1063.5 463v2M1068.5 449v2M1077.5 449v1M1077.5 455v2M1082.5 449v2M1082.5 457v1M1087.5 454v1M1087.5 458v1M1092.5 469v1M1092.5 475v2M1101.5 425v1M1106.5 437v1M1111.5 437v1M1116.5 442v1M1125.5 482v3M1125.5 486v1M1130.5 457v2M1130.5 461v2M1130.5 465v1M1135.5 458v1M1135.5 463v2M1140.5 469v1M1145.5 466v1M1145.5 469v1M1154.5 477v1M1154.5 483v2M1159.5 475v2M1159.5 478v1M1159.5 483v2M1164.5 478v1M1164.5 482v1M1169.5 481v1M1178.5 477v1M1178.5 482v1M1178.5 485v1M1183.5 477v1M1183.5 482v1M1183.5 486v1M1188.5 477v1M1188.5 481v1M1193.5 479v3M1193.5 483v3M1202.5 473v1M1202.5 481v1M1207.5 482v1M1207.5 487v2M1212.5 482v1M1212.5 487v2M1212.5 490v2M1217.5 485v2M1217.5 490v1M1217.5 498v2"/>
<path stroke="#ff7500" stroke-width="5" d="M1053.5 465v1M1058.5 466v1M1063.5 462v1M1063.5 465v2M1068.5 451v2M1077.5 451v2M1077.5 454v1M1087.5 457v1M1092.5 470v1M1092.5 473v1M1101.5 427v2M1106.5 434v3M1111.5 441v1M1116.5 443v2M1116.5 446v1M1130.5 459v2M1135.5 459v3M1140.5 462v4M1145.5 467v2M1154.5 475v2M1164.5 479v3M1169.5 478v1M1178.5 479v3M1183.5 478v4M1183.5 483v2M1188.5 479v2M1188.5 483v2M1193.5 474v1M1193.5 477v1M1193.5 482v1M1202.5 474v1M1207.5 471v2M1207.5 479v3M1212.5 486v1M1217.5 487v2"/>
<path stroke="#fccc00" stroke-width="5" d="M1053.5 466v1M1053.5 469v1M1063.5 461v1M1063.5 467v2M1068.5 453v2M1082.5 458v1M1082.5 461v1M1087.5 451v2M1087.5 455v2M1092.5 471v2M1092.5 474v1M1106.5 438v1M1111.5 438v1M1111.5 442v1M1116.5 447v2M1125.5 475v3M1135.5 462v1M1140.5 461v1M1140.5 466v1M1145.5 463v2M1145.5 471v2M1154.5 470v3M1154.5 479v4M1159.5 479v2M1164.5 483v3M1169.5 477v1M1169.5 482v1M1169.5 485v1M1178.5 478v1M1183.5 485v1M1188.5 478v1M1188.5 482v1M1193.5 487v2M1202.5 469v1M1202.5 475v2M1207.5 483v3M1217.5 494v4"/>
<path stroke="#00f096" stroke-width="5" d="M1053.5 473v1M1058.5 474v1M1063.5 451v4M1063.5 474v1M1068.5 445v1M1068.5 463v2M1068.5 466v1M1077.5 443v2M1077.5 463v3M1077.5 467v2M1082.5 467v2M1087.5 469v1M1092.5 463v3M1101.5 470v1M1106.5 470v3M1111.5 446v1M1111.5 462v1M1116.5 465v1M1116.5 474v1M1130.5 454v1M1130.5 481v4M1135.5 481v1M1140.5 457v1M1140.5 486v1M1145.5 487v2M1159.5 469v1M1159.5 494v2M1159.5 498v1M1164.5 469v1M1169.5 470v3M1169.5 495v1M1178.5 470v1M1183.5 470v3M1183.5 496v2M1183.5 499v1M1188.5 470v3M1188.5 496v3M1193.5 496v3M1202.5 465v1M1202.5 496v2M1202.5 502v2M1207.5 465v2M1207.5 500v2M1207.5 503v1M1212.5 471v2M1212.5 504v6M1217.5 475v4M1217.5 508v2"/>
<path stroke="#ff4c00" stroke-width="5" d="M1058.5 463v2M1077.5 450v1M1077.5 453v1M1082.5 453v4M1087.5 453v1M1101.5 426v1M1111.5 439v2M1116.5 445v1M1125.5 478v3M1145.5 465v1M1145.5 470v1M1154.5 478v1M1159.5 477v1M1169.5 479v2M1193.5 475v2M1193.5 478v1M1202.5 470v3M1207.5 473v6M1212.5 483v3M1217.5 491v3"/>
<path stroke="#a8b0f7" stroke-width="4" d="M1073 419v1M1073 426v1M1073 482v1M1073 515v1M1073 526v1M1097 503v1M1097 508v1M1097 512v1M1121 510v1M1121 511v1M1121 523v1M1150 450v1M1150 451v1M1150 454v1M1174 532v1M1198 532v1M1198 536v1"/>
<path stroke="#1b3bfc" stroke-width="4" d="M1073 434v3M1073 483v4M1073 489v2M1073 496v2M1073 500v3M1073 504v2M1097 425v1M1097 485v1M1097 487v2M1097 491v3M1097 498v4M1097 504v4M1097 515v1M1097 520v2M1121 441v1M1121 495v1M1121 500v6M1121 507v3M1121 512v2M1121 518v2M1150 455v2M1150 520v4M1150 526v1M1150 528v3M1150 532v2M1174 458v1M1174 523v1M1174 526v4M1174 531v1M1174 535v3M1198 455v2M1198 527v1"/>
<path stroke="#164afe" stroke-width="4" d="M1073 437v1M1073 481v1M1097 477v1M1097 479v6M1097 486v1M1097 490v1M1097 494v1M1121 442v1M1121 482v5M1121 489v6M1121 496v3M1150 457v1M1150 508v2M1150 514v6M1150 524v2M1150 527v1M1174 459v3M1174 516v2M1174 520v3M1174 524v2M1198 457v2M1198 522v2M1198 526v1M1198 530v2"/>
<path stroke="#0c6aff" stroke-width="4" d="M1073 438v1M1073 471v10M1097 426v1M1097 451v2M1097 454v3M1097 475v2M1097 478v1M1121 481v1M1150 458v1M1150 498v1M1150 503v1M1150 506v1M1150 510v2M1174 462v3M1174 508v4M1174 514v2M1174 518v2M1198 459v2M1198 518v4"/>
<path stroke="#0096ff" stroke-width="4" d="M1073 439v2M1097 427v2M1097 445v6M1097 474v1M1121 443v2M1121 461v2M1121 479v2M1150 459v2M1150 499v4M1150 504v2M1150 507v1M1174 465v2M1174 507v1M1174 512v2M1198 511v7"/>
<path stroke="#00e1f0" stroke-width="4" d="M1073 441v2M1073 469v1M1097 429v1M1097 458v1M1097 471v2M1121 465v1M1121 478v1M1150 491v1M1174 504v2M1198 462v3M1198 502v1M1198 504v3M1198 508v3"/>
<path stroke="#00e8c3" stroke-width="4" d="M1073 443v2M1073 466v3M1097 442v1M1097 470v1M1121 445v2M1121 459v2M1150 462v1M1150 492v2M1174 467v3M1174 500v3M1198 499v1M1198 503v1"/>
<path stroke="#42f120" stroke-width="4" d="M1073 445v2M1073 462v1M1097 430v1M1097 463v4M1121 447v2M1121 467v3M1121 471v2M1150 483v3M1174 494v1M1198 465v1M1198 487v2M1198 491v5"/>
<path stroke="#fccc00" stroke-width="4" d="M1073 447v2M1073 457v1M1121 455v2M1150 473v1M1150 475v2M1174 483v2M1198 467v2M1198 477v1"/>
<path stroke="#f0f100" stroke-width="4" d="M1073 449v1M1097 433v1M1097 438v1M1121 454v1M1150 474v1M1150 478v1M1174 474v1M1174 486v4M1198 481v2"/>
<path stroke="#fe9f00" stroke-width="4" d="M1073 450v1M1073 454v3M1097 434v1M1097 437v1M1174 475v3M1174 482v1M1174 485v1M1198 470v1M1198 474v3M1198 478v3"/>
<path stroke="#ff7500" stroke-width="4" d="M1073 451v2M1097 435v2M1121 451v3M1150 469v1M1174 481v1M1198 469v1M1198 471v2"/>
<path stroke="#ff2300" stroke-width="4" d="M1073 453v1"/>
<path stroke="#83f40c" stroke-width="4" d="M1073 458v4M1097 431v2M1097 439v3M1121 457v1M1121 470v1M1150 466v1M1150 479v4M1174 491v1M1198 466v1M1198 485v1M1198 489v2"/>
<path stroke="#19f051" stroke-width="4" d="M1073 463v2M1097 462v1M1097 467v2M1121 473v1M1150 463v3M1150 486v4M1174 471v2M1174 495v5"/>
<path stroke="#00f096" stroke-width="4" d="M1073 465v1M1097 459v3M1097 469v1M1121 458v1M1121 466v1M1121 474v3M1150 490v1M1174 470v1M1198 496v3M1198 500v2"/>
<path stroke="#00bbf8" stroke-width="4" d="M1073 470v1M1097 443v2M1097 457v1M1097 473v1M1121 463v2M1121 477v1M1150 461v1M1150 494v4M1174 503v1M1174 506v1M1198 461v1M1198 507v1"/>
<path stroke="#4657f8" stroke-width="4" d="M1073 492v1M1073 499v1M1073 503v1M1073 506v1M1073 508v1M1073 518v1M1073 523v1M1097 423v1M1097 502v1M1097 510v1M1097 519v1M1121 487v1M1121 499v1M1121 506v1M1121 514v1M1121 515v1M1121 516v1M1121 522v1M1121 526v1M1121 527v1M1150 531v1M1150 534v1M1174 454v1M1174 534v1M1198 535v1"/>
<path stroke="#ff2300" stroke-width="5" d="M1082.5 451v2M1125.5 481v1M1154.5 473v2M1212.5 481v1M1217.5 489v1"/>
<path stroke="#bef400" stroke-width="4" d="M1121 449v1M1150 467v2M1150 477v1M1174 473v1M1174 490v1M1174 492v2M1198 483v2M1198 486v1"/>
<path stroke="#ff4c00" stroke-width="4" d="M1121 450v1M1150 470v3M1174 478v3M1198 473v1"/>
</g>
<path d="M1051.9 538.8H1219.1" stroke="#555" stroke-width="1.1" fill="none"/>
<path d="M1051.9 538.6H1065.3" stroke="#3c6ad0" stroke-width="1.5" fill="none"/>
<path d="M1066.3 538.6H1089.3" stroke="#40b8a0" stroke-width="1.5" fill="none"/>
<path d="M1090.3 538.6H1219.1" stroke="#c8281e" stroke-width="1.5" fill="none"/>
<path d="M1051.5 539.1V374.5H1219.5V539.1" fill="none" stroke="#6a6a6a" stroke-width="1.25"/>
<path d="M1053.8 538.5v4.2M1097.1 538.5v4.2M1145.1 538.5v4.2M1193.2 538.5v4.2M1217.2 538.5v4.2" stroke="#333" stroke-width="1.1" fill="none"/>
<path d="M1053.8 538.5v1.6M1058.6 538.5v1.6M1063.4 538.5v1.6M1068.2 538.5v1.6M1073.0 538.5v1.6M1077.8 538.5v1.6M1082.6 538.5v1.6M1087.4 538.5v1.6M1092.2 538.5v1.6M1097.1 538.5v1.6M1101.9 538.5v1.6M1106.7 538.5v1.6M1111.5 538.5v1.6M1116.3 538.5v1.6M1121.1 538.5v1.6M1125.9 538.5v1.6M1130.7 538.5v1.6M1135.5 538.5v1.6M1140.3 538.5v1.6M1145.1 538.5v1.6M1149.9 538.5v1.6M1154.7 538.5v1.6M1159.5 538.5v1.6M1164.3 538.5v1.6M1169.1 538.5v1.6M1173.9 538.5v1.6M1178.8 538.5v1.6M1183.6 538.5v1.6M1188.4 538.5v1.6M1193.2 538.5v1.6M1198.0 538.5v1.6M1202.8 538.5v1.6M1207.6 538.5v1.6M1212.4 538.5v1.6M1217.2 538.5v1.6" stroke="#333" stroke-width="0.6" fill="none"/>
<text x="1051.7" y="551.4" font-size="8.6" fill="#1c1c1c" textLength="4.2" lengthAdjust="spacingAndGlyphs">1</text>
<text x="1092.9" y="551.4" font-size="8.6" fill="#1c1c1c" textLength="8.4" lengthAdjust="spacingAndGlyphs">10</text>
<text x="1140.9" y="551.4" font-size="8.6" fill="#1c1c1c" textLength="8.4" lengthAdjust="spacingAndGlyphs">20</text>
<text x="1189.0" y="551.4" font-size="8.6" fill="#1c1c1c" textLength="8.4" lengthAdjust="spacingAndGlyphs">30</text>
<text x="1213.0" y="551.4" font-size="8.6" fill="#1c1c1c" textLength="8.4" lengthAdjust="spacingAndGlyphs">35</text>
<rect x="1227.0" y="358.9" width="10.7" height="10.7" fill="#b416b4"/>
<path d="M1232.35 365.25L1236.85 364.25L1232.35 363.25ZM1231.86 364.74L1234.82 366.72L1232.84 363.76ZM1231.35 364.25L1232.35 368.75L1233.35 364.25ZM1231.86 363.76L1229.88 366.72L1232.84 364.74ZM1232.35 363.25L1227.85 364.25L1232.35 365.25ZM1232.84 363.76L1229.88 361.78L1231.86 364.74ZM1233.35 364.25L1232.35 359.75L1231.35 364.25ZM1232.84 364.74L1234.82 361.78L1231.86 363.76Z" fill="#fff"/>
<circle cx="1232.35" cy="364.25" r="2.0" fill="#fff"/>
<text x="1241.4" y="368.0" font-size="9.3" fill="#1c1c1c" textLength="25.2" lengthAdjust="spacingAndGlyphs">405nm</text>
<g fill="none">
<path stroke="#a8b0f7" stroke-width="5" d="M1229.5 419v1M1229.5 441v1M1229.5 442v1M1229.5 451v1M1229.5 453v1M1229.5 506v1M1229.5 508v1M1229.5 531v1M1234.5 423v1M1234.5 425v1M1234.5 429v1M1234.5 439v1M1234.5 446v1M1234.5 447v1M1234.5 449v1M1234.5 450v1M1234.5 496v1M1234.5 500v1M1234.5 510v1M1234.5 516v1M1234.5 519v1M1234.5 526v1M1239.5 419v1M1239.5 429v1M1239.5 434v1M1239.5 443v1M1239.5 449v1M1239.5 450v1M1239.5 451v1M1239.5 504v1M1248.5 423v1M1248.5 439v1M1248.5 483v1M1248.5 486v1M1248.5 490v1M1248.5 500v1M1253.5 433v1M1253.5 499v1M1253.5 507v1M1258.5 425v1M1258.5 431v1M1258.5 433v1M1258.5 438v1M1258.5 481v1M1258.5 483v1M1258.5 498v1M1258.5 500v1M1263.5 421v1M1263.5 494v1M1263.5 514v1M1263.5 518v1M1272.5 489v1M1272.5 495v1M1272.5 499v1M1272.5 500v1M1272.5 503v1M1272.5 524v1M1272.5 530v1M1277.5 496v1M1277.5 502v1M1277.5 514v1M1277.5 518v1M1277.5 520v1M1282.5 490v1M1282.5 500v1M1282.5 519v1M1282.5 536v1M1287.5 429v1M1287.5 496v1M1287.5 508v1M1287.5 512v1M1287.5 515v1M1296.5 496v1M1296.5 499v1M1296.5 500v1M1296.5 512v1M1296.5 528v1M1301.5 451v1M1301.5 453v1M1306.5 446v1M1306.5 447v1M1306.5 527v1M1306.5 528v1M1306.5 535v1M1311.5 443v1M1311.5 446v1M1311.5 508v1M1316.5 527v1M1325.5 449v1M1325.5 453v1M1325.5 511v1M1325.5 534v1M1330.5 450v1M1335.5 457v1M1335.5 535v1M1340.5 458v1M1340.5 531v1M1349.5 453v1M1349.5 458v1M1349.5 459v1M1349.5 461v1M1354.5 457v1M1354.5 458v1M1354.5 461v1M1354.5 534v1M1354.5 536v1M1359.5 455v1M1359.5 458v1M1359.5 461v1M1359.5 528v1M1359.5 535v1M1373.5 531v1M1383.5 526v1M1393.5 530v1M1393.5 536v1"/>
<path stroke="#4657f8" stroke-width="5" d="M1229.5 427v1M1229.5 437v1M1229.5 510v1M1229.5 514v1M1229.5 519v1M1229.5 524v1M1229.5 526v1M1229.5 527v1M1234.5 433v1M1234.5 454v1M1239.5 447v1M1239.5 453v1M1239.5 502v1M1239.5 508v1M1239.5 512v1M1239.5 514v1M1239.5 519v1M1239.5 522v1M1248.5 492v1M1248.5 508v1M1248.5 511v1M1248.5 528v1M1253.5 429v1M1253.5 438v1M1253.5 439v1M1253.5 502v1M1253.5 520v1M1258.5 434v1M1258.5 506v1M1258.5 507v1M1258.5 519v1M1263.5 426v1M1263.5 437v1M1263.5 442v1M1263.5 443v2M1263.5 491v1M1263.5 500v1M1263.5 504v1M1263.5 508v1M1263.5 512v1M1263.5 530v1M1263.5 534v1M1272.5 492v1M1272.5 515v1M1272.5 519v1M1272.5 526v1M1277.5 495v1M1277.5 511v1M1277.5 515v1M1277.5 522v1M1277.5 527v1M1282.5 502v1M1282.5 507v4M1282.5 518v1M1282.5 520v1M1282.5 522v1M1282.5 528v1M1287.5 431v2M1287.5 518v1M1287.5 520v1M1287.5 522v1M1287.5 523v1M1287.5 524v1M1287.5 528v1M1296.5 439v1M1296.5 511v1M1296.5 515v1M1296.5 534v1M1301.5 459v2M1301.5 524v1M1301.5 536v1M1306.5 531v1M1306.5 532v1M1311.5 527v1M1316.5 528v1M1316.5 532v1M1325.5 515v1M1330.5 455v1M1330.5 535v1M1330.5 538v1M1335.5 532v1M1335.5 534v1M1335.5 536v2M1340.5 536v2M1354.5 535v1M1354.5 538v1M1359.5 457v1M1364.5 458v1M1364.5 536v1M1373.5 514v1M1378.5 532v1M1383.5 536v1M1388.5 534v1M1388.5 536v1"/>
<path stroke="#1b3bfc" stroke-width="5" d="M1229.5 454v1M1229.5 457v1M1229.5 512v2M1229.5 516v2M1234.5 455v2M1234.5 502v1M1234.5 506v4M1234.5 527v1M1239.5 454v3M1239.5 506v2M1239.5 511v1M1248.5 441v1M1248.5 489v1M1248.5 491v1M1248.5 494v1M1248.5 504v2M1248.5 512v2M1248.5 515v3M1248.5 523v1M1253.5 441v1M1253.5 489v1M1253.5 491v3M1253.5 496v2M1253.5 508v2M1253.5 514v1M1253.5 526v1M1253.5 532v2M1258.5 441v1M1258.5 490v2M1258.5 495v3M1263.5 445v1M1263.5 489v1M1263.5 495v4M1263.5 510v1M1272.5 427v2M1272.5 494v1M1272.5 504v3M1272.5 508v4M1272.5 514v1M1277.5 419v3M1277.5 482v1M1277.5 489v1M1277.5 491v1M1277.5 498v4M1277.5 503v1M1277.5 507v4M1277.5 530v1M1282.5 486v1M1282.5 491v1M1282.5 494v1M1282.5 496v2M1282.5 499v1M1282.5 503v1M1282.5 506v1M1282.5 511v3M1287.5 500v8M1287.5 514v1M1296.5 492v2M1296.5 503v3M1296.5 507v1M1296.5 514v1M1296.5 520v2M1296.5 526v1M1296.5 530v1M1301.5 461v1M1301.5 520v2M1301.5 523v1M1301.5 526v1M1301.5 528v4M1301.5 534v2M1306.5 449v2M1306.5 511v1M1306.5 514v2M1306.5 519v4M1306.5 524v2M1311.5 447v2M1311.5 518v1M1311.5 520v2M1311.5 523v1M1311.5 526v1M1311.5 528v2M1311.5 531v1M1316.5 450v1M1316.5 515v1M1316.5 518v1M1316.5 522v5M1316.5 530v2M1325.5 454v3M1325.5 520v3M1325.5 526v8M1330.5 457v2M1330.5 527v8M1330.5 536v2M1335.5 459v2M1335.5 524v2M1335.5 530v2M1340.5 459v3M1340.5 527v1M1340.5 535v1M1349.5 462v3M1349.5 527v8M1349.5 536v2M1354.5 462v3M1354.5 524v2M1354.5 528v2M1354.5 531v1M1359.5 462v1M1359.5 526v2M1359.5 531v1M1359.5 534v1M1359.5 536v2M1364.5 461v2M1364.5 526v1M1364.5 528v4M1364.5 534v1M1373.5 459v3M1373.5 524v2M1373.5 528v3M1373.5 534v2M1378.5 459v2M1378.5 528v2M1378.5 531v1M1378.5 534v4M1383.5 455v4M1383.5 524v2M1383.5 531v1M1383.5 534v1M1388.5 458v3M1388.5 527v1M1388.5 530v1M1393.5 461v5M1393.5 527v1M1393.5 532v4"/>
<path stroke="#164afe" stroke-width="5" d="M1229.5 455v2M1229.5 458v1M1229.5 498v1M1229.5 500v2M1229.5 503v3M1234.5 457v1M1234.5 498v1M1234.5 503v3M1239.5 457v1M1239.5 499v3M1239.5 503v1M1248.5 442v1M1248.5 482v1M1248.5 487v2M1253.5 442v3M1253.5 483v2M1253.5 487v2M1253.5 490v1M1258.5 442v3M1258.5 486v4M1258.5 492v2M1263.5 446v1M1263.5 486v3M1263.5 490v1M1272.5 429v1M1272.5 482v7M1272.5 490v2M1272.5 496v3M1272.5 502v1M1277.5 483v3M1277.5 487v2M1277.5 490v1M1277.5 492v3M1277.5 506v1M1282.5 426v3M1282.5 482v4M1282.5 489v1M1282.5 495v1M1282.5 498v1M1287.5 433v1M1287.5 482v13M1287.5 498v2M1296.5 442v1M1296.5 485v1M1296.5 487v2M1296.5 491v1M1296.5 494v2M1296.5 498v1M1296.5 506v1M1301.5 462v1M1301.5 511v1M1301.5 516v4M1301.5 522v1M1301.5 527v1M1306.5 503v3M1306.5 512v2M1306.5 516v3M1311.5 449v1M1311.5 503v1M1311.5 507v1M1311.5 510v8M1311.5 524v2M1316.5 451v2M1316.5 506v5M1316.5 512v3M1316.5 516v2M1316.5 520v2M1325.5 457v1M1325.5 507v4M1325.5 514v1M1325.5 516v3M1325.5 523v3M1330.5 516v2M1330.5 520v2M1330.5 523v3M1335.5 461v1M1335.5 519v3M1335.5 523v1M1335.5 526v1M1335.5 528v2M1340.5 462v1M1340.5 518v1M1340.5 522v1M1340.5 524v2M1349.5 465v1M1349.5 516v6M1349.5 523v1M1354.5 516v2M1354.5 519v5M1354.5 526v1M1354.5 532v2M1359.5 463v3M1359.5 515v1M1359.5 518v4M1359.5 523v3M1359.5 530v1M1364.5 463v3M1364.5 520v6M1364.5 527v1M1373.5 462v3M1373.5 518v2M1373.5 523v1M1373.5 526v2M1378.5 461v4M1378.5 522v6M1378.5 530v1M1383.5 459v2M1383.5 516v4M1383.5 522v1M1383.5 527v3M1388.5 461v4M1388.5 522v2M1388.5 526v1M1388.5 528v2M1388.5 531v1M1393.5 466v3M1393.5 522v1M1393.5 524v2"/>
<path stroke="#0c6aff" stroke-width="5" d="M1229.5 459v2M1229.5 494v4M1229.5 499v1M1234.5 458v1M1234.5 494v2M1234.5 499v1M1239.5 458v1M1239.5 492v7M1248.5 443v2M1248.5 478v4M1248.5 485v1M1253.5 445v1M1253.5 475v2M1253.5 479v4M1253.5 485v2M1258.5 479v2M1258.5 482v1M1263.5 478v8M1272.5 451v3M1272.5 455v2M1272.5 459v2M1272.5 481v1M1277.5 422v1M1277.5 445v1M1277.5 449v8M1277.5 458v3M1277.5 481v1M1282.5 446v1M1282.5 450v1M1282.5 454v4M1282.5 479v3M1287.5 434v1M1287.5 453v1M1287.5 479v3M1296.5 443v2M1296.5 482v3M1296.5 486v1M1296.5 489v2M1301.5 463v3M1301.5 506v5M1301.5 512v3M1306.5 490v5M1306.5 498v5M1306.5 507v4M1311.5 498v5M1311.5 504v3M1316.5 453v1M1316.5 496v2M1316.5 499v7M1316.5 511v1M1325.5 458v1M1325.5 495v1M1325.5 499v3M1325.5 503v4M1325.5 512v2M1330.5 459v2M1330.5 510v2M1330.5 514v2M1330.5 518v2M1335.5 462v1M1335.5 508v4M1335.5 515v4M1335.5 522v1M1340.5 463v2M1340.5 511v1M1340.5 514v4M1340.5 519v3M1349.5 466v1M1349.5 506v1M1349.5 510v6M1349.5 522v1M1354.5 465v4M1354.5 510v1M1354.5 512v4M1359.5 466v1M1359.5 510v1M1359.5 512v3M1359.5 516v2M1364.5 466v3M1364.5 511v1M1364.5 514v6M1373.5 465v1M1373.5 508v2M1373.5 512v2M1373.5 515v3M1373.5 522v1M1378.5 465v1M1378.5 512v2M1378.5 515v4M1378.5 520v2M1383.5 461v4M1383.5 511v5M1383.5 520v2M1383.5 523v1M1388.5 465v1M1388.5 515v7M1388.5 524v2M1393.5 469v2M1393.5 519v3M1393.5 523v1"/>
<path stroke="#00bbf8" stroke-width="5" d="M1229.5 461v1M1229.5 463v2M1234.5 489v1M1239.5 459v3M1239.5 490v1M1248.5 474v1M1258.5 474v1M1263.5 475v2M1272.5 446v1M1272.5 461v1M1277.5 423v2M1277.5 439v2M1282.5 445v1M1282.5 477v2M1287.5 461v1M1287.5 478v1M1296.5 461v1M1296.5 463v2M1296.5 481v1M1301.5 466v1M1301.5 499v1M1306.5 489v1M1311.5 489v1M1316.5 489v2M1325.5 459v3M1325.5 491v1M1330.5 462v1M1335.5 466v1M1335.5 502v1M1335.5 504v2M1340.5 466v1M1340.5 503v3M1349.5 467v2M1349.5 503v3M1354.5 469v1M1359.5 469v1M1359.5 503v3M1364.5 469v1M1364.5 506v1M1373.5 466v1M1373.5 469v1M1373.5 507v1M1378.5 466v3M1383.5 465v1M1383.5 504v2M1383.5 507v1M1388.5 467v2M1388.5 470v1M1388.5 510v4M1393.5 475v2M1393.5 515v1"/>
<path stroke="#00e1f0" stroke-width="5" d="M1229.5 462v1M1229.5 487v3M1234.5 461v2M1239.5 487v2M1248.5 447v2M1248.5 470v1M1248.5 473v1M1253.5 446v3M1253.5 474v1M1258.5 447v3M1258.5 471v2M1263.5 449v2M1263.5 473v2M1272.5 431v2M1272.5 462v1M1272.5 477v1M1277.5 438v1M1277.5 461v1M1282.5 430v1M1282.5 461v1M1282.5 475v2M1287.5 435v2M1287.5 477v1M1296.5 445v1M1296.5 478v1M1301.5 467v2M1301.5 494v1M1301.5 496v2M1306.5 454v1M1306.5 485v4M1311.5 451v2M1311.5 483v2M1311.5 487v2M1316.5 486v1M1325.5 489v2M1325.5 492v2M1330.5 463v2M1330.5 502v1M1335.5 503v1M1340.5 500v3M1349.5 469v1M1354.5 502v2M1359.5 471v2M1364.5 470v1M1364.5 504v2M1373.5 503v3M1378.5 469v1M1378.5 502v4M1383.5 467v2M1383.5 502v2M1383.5 506v1M1393.5 474v1M1393.5 510v1M1393.5 512v2"/>
<path stroke="#00e8c3" stroke-width="5" d="M1229.5 465v1M1229.5 486v1M1234.5 487v2M1239.5 462v1M1239.5 486v1M1248.5 449v1M1248.5 471v2M1253.5 449v1M1253.5 471v3M1258.5 470v1M1258.5 473v1M1263.5 451v2M1272.5 475v2M1277.5 425v1M1277.5 475v3M1282.5 443v2M1287.5 450v1M1287.5 462v1M1287.5 475v2M1296.5 446v1M1296.5 465v1M1296.5 477v1M1301.5 469v1M1301.5 495v1M1306.5 483v2M1311.5 453v1M1311.5 481v2M1311.5 485v2M1316.5 455v3M1316.5 483v3M1316.5 487v2M1325.5 487v2M1330.5 465v1M1330.5 498v4M1335.5 467v2M1335.5 498v4M1340.5 467v3M1340.5 496v4M1349.5 498v5M1354.5 470v3M1354.5 499v3M1359.5 470v1M1359.5 502v1M1364.5 471v2M1364.5 499v5M1373.5 500v3M1378.5 470v1M1383.5 466v1M1383.5 500v2M1388.5 471v2M1388.5 507v3M1393.5 477v1M1393.5 508v2M1393.5 511v1"/>
<path stroke="#19f051" stroke-width="5" d="M1229.5 466v1M1229.5 483v2M1234.5 483v3M1239.5 463v2M1239.5 481v2M1248.5 450v1M1248.5 467v3M1253.5 450v1M1258.5 450v3M1258.5 467v2M1263.5 453v1M1263.5 469v1M1263.5 471v2M1272.5 443v2M1277.5 463v2M1277.5 473v1M1282.5 462v1M1287.5 473v2M1296.5 458v1M1296.5 473v1M1301.5 470v1M1301.5 489v3M1306.5 474v3M1311.5 475v3M1316.5 481v2M1325.5 463v2M1325.5 483v2M1330.5 466v3M1330.5 494v2M1335.5 469v1M1335.5 490v2M1335.5 494v2M1340.5 470v1M1340.5 491v1M1340.5 494v2M1349.5 496v2M1354.5 473v1M1354.5 495v1M1359.5 499v1M1364.5 473v2M1364.5 495v4M1373.5 471v2M1373.5 495v1M1373.5 498v1M1378.5 498v1M1383.5 471v2M1383.5 494v1M1383.5 496v2M1388.5 475v2M1388.5 503v1M1388.5 506v1M1393.5 478v1M1393.5 503v5"/>
<path stroke="#42f120" stroke-width="5" d="M1229.5 467v2M1229.5 482v1M1234.5 465v1M1239.5 465v1M1248.5 451v2M1248.5 466v1M1253.5 467v3M1258.5 453v1M1258.5 465v1M1263.5 467v2M1272.5 433v1M1272.5 442v1M1272.5 465v4M1272.5 473v1M1277.5 465v1M1277.5 469v4M1282.5 431v2M1282.5 463v2M1282.5 471v2M1287.5 447v2M1287.5 463v2M1296.5 447v2M1296.5 457v1M1296.5 469v1M1301.5 471v2M1301.5 486v3M1306.5 455v2M1306.5 473v1M1311.5 479v2M1316.5 478v1M1325.5 465v1M1325.5 482v1M1325.5 485v1M1330.5 489v5M1335.5 470v1M1335.5 487v3M1340.5 471v2M1340.5 492v2M1349.5 473v2M1349.5 490v5M1354.5 474v1M1354.5 491v1M1354.5 494v1M1359.5 474v1M1359.5 494v4M1364.5 492v3M1373.5 473v1M1378.5 471v2M1378.5 494v4M1383.5 470v1M1383.5 492v2M1383.5 495v1M1388.5 477v1M1388.5 502v1M1393.5 481v2M1393.5 502v1"/>
<path stroke="#83f40c" stroke-width="5" d="M1229.5 469v1M1229.5 481v1M1234.5 466v1M1234.5 479v2M1234.5 482v1M1239.5 477v4M1248.5 465v1M1253.5 466v1M1258.5 463v2M1258.5 466v1M1263.5 454v1M1272.5 469v4M1277.5 426v1M1277.5 435v2M1277.5 466v1M1282.5 465v2M1287.5 438v1M1287.5 465v2M1287.5 469v4M1296.5 467v2M1296.5 470v3M1306.5 457v1M1306.5 470v1M1311.5 454v1M1311.5 471v2M1311.5 474v1M1316.5 458v1M1316.5 475v3M1330.5 469v1M1330.5 485v1M1335.5 482v1M1335.5 486v1M1340.5 473v1M1340.5 489v2M1349.5 489v1M1354.5 492v2M1359.5 490v1M1359.5 492v2M1364.5 491v1M1373.5 490v2M1373.5 494v1M1378.5 473v1M1378.5 490v1M1383.5 473v2M1383.5 489v1M1383.5 491v1M1388.5 478v1M1388.5 498v1M1388.5 500v2M1393.5 483v3M1393.5 499v1"/>
<path stroke="#bef400" stroke-width="5" d="M1229.5 470v1M1229.5 479v2M1234.5 481v1M1239.5 466v1M1248.5 462v3M1253.5 451v2M1253.5 462v1M1258.5 454v1M1258.5 462v1M1263.5 455v2M1263.5 465v2M1272.5 434v1M1272.5 441v1M1277.5 434v1M1277.5 467v2M1282.5 433v1M1282.5 441v1M1282.5 467v4M1287.5 446v1M1287.5 467v2M1296.5 455v2M1301.5 473v2M1301.5 482v4M1306.5 471v2M1311.5 466v1M1311.5 473v1M1316.5 466v1M1316.5 471v4M1325.5 477v1M1325.5 479v3M1330.5 486v3M1340.5 483v2M1340.5 487v2M1354.5 475v2M1354.5 490v1M1359.5 475v2M1364.5 475v3M1364.5 490v1M1373.5 474v1M1373.5 489v1M1373.5 492v2M1378.5 474v1M1378.5 491v3M1383.5 486v1M1383.5 490v1M1388.5 499v1M1393.5 495v3M1393.5 500v2"/>
<path stroke="#f0f100" stroke-width="5" d="M1229.5 471v2M1239.5 474v1M1248.5 454v1M1253.5 453v1M1253.5 463v3M1263.5 463v2M1277.5 433v1M1282.5 439v2M1301.5 481v1M1306.5 466v1M1306.5 469v1M1311.5 463v2M1311.5 467v2M1311.5 470v1M1316.5 459v3M1316.5 467v3M1325.5 466v3M1330.5 470v1M1330.5 482v3M1335.5 471v2M1335.5 478v1M1335.5 483v3M1340.5 482v1M1340.5 486v1M1349.5 485v1M1354.5 489v1M1359.5 491v1M1364.5 487v2M1373.5 475v3M1378.5 475v2M1378.5 486v1M1378.5 489v1M1388.5 479v2M1388.5 496v2M1393.5 486v1M1393.5 498v1"/>
<path stroke="#fe9f00" stroke-width="5" d="M1229.5 473v2M1229.5 477v1M1234.5 478v1M1239.5 469v1M1239.5 471v3M1248.5 455v2M1253.5 454v1M1253.5 461v1M1258.5 457v2M1258.5 461v1M1263.5 457v2M1263.5 461v1M1272.5 438v1M1277.5 431v2M1282.5 435v4M1287.5 442v1M1287.5 445v1M1296.5 453v2M1306.5 459v2M1311.5 457v1M1311.5 461v1M1311.5 465v1M1316.5 462v1M1335.5 475v3M1340.5 478v1M1340.5 485v1M1349.5 477v2M1349.5 483v2M1354.5 479v2M1354.5 482v3M1354.5 486v1M1359.5 477v1M1359.5 479v2M1359.5 486v1M1364.5 482v1M1364.5 486v1M1373.5 483v6M1378.5 477v2M1378.5 481v2M1378.5 485v1M1383.5 475v2M1383.5 478v1M1383.5 485v1M1388.5 481v1M1388.5 491v1M1393.5 489v1"/>
<path stroke="#ff7500" stroke-width="5" d="M1229.5 475v2M1234.5 469v1M1253.5 457v1M1258.5 455v2M1272.5 437v1M1272.5 439v2M1277.5 430v1M1282.5 434v1M1296.5 451v2M1301.5 475v3M1301.5 479v2M1306.5 458v1M1306.5 461v1M1311.5 462v1M1316.5 463v3M1325.5 469v1M1325.5 473v1M1330.5 477v2M1340.5 475v3M1340.5 479v3M1349.5 482v1M1354.5 478v1M1354.5 485v1M1359.5 483v3M1364.5 478v1M1364.5 483v2M1373.5 478v1M1373.5 481v1M1378.5 479v2M1378.5 483v2M1383.5 477v1M1383.5 481v4M1388.5 482v4M1388.5 492v2M1393.5 490v1"/>
<path stroke="#fccc00" stroke-width="5" d="M1229.5 478v1M1234.5 467v2M1234.5 475v3M1239.5 467v2M1239.5 475v2M1248.5 453v1M1248.5 457v5M1258.5 459v2M1263.5 459v2M1263.5 462v1M1277.5 427v2M1287.5 439v2M1287.5 443v2M1296.5 449v1M1306.5 462v4M1306.5 467v2M1311.5 455v2M1311.5 469v1M1316.5 470v1M1325.5 474v3M1325.5 478v1M1330.5 475v2M1330.5 479v3M1335.5 473v1M1335.5 479v3M1340.5 474v1M1349.5 475v2M1349.5 479v2M1349.5 486v3M1354.5 477v1M1354.5 487v2M1359.5 478v1M1359.5 487v3M1364.5 485v1M1364.5 489v1M1373.5 482v1M1378.5 487v2M1383.5 487v2M1388.5 494v2M1393.5 487v2M1393.5 491v4"/>
<path stroke="#00f096" stroke-width="5" d="M1229.5 485v1M1234.5 463v2M1234.5 486v1M1239.5 483v3M1253.5 470v1M1258.5 469v1M1263.5 470v1M1272.5 445v1M1272.5 463v2M1272.5 474v1M1277.5 437v1M1277.5 462v1M1277.5 474v1M1282.5 442v1M1282.5 473v2M1287.5 437v1M1287.5 449v1M1296.5 459v2M1296.5 466v1M1296.5 474v3M1301.5 492v2M1306.5 477v6M1311.5 478v1M1316.5 479v2M1325.5 462v1M1325.5 486v1M1330.5 496v2M1335.5 492v2M1335.5 496v2M1349.5 470v3M1349.5 495v1M1354.5 496v3M1359.5 473v1M1359.5 498v1M1359.5 500v2M1373.5 470v1M1373.5 496v2M1373.5 499v1M1378.5 499v3M1383.5 469v1M1383.5 498v2M1388.5 473v2M1388.5 504v2M1393.5 479v2"/>
<path stroke="#0096ff" stroke-width="5" d="M1229.5 490v4M1234.5 459v2M1234.5 490v4M1239.5 489v1M1239.5 491v1M1248.5 445v2M1248.5 475v3M1253.5 477v2M1258.5 445v2M1258.5 475v4M1263.5 447v2M1263.5 477v1M1272.5 430v1M1272.5 447v4M1272.5 454v1M1272.5 457v2M1272.5 478v3M1277.5 441v4M1277.5 446v3M1277.5 457v1M1277.5 478v3M1282.5 429v1M1282.5 447v3M1282.5 451v3M1282.5 458v3M1287.5 451v2M1287.5 454v7M1296.5 462v1M1296.5 479v2M1301.5 498v1M1301.5 500v6M1306.5 451v3M1306.5 495v3M1311.5 450v1M1311.5 490v8M1316.5 454v1M1316.5 491v5M1316.5 498v1M1325.5 494v1M1325.5 496v3M1325.5 502v1M1330.5 461v1M1330.5 503v7M1330.5 512v2M1335.5 463v3M1335.5 506v2M1335.5 512v3M1340.5 465v1M1340.5 506v5M1340.5 512v2M1349.5 507v3M1354.5 504v6M1354.5 511v1M1359.5 467v2M1359.5 506v4M1359.5 511v1M1364.5 507v4M1364.5 512v2M1373.5 467v2M1373.5 506v1M1373.5 510v2M1378.5 506v6M1378.5 514v1M1383.5 508v3M1388.5 466v1M1388.5 469v1M1388.5 514v1M1393.5 471v3M1393.5 514v1M1393.5 516v3"/>
<path stroke="#ff4c00" stroke-width="5" d="M1234.5 470v3M1234.5 474v1M1239.5 470v1M1253.5 455v2M1253.5 459v2M1272.5 435v2M1277.5 429v1M1287.5 441v1M1296.5 450v1M1301.5 478v1M1311.5 458v1M1325.5 470v3M1330.5 471v2M1330.5 474v1M1335.5 474v1M1349.5 481v1M1354.5 481v1M1359.5 481v2M1364.5 479v3M1383.5 479v2M1388.5 489v2"/>
<path stroke="#ff2300" stroke-width="5" d="M1234.5 473v1M1253.5 458v1M1311.5 459v2M1330.5 473v1M1373.5 479v2M1388.5 486v3"/>
<path stroke="#a8b0f7" stroke-width="4" d="M1244 430v1M1244 433v1M1244 434v1M1268 449v1M1268 507v1M1268 514v1M1268 520v1M1268 524v1M1292 486v1M1292 502v1M1292 512v1M1292 516v1M1321 451v1M1321 514v1M1321 518v1M1321 519v1M1321 523v1M1321 524v1M1321 532v1M1321 534v1M1345 457v1M1369 459v1M1369 520v1M1369 530v1M1369 531v1"/>
<path stroke="#1b3bfc" stroke-width="4" d="M1244 441v2M1244 491v3M1244 495v1M1268 455v3M1268 516v4M1268 526v1M1268 528v2M1292 433v1M1292 492v2M1292 500v2M1292 503v9M1292 532v2M1321 453v1M1321 520v2M1321 526v2M1345 461v1M1345 527v3M1345 534v4M1369 461v4M1369 524v2M1369 528v2M1369 535v1"/>
<path stroke="#164afe" stroke-width="4" d="M1244 443v2M1244 486v3M1244 490v1M1268 458v1M1268 506v1M1268 508v4M1268 515v1M1292 485v1M1292 487v5M1292 494v1M1292 498v1M1321 454v1M1321 504v2M1321 507v1M1321 510v1M1321 512v2M1321 516v2M1321 522v1M1345 462v3M1345 519v1M1345 522v5M1345 530v1M1345 532v2M1369 518v2M1369 526v2"/>
<path stroke="#0096ff" stroke-width="4" d="M1244 445v1M1244 474v3M1244 478v3M1268 459v2M1268 495v5M1292 435v2M1292 453v1M1292 455v3M1292 459v2M1321 491v7M1345 506v5M1369 506v8"/>
<path stroke="#00bbf8" stroke-width="4" d="M1244 446v1M1268 461v1M1268 492v3M1292 462v1M1292 479v2M1321 458v1M1321 489v1M1345 504v2M1369 467v2"/>
<path stroke="#00e8c3" stroke-width="4" d="M1244 447v2M1244 470v3M1268 490v1M1292 475v2M1321 487v2M1345 469v2M1345 499v1M1345 502v1M1369 471v2M1369 502v1"/>
<path stroke="#00f096" stroke-width="4" d="M1244 449v1M1268 487v2M1292 438v1M1292 449v2M1292 463v2M1321 483v3M1345 498v1M1369 500v2"/>
<path stroke="#42f120" stroke-width="4" d="M1244 450v1M1244 466v1M1268 481v2M1292 439v2M1292 447v2M1292 466v1M1292 470v1M1292 474v1M1321 462v1M1321 478v1M1345 471v3M1345 492v2M1369 473v1M1369 494v1M1369 498v1"/>
<path stroke="#bef400" stroke-width="4" d="M1244 451v3M1244 462v4M1292 467v3M1321 463v2M1321 477v1M1345 474v1M1345 487v3M1345 491v1M1369 475v3M1369 489v1M1369 491v1"/>
<path stroke="#fe9f00" stroke-width="4" d="M1244 454v1M1268 467v2M1268 473v2M1292 441v2M1321 471v2M1345 482v4M1369 483v2M1369 486v1"/>
<path stroke="#ff4c00" stroke-width="4" d="M1244 455v2M1345 478v4"/>
<path stroke="#ff7500" stroke-width="4" d="M1244 457v2M1268 470v3M1292 443v2M1321 466v3"/>
<path stroke="#fccc00" stroke-width="4" d="M1244 459v2M1268 475v3M1321 470v1M1345 475v2M1345 486v1M1369 485v1M1369 490v1"/>
<path stroke="#f0f100" stroke-width="4" d="M1244 461v1M1268 466v1M1292 445v2M1321 465v1M1321 469v1M1321 473v4M1369 478v1M1369 487v2"/>
<path stroke="#19f051" stroke-width="4" d="M1244 467v3M1268 463v2M1268 483v4M1292 465v1M1292 473v1M1321 461v1M1321 479v2M1321 482v1M1345 494v4M1369 495v3M1369 499v1"/>
<path stroke="#00e1f0" stroke-width="4" d="M1244 473v1M1268 462v1M1268 489v1M1268 491v1M1292 437v1M1292 451v2M1292 477v2M1321 459v2M1321 486v1M1321 490v1M1345 467v2M1345 500v2M1345 503v1M1369 469v2M1369 503v3"/>
<path stroke="#0c6aff" stroke-width="4" d="M1244 477v1M1244 481v4M1268 500v6M1292 434v1M1292 454v1M1292 458v1M1292 461v1M1292 481v4M1321 455v3M1321 498v6M1321 506v1M1345 465v2M1345 511v8M1345 520v2M1369 465v2M1369 514v4M1369 523v1"/>
<path stroke="#4657f8" stroke-width="4" d="M1244 494v1M1244 496v1M1244 498v1M1244 503v1M1244 512v1M1244 534v1M1244 535v1M1268 446v1M1268 451v1M1268 522v1M1268 527v1M1268 530v1M1268 532v1M1292 496v1M1292 515v1M1292 523v1M1321 447v1M1321 511v1M1321 515v1M1345 449v1M1345 455v1M1369 522v1M1369 534v1"/>
<path stroke="#83f40c" stroke-width="4" d="M1268 465v1M1268 478v3M1292 471v2M1321 481v1M1345 490v1M1369 474v1M1369 492v2"/>
<path stroke="#ff2300" stroke-width="4" d="M1268 469v1M1345 477v1M1369 479v4"/>
</g>
<path d="M1227.6 538.8H1395.0" stroke="#555" stroke-width="1.1" fill="none"/>
<path d="M1227.6 538.6H1231.4" stroke="#58c040" stroke-width="1.5" fill="none"/>
<path d="M1232.4 538.6H1241.0" stroke="#c8281e" stroke-width="1.5" fill="none"/>
<path d="M1242.0 538.6H1265.1" stroke="#40b8a0" stroke-width="1.5" fill="none"/>
<path d="M1266.1 538.6H1395.0" stroke="#c8281e" stroke-width="1.5" fill="none"/>
<path d="M1227.5 539.1V374.5H1395.5V539.1" fill="none" stroke="#6a6a6a" stroke-width="1.25"/>
<path d="M1229.5 538.5v4.2M1272.8 538.5v4.2M1320.9 538.5v4.2M1369.0 538.5v4.2M1393.1 538.5v4.2" stroke="#333" stroke-width="1.1" fill="none"/>
<path d="M1229.5 538.5v1.6M1234.3 538.5v1.6M1239.1 538.5v1.6M1243.9 538.5v1.6M1248.8 538.5v1.6M1253.6 538.5v1.6M1258.4 538.5v1.6M1263.2 538.5v1.6M1268.0 538.5v1.6M1272.8 538.5v1.6M1277.6 538.5v1.6M1282.4 538.5v1.6M1287.2 538.5v1.6M1292.1 538.5v1.6M1296.9 538.5v1.6M1301.7 538.5v1.6M1306.5 538.5v1.6M1311.3 538.5v1.6M1316.1 538.5v1.6M1320.9 538.5v1.6M1325.7 538.5v1.6M1330.5 538.5v1.6M1335.4 538.5v1.6M1340.2 538.5v1.6M1345.0 538.5v1.6M1349.8 538.5v1.6M1354.6 538.5v1.6M1359.4 538.5v1.6M1364.2 538.5v1.6M1369.0 538.5v1.6M1373.8 538.5v1.6M1378.7 538.5v1.6M1383.5 538.5v1.6M1388.3 538.5v1.6M1393.1 538.5v1.6" stroke="#333" stroke-width="0.6" fill="none"/>
<text x="1227.4" y="551.4" font-size="8.6" fill="#1c1c1c" textLength="4.2" lengthAdjust="spacingAndGlyphs">1</text>
<text x="1268.6" y="551.4" font-size="8.6" fill="#1c1c1c" textLength="8.4" lengthAdjust="spacingAndGlyphs">10</text>
<text x="1316.7" y="551.4" font-size="8.6" fill="#1c1c1c" textLength="8.4" lengthAdjust="spacingAndGlyphs">20</text>
<text x="1364.8" y="551.4" font-size="8.6" fill="#1c1c1c" textLength="8.4" lengthAdjust="spacingAndGlyphs">30</text>
<text x="1388.9" y="551.4" font-size="8.6" fill="#1c1c1c" textLength="8.4" lengthAdjust="spacingAndGlyphs">35</text>
<rect x="1403.0" y="358.9" width="10.7" height="10.7" fill="#1478b8"/>
<path d="M1408.35 365.25L1412.85 364.25L1408.35 363.25ZM1407.86 364.74L1410.82 366.72L1408.84 363.76ZM1407.35 364.25L1408.35 368.75L1409.35 364.25ZM1407.86 363.76L1405.88 366.72L1408.84 364.74ZM1408.35 363.25L1403.85 364.25L1408.35 365.25ZM1408.84 363.76L1405.88 361.78L1407.86 364.74ZM1409.35 364.25L1408.35 359.75L1407.35 364.25ZM1408.84 364.74L1410.82 361.78L1407.86 363.76Z" fill="#fff"/>
<circle cx="1408.35" cy="364.25" r="2.0" fill="#fff"/>
<text x="1417.4" y="368.0" font-size="9.3" fill="#1c1c1c" textLength="25.2" lengthAdjust="spacingAndGlyphs">488nm</text>
<g fill="none">
<path stroke="#1b3bfc" stroke-width="5" d="M1405.5 445v1M1405.5 479v3M1405.5 489v1M1405.5 510v1M1410.5 477v1M1410.5 481v1M1410.5 496v2M1415.5 442v1M1415.5 479v2M1415.5 483v2M1415.5 490v1M1415.5 492v2M1415.5 503v3M1415.5 510v1M1415.5 515v1M1415.5 527v1M1424.5 478v3M1424.5 482v1M1424.5 485v1M1424.5 487v2M1424.5 494v5M1429.5 423v2M1429.5 485v1M1429.5 490v6M1429.5 511v1M1429.5 516v2M1429.5 523v1M1434.5 473v1M1434.5 475v3M1434.5 481v2M1434.5 486v10M1434.5 498v2M1434.5 502v1M1434.5 504v2M1434.5 515v1M1439.5 473v2M1439.5 478v5M1439.5 485v1M1439.5 489v6M1439.5 498v1M1439.5 503v1M1439.5 508v2M1439.5 515v1M1448.5 477v2M1448.5 481v6M1448.5 490v2M1448.5 495v7M1448.5 515v1M1448.5 522v1M1453.5 481v1M1453.5 483v4M1453.5 489v2M1453.5 494v4M1453.5 499v4M1458.5 492v2M1458.5 498v1M1458.5 500v3M1458.5 506v1M1458.5 508v3M1458.5 512v2M1458.5 519v1M1458.5 530v1M1458.5 535v1M1463.5 515v1M1463.5 518v1M1463.5 520v3M1463.5 524v3M1463.5 530v6M1468.5 496v3M1468.5 500v2M1468.5 504v3M1468.5 508v3M1468.5 514v1M1468.5 516v4M1468.5 523v3M1468.5 530v2M1468.5 534v2M1477.5 498v2M1477.5 504v3M1477.5 511v1M1477.5 516v2M1477.5 519v3M1477.5 523v4M1477.5 528v2M1477.5 531v3M1482.5 498v2M1482.5 503v1M1482.5 507v1M1482.5 512v3M1482.5 516v3M1482.5 520v3M1482.5 524v6M1482.5 536v2M1487.5 506v2M1487.5 510v1M1487.5 512v2M1487.5 515v3M1487.5 519v3M1487.5 526v2M1487.5 530v2M1487.5 534v1M1487.5 536v2M1492.5 499v1M1492.5 508v2M1492.5 516v2M1492.5 520v2M1492.5 523v1M1492.5 526v4M1492.5 534v1M1497.5 506v4M1497.5 515v1M1497.5 518v2M1497.5 524v3M1497.5 530v1M1497.5 532v2M1497.5 535v1M1506.5 449v1M1506.5 504v2M1506.5 508v2M1506.5 512v2M1506.5 523v3M1506.5 527v1M1506.5 531v1M1506.5 538v1M1511.5 507v1M1511.5 515v1M1511.5 519v3M1511.5 523v3M1511.5 527v1M1511.5 535v1M1516.5 508v2M1516.5 512v2M1516.5 518v2M1516.5 524v3M1516.5 528v2M1516.5 532v2M1516.5 535v1M1521.5 454v1M1521.5 518v1M1521.5 524v2M1521.5 527v1M1521.5 530v1M1521.5 534v1M1530.5 516v2M1530.5 522v1M1530.5 524v7M1530.5 532v2M1530.5 535v1M1535.5 449v1M1535.5 516v2M1535.5 519v4M1535.5 524v6M1535.5 531v3M1540.5 515v3M1540.5 520v2M1540.5 526v1M1540.5 528v3M1545.5 514v1M1545.5 518v2M1545.5 522v1M1545.5 527v7M1550.5 449v1M1550.5 514v2M1550.5 522v1M1550.5 531v1M1550.5 535v1"/>
<path stroke="#0c6aff" stroke-width="5" d="M1405.5 446v1M1405.5 469v2M1405.5 473v1M1410.5 446v1M1410.5 469v1M1410.5 471v3M1415.5 443v2M1415.5 473v2M1424.5 450v1M1424.5 469v1M1424.5 471v2M1429.5 425v1M1429.5 445v1M1429.5 451v3M1429.5 455v6M1429.5 478v1M1434.5 397v1M1434.5 418v1M1434.5 421v1M1434.5 423v2M1434.5 426v4M1434.5 433v1M1434.5 435v3M1434.5 439v8M1434.5 450v4M1439.5 415v2M1439.5 418v1M1439.5 422v5M1439.5 429v1M1439.5 431v4M1439.5 438v7M1439.5 447v2M1439.5 450v1M1439.5 470v1M1448.5 421v1M1448.5 425v1M1448.5 427v3M1448.5 431v4M1448.5 439v3M1448.5 443v4M1448.5 450v3M1448.5 454v1M1453.5 405v1M1453.5 425v4M1453.5 431v2M1453.5 435v2M1453.5 438v11M1453.5 450v5M1453.5 457v1M1453.5 478v1M1458.5 438v1M1458.5 442v9M1458.5 453v4M1458.5 461v1M1458.5 463v2M1458.5 469v1M1463.5 434v1M1463.5 455v2M1463.5 459v2M1463.5 462v3M1463.5 467v11M1463.5 494v1M1468.5 451v4M1468.5 457v2M1468.5 461v8M1468.5 494v2M1477.5 426v1M1477.5 445v1M1477.5 449v2M1477.5 454v1M1477.5 459v7M1477.5 467v2M1477.5 494v1M1482.5 454v1M1482.5 457v1M1482.5 459v2M1482.5 462v3M1482.5 466v3M1482.5 495v1M1487.5 433v1M1487.5 455v8M1487.5 465v5M1492.5 437v1M1492.5 458v1M1492.5 463v2M1492.5 466v4M1492.5 495v3M1497.5 442v1M1497.5 469v1M1497.5 496v2M1506.5 450v1M1506.5 498v1M1511.5 453v1M1511.5 499v1M1511.5 502v1M1516.5 454v1M1516.5 500v2M1530.5 506v1M1535.5 474v1M1535.5 477v2M1535.5 506v1M1535.5 508v2M1540.5 447v2M1540.5 471v3M1540.5 477v2M1540.5 507v3M1545.5 447v2M1545.5 467v2M1545.5 470v1M1545.5 473v1M1545.5 475v2M1545.5 507v3M1550.5 450v1M1550.5 475v4"/>
<path stroke="#0096ff" stroke-width="5" d="M1405.5 447v2M1405.5 471v2M1410.5 470v1M1415.5 469v2M1424.5 431v2M1424.5 449v1M1424.5 451v2M1429.5 442v3M1429.5 446v5M1429.5 454v1M1434.5 415v3M1434.5 419v2M1434.5 422v1M1434.5 425v1M1434.5 430v3M1434.5 434v1M1434.5 471v2M1439.5 409v6M1439.5 417v1M1439.5 419v3M1439.5 427v2M1448.5 402v1M1448.5 419v2M1448.5 422v3M1448.5 426v1M1448.5 430v1M1448.5 435v4M1448.5 455v2M1448.5 474v1M1453.5 429v2M1453.5 433v2M1453.5 437v1M1453.5 458v1M1453.5 477v1M1458.5 415v2M1458.5 434v4M1458.5 439v3M1458.5 471v3M1458.5 487v3M1463.5 453v2M1463.5 457v2M1463.5 461v1M1463.5 465v2M1463.5 478v1M1463.5 490v2M1468.5 445v6M1468.5 455v2M1468.5 459v2M1468.5 492v2M1477.5 443v2M1477.5 446v3M1477.5 451v3M1477.5 455v4M1477.5 491v3M1477.5 495v1M1482.5 430v1M1482.5 449v5M1482.5 455v2M1482.5 458v1M1482.5 461v1M1482.5 465v1M1482.5 469v1M1482.5 492v3M1487.5 450v5M1487.5 463v2M1487.5 492v2M1487.5 495v1M1492.5 455v3M1492.5 459v4M1492.5 465v1M1497.5 461v8M1497.5 470v1M1497.5 495v1M1506.5 470v1M1506.5 495v3M1511.5 496v3M1516.5 498v2M1521.5 455v2M1521.5 499v4M1530.5 454v3M1530.5 475v2M1530.5 504v2M1535.5 450v1M1535.5 470v4M1535.5 475v2M1535.5 503v3M1540.5 467v4M1540.5 474v3M1540.5 506v1M1545.5 449v1M1545.5 466v1M1545.5 469v1M1545.5 471v2M1545.5 474v1M1545.5 477v4M1545.5 506v1M1550.5 451v2M1550.5 471v4M1550.5 479v2M1550.5 507v3"/>
<path stroke="#00f096" stroke-width="5" d="M1405.5 449v2M1415.5 447v2M1415.5 463v2M1429.5 462v1M1434.5 411v3M1439.5 393v2M1439.5 405v1M1439.5 453v1M1439.5 466v1M1453.5 409v1M1453.5 461v1M1453.5 471v2M1458.5 418v1M1458.5 481v2M1463.5 449v1M1468.5 482v1M1477.5 429v1M1477.5 471v3M1477.5 485v1M1482.5 433v1M1482.5 473v1M1482.5 485v2M1487.5 435v2M1487.5 447v2M1487.5 473v1M1487.5 486v3M1492.5 453v1M1492.5 474v1M1492.5 485v4M1497.5 446v1M1497.5 487v3M1506.5 453v1M1506.5 474v1M1506.5 487v3M1511.5 469v1M1511.5 474v1M1511.5 489v1M1516.5 475v2M1516.5 490v4M1521.5 458v1M1521.5 473v1M1521.5 475v2M1521.5 492v3M1535.5 494v1M1535.5 496v2M1540.5 482v1M1540.5 495v1M1545.5 451v2M1545.5 496v4M1550.5 469v1"/>
<path stroke="#42f120" stroke-width="5" d="M1405.5 451v2M1410.5 462v3M1415.5 462v1M1424.5 454v1M1424.5 463v2M1429.5 429v1M1429.5 438v1M1429.5 463v2M1434.5 402v1M1434.5 465v2M1439.5 395v2M1439.5 454v1M1448.5 406v1M1448.5 415v2M1448.5 459v2M1448.5 467v2M1453.5 410v1M1453.5 462v1M1458.5 430v1M1458.5 478v1M1468.5 479v2M1477.5 439v2M1477.5 474v1M1477.5 477v1M1477.5 479v3M1482.5 434v1M1482.5 445v1M1482.5 475v8M1487.5 437v1M1487.5 475v3M1487.5 479v4M1492.5 441v1M1492.5 451v2M1492.5 475v3M1492.5 479v2M1492.5 482v3M1497.5 447v2M1497.5 478v1M1497.5 485v1M1506.5 454v1M1506.5 465v1M1506.5 475v3M1506.5 482v1M1506.5 485v2M1511.5 457v1M1511.5 467v2M1511.5 475v3M1511.5 482v3M1511.5 487v2M1516.5 458v1M1516.5 477v2M1516.5 486v1M1521.5 459v2M1521.5 471v2M1521.5 478v1M1521.5 490v1M1530.5 470v1M1530.5 482v1M1530.5 490v2M1530.5 494v1M1535.5 486v1M1535.5 489v1M1535.5 491v3M1540.5 451v2M1540.5 485v1M1540.5 487v2M1540.5 491v1M1545.5 485v1M1545.5 490v5M1550.5 455v2M1550.5 487v2M1550.5 494v2"/>
<path stroke="#83f40c" stroke-width="5" d="M1405.5 453v1M1410.5 461v1M1415.5 450v3M1424.5 435v2M1429.5 437v1M1429.5 473v1M1434.5 410v1M1439.5 462v3M1448.5 414v1M1448.5 466v1M1453.5 411v2M1453.5 419v2M1453.5 467v4M1458.5 419v2M1463.5 439v2M1463.5 447v2M1468.5 431v2M1468.5 439v2M1468.5 475v2M1468.5 478v1M1477.5 431v2M1477.5 438v1M1477.5 475v2M1477.5 478v1M1482.5 443v2M1487.5 446v1M1487.5 478v1M1492.5 442v1M1492.5 478v1M1497.5 457v1M1497.5 477v1M1497.5 479v3M1506.5 455v2M1506.5 478v4M1511.5 478v4M1511.5 486v1M1516.5 469v1M1516.5 479v3M1516.5 483v2M1516.5 487v2M1521.5 462v1M1521.5 470v1M1521.5 479v2M1521.5 485v1M1521.5 487v3M1530.5 459v2M1530.5 469v1M1530.5 483v2M1530.5 489v1M1535.5 454v1M1535.5 465v1M1540.5 453v1M1540.5 462v1M1540.5 489v1M1540.5 492v2M1545.5 453v1M1545.5 462v1M1545.5 487v3M1550.5 486v1M1550.5 489v5"/>
<path stroke="#fccc00" stroke-width="5" d="M1405.5 454v3M1405.5 459v2M1410.5 459v2M1424.5 437v2M1424.5 458v3M1429.5 431v2M1429.5 434v1M1429.5 466v1M1429.5 470v1M1434.5 403v3M1439.5 398v1M1439.5 401v1M1439.5 458v1M1448.5 462v3M1453.5 413v1M1453.5 417v1M1458.5 427v2M1463.5 441v1M1468.5 437v2M1477.5 433v1M1482.5 437v1M1482.5 439v2M1482.5 442v1M1487.5 442v1M1497.5 449v1M1516.5 462v1M1516.5 466v1M1530.5 462v5M1535.5 455v2M1535.5 463v2M1540.5 461v1M1545.5 454v1M1545.5 459v3M1550.5 458v3"/>
<path stroke="#ff7500" stroke-width="5" d="M1405.5 457v1M1410.5 458v1M1415.5 455v4M1424.5 439v2M1429.5 435v2M1429.5 467v2M1439.5 399v2M1448.5 410v1M1463.5 445v1M1468.5 435v2M1477.5 434v4M1482.5 438v1M1482.5 441v1M1487.5 441v1M1506.5 458v1M1516.5 465v1M1521.5 467v2M1530.5 467v2M1535.5 458v5"/>
<path stroke="#fe9f00" stroke-width="5" d="M1405.5 458v1M1410.5 457v1M1415.5 459v2M1424.5 442v1M1434.5 406v1M1439.5 457v1M1448.5 411v2M1453.5 414v3M1458.5 423v3M1463.5 442v1M1463.5 446v1M1487.5 445v1M1492.5 445v2M1492.5 449v1M1497.5 453v2M1506.5 459v4M1511.5 461v1M1511.5 465v1M1516.5 463v2M1521.5 463v2M1535.5 457v1M1540.5 455v2M1540.5 459v2M1545.5 457v2M1550.5 461v1M1550.5 463v2"/>
<path stroke="#f0f100" stroke-width="5" d="M1405.5 461v1M1410.5 455v2M1415.5 454v1M1424.5 457v1M1424.5 461v2M1429.5 433v1M1429.5 465v1M1429.5 469v1M1434.5 407v3M1434.5 462v1M1439.5 397v1M1439.5 402v1M1439.5 455v2M1439.5 459v3M1448.5 461v1M1453.5 465v2M1458.5 422v1M1468.5 434v1M1492.5 450v1M1497.5 450v1M1497.5 455v2M1506.5 457v1M1506.5 463v2M1511.5 459v2M1545.5 455v2"/>
<path stroke="#bef400" stroke-width="5" d="M1405.5 462v1M1410.5 453v2M1415.5 453v1M1415.5 461v1M1424.5 443v2M1424.5 455v2M1429.5 430v1M1429.5 471v2M1434.5 458v4M1434.5 463v2M1439.5 403v2M1448.5 407v3M1448.5 465v1M1453.5 418v1M1453.5 463v2M1458.5 421v1M1458.5 429v1M1468.5 433v1M1482.5 435v2M1487.5 438v3M1492.5 443v2M1511.5 458v1M1511.5 466v1M1516.5 459v3M1516.5 467v2M1516.5 482v1M1516.5 485v1M1521.5 461v1M1521.5 469v1M1521.5 481v4M1521.5 486v1M1530.5 461v1M1530.5 485v4M1540.5 454v1M1550.5 457v1M1550.5 465v2"/>
<path stroke="#19f051" stroke-width="5" d="M1405.5 463v3M1410.5 450v3M1415.5 449v1M1424.5 434v1M1424.5 445v1M1424.5 465v1M1429.5 439v2M1429.5 474v1M1434.5 401v1M1434.5 457v1M1434.5 467v2M1439.5 465v1M1448.5 417v1M1448.5 458v1M1448.5 469v2M1453.5 421v1M1453.5 473v1M1458.5 477v1M1458.5 479v2M1463.5 438v1M1468.5 430v1M1468.5 441v1M1468.5 471v4M1468.5 477v1M1468.5 481v1M1468.5 483v2M1477.5 430v1M1477.5 482v3M1482.5 474v1M1482.5 483v2M1487.5 474v1M1487.5 483v3M1492.5 473v1M1492.5 481v1M1497.5 458v1M1497.5 474v3M1497.5 482v3M1497.5 486v1M1506.5 466v1M1506.5 483v2M1511.5 485v1M1516.5 470v1M1516.5 489v1M1521.5 477v1M1521.5 491v1M1530.5 458v1M1530.5 471v2M1530.5 479v3M1530.5 492v2M1535.5 453v1M1535.5 466v1M1535.5 483v3M1535.5 487v2M1535.5 490v1M1535.5 495v1M1540.5 463v2M1540.5 483v2M1540.5 486v1M1540.5 490v1M1540.5 494v1M1540.5 496v2M1545.5 463v2M1545.5 483v2M1545.5 486v1M1545.5 495v1M1550.5 454v1M1550.5 467v2M1550.5 483v3M1550.5 496v3"/>
<path stroke="#00e1f0" stroke-width="5" d="M1405.5 466v3M1410.5 466v1M1415.5 446v1M1424.5 453v1M1424.5 466v1M1429.5 426v1M1429.5 475v2M1434.5 399v2M1434.5 454v1M1439.5 406v1M1439.5 451v2M1439.5 467v2M1448.5 403v2M1448.5 418v1M1448.5 457v1M1448.5 473v1M1453.5 407v2M1453.5 422v1M1453.5 459v2M1453.5 474v3M1458.5 417v1M1458.5 433v1M1458.5 483v3M1463.5 450v1M1463.5 479v2M1463.5 483v3M1468.5 442v3M1468.5 487v3M1477.5 442v1M1477.5 490v1M1482.5 431v2M1482.5 447v2M1482.5 491v1M1487.5 449v1M1487.5 470v1M1492.5 439v2M1492.5 471v2M1492.5 491v1M1497.5 473v1M1497.5 490v4M1506.5 490v2M1511.5 454v1M1511.5 473v1M1516.5 455v2M1516.5 473v1M1516.5 495v3M1521.5 457v1M1521.5 474v1M1530.5 457v1M1530.5 478v1M1530.5 498v1M1535.5 467v2M1535.5 481v1M1535.5 499v3M1540.5 466v1M1540.5 481v1M1540.5 499v4M1545.5 450v1M1545.5 465v1M1550.5 453v1M1550.5 470v1M1550.5 482v1M1550.5 504v2"/>
<path stroke="#a8b0f7" stroke-width="5" d="M1405.5 474v1M1405.5 482v1M1405.5 490v1M1405.5 495v1M1410.5 441v1M1410.5 443v1M1410.5 478v1M1410.5 482v1M1410.5 483v1M1415.5 471v1M1415.5 486v1M1415.5 491v1M1415.5 512v1M1424.5 427v1M1424.5 489v1M1424.5 491v1M1424.5 499v1M1424.5 506v1M1424.5 511v1M1429.5 498v1M1429.5 499v1M1429.5 508v1M1429.5 515v1M1429.5 535v1M1434.5 479v1M1434.5 507v1M1434.5 511v1M1439.5 475v1M1439.5 496v1M1439.5 499v1M1448.5 394v1M1448.5 487v1M1448.5 492v1M1448.5 502v1M1448.5 507v1M1448.5 516v1M1448.5 519v1M1448.5 531v1M1453.5 402v1M1453.5 491v1M1453.5 503v1M1453.5 510v1M1453.5 511v1M1453.5 534v1M1458.5 411v1M1458.5 413v1M1458.5 507v1M1458.5 523v1M1463.5 431v1M1463.5 433v1M1463.5 499v1M1463.5 500v1M1463.5 508v1M1468.5 520v1M1468.5 532v1M1477.5 422v1M1477.5 423v1M1477.5 500v1M1477.5 514v1M1482.5 508v1M1482.5 511v1M1482.5 535v1M1487.5 430v1M1487.5 514v1M1487.5 523v1M1487.5 535v1M1492.5 522v1M1492.5 531v1M1497.5 520v1M1497.5 528v1M1497.5 531v1M1497.5 534v1M1506.5 522v1M1506.5 526v1M1506.5 528v1M1506.5 530v1M1506.5 532v1M1511.5 518v1M1516.5 510v1M1516.5 515v1M1516.5 522v1M1516.5 523v1M1516.5 530v1M1516.5 534v1M1521.5 507v1M1521.5 522v1M1521.5 526v1M1521.5 528v1M1521.5 531v1M1530.5 511v1M1530.5 515v1M1530.5 518v1M1530.5 519v1M1530.5 523v1M1535.5 443v1M1535.5 530v1M1540.5 531v1M1545.5 520v1M1545.5 536v1M1550.5 447v1M1550.5 520v1M1550.5 526v1M1550.5 527v1M1550.5 530v1M1550.5 534v1"/>
<path stroke="#164afe" stroke-width="5" d="M1405.5 475v4M1410.5 445v1M1410.5 474v3M1410.5 479v2M1415.5 475v4M1415.5 481v2M1424.5 430v1M1424.5 470v1M1424.5 473v5M1424.5 490v1M1429.5 479v4M1429.5 486v3M1434.5 438v1M1434.5 447v2M1434.5 485v1M1439.5 390v1M1439.5 430v1M1439.5 437v1M1439.5 445v2M1439.5 449v1M1439.5 471v2M1439.5 483v2M1448.5 401v1M1448.5 442v1M1448.5 447v3M1448.5 453v1M1448.5 475v2M1448.5 479v2M1453.5 449v1M1453.5 455v2M1453.5 479v2M1458.5 414v1M1458.5 457v4M1458.5 462v1M1458.5 466v3M1458.5 470v1M1458.5 490v2M1463.5 492v2M1463.5 495v3M1463.5 502v6M1463.5 511v4M1463.5 516v2M1463.5 519v1M1468.5 426v1M1468.5 499v1M1468.5 502v2M1468.5 511v3M1468.5 515v1M1477.5 466v1M1477.5 496v2M1477.5 502v2M1477.5 508v3M1482.5 429v1M1482.5 496v2M1482.5 500v2M1482.5 504v3M1482.5 515v1M1487.5 496v6M1487.5 503v1M1487.5 518v1M1487.5 522v1M1487.5 524v2M1492.5 498v1M1492.5 500v3M1492.5 506v1M1492.5 510v5M1492.5 519v1M1497.5 498v4M1497.5 503v3M1497.5 512v3M1497.5 522v1M1506.5 499v5M1506.5 506v2M1506.5 510v2M1506.5 514v5M1511.5 500v2M1511.5 503v4M1511.5 508v3M1511.5 512v3M1511.5 516v2M1511.5 522v1M1511.5 528v2M1516.5 453v1M1516.5 502v6M1516.5 511v1M1516.5 514v1M1516.5 516v2M1516.5 527v1M1521.5 503v4M1521.5 510v4M1521.5 519v3M1521.5 523v1M1530.5 453v1M1530.5 507v4M1530.5 512v3M1530.5 520v2M1535.5 507v1M1535.5 510v4M1535.5 515v1M1540.5 510v5M1540.5 519v1M1545.5 510v4M1545.5 515v1M1550.5 510v4M1550.5 516v2"/>
<path stroke="#4657f8" stroke-width="5" d="M1405.5 485v1M1405.5 486v1M1405.5 487v1M1405.5 496v1M1405.5 498v1M1405.5 508v1M1410.5 485v1M1410.5 486v1M1410.5 491v1M1410.5 494v1M1410.5 511v1M1410.5 515v1M1410.5 522v1M1415.5 441v1M1415.5 485v1M1415.5 506v1M1415.5 507v1M1415.5 508v1M1415.5 519v1M1424.5 486v1M1424.5 492v1M1424.5 502v1M1424.5 504v1M1424.5 514v1M1424.5 522v1M1424.5 524v1M1429.5 500v1M1429.5 506v1M1429.5 507v1M1429.5 530v1M1434.5 449v1M1434.5 474v1M1434.5 518v1M1434.5 519v1M1434.5 526v1M1439.5 487v1M1439.5 495v1M1439.5 500v2M1439.5 504v1M1439.5 506v1M1439.5 507v1M1439.5 514v1M1439.5 524v1M1439.5 528v1M1448.5 489v1M1448.5 503v1M1448.5 504v1M1448.5 511v1M1448.5 512v1M1448.5 520v1M1448.5 528v1M1453.5 492v2M1453.5 504v1M1453.5 507v1M1453.5 512v1M1458.5 465v1M1458.5 494v1M1458.5 495v1M1458.5 499v1M1458.5 511v1M1463.5 498v1M1463.5 523v1M1463.5 528v2M1468.5 526v1M1468.5 528v1M1477.5 512v1M1477.5 515v1M1477.5 522v1M1477.5 530v1M1477.5 534v1M1477.5 536v1M1482.5 427v1M1482.5 530v1M1487.5 431v1M1487.5 504v1M1487.5 528v1M1487.5 532v2M1487.5 538v1M1492.5 433v1M1492.5 435v1M1492.5 504v1M1492.5 518v1M1492.5 524v1M1492.5 530v1M1492.5 532v1M1492.5 535v1M1497.5 438v1M1497.5 439v1M1497.5 441v1M1497.5 502v1M1497.5 523v1M1497.5 527v1M1497.5 536v1M1506.5 447v1M1506.5 535v1M1506.5 536v1M1511.5 531v1M1511.5 532v2M1511.5 534v1M1516.5 531v1M1521.5 514v1M1530.5 531v1M1535.5 447v1M1535.5 514v1M1535.5 534v1M1535.5 535v1M1540.5 518v1M1540.5 532v1M1540.5 534v1M1545.5 523v1M1545.5 534v2M1550.5 524v1M1550.5 528v2M1550.5 532v1"/>
<path stroke="#00bbf8" stroke-width="5" d="M1410.5 447v2M1410.5 467v2M1415.5 445v1M1415.5 466v3M1424.5 433v1M1424.5 447v2M1424.5 467v2M1429.5 441v1M1429.5 461v1M1429.5 477v1M1434.5 398v1M1434.5 414v1M1434.5 470v1M1439.5 391v2M1439.5 407v2M1439.5 469v1M1453.5 406v1M1453.5 423v2M1458.5 486v1M1463.5 435v2M1463.5 451v2M1463.5 481v1M1463.5 486v4M1468.5 427v2M1468.5 469v1M1468.5 490v2M1477.5 427v2M1477.5 469v1M1482.5 470v1M1482.5 490v1M1487.5 434v1M1487.5 491v1M1487.5 494v1M1492.5 438v1M1492.5 470v1M1492.5 492v3M1497.5 443v2M1497.5 494v1M1506.5 451v2M1506.5 469v1M1506.5 471v2M1506.5 492v3M1511.5 470v3M1511.5 494v2M1521.5 498v1M1530.5 474v1M1530.5 477v1M1530.5 500v4M1535.5 469v1M1535.5 479v2M1535.5 502v1M1540.5 449v1M1540.5 479v2M1540.5 503v3M1545.5 481v1M1545.5 503v3M1550.5 503v1M1550.5 506v1"/>
<path stroke="#00e8c3" stroke-width="5" d="M1410.5 449v1M1410.5 465v1M1415.5 465v1M1424.5 446v1M1429.5 427v2M1434.5 455v2M1434.5 469v1M1448.5 405v1M1448.5 471v2M1458.5 431v2M1458.5 474v3M1463.5 437v1M1463.5 482v1M1468.5 429v1M1468.5 470v1M1468.5 485v2M1477.5 441v1M1477.5 470v1M1477.5 486v4M1482.5 446v1M1482.5 471v2M1482.5 487v3M1487.5 471v2M1487.5 489v2M1492.5 454v1M1492.5 489v2M1497.5 445v1M1497.5 459v2M1497.5 471v2M1506.5 467v2M1506.5 473v1M1511.5 455v2M1511.5 490v4M1516.5 457v1M1516.5 471v2M1516.5 474v1M1516.5 494v1M1521.5 495v3M1530.5 473v1M1530.5 495v3M1530.5 499v1M1535.5 451v2M1535.5 482v1M1535.5 498v1M1540.5 450v1M1540.5 465v1M1540.5 498v1M1545.5 482v1M1545.5 500v3M1550.5 481v1M1550.5 499v4"/>
<path stroke="#a8b0f7" stroke-width="4" d="M1420 431v1M1420 483v1M1420 486v1M1444 435v1M1444 475v1M1444 492v1M1444 494v1M1444 496v1M1444 498v1M1444 502v1M1444 503v1M1444 506v1M1473 506v1M1473 507v1M1473 512v1M1473 514v1M1473 515v1M1473 520v1M1473 526v1M1473 527v1M1473 528v1M1502 511v1M1502 512v1M1502 522v1M1502 524v1M1502 534v1M1526 527v1M1555 519v1M1555 524v1"/>
<path stroke="#164afe" stroke-width="4" d="M1420 437v1M1420 469v1M1420 473v4M1420 478v1M1420 481v2M1420 487v2M1444 394v1M1444 449v2M1444 473v1M1473 496v7M1473 511v1M1502 447v2M1502 498v5M1502 506v4M1502 515v3M1502 519v1M1526 454v1M1526 504v6M1526 511v1M1526 515v3M1526 519v3M1555 453v1M1555 511v1M1555 514v5M1555 527v1"/>
<path stroke="#0096ff" stroke-width="4" d="M1420 438v1M1420 458v7M1444 414v7M1444 422v4M1444 429v2M1444 433v1M1473 425v1M1473 443v6M1473 450v4M1473 455v2M1473 467v2M1473 491v4M1502 449v1M1502 494v4M1526 502v1M1555 477v4M1555 508v2"/>
<path stroke="#00e1f0" stroke-width="4" d="M1420 439v3M1444 397v1M1444 411v2M1473 441v1M1473 470v1M1473 487v2M1502 471v2M1526 475v2M1526 498v2M1555 455v3M1555 475v2M1555 503v1"/>
<path stroke="#00f096" stroke-width="4" d="M1420 442v1M1420 455v2M1473 427v2M1473 439v2M1473 471v2M1502 451v2M1502 463v2M1502 473v1M1502 487v2M1526 459v2M1526 474v1M1526 494v1M1555 458v1M1555 499v1"/>
<path stroke="#19f051" stroke-width="4" d="M1420 443v2M1444 410v1M1444 466v1M1473 473v2M1473 479v8M1502 474v1M1502 483v2M1526 492v2M1555 483v3M1555 496v3"/>
<path stroke="#42f120" stroke-width="4" d="M1420 445v1M1420 454v1M1444 399v2M1444 409v1M1444 455v2M1473 438v1M1473 477v2M1502 462v1M1502 475v4M1502 482v1M1502 485v2M1526 473v1M1526 478v1M1526 490v1M1555 459v2M1555 473v1M1555 490v1M1555 492v3"/>
<path stroke="#bef400" stroke-width="4" d="M1420 446v1M1420 453v1M1444 402v1M1444 407v2M1444 458v3M1444 463v2M1473 429v2M1473 437v1M1502 453v1M1526 486v3M1555 461v1M1555 471v2M1555 487v3M1555 491v1"/>
<path stroke="#fe9f00" stroke-width="4" d="M1420 447v3M1444 406v1M1444 461v1M1473 434v1M1502 455v3M1526 465v1M1555 469v1"/>
<path stroke="#ff7500" stroke-width="4" d="M1420 450v1M1444 405v1M1526 466v4M1555 465v2"/>
<path stroke="#f0f100" stroke-width="4" d="M1420 451v2M1502 454v1M1502 459v2M1526 470v1M1526 483v2M1555 462v3"/>
<path stroke="#00bbf8" stroke-width="4" d="M1420 457v1M1444 413v1M1444 453v1M1444 469v2M1473 469v1M1473 490v1M1502 465v2M1502 492v2M1526 457v1M1526 500v2M1555 481v1M1555 504v3"/>
<path stroke="#0c6aff" stroke-width="4" d="M1420 465v4M1420 470v3M1444 395v2M1444 421v1M1444 427v2M1444 431v2M1444 434v1M1444 437v8M1444 447v2M1444 451v2M1444 471v2M1473 442v1M1473 449v1M1473 454v1M1473 457v10M1473 495v1M1502 467v4M1526 455v2M1526 503v1M1555 454v1M1555 507v1M1555 510v1"/>
<path stroke="#1b3bfc" stroke-width="4" d="M1420 477v1M1420 485v1M1420 492v2M1420 503v1M1420 510v2M1420 518v1M1444 479v7M1444 487v5M1444 495v1M1444 500v2M1444 511v1M1473 423v2M1473 508v3M1473 516v2M1473 519v1M1473 522v4M1473 530v2M1473 534v2M1502 504v2M1502 510v1M1502 514v1M1502 518v1M1502 520v2M1502 523v1M1502 526v1M1502 528v3M1502 532v2M1526 510v1M1526 514v1M1526 518v1M1526 523v4M1526 528v3M1526 532v4M1555 512v2M1555 523v1M1555 526v1M1555 528v7"/>
<path stroke="#4657f8" stroke-width="4" d="M1420 489v1M1420 496v1M1420 498v1M1420 502v1M1420 504v1M1444 445v1M1444 478v1M1444 486v1M1444 499v1M1444 504v1M1444 519v1M1473 503v1M1473 532v2M1502 527v1M1502 531v1M1502 535v1M1555 535v1M1555 536v1"/>
<path stroke="#ff4c00" stroke-width="5" d="M1424.5 441v1M1448.5 413v1M1463.5 443v2M1487.5 443v2M1497.5 451v2M1511.5 462v3M1521.5 465v2M1540.5 457v1"/>
<path stroke="#00e8c3" stroke-width="4" d="M1444 398v1M1444 454v1M1444 467v2M1473 426v1M1473 489v1M1502 450v1M1502 489v3M1526 458v1M1526 477v1M1526 495v3M1555 474v1M1555 482v1M1555 500v3"/>
<path stroke="#83f40c" stroke-width="4" d="M1444 401v1M1444 457v1M1444 462v1M1444 465v1M1473 475v2M1502 461v1M1502 479v3M1526 461v2M1526 471v2M1526 479v3M1526 489v1M1526 491v1M1555 486v1M1555 495v1"/>
<path stroke="#ff4c00" stroke-width="4" d="M1444 403v2M1473 431v3M1502 458v1"/>
<path stroke="#ff2300" stroke-width="5" d="M1458.5 426v1M1492.5 447v2M1540.5 458v1M1550.5 462v1"/>
<path stroke="#fccc00" stroke-width="4" d="M1473 435v2M1526 463v2M1526 482v1M1526 485v1M1555 470v1"/>
<path stroke="#ff2300" stroke-width="4" d="M1555 467v2"/>
</g>
<path d="M1403.6 538.8H1556.9" stroke="#555" stroke-width="1.1" fill="none"/>
<path d="M1403.6 538.6H1431.5" stroke="#3c6ad0" stroke-width="1.5" fill="none"/>
<path d="M1432.5 538.6H1455.6" stroke="#48a860" stroke-width="1.5" fill="none"/>
<path d="M1456.6 538.6H1556.9" stroke="#c8281e" stroke-width="1.5" fill="none"/>
<path d="M1403.5 539.1V374.5H1557.5V539.1" fill="none" stroke="#6a6a6a" stroke-width="1.25"/>
<path d="M1405.5 538.5v4.2M1434.4 538.5v4.2M1482.7 538.5v4.2M1530.9 538.5v4.2M1555.0 538.5v4.2" stroke="#333" stroke-width="1.1" fill="none"/>
<path d="M1405.5 538.5v1.6M1410.3 538.5v1.6M1415.2 538.5v1.6M1420.0 538.5v1.6M1424.8 538.5v1.6M1429.6 538.5v1.6M1434.4 538.5v1.6M1439.3 538.5v1.6M1444.1 538.5v1.6M1448.9 538.5v1.6M1453.7 538.5v1.6M1458.6 538.5v1.6M1463.4 538.5v1.6M1468.2 538.5v1.6M1473.0 538.5v1.6M1477.8 538.5v1.6M1482.7 538.5v1.6M1487.5 538.5v1.6M1492.3 538.5v1.6M1497.1 538.5v1.6M1501.9 538.5v1.6M1506.8 538.5v1.6M1511.6 538.5v1.6M1516.4 538.5v1.6M1521.2 538.5v1.6M1526.1 538.5v1.6M1530.9 538.5v1.6M1535.7 538.5v1.6M1540.5 538.5v1.6M1545.3 538.5v1.6M1550.2 538.5v1.6M1555.0 538.5v1.6" stroke="#333" stroke-width="0.6" fill="none"/>
<text x="1403.4" y="551.4" font-size="8.6" fill="#1c1c1c" textLength="4.2" lengthAdjust="spacingAndGlyphs">4</text>
<text x="1430.2" y="551.4" font-size="8.6" fill="#1c1c1c" textLength="8.4" lengthAdjust="spacingAndGlyphs">10</text>
<text x="1478.5" y="551.4" font-size="8.6" fill="#1c1c1c" textLength="8.4" lengthAdjust="spacingAndGlyphs">20</text>
<text x="1526.7" y="551.4" font-size="8.6" fill="#1c1c1c" textLength="8.4" lengthAdjust="spacingAndGlyphs">30</text>
<text x="1550.8" y="551.4" font-size="8.6" fill="#1c1c1c" textLength="8.4" lengthAdjust="spacingAndGlyphs">35</text>
<rect x="1564.5" y="358.9" width="10.7" height="10.7" fill="#7c7c1c"/>
<path d="M1569.85 365.25L1574.35 364.25L1569.85 363.25ZM1569.36 364.74L1572.32 366.72L1570.34 363.76ZM1568.85 364.25L1569.85 368.75L1570.85 364.25ZM1569.36 363.76L1567.38 366.72L1570.34 364.74ZM1569.85 363.25L1565.35 364.25L1569.85 365.25ZM1570.34 363.76L1567.38 361.78L1569.36 364.74ZM1570.85 364.25L1569.85 359.75L1568.85 364.25ZM1570.34 364.74L1572.32 361.78L1569.36 363.76Z" fill="#fff"/>
<circle cx="1569.85" cy="364.25" r="2.0" fill="#fff"/>
<text x="1578.9" y="368.0" font-size="9.3" fill="#1c1c1c" textLength="25.2" lengthAdjust="spacingAndGlyphs">561nm</text>
<g fill="none">
<path stroke="#4657f8" stroke-width="4" d="M1567 382v1M1567 508v1M1567 511v1M1567 512v2M1567 515v1M1567 519v1M1596 496v1M1596 508v1M1596 510v1M1596 511v1M1596 516v1M1596 527v1M1625 522v1M1625 523v1M1654 524v1M1683 534v2"/>
<path stroke="#164afe" stroke-width="4" d="M1567 385v1M1567 433v1M1567 435v2M1567 443v2M1567 449v2M1567 453v6M1567 461v1M1567 487v3M1567 494v1M1567 504v2M1596 487v7M1596 502v1M1596 504v2M1625 491v8M1625 500v2M1625 503v1M1625 506v1M1625 511v1M1625 518v1M1654 500v3M1654 504v2M1654 508v4M1654 514v1M1683 508v6"/>
<path stroke="#0096ff" stroke-width="4" d="M1567 386v1M1567 406v15M1567 423v3M1567 427v3M1567 483v3M1596 438v1M1596 458v3M1596 462v1M1596 482v3M1625 437v1M1625 455v3M1625 463v2M1625 466v1M1625 489v1M1654 451v2M1654 492v2M1683 502v4"/>
<path stroke="#00e8c3" stroke-width="4" d="M1567 387v2M1567 403v2M1567 466v3M1567 477v2M1596 439v3M1596 473v1M1596 475v2M1625 470v3M1625 481v2M1654 487v2M1683 451v2M1683 496v2"/>
<path stroke="#00f096" stroke-width="4" d="M1567 389v1M1596 454v1M1625 453v1M1625 474v4M1625 479v2M1654 454v1M1654 486v1M1683 453v1M1683 478v4M1683 492v2M1683 498v1"/>
<path stroke="#42f120" stroke-width="4" d="M1567 390v1M1567 401v1M1596 442v1M1596 453v1M1625 451v2M1654 482v1M1654 485v1M1683 454v1M1683 485v1"/>
<path stroke="#83f40c" stroke-width="4" d="M1567 391v2M1625 441v2M1625 450v1"/>
<path stroke="#f0f100" stroke-width="4" d="M1567 393v2M1567 399v2M1596 450v3M1625 443v2M1625 449v1M1654 461v1M1654 473v1M1654 475v2M1683 465v1"/>
<path stroke="#fe9f00" stroke-width="4" d="M1567 395v2M1596 445v2M1625 445v2M1654 463v3M1654 467v3M1683 458v1"/>
<path stroke="#ff7500" stroke-width="4" d="M1567 397v1M1654 462v1M1683 459v2M1683 462v3"/>
<path stroke="#fccc00" stroke-width="4" d="M1567 398v1M1625 447v2M1683 457v1"/>
<path stroke="#19f051" stroke-width="4" d="M1567 402v1M1567 469v8M1625 439v2M1625 473v1M1625 478v1M1654 455v3M1654 483v2M1683 469v2M1683 482v3M1683 486v6M1683 494v2"/>
<path stroke="#00bbf8" stroke-width="4" d="M1567 405v1M1567 463v2M1596 457v1M1596 469v2M1625 469v1M1625 487v2M1654 453v1M1654 489v3M1683 450v1M1683 473v1M1683 475v2M1683 499v3"/>
<path stroke="#0c6aff" stroke-width="4" d="M1567 421v2M1567 426v1M1567 430v3M1567 434v1M1567 437v6M1567 445v2M1567 451v2M1567 459v2M1567 462v1M1567 486v1M1596 437v1M1596 461v1M1596 463v6M1596 485v2M1625 458v5M1625 465v1M1625 490v1M1654 450v1M1654 494v5M1654 503v1M1683 449v1M1683 506v2"/>
<path stroke="#a8b0f7" stroke-width="4" d="M1567 447v1M1567 498v1M1567 514v1M1567 526v1M1596 518v1M1596 522v1M1596 523v1M1596 528v1M1625 504v1M1625 507v1M1625 514v1M1625 524v1M1654 499v1M1654 506v1M1654 512v1M1654 523v1M1654 527v1M1654 535v1M1654 538v1M1683 447v1M1683 522v1M1683 530v1M1683 532v1"/>
<path stroke="#00e1f0" stroke-width="4" d="M1567 465v1M1567 479v4M1596 455v2M1596 471v2M1596 474v1M1596 477v5M1625 438v1M1625 454v1M1625 467v2M1625 483v4M1683 471v2M1683 474v1M1683 477v1"/>
<path stroke="#1b3bfc" stroke-width="4" d="M1567 490v4M1567 496v2M1567 499v5M1567 507v1M1567 520v3M1596 494v2M1596 498v1M1596 503v1M1596 506v2M1596 512v4M1596 519v3M1596 524v2M1625 435v2M1625 502v1M1625 508v3M1625 515v3M1625 519v3M1625 527v1M1654 449v1M1654 515v1M1654 518v1M1654 520v3M1654 526v1M1654 528v4M1683 514v1M1683 516v2M1683 519v3M1683 523v7M1683 531v1M1683 536v2"/>
<path stroke="#164afe" stroke-width="5" d="M1571.5 385v1M1571.5 449v1M1571.5 453v5M1571.5 459v3M1571.5 487v2M1571.5 500v2M1576.5 443v3M1576.5 450v3M1576.5 454v3M1576.5 458v5M1576.5 487v4M1576.5 496v2M1581.5 449v1M1581.5 451v2M1581.5 455v3M1581.5 487v2M1581.5 490v1M1581.5 495v1M1581.5 502v1M1586.5 403v2M1586.5 449v1M1586.5 455v2M1586.5 458v1M1586.5 462v1M1586.5 489v2M1586.5 492v2M1591.5 457v1M1591.5 459v2M1591.5 462v1M1591.5 489v2M1600.5 490v1M1600.5 494v4M1600.5 499v1M1600.5 503v1M1600.5 507v1M1605.5 491v3M1605.5 495v1M1605.5 502v1M1605.5 506v4M1610.5 426v1M1610.5 491v1M1610.5 495v3M1610.5 499v4M1610.5 504v2M1610.5 520v2M1615.5 429v1M1615.5 490v1M1615.5 492v2M1615.5 495v1M1615.5 499v3M1615.5 504v2M1615.5 508v4M1620.5 490v2M1620.5 495v3M1620.5 499v1M1620.5 511v1M1620.5 514v1M1629.5 439v2M1629.5 491v3M1629.5 495v7M1629.5 503v3M1629.5 507v4M1629.5 515v1M1629.5 520v2M1629.5 526v1M1634.5 443v2M1634.5 491v4M1634.5 496v4M1634.5 502v4M1634.5 507v1M1634.5 511v3M1634.5 520v3M1639.5 446v1M1639.5 494v1M1639.5 496v2M1639.5 499v5M1639.5 506v8M1639.5 515v4M1644.5 449v1M1644.5 491v1M1644.5 499v4M1644.5 504v2M1644.5 507v1M1644.5 510v4M1644.5 515v4M1644.5 524v2M1649.5 496v2M1649.5 500v3M1649.5 506v6M1649.5 516v2M1649.5 520v2M1649.5 523v1M1658.5 450v1M1658.5 499v1M1658.5 506v1M1658.5 510v8M1658.5 522v1M1658.5 531v1M1663.5 503v1M1663.5 506v6M1663.5 514v2M1663.5 518v6M1663.5 526v2M1668.5 443v2M1668.5 502v5M1668.5 508v2M1668.5 514v5M1673.5 504v3M1673.5 510v1M1673.5 516v2M1673.5 524v2M1673.5 528v2M1678.5 443v2M1678.5 507v3M1678.5 511v1M1678.5 514v1M1678.5 516v2M1678.5 526v1M1687.5 508v2M1687.5 511v1M1687.5 514v4M1687.5 519v1"/>
<path stroke="#00bbf8" stroke-width="5" d="M1571.5 386v1M1571.5 465v1M1571.5 482v1M1576.5 395v2M1576.5 413v1M1576.5 465v1M1576.5 482v1M1581.5 421v1M1581.5 483v2M1586.5 483v2M1591.5 431v2M1591.5 465v2M1591.5 482v4M1600.5 425v1M1600.5 469v1M1600.5 483v2M1605.5 441v1M1605.5 485v1M1610.5 445v1M1610.5 467v3M1610.5 485v1M1615.5 447v2M1620.5 433v1M1620.5 450v1M1620.5 467v2M1620.5 483v2M1620.5 486v1M1629.5 441v1M1629.5 459v2M1629.5 467v2M1634.5 463v2M1634.5 467v2M1634.5 487v2M1639.5 449v1M1639.5 486v1M1649.5 451v3M1649.5 489v1M1658.5 454v1M1658.5 491v1M1663.5 451v2M1663.5 492v2M1668.5 469v1M1668.5 471v3M1668.5 495v3M1673.5 465v1M1673.5 471v2M1678.5 466v1M1678.5 471v2M1678.5 498v1M1687.5 503v3"/>
<path stroke="#00e1f0" stroke-width="5" d="M1571.5 387v2M1571.5 466v1M1571.5 481v1M1576.5 466v3M1576.5 481v1M1576.5 483v2M1581.5 403v2M1581.5 419v2M1581.5 465v2M1581.5 481v2M1586.5 406v1M1586.5 421v1M1586.5 466v1M1586.5 481v2M1591.5 415v2M1591.5 430v1M1600.5 470v1M1600.5 482v1M1605.5 425v1M1605.5 439v2M1605.5 469v1M1605.5 483v2M1610.5 443v2M1610.5 482v3M1615.5 431v2M1615.5 469v2M1615.5 482v4M1620.5 434v1M1620.5 469v2M1620.5 485v1M1629.5 442v1M1629.5 469v1M1629.5 482v5M1634.5 462v1M1634.5 469v1M1634.5 483v3M1639.5 450v1M1639.5 469v1M1639.5 483v3M1644.5 451v2M1644.5 487v2M1649.5 486v3M1658.5 490v1M1663.5 490v2M1668.5 447v2M1668.5 467v2M1668.5 470v1M1668.5 474v1M1668.5 494v1M1673.5 445v1M1673.5 463v2M1673.5 473v1M1673.5 495v1M1673.5 498v1M1678.5 446v1M1678.5 473v1M1678.5 499v3M1687.5 453v1M1687.5 475v2"/>
<path stroke="#00f096" stroke-width="5" d="M1571.5 389v1M1571.5 467v3M1571.5 473v2M1571.5 477v2M1576.5 398v1M1576.5 411v2M1576.5 469v1M1576.5 474v5M1581.5 405v1M1581.5 418v1M1581.5 473v1M1581.5 475v2M1586.5 407v2M1586.5 469v4M1586.5 474v1M1591.5 469v5M1591.5 475v2M1591.5 478v3M1600.5 426v1M1600.5 439v2M1600.5 473v4M1600.5 478v1M1600.5 481v1M1605.5 426v1M1605.5 438v1M1605.5 481v1M1610.5 430v1M1610.5 471v3M1610.5 478v1M1615.5 473v4M1615.5 479v3M1620.5 473v1M1620.5 475v7M1629.5 443v2M1629.5 473v2M1629.5 477v2M1629.5 481v1M1634.5 447v2M1634.5 473v1M1634.5 477v1M1634.5 479v4M1639.5 470v3M1639.5 479v2M1644.5 453v1M1644.5 470v1M1649.5 454v1M1649.5 483v2M1658.5 457v1M1658.5 486v1M1658.5 489v1M1668.5 466v1M1668.5 481v1M1668.5 486v1M1673.5 462v1M1673.5 477v4M1673.5 482v1M1673.5 491v3M1678.5 447v2M1678.5 463v3M1678.5 478v1M1678.5 492v3M1687.5 455v3M1687.5 495v3M1687.5 499v1"/>
<path stroke="#83f40c" stroke-width="5" d="M1571.5 390v1M1571.5 401v1M1576.5 401v1M1581.5 407v2M1581.5 415v2M1586.5 417v2M1610.5 431v2M1615.5 434v1M1615.5 443v2M1629.5 446v1M1629.5 455v2M1639.5 453v2M1639.5 462v3M1644.5 455v3M1644.5 467v3M1644.5 473v1M1649.5 469v2M1649.5 474v1M1649.5 477v1M1658.5 471v3M1658.5 478v1M1658.5 483v2M1663.5 457v1M1663.5 470v3M1663.5 483v2M1668.5 451v3M1673.5 449v1M1673.5 458v3M1678.5 450v1M1678.5 461v1M1687.5 458v1M1687.5 489v1"/>
<path stroke="#bef400" stroke-width="5" d="M1571.5 391v2M1571.5 399v2M1576.5 409v1M1591.5 419v2M1591.5 426v1M1600.5 429v2M1615.5 442v1M1620.5 438v1M1620.5 446v1M1634.5 450v1M1634.5 458v1M1644.5 465v1M1649.5 475v2M1649.5 478v1M1658.5 461v2M1658.5 474v3M1658.5 479v4M1663.5 458v1M1663.5 477v2M1663.5 481v2M1668.5 463v2M1673.5 450v1M1678.5 459v2M1687.5 459v3M1687.5 470v3"/>
<path stroke="#fccc00" stroke-width="5" d="M1571.5 393v1M1576.5 403v2M1586.5 411v3M1586.5 415v2M1591.5 421v1M1591.5 423v3M1605.5 431v2M1610.5 433v1M1615.5 441v1M1629.5 447v2M1639.5 458v1M1639.5 461v1M1644.5 458v1M1644.5 463v2M1649.5 462v1M1649.5 467v2M1658.5 469v1M1658.5 477v1M1663.5 469v1M1668.5 454v1M1673.5 457v1M1678.5 453v1M1687.5 466v1"/>
<path stroke="#fe9f00" stroke-width="5" d="M1571.5 394v1M1576.5 402v1M1576.5 406v1M1581.5 410v3M1600.5 431v2M1600.5 434v3M1605.5 433v1M1610.5 434v1M1615.5 437v1M1615.5 439v2M1620.5 443v2M1629.5 449v2M1634.5 451v2M1634.5 455v3M1639.5 455v2M1639.5 459v2M1644.5 461v1M1649.5 461v1M1658.5 463v6M1658.5 470v1M1663.5 461v2M1663.5 466v1M1668.5 459v3M1673.5 451v2M1678.5 455v2M1687.5 465v1M1687.5 467v3"/>
<path stroke="#ff4c00" stroke-width="5" d="M1571.5 395v2M1586.5 414v1M1591.5 422v1M1615.5 438v1M1629.5 451v2M1668.5 458v1M1678.5 454v1M1678.5 457v1"/>
<path stroke="#ff2300" stroke-width="5" d="M1571.5 397v1"/>
<path stroke="#ff7500" stroke-width="5" d="M1571.5 398v1M1581.5 413v1M1600.5 433v1M1610.5 435v3M1620.5 441v2M1629.5 453v1M1634.5 453v2M1639.5 457v1M1644.5 462v1M1649.5 463v4M1663.5 463v3M1668.5 457v1M1673.5 453v4M1687.5 463v2"/>
<path stroke="#19f051" stroke-width="5" d="M1571.5 402v1M1571.5 470v3M1571.5 475v2M1576.5 399v2M1576.5 410v1M1576.5 470v3M1581.5 470v1M1581.5 474v1M1581.5 477v2M1586.5 419v2M1586.5 473v1M1586.5 475v2M1586.5 478v1M1591.5 417v2M1591.5 429v1M1591.5 474v1M1591.5 477v1M1600.5 427v2M1600.5 477v1M1605.5 475v4M1610.5 442v1M1610.5 474v4M1615.5 433v1M1615.5 445v1M1615.5 477v1M1620.5 435v2M1629.5 457v1M1629.5 475v2M1629.5 479v2M1634.5 461v1M1634.5 474v3M1634.5 478v1M1639.5 451v2M1639.5 466v1M1639.5 473v1M1639.5 477v2M1644.5 454v1M1644.5 475v3M1644.5 481v2M1649.5 455v2M1649.5 481v1M1658.5 485v1M1658.5 487v2M1663.5 455v2M1663.5 486v1M1668.5 450v1M1668.5 465v1M1668.5 478v3M1668.5 482v4M1668.5 487v3M1673.5 446v1M1673.5 481v1M1673.5 483v4M1673.5 489v2M1678.5 449v1M1678.5 479v4M1678.5 485v4M1678.5 490v2M1687.5 474v1M1687.5 481v2M1687.5 485v1M1687.5 487v2M1687.5 490v2M1687.5 494v1"/>
<path stroke="#00e8c3" stroke-width="5" d="M1571.5 403v2M1571.5 479v2M1576.5 397v1M1576.5 479v2M1581.5 467v3M1581.5 479v2M1586.5 467v2M1586.5 477v1M1586.5 479v2M1591.5 467v2M1591.5 481v1M1600.5 441v1M1600.5 471v2M1600.5 479v2M1605.5 470v5M1605.5 479v2M1605.5 482v1M1610.5 429v1M1610.5 470v1M1610.5 479v3M1615.5 446v1M1615.5 471v2M1615.5 478v1M1620.5 449v1M1620.5 471v2M1620.5 474v1M1620.5 482v1M1629.5 458v1M1629.5 470v3M1634.5 446v1M1634.5 470v3M1639.5 467v2M1639.5 481v2M1644.5 483v4M1649.5 485v1M1658.5 455v2M1663.5 453v2M1663.5 489v1M1668.5 449v1M1668.5 475v3M1668.5 490v4M1673.5 474v3M1673.5 494v1M1673.5 496v2M1678.5 474v4M1678.5 495v3M1687.5 454v1M1687.5 477v4M1687.5 498v1M1687.5 500v3"/>
<path stroke="#0096ff" stroke-width="5" d="M1571.5 405v1M1571.5 407v3M1571.5 411v8M1571.5 425v1M1571.5 431v2M1571.5 463v2M1571.5 483v3M1576.5 414v9M1576.5 426v3M1576.5 431v2M1576.5 485v1M1581.5 422v1M1581.5 425v2M1581.5 429v4M1581.5 439v2M1581.5 463v2M1581.5 485v1M1586.5 405v1M1586.5 422v7M1586.5 441v1M1586.5 463v3M1586.5 485v2M1591.5 414v1M1591.5 433v2M1591.5 437v4M1591.5 453v1M1591.5 486v1M1600.5 442v5M1600.5 451v4M1600.5 458v1M1600.5 466v3M1600.5 485v4M1605.5 442v5M1605.5 449v2M1605.5 454v1M1605.5 457v1M1605.5 459v3M1605.5 467v2M1605.5 487v2M1610.5 427v2M1610.5 446v1M1610.5 450v3M1610.5 455v3M1610.5 463v2M1610.5 486v3M1615.5 430v1M1615.5 449v4M1615.5 454v1M1615.5 457v2M1615.5 466v3M1615.5 486v4M1620.5 451v6M1620.5 459v2M1620.5 463v3M1620.5 487v2M1629.5 461v6M1629.5 487v3M1634.5 466v1M1634.5 486v1M1634.5 489v1M1639.5 487v2M1644.5 489v2M1649.5 491v1M1658.5 453v1M1663.5 494v2M1668.5 446v1M1668.5 498v2M1673.5 443v2M1673.5 466v3M1673.5 470v1M1673.5 499v4M1678.5 445v1M1678.5 467v4M1678.5 502v1M1687.5 451v2M1687.5 506v2"/>
<path stroke="#0c6aff" stroke-width="5" d="M1571.5 406v1M1571.5 410v1M1571.5 419v6M1571.5 426v5M1571.5 433v10M1571.5 445v2M1571.5 451v2M1571.5 458v1M1571.5 462v1M1571.5 486v1M1576.5 394v1M1576.5 423v2M1576.5 429v2M1576.5 433v8M1576.5 442v1M1576.5 446v4M1576.5 453v1M1576.5 457v1M1576.5 463v2M1576.5 486v1M1581.5 402v1M1581.5 423v2M1581.5 427v2M1581.5 433v6M1581.5 441v8M1581.5 450v1M1581.5 453v2M1581.5 459v4M1581.5 486v1M1586.5 429v12M1586.5 442v7M1586.5 450v5M1586.5 457v1M1586.5 459v3M1586.5 487v2M1591.5 435v2M1591.5 441v12M1591.5 454v3M1591.5 458v1M1591.5 461v1M1591.5 463v2M1591.5 487v2M1600.5 423v2M1600.5 447v4M1600.5 455v3M1600.5 459v7M1600.5 489v1M1605.5 423v2M1605.5 447v2M1605.5 453v1M1605.5 455v2M1605.5 458v1M1605.5 462v5M1605.5 486v1M1605.5 489v2M1610.5 447v3M1610.5 453v2M1610.5 458v5M1610.5 465v2M1610.5 489v2M1615.5 453v1M1615.5 455v2M1615.5 459v7M1620.5 457v2M1620.5 461v2M1620.5 466v1M1620.5 489v1M1629.5 490v1M1629.5 494v1M1634.5 445v1M1634.5 465v1M1634.5 490v1M1634.5 495v1M1639.5 447v2M1639.5 489v5M1639.5 498v1M1639.5 504v2M1644.5 450v1M1644.5 492v7M1644.5 503v1M1649.5 450v1M1649.5 490v1M1649.5 492v4M1649.5 498v2M1649.5 503v1M1658.5 451v2M1658.5 492v7M1658.5 500v4M1658.5 507v1M1663.5 450v1M1663.5 496v7M1663.5 504v2M1668.5 445v1M1668.5 500v2M1673.5 442v1M1673.5 469v1M1673.5 503v1M1678.5 503v4M1687.5 450v1M1687.5 510v1"/>
<path stroke="#a8b0f7" stroke-width="5" d="M1571.5 443v1M1571.5 447v1M1571.5 504v1M1571.5 531v1M1576.5 425v1M1576.5 441v1M1576.5 494v1M1576.5 495v1M1576.5 514v1M1581.5 458v1M1581.5 496v1M1581.5 504v1M1581.5 514v1M1581.5 523v1M1581.5 527v1M1581.5 530v1M1586.5 399v1M1586.5 495v1M1586.5 503v1M1586.5 506v1M1586.5 511v1M1586.5 522v1M1586.5 524v1M1591.5 411v1M1591.5 491v1M1591.5 494v1M1591.5 495v1M1591.5 499v1M1591.5 506v1M1591.5 511v1M1591.5 515v1M1591.5 519v1M1591.5 526v1M1600.5 421v1M1600.5 506v1M1600.5 520v1M1605.5 494v1M1605.5 522v1M1605.5 524v1M1605.5 527v1M1610.5 508v1M1610.5 526v1M1610.5 527v1M1610.5 538v1M1615.5 427v1M1615.5 518v1M1615.5 536v1M1620.5 430v1M1620.5 506v1M1620.5 526v1M1620.5 527v1M1620.5 535v1M1629.5 438v1M1629.5 519v1M1629.5 524v1M1634.5 441v1M1634.5 506v1M1634.5 510v1M1634.5 523v1M1634.5 530v1M1639.5 495v1M1639.5 514v1M1639.5 524v1M1639.5 531v1M1639.5 535v1M1644.5 514v1M1644.5 530v1M1649.5 446v1M1649.5 504v1M1649.5 514v1M1649.5 535v1M1649.5 538v1M1658.5 504v1M1658.5 508v1M1658.5 527v1M1658.5 530v1M1658.5 532v1M1658.5 536v1M1663.5 512v1M1663.5 524v1M1663.5 531v1M1668.5 507v1M1668.5 528v1M1668.5 538v1M1673.5 441v1M1673.5 507v1M1673.5 511v1M1673.5 538v1M1678.5 519v1M1678.5 524v1M1678.5 528v1M1678.5 531v1M1687.5 446v1M1687.5 534v1M1687.5 536v1"/>
<path stroke="#4657f8" stroke-width="5" d="M1571.5 450v1M1571.5 490v1M1571.5 506v1M1571.5 507v1M1571.5 514v1M1571.5 519v1M1571.5 520v1M1576.5 507v1M1576.5 510v1M1576.5 516v1M1576.5 519v1M1576.5 532v1M1581.5 401v1M1581.5 520v1M1586.5 498v1M1586.5 512v1M1586.5 518v1M1586.5 526v1M1586.5 535v1M1591.5 498v1M1591.5 510v1M1591.5 512v1M1591.5 516v1M1600.5 500v1M1600.5 511v1M1600.5 519v1M1600.5 524v1M1605.5 422v1M1605.5 451v1M1605.5 520v2M1605.5 530v1M1605.5 534v1M1610.5 524v2M1610.5 530v1M1615.5 516v2M1615.5 528v1M1620.5 507v1M1620.5 515v1M1620.5 524v2M1620.5 531v1M1629.5 516v1M1629.5 536v1M1634.5 500v1M1634.5 515v1M1634.5 535v1M1639.5 443v1M1639.5 532v3M1639.5 538v1M1644.5 506v1M1644.5 536v2M1658.5 447v1M1658.5 523v1M1658.5 528v1M1658.5 534v2M1663.5 446v1M1663.5 447v1M1663.5 528v1M1663.5 535v1M1668.5 512v1M1668.5 524v1M1668.5 534v1M1668.5 535v1M1668.5 536v1M1673.5 514v1M1673.5 522v1M1673.5 531v1M1673.5 534v1M1673.5 536v2M1678.5 532v1M1678.5 534v1M1678.5 538v1M1687.5 524v1"/>
<path stroke="#1b3bfc" stroke-width="5" d="M1571.5 489v1M1571.5 495v5M1571.5 502v2M1571.5 510v4M1571.5 523v1M1576.5 491v3M1576.5 498v1M1576.5 500v7M1576.5 508v2M1576.5 511v1M1576.5 518v1M1576.5 520v3M1581.5 489v1M1581.5 491v4M1581.5 498v4M1581.5 503v1M1581.5 506v4M1581.5 511v3M1586.5 491v1M1586.5 496v2M1586.5 499v4M1586.5 504v2M1586.5 507v3M1586.5 515v3M1591.5 413v1M1591.5 492v2M1591.5 496v2M1591.5 500v3M1591.5 504v2M1591.5 508v2M1591.5 514v1M1591.5 518v1M1591.5 522v1M1591.5 534v1M1600.5 491v3M1600.5 502v1M1600.5 504v2M1600.5 508v3M1600.5 512v7M1600.5 522v2M1600.5 526v2M1600.5 534v1M1605.5 496v6M1605.5 503v3M1605.5 510v4M1605.5 515v5M1605.5 523v1M1605.5 526v1M1610.5 492v3M1610.5 498v1M1610.5 503v1M1610.5 507v1M1610.5 512v8M1610.5 522v2M1610.5 528v2M1610.5 534v1M1615.5 491v1M1615.5 494v1M1615.5 496v3M1615.5 502v2M1615.5 506v2M1615.5 512v4M1615.5 519v9M1620.5 431v2M1620.5 492v2M1620.5 498v1M1620.5 500v2M1620.5 504v2M1620.5 508v3M1620.5 512v2M1620.5 516v7M1620.5 530v1M1629.5 506v1M1629.5 511v4M1629.5 518v1M1629.5 522v2M1629.5 527v9M1634.5 514v1M1634.5 516v4M1634.5 526v4M1634.5 532v2M1634.5 536v2M1639.5 519v5M1639.5 526v5M1639.5 536v2M1644.5 520v2M1644.5 523v1M1644.5 526v4M1644.5 531v3M1644.5 535v1M1649.5 449v1M1649.5 512v2M1649.5 522v1M1649.5 527v3M1649.5 531v3M1649.5 536v2M1658.5 518v1M1658.5 520v2M1658.5 524v3M1663.5 449v1M1663.5 516v2M1663.5 532v2M1663.5 536v3M1668.5 510v2M1668.5 519v1M1668.5 522v2M1668.5 526v2M1668.5 530v4M1673.5 508v2M1673.5 515v1M1673.5 518v4M1673.5 523v1M1673.5 526v2M1673.5 530v1M1673.5 532v2M1678.5 510v1M1678.5 512v2M1678.5 518v1M1678.5 520v4M1678.5 527v1M1678.5 530v1M1678.5 535v1M1687.5 449v1M1687.5 512v2M1687.5 518v1M1687.5 520v4M1687.5 526v1M1687.5 528v3M1687.5 532v2M1687.5 535v1"/>
<path stroke="#f0f100" stroke-width="5" d="M1576.5 405v1M1576.5 407v2M1581.5 409v1M1581.5 414v1M1586.5 410v1M1600.5 437v1M1605.5 429v2M1605.5 434v3M1610.5 438v3M1615.5 435v2M1620.5 439v2M1620.5 445v1M1629.5 454v1M1644.5 459v2M1644.5 466v1M1649.5 458v3M1663.5 459v2M1663.5 467v2M1663.5 479v2M1668.5 455v2M1668.5 462v1M1678.5 451v2M1678.5 458v1M1687.5 462v1"/>
<path stroke="#42f120" stroke-width="5" d="M1576.5 473v1M1581.5 406v1M1581.5 417v1M1581.5 471v2M1586.5 409v1M1591.5 427v2M1600.5 438v1M1605.5 427v2M1605.5 437v1M1610.5 441v1M1620.5 437v1M1620.5 447v2M1629.5 445v1M1634.5 449v1M1634.5 459v2M1639.5 465v1M1639.5 474v3M1644.5 471v2M1644.5 474v1M1644.5 478v3M1649.5 457v1M1649.5 471v3M1649.5 479v2M1649.5 482v1M1658.5 458v3M1663.5 473v4M1663.5 485v1M1663.5 487v2M1673.5 447v2M1673.5 461v1M1673.5 487v2M1678.5 462v1M1678.5 483v2M1678.5 489v1M1687.5 473v1M1687.5 483v2M1687.5 486v1M1687.5 492v2"/>
<path stroke="#bef400" stroke-width="4" d="M1596 443v2M1654 458v3M1654 470v3M1654 474v1M1654 477v5M1683 455v2M1683 466v3"/>
<path stroke="#ff4c00" stroke-width="4" d="M1596 447v3"/>
<path stroke="#ff2300" stroke-width="4" d="M1654 466v1M1683 461v1"/>
</g>
<path d="M1565.1 538.8H1689.7" stroke="#555" stroke-width="1.1" fill="none"/>
<path d="M1565.1 538.6H1689.7" stroke="#c8281e" stroke-width="1.5" fill="none"/>
<path d="M1564.5 539.1V374.5H1690.5V539.1" fill="none" stroke="#6a6a6a" stroke-width="1.25"/>
<path d="M1567.0 538.5v4.2M1615.3 538.5v4.2M1663.6 538.5v4.2M1687.8 538.5v4.2" stroke="#333" stroke-width="1.1" fill="none"/>
<path d="M1567.0 538.5v1.6M1571.8 538.5v1.6M1576.7 538.5v1.6M1581.5 538.5v1.6M1586.3 538.5v1.6M1591.2 538.5v1.6M1596.0 538.5v1.6M1600.8 538.5v1.6M1605.7 538.5v1.6M1610.5 538.5v1.6M1615.3 538.5v1.6M1620.2 538.5v1.6M1625.0 538.5v1.6M1629.8 538.5v1.6M1634.6 538.5v1.6M1639.5 538.5v1.6M1644.3 538.5v1.6M1649.1 538.5v1.6M1654.0 538.5v1.6M1658.8 538.5v1.6M1663.6 538.5v1.6M1668.5 538.5v1.6M1673.3 538.5v1.6M1678.1 538.5v1.6M1683.0 538.5v1.6M1687.8 538.5v1.6" stroke="#333" stroke-width="0.6" fill="none"/>
<text x="1562.8" y="551.4" font-size="8.6" fill="#1c1c1c" textLength="8.4" lengthAdjust="spacingAndGlyphs">10</text>
<text x="1611.1" y="551.4" font-size="8.6" fill="#1c1c1c" textLength="8.4" lengthAdjust="spacingAndGlyphs">20</text>
<text x="1659.4" y="551.4" font-size="8.6" fill="#1c1c1c" textLength="8.4" lengthAdjust="spacingAndGlyphs">30</text>
<text x="1683.6" y="551.4" font-size="8.6" fill="#1c1c1c" textLength="8.4" lengthAdjust="spacingAndGlyphs">35</text>
<rect x="1697.3" y="358.9" width="10.7" height="10.7" fill="#c83a52"/>
<path d="M1702.65 365.25L1707.15 364.25L1702.65 363.25ZM1702.16 364.74L1705.12 366.72L1703.14 363.76ZM1701.65 364.25L1702.65 368.75L1703.65 364.25ZM1702.16 363.76L1700.18 366.72L1703.14 364.74ZM1702.65 363.25L1698.15 364.25L1702.65 365.25ZM1703.14 363.76L1700.18 361.78L1702.16 364.74ZM1703.65 364.25L1702.65 359.75L1701.65 364.25ZM1703.14 364.74L1705.12 361.78L1702.16 363.76Z" fill="#fff"/>
<circle cx="1702.65" cy="364.25" r="2.0" fill="#fff"/>
<text x="1711.7" y="368.0" font-size="9.3" fill="#1c1c1c" textLength="25.2" lengthAdjust="spacingAndGlyphs">637nm</text>
<g fill="none">
<path stroke="#1b3bfc" stroke-width="5" d="M1699.5 459v3M1699.5 523v3M1699.5 528v6M1704.5 523v1M1704.5 527v1M1704.5 531v1M1709.5 469v1M1709.5 524v2M1709.5 527v7M1714.5 467v4M1714.5 527v5M1714.5 536v2M1719.5 469v1M1719.5 523v1M1719.5 526v1M1719.5 530v1M1728.5 469v1M1728.5 471v2M1728.5 522v2M1728.5 526v1M1728.5 528v6M1733.5 527v1M1733.5 530v2M1738.5 469v2M1738.5 526v6M1743.5 469v1M1743.5 471v2M1743.5 526v1M1743.5 528v2M1743.5 531v1M1748.5 470v1M1748.5 523v1M1748.5 527v1M1748.5 531v1M1748.5 534v1M1757.5 466v3M1757.5 526v1M1757.5 528v2M1757.5 532v2M1762.5 463v2M1762.5 522v1M1762.5 526v1M1762.5 528v3M1762.5 532v2M1767.5 458v1M1767.5 524v3M1767.5 534v1M1772.5 453v1M1772.5 524v3M1772.5 528v3M1772.5 532v3M1777.5 455v2M1777.5 520v2M1777.5 523v3M1777.5 527v5M1786.5 459v3M1786.5 524v4M1786.5 532v2M1786.5 535v1"/>
<path stroke="#164afe" stroke-width="5" d="M1699.5 462v3M1699.5 518v5M1699.5 526v1M1704.5 466v4M1704.5 519v1M1704.5 524v3M1709.5 467v2M1709.5 470v1M1709.5 515v1M1709.5 518v1M1709.5 520v4M1714.5 471v2M1714.5 519v1M1714.5 522v4M1719.5 470v1M1719.5 515v1M1719.5 524v2M1719.5 527v1M1728.5 470v1M1728.5 515v1M1728.5 520v2M1733.5 470v3M1733.5 516v4M1733.5 523v3M1733.5 528v2M1738.5 471v2M1738.5 516v3M1738.5 523v3M1743.5 470v1M1743.5 520v4M1743.5 527v1M1748.5 471v2M1748.5 519v4M1748.5 524v2M1757.5 469v2M1757.5 519v4M1757.5 524v2M1762.5 465v1M1762.5 514v1M1762.5 516v2M1762.5 519v3M1762.5 523v3M1762.5 531v1M1767.5 459v3M1767.5 510v8M1767.5 520v2M1767.5 523v1M1767.5 531v1M1772.5 454v3M1772.5 512v2M1772.5 518v5M1777.5 457v2M1777.5 508v2M1777.5 512v2M1777.5 515v5M1777.5 522v1M1786.5 462v1M1786.5 510v1M1786.5 512v3M1786.5 516v2M1786.5 530v1"/>
<path stroke="#0c6aff" stroke-width="5" d="M1699.5 465v4M1699.5 510v1M1699.5 512v3M1699.5 516v2M1704.5 470v1M1704.5 514v5M1704.5 520v2M1709.5 471v3M1709.5 514v1M1709.5 516v2M1709.5 519v1M1714.5 508v3M1714.5 512v6M1719.5 471v3M1719.5 512v3M1719.5 516v4M1728.5 473v1M1728.5 510v2M1728.5 514v1M1728.5 516v4M1733.5 473v1M1733.5 512v2M1733.5 515v1M1733.5 520v2M1738.5 473v2M1738.5 512v3M1738.5 519v4M1743.5 473v1M1743.5 511v9M1748.5 473v4M1748.5 514v4M1757.5 471v2M1757.5 514v1M1757.5 516v3M1762.5 466v3M1762.5 507v3M1762.5 511v1M1762.5 515v1M1762.5 518v1M1767.5 502v1M1767.5 504v2M1767.5 507v3M1772.5 504v2M1772.5 507v1M1772.5 510v2M1777.5 459v2M1777.5 498v1M1777.5 500v4M1777.5 506v1M1777.5 510v2M1777.5 514v1M1786.5 463v2M1786.5 500v2M1786.5 506v1M1786.5 508v2M1786.5 511v1M1786.5 515v1"/>
<path stroke="#00bbf8" stroke-width="5" d="M1699.5 469v2M1699.5 503v3M1699.5 507v1M1704.5 506v1M1709.5 474v1M1709.5 506v1M1714.5 474v1M1714.5 506v2M1719.5 474v3M1719.5 506v1M1719.5 508v2M1728.5 506v2M1733.5 475v2M1733.5 506v1M1738.5 475v3M1738.5 506v2M1743.5 507v3M1748.5 477v1M1748.5 508v2M1757.5 475v2M1762.5 469v1M1762.5 502v1M1767.5 495v4M1772.5 458v1M1772.5 498v1M1777.5 496v2M1786.5 498v1"/>
<path stroke="#00e1f0" stroke-width="5" d="M1699.5 471v2M1699.5 502v1M1704.5 473v1M1704.5 504v2M1714.5 504v2M1719.5 504v2M1719.5 507v1M1728.5 477v2M1728.5 503v3M1733.5 477v1M1733.5 503v3M1738.5 504v2M1743.5 477v1M1743.5 506v1M1748.5 478v3M1748.5 506v2M1757.5 506v2M1762.5 470v1M1767.5 463v2M1767.5 492v3M1772.5 491v1M1772.5 494v2M1777.5 461v1M1777.5 494v2M1786.5 467v2M1786.5 494v1M1786.5 496v2"/>
<path stroke="#00e8c3" stroke-width="5" d="M1699.5 473v1M1699.5 500v2M1704.5 474v1M1704.5 503v1M1709.5 475v3M1709.5 502v4M1714.5 475v2M1714.5 503v1M1719.5 477v1M1719.5 503v1M1728.5 500v3M1738.5 503v1M1743.5 478v3M1748.5 504v2M1757.5 477v1M1757.5 503v1M1762.5 495v5M1767.5 465v1M1767.5 491v1M1772.5 459v2M1772.5 492v2M1777.5 462v1M1777.5 491v3M1786.5 495v1"/>
<path stroke="#00f096" stroke-width="5" d="M1699.5 474v1M1699.5 496v4M1704.5 475v3M1704.5 499v4M1709.5 500v2M1714.5 477v2M1714.5 499v4M1719.5 478v1M1719.5 502v1M1733.5 478v1M1733.5 500v3M1738.5 478v1M1738.5 481v1M1738.5 502v1M1743.5 504v2M1748.5 481v2M1748.5 502v1M1757.5 478v1M1757.5 504v2M1762.5 494v1M1767.5 487v2M1767.5 490v1M1772.5 487v4M1777.5 463v2M1777.5 487v4M1786.5 469v1M1786.5 491v3"/>
<path stroke="#19f051" stroke-width="5" d="M1699.5 475v2M1704.5 498v1M1709.5 478v1M1709.5 496v4M1714.5 479v2M1714.5 498v1M1719.5 498v4M1728.5 479v3M1728.5 498v2M1733.5 479v3M1733.5 499v1M1738.5 479v2M1738.5 498v4M1743.5 481v1M1743.5 502v2M1748.5 500v2M1748.5 503v1M1757.5 479v2M1757.5 502v1M1762.5 471v2M1762.5 492v2M1767.5 486v1M1767.5 489v1M1772.5 461v1M1772.5 483v2M1777.5 465v1M1786.5 489v2"/>
<path stroke="#83f40c" stroke-width="5" d="M1699.5 477v2M1699.5 491v1M1704.5 492v2M1709.5 495v1M1714.5 481v1M1714.5 490v1M1714.5 494v1M1719.5 481v1M1719.5 492v2M1728.5 482v3M1728.5 496v2M1733.5 498v1M1738.5 482v3M1738.5 495v1M1743.5 496v2M1748.5 485v1M1748.5 496v2M1757.5 482v3M1757.5 496v3M1762.5 474v1M1762.5 489v2M1767.5 485v1M1772.5 481v1M1777.5 483v2M1786.5 471v2M1786.5 486v3"/>
<path stroke="#bef400" stroke-width="5" d="M1699.5 479v3M1699.5 486v1M1704.5 494v1M1709.5 490v1M1709.5 492v3M1719.5 494v2M1728.5 492v4M1733.5 482v1M1733.5 492v6M1738.5 492v2M1738.5 496v2M1743.5 483v2M1748.5 494v1M1762.5 487v2M1767.5 467v2M1767.5 481v2M1772.5 479v2M1777.5 466v1M1777.5 479v2M1777.5 482v1M1786.5 485v1"/>
<path stroke="#fe9f00" stroke-width="5" d="M1699.5 482v1M1699.5 485v1M1709.5 486v1M1709.5 489v1M1714.5 486v1M1714.5 489v1M1719.5 485v2M1728.5 486v1M1728.5 490v1M1733.5 489v1M1738.5 487v2M1738.5 490v1M1743.5 490v1M1748.5 487v2M1748.5 492v2M1757.5 490v1M1757.5 492v3M1762.5 481v1M1767.5 470v1M1767.5 474v1M1772.5 473v2M1777.5 469v1M1777.5 471v2M1786.5 474v1M1786.5 481v1"/>
<path stroke="#ff7500" stroke-width="5" d="M1699.5 483v2M1704.5 482v5M1709.5 483v2M1728.5 487v2M1733.5 485v1M1738.5 489v1M1738.5 491v1M1743.5 489v1M1743.5 492v3M1748.5 490v1M1762.5 478v1M1762.5 482v1M1767.5 473v1M1772.5 469v2"/>
<path stroke="#f0f100" stroke-width="5" d="M1699.5 487v4M1704.5 479v2M1704.5 489v1M1704.5 491v1M1709.5 491v1M1714.5 482v3M1714.5 487v2M1714.5 492v2M1719.5 482v1M1728.5 485v1M1733.5 483v2M1738.5 485v1M1738.5 494v1M1743.5 495v1M1748.5 486v1M1748.5 489v1M1757.5 485v1M1757.5 495v1M1762.5 485v1M1767.5 469v1M1767.5 477v1M1772.5 463v2M1772.5 475v2M1772.5 478v1M1777.5 477v2M1777.5 481v1M1786.5 473v1"/>
<path stroke="#42f120" stroke-width="5" d="M1699.5 492v4M1704.5 478v1M1704.5 495v3M1709.5 479v3M1714.5 495v3M1719.5 479v2M1719.5 496v2M1743.5 482v1M1743.5 498v4M1748.5 483v2M1748.5 498v2M1757.5 481v1M1757.5 499v3M1762.5 473v1M1762.5 491v1M1767.5 466v1M1767.5 483v2M1772.5 462v1M1772.5 482v1M1772.5 485v2M1777.5 485v2M1786.5 470v1"/>
<path stroke="#0096ff" stroke-width="5" d="M1699.5 506v1M1699.5 508v2M1699.5 511v1M1704.5 471v2M1704.5 507v7M1709.5 507v4M1709.5 512v2M1714.5 473v1M1714.5 511v1M1719.5 510v2M1728.5 474v3M1728.5 508v2M1728.5 512v2M1733.5 474v1M1733.5 507v5M1733.5 514v1M1738.5 508v4M1738.5 515v1M1743.5 474v3M1743.5 510v1M1748.5 510v4M1757.5 473v2M1757.5 508v6M1757.5 515v1M1762.5 500v2M1762.5 503v4M1762.5 510v1M1767.5 462v1M1767.5 499v3M1767.5 503v1M1767.5 506v1M1772.5 457v1M1772.5 496v2M1772.5 499v5M1772.5 506v1M1777.5 499v1M1777.5 504v2M1786.5 465v2M1786.5 499v1M1786.5 502v4M1786.5 507v1"/>
<path stroke="#4657f8" stroke-width="5" d="M1699.5 515v1M1699.5 534v1M1699.5 535v1M1704.5 536v1M1709.5 534v1M1709.5 535v1M1714.5 532v1M1719.5 522v1M1719.5 528v1M1719.5 536v1M1728.5 463v1M1728.5 534v1M1733.5 469v1M1733.5 532v1M1738.5 532v1M1738.5 538v1M1748.5 469v1M1748.5 530v1M1748.5 535v1M1748.5 536v1M1757.5 465v1M1757.5 530v1M1757.5 531v1M1762.5 534v1M1762.5 538v1M1772.5 523v1M1772.5 531v1M1777.5 532v1M1777.5 534v1M1786.5 528v1M1786.5 534v1"/>
<path stroke="#a8b0f7" stroke-width="5" d="M1704.5 453v1M1704.5 462v1M1704.5 465v1M1704.5 522v1M1704.5 530v1M1709.5 459v1M1709.5 466v1M1709.5 526v1M1714.5 457v1M1714.5 462v1M1714.5 463v1M1714.5 466v1M1714.5 518v1M1714.5 526v1M1719.5 466v1M1719.5 520v1M1728.5 462v1M1728.5 465v1M1728.5 466v1M1728.5 524v1M1728.5 527v1M1733.5 467v1M1733.5 522v1M1733.5 526v1M1733.5 536v1M1738.5 467v1M1738.5 535v1M1743.5 466v1M1743.5 530v1M1743.5 534v1M1748.5 465v1M1748.5 518v1M1748.5 526v1M1748.5 532v1M1757.5 523v1M1757.5 534v1M1767.5 519v1M1767.5 528v1M1767.5 530v1M1767.5 532v1M1767.5 535v1M1772.5 514v1M1772.5 515v1M1772.5 527v1M1772.5 535v1M1786.5 457v1M1786.5 458v1M1786.5 519v1M1786.5 536v1"/>
<path stroke="#fccc00" stroke-width="5" d="M1704.5 481v1M1704.5 487v2M1704.5 490v1M1709.5 482v1M1709.5 485v1M1709.5 487v2M1714.5 485v1M1714.5 491v1M1719.5 487v5M1728.5 489v1M1728.5 491v1M1733.5 490v2M1743.5 485v2M1743.5 491v1M1748.5 491v1M1748.5 495v1M1757.5 486v1M1757.5 489v1M1757.5 491v1M1762.5 475v2M1762.5 483v2M1762.5 486v1M1767.5 475v2M1767.5 478v3M1772.5 465v1M1772.5 471v2M1772.5 477v1M1777.5 467v2M1777.5 475v2M1786.5 482v3"/>
<path stroke="#ff4c00" stroke-width="5" d="M1719.5 483v2M1733.5 486v3M1738.5 486v1M1757.5 487v2M1762.5 477v1M1767.5 471v2M1772.5 466v3M1777.5 473v2M1786.5 478v3"/>
<path stroke="#a8b0f7" stroke-width="4" d="M1724 463v1M1724 534v1M1753 531v1M1753 532v1M1782 516v1M1782 522v1M1782 535v1"/>
<path stroke="#4657f8" stroke-width="4" d="M1724 469v1M1724 527v1M1724 531v1M1782 457v1M1782 530v1M1782 531v1"/>
<path stroke="#1b3bfc" stroke-width="4" d="M1724 470v1M1724 524v3M1724 528v2M1724 532v2M1753 467v4M1753 524v4M1753 530v1M1782 458v1M1782 520v2M1782 524v6M1782 534v1"/>
<path stroke="#0c6aff" stroke-width="4" d="M1724 471v3M1724 511v1M1724 514v4M1724 519v1M1753 473v1M1753 512v7M1782 462v1M1782 500v8M1782 510v1M1782 512v2"/>
<path stroke="#0096ff" stroke-width="4" d="M1724 474v1M1724 507v1M1724 510v1M1724 512v2M1753 474v1M1753 510v2M1782 496v4"/>
<path stroke="#00bbf8" stroke-width="4" d="M1724 475v2M1724 508v2M1753 477v1M1753 508v2"/>
<path stroke="#00e1f0" stroke-width="4" d="M1724 477v1M1724 506v1M1753 475v2M1753 478v1M1753 507v1M1782 463v2M1782 492v4"/>
<path stroke="#00f096" stroke-width="4" d="M1724 478v3M1724 502v1M1753 481v1M1753 502v1M1753 504v2M1782 466v1"/>
<path stroke="#42f120" stroke-width="4" d="M1724 481v1M1724 496v3M1753 500v2M1782 469v1M1782 489v1"/>
<path stroke="#bef400" stroke-width="4" d="M1724 482v1M1724 495v1M1782 483v2"/>
<path stroke="#f0f100" stroke-width="4" d="M1724 483v2M1753 486v1M1753 496v2M1782 470v1"/>
<path stroke="#ff7500" stroke-width="4" d="M1724 485v2M1724 490v1M1753 489v1M1753 491v1M1782 478v3"/>
<path stroke="#fe9f00" stroke-width="4" d="M1724 487v2M1724 491v3M1753 487v2M1753 494v2M1782 474v1"/>
<path stroke="#ff4c00" stroke-width="4" d="M1724 489v1M1753 490v1M1753 492v2M1782 471v3M1782 477v1"/>
<path stroke="#fccc00" stroke-width="4" d="M1724 494v1M1753 485v1M1782 481v1"/>
<path stroke="#19f051" stroke-width="4" d="M1724 499v3M1753 503v1M1782 467v2M1782 487v2M1782 490v1"/>
<path stroke="#00e8c3" stroke-width="4" d="M1724 503v3M1753 479v2M1753 506v1M1782 465v1M1782 491v1"/>
<path stroke="#164afe" stroke-width="4" d="M1724 518v1M1724 520v2M1724 523v1M1724 530v1M1753 471v2M1753 519v5M1782 459v3M1782 508v2M1782 511v1M1782 514v2M1782 518v2M1782 523v1"/>
<path stroke="#ff2300" stroke-width="5" d="M1743.5 487v2M1762.5 479v2M1777.5 470v1M1786.5 475v3"/>
<path stroke="#83f40c" stroke-width="4" d="M1753 482v3M1753 498v2M1782 482v1M1782 485v2"/>
<path stroke="#ff2300" stroke-width="4" d="M1782 475v2"/>
</g>
<path d="M1697.9 538.8H1788.8" stroke="#555" stroke-width="1.1" fill="none"/>
<path d="M1697.9 538.6H1788.8" stroke="#c8281e" stroke-width="1.5" fill="none"/>
<path d="M1697.5 539.1V374.5H1789.5V539.1" fill="none" stroke="#6a6a6a" stroke-width="1.25"/>
<path d="M1699.8 538.5v4.2M1714.3 538.5v4.2M1762.7 538.5v4.2M1786.9 538.5v4.2" stroke="#333" stroke-width="1.1" fill="none"/>
<path d="M1699.8 538.5v1.6M1704.7 538.5v1.6M1709.5 538.5v1.6M1714.3 538.5v1.6M1719.2 538.5v1.6M1724.0 538.5v1.6M1728.8 538.5v1.6M1733.7 538.5v1.6M1738.5 538.5v1.6M1743.4 538.5v1.6M1748.2 538.5v1.6M1753.0 538.5v1.6M1757.9 538.5v1.6M1762.7 538.5v1.6M1767.5 538.5v1.6M1772.4 538.5v1.6M1777.2 538.5v1.6M1782.0 538.5v1.6M1786.9 538.5v1.6" stroke="#333" stroke-width="0.6" fill="none"/>
<text x="1695.6" y="551.4" font-size="8.6" fill="#1c1c1c" textLength="8.4" lengthAdjust="spacingAndGlyphs">17</text>
<text x="1758.5" y="551.4" font-size="8.6" fill="#1c1c1c" textLength="8.4" lengthAdjust="spacingAndGlyphs">30</text>
<text x="1782.7" y="551.4" font-size="8.6" fill="#1c1c1c" textLength="8.4" lengthAdjust="spacingAndGlyphs">35</text>
<path d="M871.2 539.1H875.4M871.2 511.6H875.4M871.2 484.1H875.4M871.2 456.6H875.4M871.2 429.0H875.4M871.2 401.5H875.4M871.2 374.0H875.4" stroke="#333" stroke-width="1" fill="none"/>
<path d="M873.2 530.8H875.4M873.2 526.0H875.4M873.2 522.5H875.4M873.2 519.9H875.4M873.2 517.7H875.4M873.2 515.8H875.4M873.2 514.2H875.4M873.2 512.8H875.4M873.2 503.3H875.4M873.2 498.5H875.4M873.2 495.0H875.4M873.2 492.4H875.4M873.2 490.2H875.4M873.2 488.3H875.4M873.2 486.7H875.4M873.2 485.3H875.4M873.2 475.8H875.4M873.2 470.9H875.4M873.2 467.5H875.4M873.2 464.8H875.4M873.2 462.7H875.4M873.2 460.8H875.4M873.2 459.2H875.4M873.2 457.8H875.4M873.2 448.3H875.4M873.2 443.4H875.4M873.2 440.0H875.4M873.2 437.3H875.4M873.2 435.1H875.4M873.2 433.3H875.4M873.2 431.7H875.4M873.2 430.3H875.4M873.2 420.7H875.4M873.2 415.9H875.4M873.2 412.5H875.4M873.2 409.8H875.4M873.2 407.6H875.4M873.2 405.8H875.4M873.2 404.2H875.4M873.2 402.8H875.4M873.2 393.2H875.4M873.2 388.4H875.4M873.2 384.9H875.4M873.2 382.3H875.4M873.2 380.1H875.4M873.2 378.3H875.4M873.2 376.7H875.4M873.2 375.3H875.4" stroke="#333" stroke-width="0.7" fill="none"/>
<path d="M875.1 374.0V539.1" stroke="#4a4a4a" stroke-width="1.3" fill="none"/>
<rect x="843.1" y="623.5" width="6.7" height="6.7" fill="#a800f0" stroke="#6a00a0" stroke-width="0.5"/>
<text x="853.0" y="629.6" font-size="9" fill="#1c1c1c" textLength="25.6" lengthAdjust="spacingAndGlyphs">P_PE_A</text>
<text x="860.7" y="820.3" font-size="7.7" fill="#1c1c1c" textLength="7.5" lengthAdjust="spacingAndGlyphs">10</text>
<text x="868.4" y="816.9" font-size="4.8" fill="#1c1c1c">0</text>
<text x="860.7" y="792.5" font-size="7.7" fill="#1c1c1c" textLength="7.5" lengthAdjust="spacingAndGlyphs">10</text>
<text x="868.4" y="789.1" font-size="4.8" fill="#1c1c1c">1</text>
<text x="860.7" y="764.7" font-size="7.7" fill="#1c1c1c" textLength="7.5" lengthAdjust="spacingAndGlyphs">10</text>
<text x="868.4" y="761.3" font-size="4.8" fill="#1c1c1c">2</text>
<text x="860.7" y="737.0" font-size="7.7" fill="#1c1c1c" textLength="7.5" lengthAdjust="spacingAndGlyphs">10</text>
<text x="868.4" y="733.6" font-size="4.8" fill="#1c1c1c">3</text>
<text x="860.7" y="709.2" font-size="7.7" fill="#1c1c1c" textLength="7.5" lengthAdjust="spacingAndGlyphs">10</text>
<text x="868.4" y="705.8" font-size="4.8" fill="#1c1c1c">4</text>
<text x="860.7" y="681.4" font-size="7.7" fill="#1c1c1c" textLength="7.5" lengthAdjust="spacingAndGlyphs">10</text>
<text x="868.4" y="678.0" font-size="4.8" fill="#1c1c1c">5</text>
<text x="860.7" y="653.6" font-size="7.7" fill="#1c1c1c" textLength="7.5" lengthAdjust="spacingAndGlyphs">10</text>
<text x="868.4" y="650.2" font-size="4.8" fill="#1c1c1c">6</text>
<text transform="translate(848.6 753.8) rotate(-90)" font-size="8.8" fill="#1c1c1c" textLength="40.2" lengthAdjust="spacingAndGlyphs">Intensity_A</text>
<text x="1318.1" y="843.9" font-size="8.8" fill="#1c1c1c" textLength="28.5" lengthAdjust="spacingAndGlyphs">Channel</text>
<rect x="875.0" y="635.5" width="10.7" height="10.7" fill="#8b8f92"/>
<path d="M880.35 641.85L884.85 640.85L880.35 639.85ZM879.86 641.34L882.82 643.32L880.84 640.36ZM879.35 640.85L880.35 645.35L881.35 640.85ZM879.86 640.36L877.88 643.32L880.84 641.34ZM880.35 639.85L875.85 640.85L880.35 641.85ZM880.84 640.36L877.88 638.38L879.86 641.34ZM881.35 640.85L880.35 636.35L879.35 640.85ZM880.84 641.34L882.82 638.38L879.86 640.36Z" fill="#fff"/>
<circle cx="880.35" cy="640.85" r="2.0" fill="#fff"/>
<text x="889.4" y="644.6" font-size="9.3" fill="#1c1c1c" textLength="25.2" lengthAdjust="spacingAndGlyphs">320nm</text>
<g fill="none">
<path stroke="#a8b0f7" stroke-width="5" d="M877.5 699v1M877.5 749v1M877.5 759v1M877.5 773v1M882.5 711v1M882.5 762v1M882.5 768v1M882.5 773v1M882.5 774v1M882.5 776v1M891.5 765v1M891.5 766v1M891.5 780v1M891.5 794v1M896.5 711v1M896.5 714v1M896.5 793v1M901.5 774v1M901.5 776v1M901.5 781v1M901.5 797v1M906.5 768v1M906.5 777v1M906.5 784v1M906.5 796v1M906.5 797v1M915.5 788v1M915.5 796v1M920.5 738v1M920.5 743v1M920.5 747v1M925.5 702v1M925.5 703v1M925.5 733v1M930.5 708v1M930.5 737v1M939.5 749v1M939.5 750v1M939.5 757v1M939.5 758v1M939.5 768v1M944.5 764v1M944.5 765v1M944.5 773v1M944.5 777v1M944.5 788v1M949.5 798v1M949.5 801v1M949.5 804v1M949.5 808v1M949.5 813v1M954.5 784v1M954.5 786v1M954.5 789v1M963.5 790v1M963.5 792v1M963.5 794v1M963.5 796v1M963.5 798v1M963.5 800v1M968.5 790v1M968.5 800v1M973.5 726v1M973.5 730v1M978.5 786v1M978.5 797v1M987.5 731v1M987.5 774v1M987.5 792v1M992.5 785v1M992.5 790v1M992.5 794v1M992.5 798v1M992.5 808v1M997.5 792v1M997.5 796v1M997.5 800v1M1002.5 805v1M1002.5 809v1M1016.5 808v1M1016.5 811v1M1016.5 815v1M1021.5 731v1M1021.5 800v1M1021.5 807v1M1021.5 809v1M1021.5 813v1M1021.5 815v1M1026.5 797v1M1026.5 808v1M1026.5 812v1M1026.5 813v1M1035.5 797v1M1035.5 803v1M1035.5 805v1M1035.5 807v1M1035.5 808v1M1035.5 813v1M1040.5 734v1M1040.5 803v1M1040.5 811v1"/>
<path stroke="#1b3bfc" stroke-width="5" d="M877.5 702v1M877.5 754v1M877.5 772v1M882.5 766v2M882.5 770v2M882.5 781v1M891.5 710v1M891.5 768v1M891.5 770v2M891.5 773v1M891.5 776v1M891.5 782v2M891.5 785v1M891.5 789v1M891.5 792v1M896.5 772v4M896.5 777v1M901.5 770v2M901.5 773v1M901.5 804v1M906.5 716v2M906.5 774v2M906.5 778v2M915.5 789v1M915.5 792v2M915.5 797v1M915.5 805v2M920.5 741v2M925.5 731v2M925.5 734v1M930.5 741v4M930.5 753v1M939.5 715v1M939.5 753v4M944.5 725v1M944.5 770v2M944.5 774v2M949.5 741v1M949.5 800v1M949.5 807v1M949.5 811v1M954.5 790v2M954.5 793v1M954.5 803v2M963.5 807v1M963.5 816v1M968.5 730v1M968.5 789v1M968.5 793v4M973.5 731v2M973.5 789v1M973.5 793v1M973.5 798v2M978.5 731v2M978.5 789v3M978.5 793v3M978.5 798v2M987.5 790v2M987.5 793v1M987.5 800v1M992.5 733v1M992.5 792v1M992.5 800v1M997.5 790v2M997.5 797v1M997.5 801v2M997.5 808v1M1002.5 733v1M1002.5 793v1M1002.5 813v2M1011.5 794v2M1011.5 804v3M1011.5 808v1M1016.5 734v1M1016.5 804v1M1016.5 809v2M1016.5 813v2M1021.5 797v1M1021.5 803v1M1021.5 805v2M1026.5 796v1M1026.5 798v5M1035.5 793v1M1035.5 804v1M1035.5 812v1M1040.5 800v1M1040.5 808v1M1040.5 812v4"/>
<path stroke="#164afe" stroke-width="5" d="M877.5 703v1M877.5 750v4M877.5 757v1M882.5 718v1M882.5 765v1M882.5 769v1M891.5 764v1M891.5 772v1M896.5 715v1M896.5 766v6M901.5 715v1M901.5 762v2M901.5 765v5M901.5 772v1M906.5 765v3M906.5 769v3M906.5 773v1M906.5 776v1M915.5 733v1M915.5 782v2M915.5 786v2M920.5 712v2M920.5 739v2M925.5 726v4M930.5 710v1M930.5 735v2M930.5 738v1M939.5 746v1M939.5 751v2M944.5 766v4M944.5 772v1M949.5 788v4M949.5 796v2M949.5 803v1M954.5 729v1M954.5 782v2M954.5 785v1M954.5 788v1M954.5 792v1M954.5 794v2M963.5 730v1M963.5 781v1M963.5 788v2M963.5 797v1M968.5 781v8M968.5 792v1M973.5 781v4M973.5 786v3M973.5 790v2M978.5 733v1M978.5 785v1M978.5 788v1M978.5 796v1M987.5 733v1M987.5 784v1M987.5 786v4M992.5 734v1M992.5 788v2M992.5 796v1M997.5 781v5M997.5 789v1M1002.5 784v1M1002.5 786v2M1002.5 789v4M1002.5 796v2M1011.5 734v1M1011.5 789v1M1011.5 792v1M1011.5 796v1M1011.5 798v3M1016.5 769v1M1016.5 790v3M1016.5 794v2M1016.5 798v3M1021.5 733v1M1021.5 792v2M1021.5 796v1M1021.5 798v2M1021.5 801v2M1021.5 804v1M1026.5 730v1M1026.5 792v4M1026.5 804v3M1035.5 731v2M1035.5 798v2M1040.5 737v1M1040.5 792v2M1040.5 796v1M1040.5 798v2M1040.5 801v2M1040.5 804v1"/>
<path stroke="#0c6aff" stroke-width="5" d="M877.5 704v2M877.5 745v4M882.5 719v2M882.5 757v2M882.5 761v1M891.5 711v1M891.5 755v3M891.5 761v3M896.5 716v2M896.5 758v6M896.5 765v1M901.5 716v3M901.5 758v4M901.5 764v1M906.5 718v1M906.5 755v2M906.5 758v1M906.5 761v4M915.5 734v3M915.5 773v9M915.5 784v2M920.5 735v3M925.5 704v2M925.5 723v3M930.5 731v4M939.5 716v2M939.5 742v3M939.5 747v2M944.5 726v1M944.5 758v6M949.5 742v3M949.5 780v1M949.5 782v3M949.5 786v2M949.5 792v2M954.5 730v1M954.5 773v9M963.5 774v3M963.5 778v3M963.5 782v2M968.5 731v2M968.5 773v1M968.5 777v4M973.5 733v1M973.5 772v5M973.5 778v2M973.5 785v1M978.5 776v1M978.5 778v7M987.5 734v1M987.5 772v1M987.5 776v6M992.5 773v1M992.5 778v4M992.5 784v1M997.5 734v1M997.5 776v5M997.5 788v1M1002.5 734v3M1002.5 776v1M1002.5 778v6M1002.5 785v1M1002.5 788v1M1011.5 735v2M1011.5 772v1M1011.5 788v1M1011.5 790v2M1016.5 735v2M1016.5 789v1M1021.5 734v1M1021.5 768v1M1021.5 790v2M1026.5 731v2M1026.5 768v1M1026.5 790v2M1035.5 733v1M1035.5 790v3M1040.5 738v1"/>
<path stroke="#0096ff" stroke-width="5" d="M877.5 706v1M877.5 742v3M882.5 721v2M882.5 755v2M882.5 759v2M891.5 712v2M891.5 753v2M891.5 758v3M896.5 753v1M896.5 755v3M901.5 751v7M906.5 719v2M906.5 751v2M906.5 757v1M915.5 737v1M915.5 772v1M920.5 714v1M920.5 734v1M930.5 711v1M939.5 718v1M939.5 739v3M939.5 745v1M944.5 729v1M944.5 755v3M949.5 776v4M949.5 781v1M949.5 785v1M954.5 770v3M963.5 731v2M963.5 770v4M963.5 777v1M968.5 733v2M968.5 768v2M968.5 772v1M968.5 774v2M973.5 734v1M973.5 768v2M973.5 777v1M978.5 734v1M978.5 770v3M978.5 774v2M978.5 777v1M987.5 773v1M992.5 735v2M992.5 770v3M992.5 774v4M997.5 735v2M997.5 772v4M1002.5 772v4M1002.5 777v1M1011.5 737v1M1011.5 765v7M1011.5 786v2M1016.5 762v7M1016.5 770v2M1016.5 788v1M1021.5 765v3M1021.5 769v3M1021.5 788v2M1026.5 733v2M1026.5 765v3M1026.5 769v3M1026.5 789v1M1035.5 734v1M1035.5 762v8M1035.5 789v1M1040.5 765v5M1040.5 789v3"/>
<path stroke="#00bbf8" stroke-width="5" d="M877.5 707v1M877.5 738v4M882.5 723v2M882.5 753v2M891.5 714v1M891.5 749v1M896.5 718v1M896.5 751v2M896.5 754v1M901.5 719v3M906.5 753v2M915.5 738v1M915.5 769v1M920.5 715v1M920.5 733v1M925.5 706v1M925.5 722v1M930.5 712v2M930.5 730v1M939.5 719v2M944.5 727v2M949.5 774v2M954.5 766v4M963.5 733v1M963.5 766v2M963.5 769v1M968.5 770v2M973.5 735v2M973.5 770v2M978.5 735v2M978.5 769v1M987.5 735v3M987.5 768v4M992.5 737v1M992.5 768v2M997.5 737v1M997.5 769v3M1002.5 769v1M1011.5 738v1M1011.5 764v1M1011.5 773v3M1011.5 784v2M1016.5 737v1M1016.5 761v1M1016.5 772v1M1016.5 785v3M1021.5 735v2M1021.5 761v1M1021.5 764v1M1026.5 762v3M1026.5 788v1M1035.5 770v2M1040.5 762v3"/>
<path stroke="#00e1f0" stroke-width="5" d="M877.5 708v3M877.5 737v1M882.5 750v3M891.5 715v1M891.5 745v4M891.5 750v3M896.5 719v2M896.5 750v1M901.5 750v1M906.5 721v1M906.5 749v1M915.5 768v1M915.5 770v2M920.5 716v2M925.5 707v1M925.5 721v1M930.5 729v1M939.5 738v1M944.5 730v1M944.5 753v2M949.5 745v2M949.5 772v2M954.5 731v3M963.5 768v1M968.5 765v3M973.5 765v3M978.5 766v2M987.5 738v1M992.5 738v3M992.5 766v2M997.5 768v1M1002.5 737v1M1002.5 765v4M1002.5 770v2M1011.5 739v2M1011.5 761v3M1011.5 776v1M1011.5 778v2M1011.5 782v2M1016.5 738v1M1016.5 773v1M1016.5 784v1M1021.5 737v1M1021.5 759v2M1021.5 762v2M1021.5 772v2M1021.5 784v4M1026.5 761v1M1026.5 786v2M1035.5 761v1M1035.5 786v3M1040.5 739v2M1040.5 759v3M1040.5 770v2M1040.5 788v1"/>
<path stroke="#19f051" stroke-width="5" d="M877.5 711v1M877.5 726v1M877.5 730v1M882.5 727v3M882.5 743v4M891.5 737v5M896.5 722v1M901.5 723v2M901.5 741v1M906.5 723v2M906.5 742v1M906.5 746v1M915.5 742v1M920.5 730v1M925.5 718v1M930.5 715v1M930.5 725v2M939.5 722v1M939.5 734v3M944.5 733v1M949.5 749v1M954.5 737v1M954.5 757v4M963.5 737v1M963.5 758v1M968.5 755v3M968.5 759v2M973.5 739v3M973.5 759v2M978.5 741v1M978.5 759v2M987.5 762v3M992.5 761v1M992.5 764v1M997.5 759v3M1002.5 742v1M1002.5 761v1M1011.5 742v1M1011.5 754v1M1016.5 741v1M1016.5 757v2M1016.5 777v1M1021.5 776v2M1021.5 782v2M1026.5 757v1M1026.5 776v2M1026.5 781v1M1035.5 754v1M1035.5 773v3M1035.5 782v2M1040.5 755v2M1040.5 776v1"/>
<path stroke="#00f096" stroke-width="5" d="M877.5 712v2M877.5 731v2M877.5 734v1M891.5 716v3M891.5 743v2M896.5 746v1M901.5 743v2M901.5 746v1M906.5 745v1M915.5 741v1M915.5 762v3M920.5 731v2M925.5 708v2M925.5 719v2M930.5 714v1M930.5 727v2M939.5 721v1M944.5 749v1M949.5 747v2M949.5 769v3M954.5 735v2M954.5 762v2M963.5 759v2M963.5 764v1M968.5 737v1M968.5 762v2M973.5 738v1M973.5 758v1M973.5 761v4M978.5 738v3M978.5 762v2M987.5 741v1M987.5 766v2M992.5 741v1M992.5 765v1M997.5 738v3M997.5 762v4M1002.5 739v3M1002.5 762v2M1011.5 741v1M1011.5 755v4M1011.5 777v1M1016.5 739v2M1016.5 776v1M1016.5 778v3M1016.5 782v2M1021.5 738v3M1021.5 755v3M1021.5 778v3M1026.5 738v1M1026.5 755v2M1026.5 758v1M1026.5 773v3M1035.5 755v3M1035.5 784v1M1040.5 741v2M1040.5 757v1M1040.5 773v1M1040.5 785v1"/>
<path stroke="#42f120" stroke-width="5" d="M877.5 714v2M877.5 725v1M877.5 727v3M882.5 730v1M882.5 742v1M891.5 719v3M896.5 723v2M896.5 737v1M896.5 739v4M901.5 725v1M901.5 739v2M901.5 742v1M906.5 725v2M906.5 741v1M906.5 743v2M915.5 743v2M915.5 759v3M920.5 719v3M920.5 729v1M925.5 716v2M939.5 723v2M939.5 731v3M944.5 734v3M944.5 747v2M949.5 750v1M949.5 766v3M954.5 755v2M963.5 738v3M963.5 754v4M968.5 738v3M968.5 758v1M973.5 757v1M978.5 742v1M978.5 758v1M978.5 761v1M987.5 742v3M987.5 761v1M992.5 742v1M992.5 757v4M997.5 741v1M997.5 758v1M1002.5 755v2M1002.5 758v3M1011.5 753v1M1021.5 753v2M1026.5 739v2M1026.5 778v3M1035.5 738v1M1035.5 753v1M1035.5 776v2M1035.5 781v1M1040.5 774v2M1040.5 781v4"/>
<path stroke="#83f40c" stroke-width="5" d="M877.5 716v2M877.5 722v3M882.5 731v2M891.5 730v1M891.5 733v1M896.5 738v1M901.5 726v3M901.5 738v1M906.5 739v2M915.5 758v1M920.5 726v3M925.5 710v1M930.5 723v2M939.5 725v1M939.5 730v1M944.5 737v2M944.5 743v4M949.5 751v2M949.5 764v2M954.5 738v3M954.5 754v1M963.5 751v3M968.5 741v1M968.5 751v4M973.5 750v1M973.5 754v3M978.5 743v2M978.5 753v1M978.5 757v1M987.5 745v1M987.5 755v2M987.5 758v3M992.5 743v2M992.5 746v1M997.5 742v1M997.5 755v3M1002.5 743v2M1002.5 757v1M1011.5 743v3M1016.5 753v1M1016.5 755v2M1021.5 741v2M1026.5 741v1M1026.5 753v2M1035.5 739v3M1035.5 750v1M1035.5 778v3M1040.5 743v2M1040.5 753v2M1040.5 777v1M1040.5 780v1"/>
<path stroke="#f0f100" stroke-width="5" d="M877.5 718v1M877.5 721v1M882.5 737v1M891.5 725v1M896.5 726v3M896.5 731v3M906.5 729v4M906.5 735v2M906.5 738v1M915.5 754v3M925.5 712v3M944.5 741v2M954.5 741v2M963.5 745v1M973.5 743v3M973.5 747v2M973.5 751v2M978.5 749v1M978.5 754v1M987.5 746v1M987.5 757v1M992.5 747v2M992.5 750v3M997.5 745v1M997.5 753v1M1002.5 747v4M1011.5 746v1M1011.5 750v1M1016.5 750v3M1021.5 745v1M1021.5 749v2M1026.5 746v1M1026.5 749v1M1035.5 749v1M1040.5 747v2"/>
<path stroke="#bef400" stroke-width="5" d="M877.5 719v2M882.5 733v4M882.5 739v3M891.5 722v3M891.5 726v3M891.5 731v2M891.5 734v3M896.5 725v1M896.5 734v3M901.5 734v4M906.5 727v2M906.5 737v1M915.5 745v2M915.5 749v1M915.5 757v1M920.5 722v1M925.5 711v1M925.5 715v1M930.5 716v3M930.5 721v1M939.5 726v4M949.5 753v1M949.5 761v1M954.5 749v1M954.5 751v3M963.5 741v1M963.5 747v4M968.5 747v4M973.5 742v1M973.5 749v1M973.5 753v1M978.5 745v2M978.5 755v2M987.5 747v2M992.5 745v1M992.5 755v2M997.5 743v2M1002.5 745v1M1002.5 753v2M1011.5 747v2M1011.5 751v2M1016.5 742v1M1016.5 754v1M1021.5 751v2M1026.5 742v1M1026.5 750v3M1035.5 751v2M1040.5 745v1M1040.5 778v2"/>
<path stroke="#00e8c3" stroke-width="5" d="M877.5 733v1M877.5 735v2M882.5 725v2M882.5 747v3M891.5 742v1M896.5 721v1M896.5 743v3M896.5 747v3M901.5 722v1M901.5 745v1M901.5 747v3M906.5 722v1M906.5 747v2M906.5 750v1M915.5 739v2M915.5 765v3M920.5 718v1M939.5 737v1M944.5 731v2M944.5 750v3M954.5 734v1M954.5 761v1M954.5 764v2M963.5 734v3M963.5 761v3M963.5 765v1M968.5 735v2M968.5 761v1M968.5 764v1M973.5 737v1M978.5 737v1M978.5 764v2M978.5 768v1M987.5 739v2M987.5 765v1M992.5 762v2M997.5 766v2M1002.5 738v1M1002.5 764v1M1011.5 759v2M1011.5 780v2M1016.5 759v2M1016.5 774v2M1016.5 781v1M1021.5 758v1M1021.5 774v2M1021.5 781v1M1026.5 735v3M1026.5 759v2M1026.5 772v1M1026.5 782v4M1035.5 735v3M1035.5 758v3M1035.5 772v1M1035.5 785v1M1040.5 758v1M1040.5 772v1M1040.5 786v2"/>
<path stroke="#4657f8" stroke-width="5" d="M877.5 758v1M877.5 766v1M882.5 772v1M882.5 785v1M882.5 790v1M882.5 798v1M891.5 708v1M891.5 769v1M891.5 784v1M891.5 797v1M896.5 708v1M896.5 796v1M896.5 804v1M901.5 780v1M901.5 785v1M906.5 715v1M906.5 772v1M906.5 781v1M906.5 782v1M906.5 789v1M915.5 790v1M915.5 794v1M920.5 711v1M920.5 746v1M925.5 730v1M930.5 747v1M930.5 749v1M939.5 762v1M939.5 764v1M939.5 765v1M939.5 782v1M944.5 723v1M944.5 780v1M944.5 781v1M944.5 782v1M944.5 789v1M949.5 794v1M954.5 727v1M954.5 797v1M954.5 798v1M954.5 800v1M963.5 784v1M963.5 793v1M963.5 801v1M963.5 808v1M968.5 776v1M968.5 797v1M968.5 801v1M968.5 808v1M968.5 809v1M973.5 794v1M973.5 800v1M978.5 800v1M978.5 801v1M987.5 796v1M987.5 798v1M987.5 803v1M987.5 808v1M987.5 812v1M992.5 782v1M992.5 793v1M992.5 801v1M992.5 807v1M992.5 809v1M992.5 812v1M997.5 733v1M997.5 793v1M997.5 798v1M997.5 813v1M1002.5 731v1M1002.5 798v1M1002.5 807v1M1011.5 793v1M1011.5 797v1M1011.5 812v1M1011.5 815v1M1016.5 803v1M1021.5 812v1M1026.5 807v1M1026.5 809v1M1026.5 815v1M1035.5 809v2M1040.5 797v1M1040.5 805v1M1040.5 809v1"/>
<path stroke="#fccc00" stroke-width="5" d="M882.5 738v1M891.5 729v1M896.5 730v1M901.5 730v1M906.5 733v1M915.5 747v2M915.5 750v3M920.5 723v3M930.5 719v2M930.5 722v1M944.5 739v2M949.5 757v1M949.5 759v2M949.5 762v2M954.5 743v2M954.5 746v1M954.5 750v1M963.5 742v1M963.5 746v1M968.5 742v3M968.5 746v1M973.5 746v1M978.5 747v2M978.5 750v3M987.5 749v4M987.5 754v1M992.5 749v1M992.5 753v2M997.5 749v1M997.5 754v1M1002.5 751v2M1016.5 745v1M1021.5 743v2M1026.5 743v3M1026.5 747v2M1035.5 742v4M1035.5 747v2M1040.5 750v3"/>
<path stroke="#164afe" stroke-width="4" d="M887 719v3M887 761v1M887 764v2M911 719v2M911 764v1M911 766v2M911 770v2M935 714v1M935 746v1M959 780v1M959 782v4M959 788v1M959 790v3M983 780v1M983 782v3M983 786v2M1007 786v4M1007 793v1M1031 730v3M1031 793v1"/>
<path stroke="#0c6aff" stroke-width="4" d="M887 722v1M887 754v1M887 757v4M887 762v2M887 766v2M911 758v6M911 765v1M935 739v4M959 774v2M959 777v3M983 734v1M983 774v2M983 777v3M983 781v1M983 785v1M1007 734v1M1007 774v2M1007 780v6M1031 733v1M1031 766v2M1031 790v3"/>
<path stroke="#00bbf8" stroke-width="4" d="M887 723v3M887 751v3M911 722v1M911 751v4M935 716v2M935 735v3M959 765v4M983 738v1M983 768v4M1007 737v1M1007 769v1M1007 772v1M1031 734v1M1031 761v1M1031 764v1"/>
<path stroke="#00e1f0" stroke-width="4" d="M887 726v3M911 750v1M935 718v1M935 734v1M959 762v3M983 739v2M983 765v3M1007 766v3M1007 770v2M1031 770v2M1031 788v1"/>
<path stroke="#19f051" stroke-width="4" d="M887 729v1M911 726v3M911 742v3M935 719v2M959 737v1M959 757v4M1007 741v2M1007 758v1M1007 761v3M1031 753v1M1031 757v1M1031 774v2M1031 780v1"/>
<path stroke="#00f096" stroke-width="4" d="M887 730v3M887 746v1M911 725v1M935 731v2M959 734v3M983 741v2M983 762v3M1007 759v2M1007 764v2M1031 737v2M1031 755v2M1031 758v1M1031 773v1M1031 782v3"/>
<path stroke="#42f120" stroke-width="4" d="M887 733v1M887 742v4M935 721v1M959 738v1M959 753v4M983 743v2M983 759v3M1007 743v2M1007 757v1M1031 739v2M1031 754v1M1031 776v1"/>
<path stroke="#bef400" stroke-width="4" d="M887 734v4M887 741v1M911 730v1M911 738v1M935 723v2M935 726v1M959 739v3M959 743v2M959 746v1M959 749v1M983 746v3M1007 747v2M1007 753v1M1031 742v1M1031 747v2M1031 750v3"/>
<path stroke="#fccc00" stroke-width="4" d="M887 738v3M911 734v3M983 749v1M983 753v1M983 755v2M1007 749v4M1031 745v1"/>
<path stroke="#00e8c3" stroke-width="4" d="M887 747v4M911 723v2M911 745v5M935 733v1M959 733v1M959 761v1M1007 738v3M1031 735v2M1031 759v2M1031 772v1M1031 785v3"/>
<path stroke="#0096ff" stroke-width="4" d="M887 755v2M911 721v1M911 755v3M935 715v1M935 738v1M959 730v3M959 769v5M959 776v1M983 735v3M983 772v2M983 776v1M1007 735v2M1007 773v1M1007 776v4M1031 762v2M1031 765v1M1031 768v2M1031 789v1"/>
<path stroke="#1b3bfc" stroke-width="4" d="M887 768v1M887 773v1M887 778v2M887 782v2M911 774v2M935 749v1M935 751v2M959 729v1M959 797v3M983 733v1M983 790v2M983 793v1M983 796v1M983 798v2M1007 733v1M1007 794v2M1007 797v1M1007 800v3M1007 813v2M1031 797v1M1031 803v5M1031 815v1"/>
<path stroke="#4657f8" stroke-width="4" d="M887 769v1M887 770v1M887 777v1M887 781v1M887 786v1M911 776v1M911 778v1M911 796v1M935 745v1M935 769v1M959 801v1M959 812v1M983 792v1M983 803v1M1007 803v1M1007 807v1M1031 800v1M1031 801v1M1031 809v2"/>
<path stroke="#a8b0f7" stroke-width="4" d="M887 776v1M887 785v1M887 790v1M911 716v1M911 769v1M911 773v1M911 777v1M911 786v1M911 788v1M911 793v1M935 743v1M935 747v1M935 757v1M935 758v1M959 727v1M959 781v1M959 786v1M959 793v1M959 796v1M959 800v1M983 788v1M983 794v1M983 797v1M983 800v1M983 808v1M1007 790v1M1007 792v1M1007 796v1M1031 794v1M1031 808v1M1031 811v1"/>
<path stroke="#fe9f00" stroke-width="5" d="M896.5 729v1M901.5 729v1M901.5 731v3M906.5 734v1M915.5 753v1M949.5 754v3M949.5 758v1M954.5 745v1M954.5 747v2M963.5 743v2M968.5 745v1M997.5 746v3M997.5 751v2M1002.5 746v1M1011.5 749v1M1016.5 743v2M1016.5 747v3M1021.5 746v3M1040.5 746v1M1040.5 749v1"/>
<path stroke="#83f40c" stroke-width="4" d="M911 729v1M911 737v1M911 739v3M935 722v1M935 730v1M959 750v3M983 745v1M983 757v2M1007 745v1M1007 754v3M1031 741v1M1031 777v3M1031 781v1"/>
<path stroke="#fe9f00" stroke-width="4" d="M911 731v2M935 725v1M959 742v1M959 745v1"/>
<path stroke="#f0f100" stroke-width="4" d="M911 733v1M935 727v3M959 747v2M983 750v3M983 754v1M1007 746v1M1031 743v2M1031 746v1M1031 749v1"/>
<path stroke="#ff7500" stroke-width="5" d="M987.5 753v1M997.5 750v1M1016.5 746v1M1035.5 746v1"/>
</g>
<path d="M875.6 817.0H1042.6" stroke="#555" stroke-width="1.1" fill="none"/>
<path d="M875.6 816.8H879.4" stroke="#b0c040" stroke-width="1.5" fill="none"/>
<path d="M880.4 816.8H917.8" stroke="#d06060" stroke-width="1.5" fill="none"/>
<path d="M947.6 816.8H1042.6" stroke="#d05050" stroke-width="1.5" fill="none"/>
<path d="M875.5 817.3V650.5H1043.5V817.3" fill="none" stroke="#6a6a6a" stroke-width="1.25"/>
<path d="M877.5 816.7v4.2M920.7 816.7v4.2M968.7 816.7v4.2M1016.7 816.7v4.2M1040.7 816.7v4.2" stroke="#333" stroke-width="1.1" fill="none"/>
<path d="M877.5 816.7v1.6M882.3 816.7v1.6M887.1 816.7v1.6M891.9 816.7v1.6M896.7 816.7v1.6M901.5 816.7v1.6M906.3 816.7v1.6M911.1 816.7v1.6M915.9 816.7v1.6M920.7 816.7v1.6M925.5 816.7v1.6M930.3 816.7v1.6M935.1 816.7v1.6M939.9 816.7v1.6M944.7 816.7v1.6M949.5 816.7v1.6M954.3 816.7v1.6M959.1 816.7v1.6M963.9 816.7v1.6M968.7 816.7v1.6M973.5 816.7v1.6M978.3 816.7v1.6M983.1 816.7v1.6M987.9 816.7v1.6M992.7 816.7v1.6M997.5 816.7v1.6M1002.3 816.7v1.6M1007.1 816.7v1.6M1011.9 816.7v1.6M1016.7 816.7v1.6M1021.5 816.7v1.6M1026.3 816.7v1.6M1031.1 816.7v1.6M1035.9 816.7v1.6M1040.7 816.7v1.6" stroke="#333" stroke-width="0.6" fill="none"/>
<text x="875.4" y="829.6" font-size="8.6" fill="#1c1c1c" textLength="4.2" lengthAdjust="spacingAndGlyphs">1</text>
<text x="916.5" y="829.6" font-size="8.6" fill="#1c1c1c" textLength="8.4" lengthAdjust="spacingAndGlyphs">10</text>
<text x="964.5" y="829.6" font-size="8.6" fill="#1c1c1c" textLength="8.4" lengthAdjust="spacingAndGlyphs">20</text>
<text x="1012.5" y="829.6" font-size="8.6" fill="#1c1c1c" textLength="8.4" lengthAdjust="spacingAndGlyphs">30</text>
<text x="1036.5" y="829.6" font-size="8.6" fill="#1c1c1c" textLength="8.4" lengthAdjust="spacingAndGlyphs">35</text>
<rect x="1050.7" y="635.5" width="10.7" height="10.7" fill="#6c40c4"/>
<path d="M1056.02 641.85L1060.52 640.85L1056.02 639.85ZM1055.52 641.34L1058.49 643.32L1056.51 640.36ZM1055.02 640.85L1056.02 645.35L1057.02 640.85ZM1055.52 640.36L1053.54 643.32L1056.51 641.34ZM1056.02 639.85L1051.52 640.85L1056.02 641.85ZM1056.51 640.36L1053.54 638.38L1055.52 641.34ZM1057.02 640.85L1056.02 636.35L1055.02 640.85ZM1056.51 641.34L1058.49 638.38L1055.52 640.36Z" fill="#fff"/>
<circle cx="1056.02" cy="640.85" r="2.0" fill="#fff"/>
<text x="1065.1" y="644.6" font-size="9.3" fill="#1c1c1c" textLength="25.2" lengthAdjust="spacingAndGlyphs">355nm</text>
<g fill="none">
<path stroke="#a8b0f7" stroke-width="5" d="M1053.5 719v1M1053.5 762v1M1053.5 778v1M1053.5 788v1M1062.5 719v1M1062.5 722v1M1067.5 714v1M1067.5 716v1M1067.5 766v1M1067.5 773v1M1072.5 712v1M1072.5 715v1M1072.5 745v1M1072.5 750v1M1072.5 776v1M1072.5 784v1M1077.5 710v1M1077.5 714v1M1086.5 751v1M1086.5 769v1M1091.5 774v1M1096.5 703v1M1096.5 723v1M1096.5 725v1M1101.5 695v1M1110.5 726v1M1110.5 729v1M1115.5 710v1M1120.5 718v1M1120.5 741v1M1125.5 738v1M1125.5 776v1M1125.5 784v1M1125.5 800v1M1134.5 762v1M1139.5 726v1M1139.5 762v1M1139.5 776v1M1139.5 782v1M1144.5 776v1M1144.5 781v1M1153.5 726v1M1153.5 782v1M1153.5 785v1M1153.5 797v1M1158.5 733v1M1158.5 734v1M1158.5 784v1M1163.5 733v1M1163.5 789v1M1163.5 792v1M1163.5 797v1M1163.5 803v1M1168.5 735v1M1168.5 785v1M1168.5 801v1M1168.5 803v1M1177.5 733v1M1177.5 735v1M1177.5 790v1M1177.5 798v1M1177.5 800v1M1177.5 801v1M1182.5 733v1M1182.5 734v1M1187.5 731v1M1187.5 800v1M1187.5 803v1M1206.5 798v1M1206.5 803v1M1211.5 733v1M1211.5 797v1M1216.5 790v1"/>
<path stroke="#164afe" stroke-width="5" d="M1053.5 721v1M1053.5 757v4M1062.5 723v3M1062.5 757v1M1067.5 718v1M1067.5 743v4M1072.5 716v2M1077.5 716v2M1077.5 746v1M1077.5 749v1M1086.5 747v3M1091.5 733v1M1091.5 770v2M1091.5 773v1M1096.5 722v1M1115.5 730v1M1125.5 739v2M1125.5 778v2M1125.5 782v2M1134.5 754v1M1139.5 727v2M1139.5 765v1M1144.5 729v1M1144.5 762v6M1144.5 769v1M1153.5 735v2M1153.5 776v1M1158.5 778v6M1158.5 786v3M1163.5 737v1M1163.5 786v3M1163.5 790v2M1168.5 737v1M1168.5 789v1M1168.5 792v4M1177.5 738v1M1177.5 792v1M1177.5 796v1M1182.5 737v1M1182.5 789v1M1182.5 793v1M1182.5 796v1M1182.5 798v2M1187.5 735v2M1187.5 789v1M1187.5 794v2M1192.5 789v1M1192.5 792v1M1201.5 733v1M1201.5 790v4M1201.5 798v2M1206.5 733v1M1206.5 789v3M1206.5 793v3M1206.5 801v2M1211.5 793v3M1211.5 801v2M1216.5 737v1M1216.5 792v4"/>
<path stroke="#0c6aff" stroke-width="5" d="M1053.5 722v1M1053.5 754v3M1062.5 754v3M1067.5 719v2M1067.5 742v1M1072.5 718v1M1072.5 742v3M1077.5 741v1M1077.5 745v1M1086.5 719v2M1086.5 746v1M1091.5 766v4M1096.5 721v1M1101.5 711v1M1110.5 708v2M1115.5 711v1M1120.5 719v2M1120.5 739v2M1125.5 741v1M1125.5 773v1M1125.5 777v1M1125.5 780v2M1134.5 726v1M1134.5 753v1M1139.5 757v1M1139.5 759v2M1144.5 758v1M1144.5 761v1M1153.5 737v1M1153.5 772v4M1153.5 777v3M1158.5 737v1M1158.5 776v2M1163.5 738v1M1163.5 781v3M1163.5 785v1M1168.5 738v1M1168.5 788v1M1168.5 790v2M1177.5 784v1M1177.5 786v2M1177.5 789v1M1182.5 738v1M1182.5 785v4M1182.5 790v2M1187.5 737v2M1187.5 782v2M1187.5 785v4M1187.5 790v2M1192.5 735v2M1192.5 782v7M1192.5 790v2M1201.5 734v1M1201.5 786v4M1206.5 734v1M1206.5 785v1M1206.5 788v1M1206.5 792v1M1211.5 735v2M1211.5 782v2M1211.5 786v3M1211.5 790v2M1216.5 785v4"/>
<path stroke="#0096ff" stroke-width="5" d="M1053.5 723v3M1053.5 753v1M1062.5 726v3M1062.5 753v1M1067.5 741v1M1072.5 741v1M1077.5 718v1M1077.5 742v3M1086.5 742v3M1091.5 734v1M1091.5 764v2M1096.5 704v2M1096.5 719v2M1101.5 696v2M1110.5 725v1M1115.5 729v1M1120.5 721v1M1120.5 737v1M1125.5 774v2M1134.5 750v1M1139.5 729v1M1139.5 751v6M1144.5 730v1M1144.5 757v1M1144.5 759v2M1153.5 770v2M1158.5 738v3M1158.5 773v3M1163.5 776v5M1168.5 780v5M1168.5 786v2M1177.5 739v2M1177.5 782v2M1177.5 785v1M1182.5 778v2M1182.5 781v4M1187.5 781v1M1187.5 784v1M1192.5 780v2M1201.5 735v2M1201.5 781v5M1206.5 735v2M1206.5 782v3M1211.5 737v1M1211.5 781v1M1211.5 784v2M1216.5 738v1M1216.5 778v2M1216.5 781v4"/>
<path stroke="#00bbf8" stroke-width="5" d="M1053.5 726v1M1062.5 751v2M1067.5 721v1M1072.5 719v2M1077.5 739v2M1086.5 741v1M1091.5 735v2M1096.5 706v1M1101.5 710v1M1110.5 710v1M1110.5 723v2M1115.5 727v2M1125.5 743v2M1125.5 769v1M1125.5 772v1M1134.5 727v3M1134.5 749v1M1139.5 750v1M1144.5 731v2M1144.5 755v2M1153.5 738v1M1153.5 769v1M1158.5 770v3M1163.5 739v3M1163.5 774v2M1168.5 739v4M1168.5 777v1M1177.5 780v2M1182.5 739v2M1182.5 777v1M1182.5 780v1M1187.5 778v3M1192.5 737v1M1192.5 778v2M1201.5 777v4M1206.5 737v1M1206.5 778v4M1211.5 780v1M1216.5 739v2M1216.5 776v2M1216.5 780v1"/>
<path stroke="#00e8c3" stroke-width="5" d="M1053.5 727v3M1062.5 730v1M1067.5 723v2M1072.5 737v1M1077.5 721v1M1077.5 738v1M1086.5 722v1M1086.5 739v2M1091.5 737v2M1091.5 759v2M1096.5 716v3M1101.5 698v1M1110.5 711v1M1110.5 722v1M1115.5 726v1M1120.5 722v1M1120.5 735v2M1125.5 766v2M1134.5 747v2M1139.5 747v3M1144.5 734v1M1144.5 751v2M1153.5 739v2M1153.5 764v2M1158.5 741v2M1158.5 768v2M1163.5 742v3M1163.5 770v4M1168.5 772v4M1177.5 773v4M1182.5 742v1M1182.5 770v7M1187.5 741v1M1187.5 772v1M1187.5 774v2M1192.5 739v2M1192.5 772v4M1201.5 737v1M1201.5 770v4M1206.5 738v1M1206.5 769v1M1206.5 773v1M1211.5 772v2M1211.5 776v1M1216.5 772v2"/>
<path stroke="#19f051" stroke-width="5" d="M1053.5 730v1M1053.5 746v1M1053.5 749v1M1062.5 731v3M1062.5 747v2M1067.5 737v1M1072.5 722v1M1077.5 722v1M1077.5 735v2M1086.5 723v2M1091.5 739v2M1091.5 757v1M1096.5 707v1M1101.5 699v1M1110.5 712v2M1110.5 721v1M1115.5 715v1M1120.5 723v2M1120.5 734v1M1125.5 746v1M1125.5 765v1M1134.5 743v2M1139.5 733v2M1139.5 746v1M1153.5 742v1M1153.5 761v3M1158.5 743v2M1158.5 764v1M1158.5 766v2M1163.5 745v2M1168.5 745v1M1168.5 765v1M1168.5 769v1M1177.5 768v2M1182.5 745v1M1182.5 769v1M1187.5 743v2M1187.5 765v3M1187.5 769v1M1201.5 764v1M1201.5 766v4M1206.5 765v1M1211.5 741v1M1211.5 768v4M1216.5 766v4"/>
<path stroke="#42f120" stroke-width="5" d="M1053.5 731v3M1053.5 735v2M1053.5 747v2M1062.5 746v1M1067.5 725v1M1067.5 735v2M1072.5 723v2M1086.5 725v1M1086.5 737v1M1091.5 741v1M1091.5 754v3M1115.5 716v2M1115.5 725v1M1120.5 725v1M1125.5 747v2M1125.5 762v2M1134.5 731v2M1139.5 743v2M1144.5 737v1M1144.5 749v1M1153.5 743v2M1153.5 758v3M1158.5 745v1M1158.5 765v1M1163.5 762v4M1168.5 746v3M1168.5 762v3M1168.5 766v2M1177.5 746v3M1182.5 746v1M1182.5 765v1M1182.5 768v1M1187.5 745v1M1187.5 762v3M1192.5 742v1M1192.5 762v7M1201.5 739v3M1201.5 762v2M1201.5 765v1M1206.5 741v2M1206.5 764v1M1211.5 742v1M1211.5 764v1M1211.5 766v2M1216.5 743v2M1216.5 764v2"/>
<path stroke="#83f40c" stroke-width="5" d="M1053.5 734v1M1053.5 745v1M1062.5 734v1M1062.5 745v1M1067.5 726v1M1067.5 734v1M1072.5 725v1M1072.5 734v1M1077.5 723v3M1086.5 727v2M1086.5 735v2M1091.5 753v1M1096.5 708v2M1096.5 715v1M1101.5 707v1M1110.5 719v2M1120.5 733v1M1125.5 749v1M1125.5 759v3M1134.5 739v2M1134.5 742v1M1139.5 735v2M1139.5 745v1M1144.5 739v2M1144.5 747v2M1153.5 745v1M1158.5 746v3M1158.5 762v2M1163.5 747v2M1163.5 759v3M1168.5 749v2M1168.5 761v1M1177.5 761v3M1177.5 765v3M1182.5 747v2M1182.5 759v2M1182.5 762v3M1182.5 766v2M1187.5 759v2M1192.5 745v1M1192.5 761v1M1201.5 755v3M1201.5 761v1M1206.5 743v2M1206.5 757v1M1206.5 761v3M1211.5 743v3M1211.5 758v1M1211.5 762v2M1211.5 765v1M1216.5 745v1M1216.5 761v3"/>
<path stroke="#fe9f00" stroke-width="5" d="M1053.5 737v1M1053.5 739v2M1062.5 741v1M1077.5 729v1M1086.5 729v1M1091.5 746v4M1096.5 711v1M1101.5 704v3M1110.5 716v2M1125.5 755v2M1144.5 742v1M1153.5 750v1M1153.5 753v1M1177.5 753v1M1177.5 758v1M1182.5 751v2M1187.5 750v1M1192.5 750v1M1192.5 753v2M1201.5 745v1M1201.5 747v3M1201.5 751v2M1211.5 747v4M1216.5 750v3"/>
<path stroke="#fccc00" stroke-width="5" d="M1053.5 738v1M1053.5 741v2M1062.5 743v2M1072.5 730v1M1086.5 731v2M1091.5 743v3M1096.5 714v1M1101.5 703v1M1115.5 718v1M1115.5 722v1M1120.5 727v3M1120.5 731v2M1125.5 751v2M1134.5 735v3M1139.5 737v1M1139.5 739v3M1144.5 741v1M1144.5 743v3M1153.5 751v2M1153.5 754v3M1158.5 750v5M1158.5 757v1M1163.5 755v3M1168.5 751v3M1168.5 757v1M1177.5 750v1M1177.5 754v4M1177.5 759v2M1182.5 757v1M1187.5 749v1M1187.5 751v6M1201.5 743v2M1201.5 746v1M1201.5 754v1M1206.5 745v6M1206.5 753v1M1206.5 755v2M1211.5 746v1M1211.5 753v1M1211.5 759v2M1216.5 753v2"/>
<path stroke="#f0f100" stroke-width="5" d="M1053.5 743v2M1062.5 737v2M1062.5 742v1M1067.5 729v4M1072.5 726v4M1072.5 731v3M1077.5 726v1M1077.5 731v3M1086.5 733v2M1091.5 751v2M1096.5 710v1M1096.5 712v2M1120.5 726v1M1125.5 753v2M1125.5 758v1M1134.5 734v1M1134.5 741v1M1144.5 746v1M1153.5 749v1M1158.5 755v2M1163.5 749v1M1163.5 753v2M1163.5 758v1M1168.5 754v3M1177.5 751v2M1182.5 749v2M1187.5 747v2M1192.5 746v1M1192.5 757v2M1201.5 742v1M1201.5 750v1M1201.5 753v1M1211.5 754v1M1211.5 761v1M1216.5 747v2M1216.5 758v1"/>
<path stroke="#00e1f0" stroke-width="5" d="M1053.5 750v3M1062.5 729v1M1062.5 750v1M1067.5 722v1M1067.5 738v3M1072.5 721v1M1072.5 738v3M1077.5 719v2M1086.5 721v1M1091.5 761v3M1115.5 712v2M1125.5 742v1M1125.5 745v1M1125.5 768v1M1125.5 770v2M1139.5 730v3M1144.5 733v1M1144.5 753v2M1153.5 766v3M1168.5 776v1M1168.5 778v2M1177.5 741v2M1177.5 777v3M1182.5 741v1M1187.5 739v2M1187.5 773v1M1187.5 776v2M1192.5 738v1M1192.5 776v2M1201.5 774v3M1206.5 774v4M1211.5 738v3M1211.5 774v2M1211.5 777v3M1216.5 741v1M1216.5 774v2"/>
<path stroke="#1b3bfc" stroke-width="5" d="M1053.5 761v1M1053.5 765v1M1053.5 768v1M1062.5 759v3M1062.5 765v1M1062.5 774v2M1062.5 780v1M1062.5 785v1M1067.5 749v2M1072.5 746v1M1072.5 749v1M1072.5 751v3M1072.5 755v2M1072.5 759v2M1072.5 772v1M1077.5 747v2M1077.5 750v1M1091.5 772v1M1091.5 777v1M1091.5 793v1M1101.5 715v1M1110.5 707v1M1110.5 730v1M1115.5 731v2M1120.5 742v3M1120.5 747v2M1125.5 785v5M1134.5 755v3M1139.5 761v1M1144.5 768v1M1144.5 772v1M1144.5 774v2M1153.5 734v1M1153.5 780v2M1153.5 803v1M1158.5 785v1M1158.5 792v1M1158.5 803v1M1163.5 794v2M1163.5 807v1M1168.5 797v1M1168.5 800v1M1177.5 737v1M1177.5 793v1M1182.5 794v2M1182.5 797v1M1182.5 800v3M1187.5 805v2M1192.5 734v1M1201.5 794v2M1201.5 797v1M1201.5 800v4M1206.5 796v2M1206.5 800v1M1211.5 734v1M1211.5 796v1M1211.5 798v2M1211.5 804v1M1216.5 796v5M1216.5 815v1"/>
<path stroke="#4657f8" stroke-width="5" d="M1053.5 769v1M1053.5 772v1M1053.5 776v1M1053.5 782v1M1053.5 797v1M1062.5 718v1M1062.5 762v1M1062.5 768v1M1062.5 769v1M1062.5 773v1M1062.5 777v1M1062.5 781v1M1062.5 784v1M1067.5 711v1M1067.5 715v1M1067.5 751v1M1067.5 759v1M1067.5 790v1M1072.5 747v1M1072.5 757v1M1072.5 778v1M1077.5 754v1M1077.5 757v1M1077.5 764v1M1086.5 711v1M1086.5 745v1M1086.5 761v1M1091.5 782v1M1091.5 789v1M1091.5 792v1M1115.5 733v1M1120.5 745v1M1120.5 746v1M1125.5 794v1M1125.5 796v1M1125.5 804v1M1125.5 808v1M1134.5 751v1M1134.5 759v1M1134.5 768v1M1134.5 770v1M1134.5 780v1M1139.5 774v1M1139.5 785v1M1144.5 773v1M1144.5 785v1M1144.5 796v1M1153.5 733v1M1153.5 784v1M1153.5 790v1M1153.5 793v1M1153.5 805v1M1158.5 790v1M1158.5 794v1M1158.5 798v1M1163.5 796v1M1168.5 798v1M1168.5 804v1M1168.5 808v1M1168.5 809v1M1177.5 803v1M1177.5 804v1M1182.5 809v1M1187.5 734v1M1187.5 798v1M1187.5 801v1M1192.5 798v1M1192.5 805v1M1201.5 731v1M1201.5 808v1M1206.5 786v1M1211.5 800v1M1211.5 816v1M1216.5 803v1"/>
<path stroke="#a8b0f7" stroke-width="4" d="M1058 714v1M1058 715v1M1058 721v1M1058 762v1M1058 777v1M1058 781v1M1082 710v1M1082 711v1M1082 715v1M1082 759v1M1130 725v1M1130 764v1M1149 726v1M1149 731v1M1149 777v1M1149 778v1M1149 780v1M1149 784v1M1149 798v1M1173 793v1M1173 798v1M1173 800v1M1173 812v1M1197 803v1"/>
<path stroke="#1b3bfc" stroke-width="4" d="M1058 723v2M1058 759v3M1058 764v1M1082 749v1M1130 754v1M1149 781v1M1173 737v1M1173 794v2M1173 797v1M1197 733v1"/>
<path stroke="#164afe" stroke-width="4" d="M1058 725v1M1058 755v3M1082 716v2M1082 746v3M1106 702v1M1106 721v1M1130 750v4M1149 733v1M1149 773v4M1173 788v2M1173 792v1M1173 796v1M1197 790v10"/>
<path stroke="#0096ff" stroke-width="4" d="M1058 726v1M1058 754v1M1082 718v1M1082 741v1M1106 718v1M1130 747v2M1149 764v1M1173 739v2M1173 778v2M1173 781v3M1197 737v1M1197 778v7"/>
<path stroke="#00bbf8" stroke-width="4" d="M1058 727v2M1058 750v3M1130 746v1M1149 735v2M1149 762v2M1173 780v1M1197 735v2M1197 777v1"/>
<path stroke="#00e1f0" stroke-width="4" d="M1058 729v1M1082 719v2M1082 739v2M1106 704v2M1106 716v2M1130 727v2M1130 745v1M1149 759v3M1173 741v2M1173 773v3M1173 777v1M1197 772v2M1197 776v1"/>
<path stroke="#00e8c3" stroke-width="4" d="M1058 730v1M1058 749v1M1082 721v2M1082 738v1M1130 729v1M1149 737v1M1149 758v1M1173 743v2M1173 772v1M1173 776v1M1197 738v3M1197 769v1M1197 774v2"/>
<path stroke="#00f096" stroke-width="4" d="M1058 731v2M1130 730v1M1130 743v2M1149 738v1M1149 757v1M1173 770v2M1197 765v4M1197 770v2"/>
<path stroke="#19f051" stroke-width="4" d="M1058 733v1M1058 747v2M1082 723v2M1082 737v1M1106 706v1M1106 715v1M1130 741v2M1149 739v2M1173 745v2M1173 768v2"/>
<path stroke="#42f120" stroke-width="4" d="M1058 734v3M1058 746v1M1082 725v1M1106 707v1M1130 731v2M1149 754v3M1173 765v3M1197 741v1M1197 759v6"/>
<path stroke="#bef400" stroke-width="4" d="M1058 737v1M1058 743v2M1082 734v1M1106 711v1M1130 733v1M1149 751v3M1173 758v1M1173 761v1M1197 743v4M1197 750v1M1197 753v1M1197 757v1"/>
<path stroke="#f0f100" stroke-width="4" d="M1058 738v1M1082 731v2M1106 710v1M1130 734v1M1130 738v1M1149 750v1M1173 753v2M1197 747v2M1197 751v2M1197 754v1"/>
<path stroke="#fe9f00" stroke-width="4" d="M1058 739v2M1082 727v2M1130 737v1M1149 743v2M1173 755v3M1197 749v1"/>
<path stroke="#fccc00" stroke-width="4" d="M1058 741v2M1082 729v2M1082 733v1M1106 712v2M1130 735v2M1149 746v3M1173 751v2"/>
<path stroke="#83f40c" stroke-width="4" d="M1058 745v1M1082 726v1M1082 735v2M1106 708v2M1106 714v1M1130 739v2M1149 741v2M1173 747v4M1173 759v2M1173 762v3M1197 742v1M1197 755v2M1197 758v1"/>
<path stroke="#0c6aff" stroke-width="4" d="M1058 753v1M1058 758v1M1082 742v4M1106 703v1M1106 719v2M1130 726v1M1130 749v1M1149 734v1M1149 765v8M1173 738v1M1173 784v4M1173 790v2M1197 734v1M1197 785v5"/>
<path stroke="#4657f8" stroke-width="4" d="M1058 772v1M1058 780v1M1058 782v1M1058 792v1M1058 793v1M1082 750v1M1082 751v1M1082 757v1M1082 765v1M1106 725v1M1130 755v1M1130 766v1M1130 768v1M1149 730v1M1149 782v2M1149 788v1M1149 793v1M1173 731v1M1173 804v1M1173 808v1M1173 811v1M1197 804v1"/>
<path stroke="#bef400" stroke-width="5" d="M1062.5 735v2M1067.5 727v2M1067.5 733v1M1077.5 734v1M1086.5 726v1M1091.5 742v1M1091.5 750v1M1101.5 700v3M1110.5 714v2M1110.5 718v1M1115.5 723v2M1125.5 750v1M1125.5 757v1M1134.5 733v1M1139.5 738v1M1139.5 742v1M1144.5 738v1M1153.5 746v3M1153.5 757v1M1158.5 749v1M1158.5 758v4M1163.5 750v3M1168.5 758v3M1177.5 749v1M1177.5 764v1M1182.5 758v1M1182.5 761v1M1187.5 746v1M1187.5 757v2M1187.5 761v1M1192.5 743v2M1192.5 755v2M1192.5 759v2M1201.5 758v3M1206.5 754v1M1206.5 758v3M1211.5 755v3M1216.5 746v1M1216.5 755v3M1216.5 759v2"/>
<path stroke="#ff7500" stroke-width="5" d="M1062.5 739v2M1077.5 727v2M1077.5 730v1M1115.5 719v3M1120.5 730v1M1134.5 738v1M1182.5 753v1M1182.5 755v2M1192.5 747v2M1192.5 751v2M1206.5 751v2M1216.5 749v1"/>
<path stroke="#00f096" stroke-width="5" d="M1062.5 749v1M1072.5 735v2M1077.5 737v1M1086.5 738v1M1091.5 758v1M1101.5 708v2M1115.5 714v1M1125.5 764v1M1134.5 730v1M1134.5 745v2M1144.5 735v2M1144.5 750v1M1153.5 741v1M1163.5 766v4M1168.5 743v2M1168.5 768v1M1168.5 770v2M1177.5 743v3M1177.5 770v3M1182.5 743v2M1187.5 742v1M1187.5 768v1M1187.5 770v2M1192.5 741v1M1192.5 769v3M1201.5 738v1M1206.5 739v2M1206.5 766v3M1206.5 770v3M1216.5 742v1M1216.5 770v2"/>
<path stroke="#ff4c00" stroke-width="5" d="M1086.5 730v1M1182.5 754v1M1192.5 749v1M1211.5 751v2"/>
<path stroke="#ff7500" stroke-width="4" d="M1149 745v1M1149 749v1"/>
</g>
<path d="M1051.3 817.0H1218.1" stroke="#555" stroke-width="1.1" fill="none"/>
<path d="M1051.3 816.8H1055.1" stroke="#d06060" stroke-width="1.5" fill="none"/>
<path d="M1060.9 816.8H1088.6" stroke="#6090d0" stroke-width="1.5" fill="none"/>
<path d="M1089.6 816.8H1093.4" stroke="#d06060" stroke-width="1.5" fill="none"/>
<path d="M1123.2 816.8H1127.0" stroke="#803060" stroke-width="1.5" fill="none"/>
<path d="M1128.0 816.8H1151.0" stroke="#70b0b0" stroke-width="1.5" fill="none"/>
<path d="M1152.0 816.8H1218.1" stroke="#d05050" stroke-width="1.5" fill="none"/>
<path d="M1050.5 817.3V650.5H1218.5V817.3" fill="none" stroke="#6a6a6a" stroke-width="1.25"/>
<path d="M1053.2 816.7v4.2M1096.3 816.7v4.2M1144.3 816.7v4.2M1192.3 816.7v4.2M1216.2 816.7v4.2" stroke="#333" stroke-width="1.1" fill="none"/>
<path d="M1053.2 816.7v1.6M1058.0 816.7v1.6M1062.8 816.7v1.6M1067.6 816.7v1.6M1072.4 816.7v1.6M1077.1 816.7v1.6M1081.9 816.7v1.6M1086.7 816.7v1.6M1091.5 816.7v1.6M1096.3 816.7v1.6M1101.1 816.7v1.6M1105.9 816.7v1.6M1110.7 816.7v1.6M1115.5 816.7v1.6M1120.3 816.7v1.6M1125.1 816.7v1.6M1129.9 816.7v1.6M1134.7 816.7v1.6M1139.5 816.7v1.6M1144.3 816.7v1.6M1149.1 816.7v1.6M1153.9 816.7v1.6M1158.7 816.7v1.6M1163.5 816.7v1.6M1168.3 816.7v1.6M1173.1 816.7v1.6M1177.9 816.7v1.6M1182.7 816.7v1.6M1187.5 816.7v1.6M1192.3 816.7v1.6M1197.1 816.7v1.6M1201.9 816.7v1.6M1206.7 816.7v1.6M1211.5 816.7v1.6M1216.2 816.7v1.6" stroke="#333" stroke-width="0.6" fill="none"/>
<text x="1051.1" y="829.6" font-size="8.6" fill="#1c1c1c" textLength="4.2" lengthAdjust="spacingAndGlyphs">1</text>
<text x="1092.1" y="829.6" font-size="8.6" fill="#1c1c1c" textLength="8.4" lengthAdjust="spacingAndGlyphs">10</text>
<text x="1140.1" y="829.6" font-size="8.6" fill="#1c1c1c" textLength="8.4" lengthAdjust="spacingAndGlyphs">20</text>
<text x="1188.1" y="829.6" font-size="8.6" fill="#1c1c1c" textLength="8.4" lengthAdjust="spacingAndGlyphs">30</text>
<text x="1212.0" y="829.6" font-size="8.6" fill="#1c1c1c" textLength="8.4" lengthAdjust="spacingAndGlyphs">35</text>
<rect x="1226.0" y="635.5" width="10.7" height="10.7" fill="#b416b4"/>
<path d="M1231.38 641.85L1235.88 640.85L1231.38 639.85ZM1230.89 641.34L1233.86 643.32L1231.88 640.36ZM1230.38 640.85L1231.38 645.35L1232.38 640.85ZM1230.89 640.36L1228.91 643.32L1231.88 641.34ZM1231.38 639.85L1226.88 640.85L1231.38 641.85ZM1231.88 640.36L1228.91 638.38L1230.89 641.34ZM1232.38 640.85L1231.38 636.35L1230.38 640.85ZM1231.88 641.34L1233.86 638.38L1230.89 640.36Z" fill="#fff"/>
<circle cx="1231.38" cy="640.85" r="2.0" fill="#fff"/>
<text x="1240.4" y="644.6" font-size="9.3" fill="#1c1c1c" textLength="25.2" lengthAdjust="spacingAndGlyphs">405nm</text>
<g fill="none">
<path stroke="#1b3bfc" stroke-width="5" d="M1228.5 733v1M1228.5 773v1M1228.5 790v2M1228.5 813v2M1233.5 733v1M1233.5 772v1M1233.5 774v2M1233.5 778v2M1233.5 790v2M1238.5 772v1M1238.5 776v1M1238.5 789v1M1247.5 755v2M1247.5 778v2M1257.5 721v1M1257.5 768v1M1257.5 778v2M1262.5 722v1M1262.5 753v1M1262.5 757v4M1262.5 762v2M1262.5 772v1M1281.5 725v1M1300.5 773v5M1305.5 726v1M1305.5 773v1M1310.5 757v1M1310.5 761v3M1319.5 773v1M1319.5 780v1M1324.5 778v3M1324.5 788v1M1324.5 792v1M1329.5 782v2M1334.5 789v1M1334.5 807v1M1334.5 809v2M1343.5 738v1M1343.5 793v1M1348.5 790v2M1348.5 798v2M1348.5 813v2M1358.5 796v4M1367.5 738v1M1367.5 792v1M1367.5 797v3M1367.5 804v1M1372.5 737v1M1372.5 798v2M1377.5 735v2M1377.5 794v2M1377.5 797v1M1377.5 800v1M1382.5 733v1M1382.5 798v2M1391.5 738v1"/>
<path stroke="#164afe" stroke-width="5" d="M1228.5 734v1M1233.5 734v1M1233.5 768v1M1233.5 773v1M1238.5 770v2M1247.5 721v1M1247.5 753v2M1252.5 721v1M1252.5 750v4M1257.5 749v1M1257.5 751v2M1262.5 750v1M1271.5 723v2M1276.5 715v1M1281.5 706v1M1295.5 719v2M1295.5 741v2M1300.5 738v1M1300.5 770v2M1305.5 753v2M1310.5 726v1M1310.5 754v1M1319.5 731v2M1319.5 764v4M1319.5 769v1M1324.5 772v2M1324.5 776v1M1329.5 735v2M1329.5 776v1M1329.5 778v4M1334.5 737v1M1334.5 780v4M1343.5 786v7M1343.5 794v2M1348.5 739v3M1348.5 786v2M1348.5 789v1M1348.5 792v1M1353.5 741v1M1353.5 786v2M1353.5 790v2M1358.5 788v4M1358.5 793v3M1367.5 789v1M1367.5 793v3M1372.5 738v1M1372.5 785v1M1372.5 790v2M1372.5 793v3M1377.5 785v4M1377.5 792v2M1377.5 798v2M1382.5 734v1M1382.5 788v1M1382.5 790v3M1382.5 796v2M1391.5 739v2M1391.5 788v10"/>
<path stroke="#0096ff" stroke-width="5" d="M1228.5 735v2M1228.5 764v2M1233.5 735v2M1233.5 765v1M1238.5 735v2M1247.5 745v1M1257.5 745v2M1262.5 725v1M1262.5 745v2M1276.5 714v1M1286.5 726v1M1295.5 721v1M1300.5 739v2M1300.5 765v1M1305.5 746v1M1305.5 749v1M1310.5 727v2M1319.5 755v3M1324.5 735v2M1324.5 761v5M1329.5 737v1M1329.5 769v1M1334.5 770v4M1334.5 776v1M1343.5 778v2M1348.5 742v1M1348.5 778v4M1353.5 743v2M1353.5 777v4M1358.5 743v2M1358.5 778v2M1358.5 781v3M1367.5 741v1M1367.5 777v3M1367.5 784v2M1372.5 778v2M1372.5 781v4M1377.5 738v1M1377.5 780v2M1382.5 735v3M1382.5 778v3M1382.5 782v2M1391.5 741v2M1391.5 781v1"/>
<path stroke="#00bbf8" stroke-width="5" d="M1228.5 737v1M1228.5 762v2M1233.5 737v1M1233.5 764v1M1238.5 737v1M1238.5 764v1M1247.5 723v2M1247.5 743v2M1252.5 723v2M1252.5 743v2M1257.5 723v2M1257.5 743v2M1271.5 721v1M1281.5 719v2M1286.5 725v1M1300.5 741v1M1300.5 762v3M1310.5 749v1M1319.5 754v1M1329.5 738v1M1329.5 765v4M1334.5 739v2M1343.5 741v2M1343.5 777v1M1348.5 774v4M1353.5 745v1M1353.5 776v1M1358.5 745v1M1358.5 776v2M1367.5 742v1M1367.5 776v1M1372.5 741v1M1372.5 777v1M1377.5 739v2M1377.5 777v1M1382.5 776v2M1391.5 743v3"/>
<path stroke="#00e8c3" stroke-width="5" d="M1228.5 738v1M1228.5 741v1M1228.5 761v1M1233.5 738v1M1238.5 738v1M1238.5 759v2M1247.5 725v1M1252.5 725v1M1252.5 741v2M1257.5 742v1M1262.5 726v1M1262.5 743v2M1271.5 719v2M1286.5 712v2M1286.5 723v2M1295.5 722v3M1295.5 735v2M1310.5 729v1M1310.5 746v3M1319.5 753v1M1324.5 738v1M1324.5 757v2M1329.5 741v1M1329.5 764v1M1334.5 766v2M1343.5 743v2M1348.5 745v1M1348.5 772v1M1353.5 747v2M1353.5 770v2M1358.5 773v3M1367.5 743v2M1367.5 770v3M1367.5 774v2M1372.5 742v3M1372.5 772v4M1377.5 770v2M1377.5 774v2M1382.5 741v1M1382.5 772v4M1391.5 746v3M1391.5 774v3"/>
<path stroke="#00e1f0" stroke-width="5" d="M1228.5 739v2M1233.5 761v3M1238.5 761v3M1257.5 725v1M1271.5 708v2M1276.5 702v1M1281.5 707v1M1300.5 761v1M1305.5 729v1M1305.5 745v1M1319.5 734v1M1324.5 737v1M1324.5 759v2M1329.5 739v2M1334.5 741v1M1334.5 768v2M1343.5 773v4M1348.5 743v2M1353.5 746v1M1353.5 773v3M1367.5 773v1M1372.5 776v1M1377.5 741v1M1377.5 772v2M1377.5 776v1M1382.5 738v3M1391.5 777v3"/>
<path stroke="#19f051" stroke-width="5" d="M1228.5 742v1M1228.5 757v2M1233.5 741v1M1233.5 757v1M1238.5 739v2M1247.5 726v1M1247.5 741v1M1252.5 727v2M1252.5 739v2M1257.5 726v1M1262.5 727v3M1262.5 742v1M1271.5 710v1M1271.5 718v1M1276.5 703v1M1281.5 710v1M1281.5 718v1M1295.5 725v1M1300.5 745v1M1300.5 758v1M1305.5 731v2M1319.5 737v1M1319.5 750v1M1324.5 754v1M1329.5 758v1M1329.5 761v1M1334.5 764v1M1343.5 746v1M1343.5 768v1M1343.5 770v2M1348.5 747v2M1348.5 768v1M1353.5 749v1M1353.5 769v1M1358.5 768v4M1367.5 766v2M1372.5 770v2M1377.5 745v1M1377.5 765v1M1377.5 768v1M1382.5 769v1M1391.5 749v2M1391.5 772v1"/>
<path stroke="#83f40c" stroke-width="5" d="M1228.5 743v2M1228.5 753v1M1238.5 741v2M1238.5 753v1M1238.5 755v2M1247.5 729v1M1247.5 737v2M1257.5 729v2M1271.5 711v1M1276.5 711v1M1281.5 716v2M1286.5 715v1M1286.5 722v1M1295.5 726v1M1295.5 731v2M1300.5 755v2M1305.5 733v1M1305.5 741v1M1310.5 731v2M1310.5 742v1M1319.5 738v1M1319.5 747v2M1324.5 751v2M1329.5 746v1M1329.5 755v2M1334.5 745v1M1334.5 757v1M1334.5 761v1M1343.5 747v2M1343.5 764v2M1348.5 750v3M1348.5 765v3M1353.5 762v2M1353.5 765v1M1358.5 765v3M1367.5 762v2M1372.5 747v2M1372.5 758v1M1372.5 761v1M1377.5 746v1M1377.5 755v3M1377.5 762v2M1382.5 745v1M1382.5 765v1M1391.5 753v2"/>
<path stroke="#bef400" stroke-width="5" d="M1228.5 745v4M1228.5 754v1M1233.5 743v2M1233.5 754v1M1238.5 754v1M1252.5 733v1M1252.5 737v2M1262.5 731v2M1262.5 738v1M1281.5 711v1M1295.5 729v1M1300.5 746v1M1305.5 734v1M1305.5 739v2M1324.5 750v1M1329.5 747v2M1329.5 754v1M1334.5 746v1M1334.5 758v1M1343.5 749v4M1343.5 761v1M1348.5 764v1M1353.5 753v1M1353.5 764v1M1358.5 751v2M1367.5 749v1M1367.5 764v1M1372.5 749v1M1372.5 759v2M1377.5 747v2M1377.5 758v1M1382.5 757v1M1382.5 761v1M1391.5 755v2M1391.5 768v1"/>
<path stroke="#f0f100" stroke-width="5" d="M1228.5 749v1M1228.5 751v2M1233.5 745v1M1233.5 751v3M1238.5 743v2M1238.5 751v2M1252.5 734v3M1257.5 738v1M1262.5 734v1M1271.5 714v1M1271.5 716v2M1276.5 707v1M1276.5 710v1M1281.5 715v1M1286.5 716v2M1300.5 754v1M1305.5 738v1M1310.5 733v1M1310.5 741v1M1324.5 743v2M1324.5 747v2M1329.5 753v1M1343.5 758v3M1348.5 754v3M1348.5 762v2M1353.5 754v1M1353.5 757v1M1358.5 753v1M1367.5 750v1M1367.5 759v2M1372.5 750v1M1372.5 753v1M1377.5 753v2M1382.5 754v1M1382.5 759v2M1391.5 757v2M1391.5 762v2M1391.5 765v1"/>
<path stroke="#fe9f00" stroke-width="5" d="M1228.5 750v1M1247.5 733v4M1257.5 733v1M1262.5 735v2M1281.5 712v2M1286.5 721v1M1300.5 751v3M1310.5 739v2M1319.5 743v2M1324.5 745v1M1324.5 749v1M1329.5 749v4M1334.5 749v1M1334.5 754v1M1343.5 753v1M1348.5 757v1M1358.5 754v3M1358.5 761v1M1367.5 751v2M1372.5 751v2M1382.5 755v2M1391.5 759v2"/>
<path stroke="#42f120" stroke-width="5" d="M1228.5 755v2M1233.5 742v1M1233.5 755v2M1247.5 727v2M1247.5 739v2M1252.5 729v2M1257.5 727v2M1257.5 739v2M1262.5 730v1M1262.5 739v2M1276.5 704v2M1295.5 733v1M1300.5 757v1M1310.5 743v2M1319.5 749v1M1324.5 741v2M1324.5 753v1M1329.5 743v3M1329.5 757v1M1334.5 743v2M1334.5 759v2M1334.5 762v2M1343.5 766v2M1348.5 749v1M1353.5 750v3M1353.5 766v3M1358.5 750v1M1367.5 747v2M1367.5 765v1M1367.5 768v1M1372.5 745v2M1372.5 762v6M1377.5 759v3M1377.5 764v1M1382.5 743v2M1382.5 762v3M1382.5 766v3M1391.5 751v2M1391.5 769v3"/>
<path stroke="#00f096" stroke-width="5" d="M1228.5 759v2M1233.5 739v2M1233.5 758v3M1238.5 757v2M1247.5 742v1M1252.5 726v1M1257.5 741v1M1262.5 741v1M1276.5 712v2M1281.5 708v2M1286.5 714v1M1295.5 734v1M1300.5 742v3M1300.5 759v2M1305.5 730v1M1305.5 742v3M1310.5 730v1M1310.5 745v1M1319.5 735v2M1319.5 751v2M1324.5 739v2M1324.5 755v2M1329.5 742v1M1329.5 759v2M1329.5 762v2M1334.5 742v1M1334.5 765v1M1343.5 745v1M1343.5 769v1M1343.5 772v1M1348.5 746v1M1348.5 769v3M1348.5 773v1M1353.5 772v1M1358.5 746v4M1358.5 772v1M1367.5 745v2M1367.5 769v1M1372.5 768v2M1377.5 742v3M1377.5 766v2M1377.5 769v1M1382.5 742v1M1382.5 770v2M1391.5 773v1"/>
<path stroke="#0c6aff" stroke-width="5" d="M1228.5 766v4M1233.5 766v2M1233.5 769v3M1238.5 734v1M1238.5 765v4M1247.5 722v1M1247.5 746v1M1247.5 749v1M1252.5 722v1M1252.5 745v5M1257.5 722v1M1257.5 747v2M1262.5 723v2M1262.5 747v3M1271.5 707v1M1271.5 722v1M1276.5 700v2M1281.5 721v2M1286.5 711v1M1286.5 727v2M1295.5 737v4M1300.5 766v4M1305.5 727v2M1305.5 747v2M1305.5 750v3M1310.5 750v3M1319.5 733v1M1319.5 758v6M1324.5 734v1M1324.5 766v2M1324.5 769v3M1329.5 770v6M1329.5 777v1M1334.5 738v1M1334.5 774v2M1343.5 739v2M1343.5 780v6M1348.5 782v4M1348.5 788v1M1353.5 742v1M1353.5 781v5M1353.5 789v1M1358.5 741v2M1358.5 780v1M1358.5 784v4M1367.5 739v2M1367.5 780v4M1367.5 788v1M1372.5 739v2M1372.5 780v1M1372.5 786v4M1377.5 737v1M1377.5 778v2M1377.5 782v3M1382.5 781v1M1382.5 784v4M1382.5 789v1M1391.5 780v1M1391.5 782v6"/>
<path stroke="#4657f8" stroke-width="5" d="M1228.5 772v1M1228.5 785v1M1228.5 815v1M1233.5 776v1M1233.5 789v1M1233.5 797v1M1238.5 733v1M1238.5 773v1M1238.5 807v1M1247.5 719v1M1247.5 757v1M1247.5 772v1M1247.5 777v1M1247.5 782v1M1252.5 754v1M1252.5 755v1M1252.5 768v1M1252.5 778v1M1252.5 780v1M1252.5 789v1M1257.5 750v1M1257.5 761v1M1257.5 764v1M1257.5 773v1M1262.5 770v1M1262.5 778v1M1276.5 699v1M1286.5 731v1M1295.5 743v1M1295.5 747v1M1300.5 793v1M1300.5 809v1M1305.5 757v1M1310.5 766v1M1310.5 772v1M1319.5 768v1M1319.5 774v1M1319.5 777v1M1319.5 786v1M1324.5 733v1M1324.5 790v1M1324.5 794v1M1329.5 786v1M1329.5 789v1M1329.5 805v1M1334.5 733v1M1334.5 735v1M1334.5 790v1M1334.5 794v1M1334.5 805v1M1343.5 796v1M1343.5 797v1M1343.5 805v1M1348.5 800v1M1348.5 801v1M1353.5 794v1M1353.5 797v1M1353.5 800v1M1367.5 734v1M1367.5 786v1M1367.5 801v2M1367.5 805v1M1367.5 808v1M1367.5 809v1M1367.5 812v1M1372.5 805v1M1372.5 807v1M1382.5 808v1M1382.5 809v1M1391.5 800v1M1391.5 803v1M1391.5 808v1M1391.5 812v1"/>
<path stroke="#a8b0f7" stroke-width="5" d="M1228.5 774v1M1228.5 776v1M1228.5 781v1M1233.5 730v1M1233.5 785v1M1233.5 792v1M1238.5 730v1M1238.5 731v1M1238.5 769v1M1238.5 774v1M1247.5 750v1M1247.5 758v1M1252.5 777v1M1257.5 754v1M1257.5 755v1M1262.5 751v1M1262.5 754v1M1276.5 716v1M1276.5 718v1M1286.5 710v1M1300.5 772v1M1300.5 785v1M1300.5 805v1M1305.5 755v1M1305.5 765v1M1310.5 753v1M1310.5 758v1M1319.5 770v1M1319.5 772v1M1319.5 776v1M1324.5 731v1M1324.5 777v1M1324.5 781v1M1324.5 782v1M1324.5 784v1M1329.5 796v1M1334.5 777v1M1334.5 784v1M1334.5 786v1M1334.5 788v1M1343.5 798v1M1343.5 800v1M1343.5 801v1M1348.5 738v1M1348.5 793v1M1348.5 794v1M1348.5 796v1M1353.5 737v1M1353.5 788v1M1353.5 792v1M1353.5 793v1M1353.5 798v1M1353.5 801v1M1358.5 738v1M1358.5 800v1M1358.5 804v1M1358.5 812v1M1367.5 735v1M1367.5 796v1M1367.5 803v1M1372.5 792v1M1372.5 796v1M1372.5 801v1M1377.5 789v1M1377.5 790v1M1377.5 796v1M1382.5 793v1M1382.5 794v1M1382.5 800v1M1382.5 801v1M1382.5 803v1M1382.5 813v1M1391.5 798v1M1391.5 801v1"/>
<path stroke="#fccc00" stroke-width="5" d="M1233.5 746v1M1238.5 745v2M1238.5 750v1M1247.5 730v3M1252.5 731v2M1257.5 737v1M1262.5 733v1M1262.5 737v1M1271.5 712v2M1276.5 706v1M1281.5 714v1M1295.5 727v2M1295.5 730v1M1300.5 747v2M1305.5 735v3M1310.5 734v1M1319.5 739v4M1319.5 745v2M1324.5 746v1M1334.5 747v2M1334.5 750v1M1334.5 755v2M1343.5 755v3M1343.5 762v2M1348.5 753v1M1348.5 759v3M1353.5 755v2M1353.5 758v4M1358.5 762v3M1367.5 754v5M1367.5 761v1M1372.5 754v4M1377.5 749v4M1382.5 746v4M1382.5 758v1M1391.5 761v1M1391.5 764v1M1391.5 766v2"/>
<path stroke="#ff7500" stroke-width="5" d="M1233.5 747v4M1238.5 747v3M1257.5 731v2M1257.5 734v3M1271.5 715v1M1276.5 708v2M1286.5 718v3M1300.5 749v2M1310.5 735v2M1310.5 738v1M1334.5 751v2M1348.5 758v1M1358.5 757v4M1367.5 753v1M1382.5 751v2"/>
<path stroke="#a8b0f7" stroke-width="4" d="M1243 719v1M1243 755v1M1243 766v1M1267 765v1M1267 772v1M1291 730v1M1291 731v1M1315 727v1M1315 759v1M1315 764v1M1315 766v1M1315 768v1M1339 793v1M1339 801v1M1339 811v1M1363 738v1M1363 789v1M1363 800v1M1387 796v1M1387 798v1M1387 803v1"/>
<path stroke="#164afe" stroke-width="4" d="M1243 721v1M1243 749v1M1243 751v2M1267 762v3M1291 727v2M1315 762v2M1339 788v1M1363 792v1M1363 794v3M1387 735v2M1387 789v7"/>
<path stroke="#0c6aff" stroke-width="4" d="M1243 722v1M1243 746v3M1267 734v1M1267 758v4M1291 711v1M1315 730v1M1315 754v5M1339 738v3M1339 780v1M1339 782v3M1363 741v1M1363 780v9M1363 790v2M1387 737v1M1387 785v4"/>
<path stroke="#0096ff" stroke-width="4" d="M1243 723v2M1243 745v1M1267 735v2M1267 757v1M1291 726v1M1339 776v4M1363 742v3M1387 738v1M1387 778v7"/>
<path stroke="#00e1f0" stroke-width="4" d="M1243 725v1M1291 712v2M1291 725v1M1315 731v2M1315 750v1M1339 742v1M1363 745v1M1363 773v4M1387 773v1M1387 776v1"/>
<path stroke="#00e8c3" stroke-width="4" d="M1243 726v1M1243 741v2M1267 737v1M1267 753v1M1315 749v1M1339 770v2M1363 746v3M1363 772v1M1387 742v3M1387 772v1M1387 774v2"/>
<path stroke="#19f051" stroke-width="4" d="M1243 727v2M1243 739v2M1267 739v2M1267 750v1M1291 714v1M1291 723v2M1315 747v2M1339 764v2M1363 749v1M1363 766v3M1387 746v1M1387 768v1M1387 770v2"/>
<path stroke="#42f120" stroke-width="4" d="M1243 729v1M1291 715v1M1315 735v2M1315 745v2M1339 746v3M1339 762v2M1363 764v1M1387 769v1"/>
<path stroke="#bef400" stroke-width="4" d="M1243 730v1M1243 738v1M1267 741v1M1267 749v1M1315 737v1M1339 749v1M1339 757v1M1363 751v2M1387 764v2"/>
<path stroke="#fccc00" stroke-width="4" d="M1243 731v2M1243 734v1M1243 737v1M1267 742v1M1291 719v3M1315 738v1M1339 750v1M1363 753v1M1387 751v2M1387 757v1M1387 761v3"/>
<path stroke="#ff7500" stroke-width="4" d="M1243 733v1M1267 745v1M1291 718v1M1339 751v2M1387 758v1"/>
<path stroke="#f0f100" stroke-width="4" d="M1243 735v2M1267 746v1M1291 716v2M1315 742v3M1339 755v2M1339 759v2M1363 755v3M1363 761v1M1387 759v2"/>
<path stroke="#00bbf8" stroke-width="4" d="M1243 743v2M1267 754v3M1315 751v3M1339 741v1M1339 772v4M1363 777v3M1387 739v3M1387 777v1"/>
<path stroke="#4657f8" stroke-width="4" d="M1243 753v1M1243 774v1M1243 776v1M1267 774v1M1267 792v1M1267 793v1M1291 708v1M1315 772v1M1315 773v1M1315 777v1M1339 789v1M1339 796v1M1339 797v1M1363 807v1"/>
<path stroke="#1b3bfc" stroke-width="4" d="M1243 758v1M1243 768v1M1243 770v3M1243 777v1M1267 733v1M1267 770v2M1267 790v2M1291 735v2M1315 761v1M1339 737v1M1339 790v3M1339 794v2M1363 739v2M1363 797v3"/>
<path stroke="#00f096" stroke-width="4" d="M1267 738v1M1267 751v2M1315 733v2M1339 743v3M1339 766v4M1363 769v3M1387 745v1"/>
<path stroke="#fe9f00" stroke-width="4" d="M1267 743v2M1315 739v3M1339 753v2M1363 754v1M1363 758v1M1387 753v4"/>
<path stroke="#83f40c" stroke-width="4" d="M1267 747v2M1291 722v1M1339 758v1M1339 761v1M1363 750v1M1363 759v2M1363 762v2M1363 765v1M1387 747v4M1387 766v2"/>
<path stroke="#ff4c00" stroke-width="5" d="M1310.5 737v1M1334.5 753v1M1343.5 754v1M1382.5 750v1M1382.5 753v1"/>
</g>
<path d="M1226.6 817.0H1393.7" stroke="#555" stroke-width="1.1" fill="none"/>
<path d="M1226.6 816.8H1230.4" stroke="#80c060" stroke-width="1.5" fill="none"/>
<path d="M1231.4 816.8H1240.0" stroke="#d06060" stroke-width="1.5" fill="none"/>
<path d="M1241.0 816.8H1264.1" stroke="#70c0c0" stroke-width="1.5" fill="none"/>
<path d="M1298.7 816.8H1302.5" stroke="#d06060" stroke-width="1.5" fill="none"/>
<path d="M1303.5 816.8H1326.5" stroke="#70b0b0" stroke-width="1.5" fill="none"/>
<path d="M1327.5 816.8H1393.7" stroke="#d05050" stroke-width="1.5" fill="none"/>
<path d="M1226.5 817.3V650.5H1394.5V817.3" fill="none" stroke="#6a6a6a" stroke-width="1.25"/>
<path d="M1228.5 816.7v4.2M1271.8 816.7v4.2M1319.8 816.7v4.2M1367.8 816.7v4.2M1391.8 816.7v4.2" stroke="#333" stroke-width="1.1" fill="none"/>
<path d="M1228.5 816.7v1.6M1233.3 816.7v1.6M1238.1 816.7v1.6M1242.9 816.7v1.6M1247.7 816.7v1.6M1252.5 816.7v1.6M1257.3 816.7v1.6M1262.1 816.7v1.6M1267.0 816.7v1.6M1271.8 816.7v1.6M1276.6 816.7v1.6M1281.4 816.7v1.6M1286.2 816.7v1.6M1291.0 816.7v1.6M1295.8 816.7v1.6M1300.6 816.7v1.6M1305.4 816.7v1.6M1310.2 816.7v1.6M1315.0 816.7v1.6M1319.8 816.7v1.6M1324.6 816.7v1.6M1329.4 816.7v1.6M1334.2 816.7v1.6M1339.0 816.7v1.6M1343.8 816.7v1.6M1348.6 816.7v1.6M1353.4 816.7v1.6M1358.2 816.7v1.6M1363.0 816.7v1.6M1367.8 816.7v1.6M1372.6 816.7v1.6M1377.4 816.7v1.6M1382.2 816.7v1.6M1387.0 816.7v1.6M1391.8 816.7v1.6" stroke="#333" stroke-width="0.6" fill="none"/>
<text x="1226.4" y="829.6" font-size="8.6" fill="#1c1c1c" textLength="4.2" lengthAdjust="spacingAndGlyphs">1</text>
<text x="1267.6" y="829.6" font-size="8.6" fill="#1c1c1c" textLength="8.4" lengthAdjust="spacingAndGlyphs">10</text>
<text x="1315.6" y="829.6" font-size="8.6" fill="#1c1c1c" textLength="8.4" lengthAdjust="spacingAndGlyphs">20</text>
<text x="1363.6" y="829.6" font-size="8.6" fill="#1c1c1c" textLength="8.4" lengthAdjust="spacingAndGlyphs">30</text>
<text x="1387.6" y="829.6" font-size="8.6" fill="#1c1c1c" textLength="8.4" lengthAdjust="spacingAndGlyphs">35</text>
<rect x="1401.7" y="635.5" width="10.7" height="10.7" fill="#1478b8"/>
<path d="M1407.05 641.85L1411.55 640.85L1407.05 639.85ZM1406.55 641.34L1409.52 643.32L1407.54 640.36ZM1406.05 640.85L1407.05 645.35L1408.05 640.85ZM1406.55 640.36L1404.57 643.32L1407.54 641.34ZM1407.05 639.85L1402.55 640.85L1407.05 641.85ZM1407.54 640.36L1404.57 638.38L1406.55 641.34ZM1408.05 640.85L1407.05 636.35L1406.05 640.85ZM1407.54 641.34L1409.52 638.38L1406.55 640.36Z" fill="#fff"/>
<circle cx="1407.05" cy="640.85" r="2.0" fill="#fff"/>
<text x="1416.1" y="644.6" font-size="9.3" fill="#1c1c1c" textLength="25.2" lengthAdjust="spacingAndGlyphs">488nm</text>
<g fill="none">
<path stroke="#1b3bfc" stroke-width="5" d="M1404.5 722v1M1404.5 749v1M1404.5 759v5M1404.5 772v1M1418.5 735v3M1423.5 727v2M1452.5 702v1M1466.5 704v2M1471.5 722v1M1490.5 737v1M1495.5 743v3M1500.5 751v3M1500.5 761v1M1505.5 761v1M1514.5 730v1M1514.5 768v1M1514.5 770v2M1514.5 773v3M1519.5 776v2M1519.5 788v1M1524.5 776v1M1529.5 766v2M1529.5 774v2M1534.5 764v2M1543.5 723v2M1543.5 768v2M1543.5 778v2M1543.5 781v1M1548.5 772v1M1548.5 774v2M1553.5 731v2M1553.5 778v2M1553.5 784v2M1553.5 792v2"/>
<path stroke="#0c6aff" stroke-width="5" d="M1404.5 723v2M1404.5 742v4M1413.5 742v1M1418.5 731v2M1428.5 703v1M1428.5 719v2M1437.5 669v2M1452.5 684v2M1457.5 711v1M1466.5 722v1M1476.5 723v2M1481.5 726v1M1500.5 745v2M1514.5 758v3M1519.5 762v3M1519.5 766v2M1524.5 757v2M1524.5 761v1M1524.5 764v4M1524.5 769v1M1524.5 772v1M1529.5 757v1M1529.5 759v3M1534.5 726v1M1534.5 754v5M1543.5 725v1M1543.5 751v3M1543.5 755v3M1548.5 753v1M1548.5 755v2M1548.5 759v5M1553.5 761v4M1553.5 766v2M1553.5 769v1M1553.5 772v1"/>
<path stroke="#00e1f0" stroke-width="5" d="M1404.5 725v1M1404.5 741v1M1418.5 716v2M1423.5 723v2M1437.5 671v1M1437.5 683v1M1447.5 695v1M1452.5 686v1M1457.5 710v1M1476.5 708v2M1490.5 718v1M1490.5 733v1M1500.5 727v2M1500.5 742v1M1505.5 747v2M1519.5 754v1M1524.5 734v1M1529.5 753v1M1534.5 729v1M1534.5 749v1M1553.5 734v1"/>
<path stroke="#00e8c3" stroke-width="5" d="M1404.5 726v1M1404.5 739v2M1413.5 726v1M1413.5 739v2M1423.5 711v1M1442.5 688v2M1452.5 699v1M1457.5 708v2M1466.5 707v1M1466.5 719v2M1476.5 721v1M1495.5 737v1M1505.5 730v1M1505.5 746v1M1514.5 751v2M1524.5 735v2M1524.5 754v1M1529.5 733v1M1529.5 751v2M1534.5 730v1M1543.5 727v2M1543.5 746v1M1548.5 731v3M1553.5 754v3"/>
<path stroke="#42f120" stroke-width="5" d="M1404.5 727v2M1413.5 727v2M1418.5 718v1M1418.5 727v2M1428.5 715v1M1437.5 682v1M1442.5 677v2M1447.5 694v1M1452.5 698v1M1457.5 698v1M1457.5 707v1M1466.5 708v2M1466.5 718v1M1471.5 716v2M1481.5 712v2M1481.5 722v1M1490.5 721v1M1490.5 730v1M1495.5 725v1M1500.5 729v2M1500.5 739v2M1505.5 731v2M1514.5 737v1M1519.5 750v1M1524.5 751v2M1529.5 735v2M1534.5 745v1M1543.5 729v2M1543.5 742v1M1548.5 734v1M1553.5 738v1M1553.5 751v2"/>
<path stroke="#83f40c" stroke-width="5" d="M1404.5 729v1M1404.5 738v1M1413.5 737v1M1423.5 714v1M1423.5 721v1M1428.5 707v3M1437.5 673v2M1442.5 686v1M1447.5 684v2M1452.5 688v2M1466.5 716v2M1471.5 707v1M1476.5 710v1M1476.5 718v1M1514.5 749v1M1519.5 738v1M1524.5 738v1M1524.5 750v1M1534.5 733v1M1534.5 742v3M1543.5 731v2M1548.5 746v1M1553.5 750v1"/>
<path stroke="#f0f100" stroke-width="5" d="M1404.5 730v3M1404.5 737v1M1413.5 735v2M1418.5 719v2M1442.5 684v2M1447.5 691v1M1457.5 699v1M1466.5 711v1M1466.5 715v1M1481.5 714v1M1490.5 722v1M1490.5 729v1M1495.5 733v1M1505.5 739v3M1514.5 739v2M1514.5 746v1M1519.5 739v2M1519.5 749v1M1529.5 745v1M1534.5 734v1M1543.5 733v1M1543.5 739v3M1548.5 737v1"/>
<path stroke="#ff2300" stroke-width="5" d="M1404.5 733v1M1413.5 731v2M1452.5 694v1M1471.5 711v1M1490.5 725v1M1514.5 742v1M1519.5 745v1"/>
<path stroke="#fe9f00" stroke-width="5" d="M1404.5 734v1M1418.5 722v3M1423.5 719v2M1428.5 710v1M1428.5 712v2M1442.5 682v1M1452.5 692v2M1452.5 695v1M1457.5 700v2M1457.5 703v1M1471.5 714v1M1476.5 715v3M1481.5 716v2M1481.5 719v2M1490.5 727v2M1495.5 727v2M1495.5 731v2M1500.5 734v1M1505.5 735v2M1514.5 741v1M1524.5 741v1M1524.5 745v2M1524.5 749v1M1529.5 739v2M1529.5 742v3M1534.5 735v2M1534.5 741v1M1548.5 739v2M1553.5 742v1M1553.5 745v1M1553.5 747v2"/>
<path stroke="#ff4c00" stroke-width="5" d="M1404.5 735v2M1413.5 733v2M1437.5 675v1M1442.5 683v1M1447.5 688v3M1452.5 691v1M1476.5 712v2M1490.5 723v2M1519.5 743v2M1519.5 746v1M1524.5 742v1M1534.5 738v1M1543.5 735v2"/>
<path stroke="#164afe" stroke-width="5" d="M1404.5 746v1M1413.5 723v2M1413.5 743v2M1418.5 734v1M1423.5 708v2M1423.5 726v1M1428.5 721v1M1437.5 686v1M1442.5 691v1M1447.5 680v2M1447.5 698v1M1457.5 694v1M1471.5 721v1M1481.5 708v2M1490.5 716v2M1490.5 735v2M1495.5 721v1M1495.5 741v2M1500.5 725v1M1500.5 749v1M1505.5 726v1M1505.5 753v6M1514.5 761v3M1514.5 765v3M1514.5 772v1M1519.5 731v2M1519.5 765v1M1519.5 769v1M1519.5 772v1M1524.5 731v2M1524.5 770v2M1524.5 774v2M1529.5 762v3M1529.5 768v1M1534.5 761v1M1534.5 766v2M1543.5 754v1M1543.5 758v4M1548.5 729v1M1548.5 764v2M1548.5 769v1M1553.5 768v1M1553.5 773v5M1553.5 781v1"/>
<path stroke="#4657f8" stroke-width="5" d="M1404.5 747v1M1404.5 754v1M1413.5 745v1M1418.5 712v1M1437.5 687v1M1476.5 706v1M1476.5 730v1M1481.5 730v1M1490.5 738v1M1495.5 718v1M1495.5 749v1M1495.5 750v1M1500.5 750v1M1500.5 755v1M1500.5 759v1M1505.5 762v1M1505.5 764v1M1505.5 766v1M1505.5 773v1M1505.5 776v1M1514.5 782v1M1514.5 789v1M1519.5 729v1M1519.5 792v1M1524.5 780v1M1524.5 781v1M1524.5 788v1M1524.5 789v1M1524.5 797v1M1524.5 798v1M1529.5 776v1M1529.5 777v1M1529.5 781v1M1529.5 794v1M1534.5 772v1M1534.5 773v1M1534.5 782v1M1534.5 793v1M1534.5 794v1M1534.5 805v1M1543.5 764v1M1543.5 784v1M1543.5 786v1M1548.5 768v1M1548.5 776v1M1553.5 770v1M1553.5 780v1M1553.5 798v1"/>
<path stroke="#a8b0f7" stroke-width="5" d="M1404.5 750v1M1495.5 739v1M1495.5 746v1M1500.5 723v1M1500.5 747v1M1500.5 754v1M1505.5 759v1M1514.5 785v1M1514.5 792v1M1514.5 794v1M1519.5 730v1M1519.5 770v1M1519.5 773v1M1519.5 780v1M1519.5 784v1M1524.5 773v1M1524.5 778v1M1524.5 782v1M1524.5 784v1M1524.5 785v1M1524.5 790v1M1529.5 729v1M1529.5 769v1M1529.5 770v1M1529.5 772v1M1529.5 773v1M1529.5 790v1M1529.5 807v1M1534.5 768v1M1534.5 789v1M1543.5 765v1M1543.5 766v1M1543.5 780v1M1548.5 758v1M1548.5 766v1M1548.5 786v1M1553.5 765v1M1553.5 786v1M1553.5 797v1"/>
<path stroke="#a8b0f7" stroke-width="4" d="M1409 722v1M1409 745v1M1409 747v1M1433 675v1M1462 734v1M1486 710v1M1510 727v1M1510 762v1M1510 772v1M1539 762v1M1539 764v1M1539 768v1M1539 770v1M1539 772v1M1539 803v1"/>
<path stroke="#1b3bfc" stroke-width="4" d="M1409 723v2M1462 733v1M1486 731v2M1486 735v2M1510 768v1M1510 781v1M1510 786v2M1539 758v1M1539 773v1M1539 793v1"/>
<path stroke="#0c6aff" stroke-width="4" d="M1409 725v1M1409 743v2M1433 692v2M1462 730v1M1486 712v2M1510 730v1M1510 755v2M1510 758v1M1539 725v1M1539 753v1"/>
<path stroke="#00e8c3" stroke-width="4" d="M1409 726v1M1462 715v1M1510 750v1M1539 745v1"/>
<path stroke="#19f051" stroke-width="4" d="M1409 727v2M1462 726v1M1486 716v2M1510 734v1M1510 749v1M1539 743v2"/>
<path stroke="#42f120" stroke-width="4" d="M1409 729v1M1486 726v1M1539 742v1"/>
<path stroke="#f0f100" stroke-width="4" d="M1409 730v1M1409 737v1M1433 680v2M1462 718v1M1539 734v1"/>
<path stroke="#fe9f00" stroke-width="4" d="M1409 731v2M1462 723v2M1486 719v6M1510 738v1M1510 741v4"/>
<path stroke="#ff4c00" stroke-width="4" d="M1409 733v1"/>
<path stroke="#ff7500" stroke-width="4" d="M1409 734v3M1433 682v1M1462 719v3M1539 737v1"/>
<path stroke="#83f40c" stroke-width="4" d="M1409 738v1M1433 688v2M1462 716v2M1462 725v1M1486 718v1M1486 725v1M1510 735v2M1510 746v3M1539 730v1M1539 741v1"/>
<path stroke="#00f096" stroke-width="4" d="M1409 739v2M1433 679v1M1433 690v1M1462 727v2M1486 715v1M1486 727v2M1510 733v1M1539 727v3"/>
<path stroke="#00e1f0" stroke-width="4" d="M1409 741v1M1433 691v1M1462 729v1M1539 746v3"/>
<path stroke="#0096ff" stroke-width="4" d="M1409 742v1M1462 714v1M1486 730v1M1510 753v2M1539 749v4"/>
<path stroke="#164afe" stroke-width="4" d="M1409 746v1M1433 694v1M1462 712v2M1462 731v2M1510 759v3M1539 723v2M1539 754v4"/>
<path stroke="#4657f8" stroke-width="4" d="M1409 755v1M1510 766v1M1510 782v1M1510 784v1M1539 765v1M1539 769v1M1539 782v1"/>
<path stroke="#00bbf8" stroke-width="5" d="M1413.5 725v1M1418.5 730v1M1423.5 710v1M1428.5 704v2M1428.5 718v1M1437.5 684v2M1442.5 675v1M1447.5 682v1M1447.5 696v2M1466.5 706v1M1466.5 721v1M1471.5 704v2M1471.5 719v2M1476.5 722v1M1481.5 710v1M1481.5 725v1M1495.5 722v1M1495.5 738v1M1505.5 729v1M1505.5 749v1M1514.5 733v1M1514.5 753v1M1519.5 734v1M1524.5 755v2M1529.5 754v1M1543.5 726v1M1543.5 747v2M1548.5 751v2M1553.5 757v1"/>
<path stroke="#bef400" stroke-width="5" d="M1413.5 729v1M1418.5 726v1M1437.5 680v2M1442.5 679v1M1447.5 692v2M1452.5 696v2M1457.5 706v1M1466.5 710v1M1471.5 715v1M1495.5 726v1M1495.5 734v1M1500.5 731v2M1500.5 738v1M1505.5 733v1M1505.5 742v1M1514.5 738v1M1514.5 747v2M1524.5 739v2M1529.5 738v1M1529.5 746v3M1548.5 735v2M1548.5 743v3M1553.5 739v2M1553.5 749v1"/>
<path stroke="#fccc00" stroke-width="5" d="M1413.5 730v1M1423.5 715v3M1428.5 711v1M1428.5 714v1M1437.5 679v1M1447.5 686v2M1452.5 690v1M1466.5 714v1M1471.5 708v2M1476.5 711v1M1476.5 714v1M1481.5 721v1M1495.5 730v1M1500.5 733v1M1505.5 734v1M1505.5 738v1M1514.5 745v1M1519.5 741v1M1519.5 747v2M1524.5 747v2M1529.5 737v1M1543.5 738v1M1548.5 738v1M1548.5 742v1M1553.5 741v1M1553.5 746v1"/>
<path stroke="#19f051" stroke-width="5" d="M1413.5 738v1M1423.5 712v2M1423.5 722v1M1428.5 706v1M1437.5 672v1M1442.5 687v1M1447.5 683v1M1452.5 687v1M1471.5 706v1M1476.5 719v2M1490.5 731v2M1495.5 735v2M1505.5 743v2M1514.5 735v2M1514.5 750v1M1519.5 735v3M1519.5 751v2M1524.5 737v1M1524.5 753v1M1529.5 734v1M1529.5 749v2M1534.5 731v2M1543.5 743v2M1553.5 737v1"/>
<path stroke="#0096ff" stroke-width="5" d="M1413.5 741v1M1418.5 715v1M1423.5 725v1M1442.5 690v1M1452.5 700v2M1457.5 695v1M1476.5 707v1M1490.5 734v1M1500.5 726v1M1500.5 743v2M1505.5 727v2M1505.5 750v3M1514.5 731v2M1514.5 754v4M1519.5 733v1M1519.5 755v7M1524.5 733v1M1524.5 759v2M1524.5 762v2M1529.5 730v3M1529.5 755v2M1529.5 758v1M1534.5 727v2M1534.5 750v4M1543.5 749v2M1548.5 730v1M1548.5 754v1M1548.5 757v1M1553.5 733v1M1553.5 758v3"/>
<path stroke="#ff7500" stroke-width="5" d="M1418.5 721v1M1418.5 725v1M1423.5 718v1M1437.5 676v3M1442.5 680v2M1457.5 702v1M1457.5 704v2M1466.5 712v2M1471.5 710v1M1471.5 712v2M1481.5 715v1M1481.5 718v1M1490.5 726v1M1495.5 729v1M1500.5 735v3M1505.5 737v1M1514.5 743v2M1519.5 742v1M1524.5 743v2M1529.5 741v1M1534.5 737v1M1534.5 739v2M1543.5 734v1M1543.5 737v1M1548.5 741v1M1553.5 743v2"/>
<path stroke="#00f096" stroke-width="5" d="M1418.5 729v1M1428.5 716v2M1442.5 676v1M1457.5 696v2M1471.5 718v1M1481.5 711v1M1481.5 723v2M1490.5 719v2M1495.5 723v2M1500.5 741v1M1505.5 745v1M1514.5 734v1M1519.5 753v1M1534.5 746v3M1543.5 745v1M1548.5 747v4M1553.5 735v2M1553.5 753v1"/>
<path stroke="#00bbf8" stroke-width="4" d="M1433 677v2M1486 714v1M1486 729v1M1510 731v2M1510 751v2M1539 726v1"/>
<path stroke="#ff2300" stroke-width="4" d="M1433 683v3M1462 722v1M1510 739v2"/>
<path stroke="#fccc00" stroke-width="4" d="M1433 686v1M1510 737v1M1510 745v1M1539 733v1M1539 735v2M1539 738v1"/>
<path stroke="#bef400" stroke-width="4" d="M1433 687v1M1539 731v2M1539 739v2"/>
</g>
<path d="M1402.3 817.0H1555.3" stroke="#555" stroke-width="1.1" fill="none"/>
<path d="M1503.4 816.8H1521.6" stroke="#5080d0" stroke-width="1.5" fill="none"/>
<path d="M1522.6 816.8H1540.9" stroke="#60b0b0" stroke-width="1.5" fill="none"/>
<path d="M1541.9 816.8H1555.3" stroke="#d06060" stroke-width="1.5" fill="none"/>
<path d="M1401.5 817.3V650.5H1555.5V817.3" fill="none" stroke="#6a6a6a" stroke-width="1.25"/>
<path d="M1404.2 816.7v4.2M1433.1 816.7v4.2M1481.2 816.7v4.2M1529.3 816.7v4.2M1553.4 816.7v4.2" stroke="#333" stroke-width="1.1" fill="none"/>
<path d="M1404.2 816.7v1.6M1409.0 816.7v1.6M1413.8 816.7v1.6M1418.6 816.7v1.6M1423.5 816.7v1.6M1428.3 816.7v1.6M1433.1 816.7v1.6M1437.9 816.7v1.6M1442.7 816.7v1.6M1447.5 816.7v1.6M1452.3 816.7v1.6M1457.1 816.7v1.6M1462.0 816.7v1.6M1466.8 816.7v1.6M1471.6 816.7v1.6M1476.4 816.7v1.6M1481.2 816.7v1.6M1486.0 816.7v1.6M1490.8 816.7v1.6M1495.6 816.7v1.6M1500.5 816.7v1.6M1505.3 816.7v1.6M1510.1 816.7v1.6M1514.9 816.7v1.6M1519.7 816.7v1.6M1524.5 816.7v1.6M1529.3 816.7v1.6M1534.1 816.7v1.6M1539.0 816.7v1.6M1543.8 816.7v1.6M1548.6 816.7v1.6M1553.4 816.7v1.6" stroke="#333" stroke-width="0.6" fill="none"/>
<text x="1402.1" y="829.6" font-size="8.6" fill="#1c1c1c" textLength="4.2" lengthAdjust="spacingAndGlyphs">4</text>
<text x="1428.9" y="829.6" font-size="8.6" fill="#1c1c1c" textLength="8.4" lengthAdjust="spacingAndGlyphs">10</text>
<text x="1477.0" y="829.6" font-size="8.6" fill="#1c1c1c" textLength="8.4" lengthAdjust="spacingAndGlyphs">20</text>
<text x="1525.1" y="829.6" font-size="8.6" fill="#1c1c1c" textLength="8.4" lengthAdjust="spacingAndGlyphs">30</text>
<text x="1549.2" y="829.6" font-size="8.6" fill="#1c1c1c" textLength="8.4" lengthAdjust="spacingAndGlyphs">35</text>
<rect x="1562.9" y="635.5" width="10.7" height="10.7" fill="#7c7c1c"/>
<path d="M1568.24 641.85L1572.74 640.85L1568.24 639.85ZM1567.75 641.34L1570.72 643.32L1568.74 640.36ZM1567.24 640.85L1568.24 645.35L1569.24 640.85ZM1567.75 640.36L1565.77 643.32L1568.74 641.34ZM1568.24 639.85L1563.74 640.85L1568.24 641.85ZM1568.74 640.36L1565.77 638.38L1567.75 641.34ZM1569.24 640.85L1568.24 636.35L1567.24 640.85ZM1568.74 641.34L1570.72 638.38L1567.75 640.36Z" fill="#fff"/>
<circle cx="1568.24" cy="640.85" r="2.0" fill="#fff"/>
<text x="1577.3" y="644.6" font-size="9.3" fill="#1c1c1c" textLength="25.2" lengthAdjust="spacingAndGlyphs">561nm</text>
<g fill="none">
<path stroke="#0c6aff" stroke-width="5" d="M1565.5 665v2M1570.5 665v2M1579.5 680v2M1584.5 684v2M1584.5 699v1M1589.5 692v2M1589.5 708v2M1594.5 734v1M1613.5 707v1M1613.5 725v2M1618.5 710v1M1618.5 729v1M1623.5 734v3M1632.5 722v1M1632.5 742v7M1637.5 753v4M1642.5 727v2M1642.5 757v1M1642.5 759v2M1647.5 729v1M1647.5 757v4M1652.5 757v1M1652.5 762v3M1652.5 766v2M1661.5 729v1M1661.5 757v5M1661.5 764v1M1666.5 723v2M1666.5 751v3M1666.5 755v2M1671.5 750v1M1676.5 750v5M1681.5 761v1"/>
<path stroke="#00e8c3" stroke-width="5" d="M1565.5 667v1M1570.5 668v1M1584.5 686v1M1584.5 698v1M1589.5 695v1M1599.5 716v2M1613.5 710v1M1623.5 716v2M1623.5 730v1M1632.5 725v1M1637.5 746v3M1647.5 731v2M1647.5 751v2M1661.5 749v2M1666.5 745v2M1671.5 722v1M1671.5 742v1M1681.5 753v1"/>
<path stroke="#19f051" stroke-width="5" d="M1565.5 668v1M1565.5 677v2M1570.5 677v2M1584.5 687v1M1599.5 704v2M1599.5 715v1M1608.5 707v1M1618.5 725v1M1637.5 727v3M1637.5 745v1M1642.5 733v1M1642.5 747v3M1647.5 733v1M1652.5 750v3M1666.5 727v2M1666.5 743v2M1676.5 725v2M1676.5 742v1M1681.5 731v2"/>
<path stroke="#f0f100" stroke-width="5" d="M1565.5 669v2M1584.5 688v2M1589.5 698v1M1594.5 722v1M1599.5 707v1M1599.5 712v2M1608.5 716v2M1613.5 712v2M1632.5 729v1M1642.5 735v2M1652.5 747v2M1661.5 735v2M1661.5 739v2M1666.5 737v1M1666.5 739v2M1676.5 730v1M1676.5 737v2M1681.5 737v1"/>
<path stroke="#ff4c00" stroke-width="5" d="M1565.5 671v4M1570.5 672v1M1570.5 675v1M1584.5 691v3M1608.5 714v1M1623.5 723v2M1637.5 737v1M1642.5 739v3M1647.5 739v2M1652.5 742v1M1666.5 734v1M1671.5 729v1"/>
<path stroke="#fccc00" stroke-width="5" d="M1565.5 675v1M1570.5 671v1M1579.5 684v2M1584.5 694v1M1589.5 700v2M1594.5 727v2M1613.5 714v1M1618.5 715v3M1618.5 721v1M1623.5 721v2M1623.5 726v1M1637.5 739v3M1647.5 745v1M1652.5 738v1M1652.5 746v1M1661.5 737v1M1661.5 742v1M1671.5 726v1M1671.5 737v1"/>
<path stroke="#bef400" stroke-width="5" d="M1565.5 676v1M1570.5 669v2M1579.5 691v1M1594.5 729v1M1599.5 714v1M1613.5 719v2M1618.5 722v3M1632.5 727v2M1632.5 735v2M1637.5 730v3M1642.5 746v1M1647.5 737v1M1647.5 746v1M1652.5 737v1M1666.5 730v3M1666.5 738v1M1666.5 741v1M1671.5 735v2M1671.5 738v1M1681.5 743v2"/>
<path stroke="#00e1f0" stroke-width="5" d="M1565.5 679v1M1570.5 667v1M1579.5 682v1M1579.5 694v1M1589.5 694v1M1589.5 707v1M1594.5 731v2M1599.5 703v1M1608.5 706v1M1618.5 726v1M1632.5 739v2M1637.5 726v1M1642.5 730v1M1642.5 750v3M1647.5 730v1M1647.5 753v1M1652.5 731v2M1652.5 753v2M1661.5 731v2M1676.5 723v2M1676.5 745v1M1681.5 730v1"/>
<path stroke="#164afe" stroke-width="5" d="M1565.5 680v2M1584.5 700v2M1589.5 710v1M1594.5 716v2M1594.5 735v2M1599.5 702v1M1608.5 723v2M1613.5 727v2M1623.5 737v2M1632.5 749v2M1632.5 753v1M1637.5 723v2M1637.5 757v1M1642.5 764v1M1642.5 769v1M1647.5 727v2M1647.5 762v6M1647.5 770v2M1652.5 729v1M1652.5 765v1M1652.5 768v1M1652.5 770v2M1652.5 773v1M1652.5 776v1M1661.5 762v2M1661.5 766v2M1666.5 757v4M1671.5 751v3M1676.5 755v2M1676.5 758v1M1681.5 726v1M1681.5 762v6"/>
<path stroke="#1b3bfc" stroke-width="5" d="M1565.5 682v1M1584.5 703v3M1594.5 738v1M1623.5 739v3M1623.5 745v1M1632.5 755v2M1632.5 761v1M1637.5 758v1M1637.5 762v3M1642.5 726v1M1642.5 777v1M1652.5 772v1M1652.5 786v2M1652.5 813v2M1661.5 769v3M1661.5 785v1M1666.5 764v1M1666.5 793v1M1671.5 754v1M1671.5 773v1M1671.5 788v1M1676.5 719v2M1676.5 761v3M1676.5 773v1M1676.5 809v2M1681.5 769v5M1681.5 796v2"/>
<path stroke="#fe9f00" stroke-width="5" d="M1570.5 673v2M1570.5 676v1M1579.5 686v1M1584.5 690v1M1608.5 710v1M1608.5 712v2M1613.5 715v4M1623.5 725v1M1632.5 730v1M1637.5 733v1M1637.5 738v1M1642.5 737v2M1642.5 743v2M1647.5 741v2M1652.5 741v1M1652.5 745v1M1661.5 741v1M1666.5 733v1M1671.5 734v1M1676.5 731v2M1681.5 738v1M1681.5 742v1"/>
<path stroke="#00f096" stroke-width="5" d="M1570.5 679v1M1584.5 696v2M1589.5 706v1M1594.5 719v2M1594.5 730v1M1608.5 719v2M1613.5 722v1M1618.5 712v2M1623.5 718v1M1632.5 738v1M1642.5 731v2M1647.5 750v1M1652.5 733v1M1661.5 733v1M1661.5 747v2M1666.5 726v1M1671.5 723v2M1676.5 743v2M1681.5 750v3"/>
<path stroke="#0096ff" stroke-width="5" d="M1570.5 680v2M1579.5 695v1M1594.5 733v1M1608.5 704v2M1608.5 721v1M1613.5 708v2M1618.5 727v2M1623.5 715v1M1623.5 733v1M1632.5 741v1M1637.5 725v1M1637.5 749v2M1642.5 729v1M1642.5 754v3M1642.5 758v1M1647.5 754v3M1652.5 730v1M1652.5 755v2M1652.5 758v4M1661.5 730v1M1661.5 754v3M1666.5 750v1M1671.5 719v3M1671.5 746v4M1676.5 721v2M1676.5 746v1M1676.5 749v1M1681.5 727v2M1681.5 754v5"/>
<path stroke="#a8b0f7" stroke-width="5" d="M1570.5 682v1M1570.5 686v1M1579.5 679v1M1579.5 696v1M1584.5 702v1M1594.5 739v1M1599.5 721v1M1608.5 725v1M1613.5 706v1M1618.5 730v1M1623.5 714v1M1623.5 742v1M1637.5 722v1M1637.5 751v1M1637.5 761v1M1642.5 761v1M1642.5 772v1M1642.5 807v1M1647.5 768v1M1647.5 776v1M1647.5 784v1M1652.5 774v1M1652.5 794v1M1652.5 800v1M1661.5 726v1M1661.5 727v1M1661.5 765v1M1661.5 773v1M1661.5 803v1M1666.5 761v1M1666.5 766v1M1666.5 768v1M1666.5 777v1M1671.5 718v1M1671.5 757v1M1671.5 770v1M1676.5 718v1M1676.5 757v1M1676.5 759v1M1676.5 770v1M1681.5 725v1M1681.5 768v1M1681.5 774v1"/>
<path stroke="#0c6aff" stroke-width="4" d="M1575 673v2M1604 718v1M1628 739v2M1657 731v2M1657 766v4M1686 759v5M1686 765v1"/>
<path stroke="#00bbf8" stroke-width="4" d="M1575 675v1M1686 729v2M1686 757v2"/>
<path stroke="#19f051" stroke-width="4" d="M1575 676v1M1604 704v2M1604 714v1M1628 734v1M1686 750v1"/>
<path stroke="#83f40c" stroke-width="4" d="M1575 677v2M1575 684v2M1604 706v1M1628 733v1M1657 737v1M1657 750v1M1686 735v3M1686 747v3"/>
<path stroke="#fccc00" stroke-width="4" d="M1575 679v1M1575 682v1M1604 707v3M1628 731v2M1657 746v1M1686 738v1M1686 742v1"/>
<path stroke="#ff7500" stroke-width="4" d="M1575 680v2M1575 683v1M1604 711v1M1657 742v1M1657 745v1"/>
<path stroke="#42f120" stroke-width="4" d="M1575 686v1M1628 722v1M1657 738v1M1657 751v2M1686 751v2"/>
<path stroke="#00f096" stroke-width="4" d="M1575 687v1M1604 715v1M1657 735v2M1657 753v1M1686 734v1M1686 753v1"/>
<path stroke="#0096ff" stroke-width="4" d="M1575 688v2M1604 702v1M1604 716v2M1628 719v2M1628 737v2M1657 733v1M1657 757v7M1686 764v1"/>
<path stroke="#a8b0f7" stroke-width="4" d="M1575 690v1M1604 699v1M1604 721v1M1628 747v1M1657 778v1M1686 725v1M1686 766v1M1686 773v1M1686 782v1"/>
<path stroke="#42f120" stroke-width="5" d="M1579.5 683v1M1579.5 692v2M1584.5 695v1M1589.5 704v2M1613.5 711v1M1613.5 721v1M1618.5 714v1M1623.5 719v2M1623.5 729v1M1632.5 726v1M1647.5 747v3M1652.5 734v1M1661.5 746v1M1666.5 729v1M1666.5 742v1M1671.5 739v3M1676.5 727v2M1676.5 741v1M1681.5 733v1M1681.5 747v3"/>
<path stroke="#ff7500" stroke-width="5" d="M1579.5 687v1M1579.5 690v1M1589.5 699v1M1589.5 702v1M1594.5 723v3M1599.5 708v4M1608.5 711v1M1608.5 715v1M1618.5 718v3M1632.5 733v2M1637.5 735v2M1642.5 742v1M1647.5 738v1M1647.5 743v2M1652.5 739v2M1661.5 738v1M1666.5 735v2M1671.5 727v2M1671.5 731v3M1676.5 733v4M1681.5 739v3"/>
<path stroke="#ff2300" stroke-width="5" d="M1579.5 688v2M1594.5 726v1M1632.5 731v2M1637.5 734v1M1652.5 743v2M1671.5 730v1"/>
<path stroke="#83f40c" stroke-width="5" d="M1589.5 696v2M1589.5 703v1M1594.5 721v1M1599.5 706v1M1608.5 708v2M1608.5 718v1M1623.5 727v2M1632.5 737v1M1637.5 742v3M1642.5 734v1M1642.5 745v1M1647.5 734v3M1652.5 735v2M1652.5 749v1M1661.5 734v1M1661.5 743v3M1671.5 725v1M1676.5 729v1M1676.5 739v2M1681.5 734v3M1681.5 745v2"/>
<path stroke="#00bbf8" stroke-width="5" d="M1594.5 718v1M1599.5 718v1M1613.5 723v2M1618.5 711v1M1623.5 731v2M1632.5 723v2M1642.5 753v1M1661.5 751v3M1666.5 725v1M1666.5 747v3M1671.5 743v3M1676.5 747v2M1681.5 729v1"/>
<path stroke="#4657f8" stroke-width="5" d="M1594.5 737v1M1594.5 745v1M1599.5 699v1M1599.5 719v1M1608.5 729v1M1613.5 729v1M1618.5 731v1M1637.5 769v1M1637.5 773v1M1637.5 784v1M1637.5 785v1M1642.5 762v1M1642.5 766v1M1642.5 785v1M1642.5 805v1M1647.5 726v1M1647.5 761v1M1647.5 785v1M1647.5 792v1M1647.5 813v1M1652.5 727v1M1652.5 785v1M1652.5 805v1M1661.5 768v1M1661.5 772v1M1661.5 774v1M1661.5 777v1M1661.5 798v1M1666.5 722v1M1666.5 765v1M1666.5 784v1M1671.5 759v1M1671.5 764v1M1671.5 772v1M1671.5 792v1M1676.5 764v1M1676.5 782v1M1676.5 793v1M1676.5 800v1"/>
<path stroke="#164afe" stroke-width="4" d="M1604 700v2M1628 741v4M1657 765v1M1657 770v2M1657 773v1M1657 776v1M1686 727v2M1686 768v1M1686 770v2M1686 774v2"/>
<path stroke="#00e1f0" stroke-width="4" d="M1604 703v1M1628 721v1M1657 734v1M1657 755v2M1686 731v2M1686 754v3"/>
<path stroke="#fe9f00" stroke-width="4" d="M1604 710v1M1628 727v2M1628 730v1M1657 743v2M1686 739v3M1686 743v4"/>
<path stroke="#bef400" stroke-width="4" d="M1604 712v2M1628 723v3"/>
<path stroke="#1b3bfc" stroke-width="4" d="M1604 719v2M1604 723v2M1628 746v1M1657 730v1M1657 772v1M1657 774v2M1657 780v2M1686 726v1M1686 772v1M1686 776v2"/>
<path stroke="#4657f8" stroke-width="4" d="M1604 722v1M1657 784v1M1657 797v1M1686 788v1M1686 789v1M1686 792v1M1686 803v1"/>
<path stroke="#ff4c00" stroke-width="4" d="M1628 726v1M1628 729v1"/>
<path stroke="#00e8c3" stroke-width="4" d="M1628 735v2M1657 754v1M1686 733v1"/>
<path stroke="#f0f100" stroke-width="4" d="M1657 739v3M1657 747v3"/>
</g>
<path d="M1563.5 817.0H1687.9" stroke="#555" stroke-width="1.1" fill="none"/>
<path d="M1635.8 816.8H1649.3" stroke="#6090d0" stroke-width="1.5" fill="none"/>
<path d="M1650.3 816.8H1687.9" stroke="#d06060" stroke-width="1.5" fill="none"/>
<path d="M1562.5 817.3V650.5H1688.5V817.3" fill="none" stroke="#6a6a6a" stroke-width="1.25"/>
<path d="M1565.4 816.7v4.2M1613.6 816.7v4.2M1661.8 816.7v4.2M1685.9 816.7v4.2" stroke="#333" stroke-width="1.1" fill="none"/>
<path d="M1565.4 816.7v1.6M1570.2 816.7v1.6M1575.0 816.7v1.6M1579.9 816.7v1.6M1584.7 816.7v1.6M1589.5 816.7v1.6M1594.3 816.7v1.6M1599.2 816.7v1.6M1604.0 816.7v1.6M1608.8 816.7v1.6M1613.6 816.7v1.6M1618.4 816.7v1.6M1623.3 816.7v1.6M1628.1 816.7v1.6M1632.9 816.7v1.6M1637.7 816.7v1.6M1642.5 816.7v1.6M1647.4 816.7v1.6M1652.2 816.7v1.6M1657.0 816.7v1.6M1661.8 816.7v1.6M1666.7 816.7v1.6M1671.5 816.7v1.6M1676.3 816.7v1.6M1681.1 816.7v1.6M1685.9 816.7v1.6" stroke="#333" stroke-width="0.6" fill="none"/>
<text x="1561.2" y="829.6" font-size="8.6" fill="#1c1c1c" textLength="8.4" lengthAdjust="spacingAndGlyphs">10</text>
<text x="1609.4" y="829.6" font-size="8.6" fill="#1c1c1c" textLength="8.4" lengthAdjust="spacingAndGlyphs">20</text>
<text x="1657.6" y="829.6" font-size="8.6" fill="#1c1c1c" textLength="8.4" lengthAdjust="spacingAndGlyphs">30</text>
<text x="1681.7" y="829.6" font-size="8.6" fill="#1c1c1c" textLength="8.4" lengthAdjust="spacingAndGlyphs">35</text>
<rect x="1695.4" y="635.5" width="10.7" height="10.7" fill="#c83a52"/>
<path d="M1700.79 641.85L1705.29 640.85L1700.79 639.85ZM1700.29 641.34L1703.26 643.32L1701.28 640.36ZM1699.79 640.85L1700.79 645.35L1701.79 640.85ZM1700.29 640.36L1698.31 643.32L1701.28 641.34ZM1700.79 639.85L1696.29 640.85L1700.79 641.85ZM1701.28 640.36L1698.31 638.38L1700.29 641.34ZM1701.79 640.85L1700.79 636.35L1699.79 640.85ZM1701.28 641.34L1703.26 638.38L1700.29 640.36Z" fill="#fff"/>
<circle cx="1700.79" cy="640.85" r="2.0" fill="#fff"/>
<text x="1709.8" y="644.6" font-size="9.3" fill="#1c1c1c" textLength="25.2" lengthAdjust="spacingAndGlyphs">637nm</text>
<g fill="none">
<path stroke="#a8b0f7" stroke-width="4" d="M1698 737v1M1698 804v1M1698 808v1M1698 813v1M1727 746v1M1727 801v1M1727 815v1M1751 739v1M1751 745v1M1780 733v1M1780 734v1M1780 735v1M1780 803v1M1780 811v1"/>
<path stroke="#1b3bfc" stroke-width="4" d="M1698 741v2M1698 805v2M1727 747v2M1727 808v1M1727 812v1M1751 746v4M1751 804v1M1751 808v4M1751 813v2M1780 737v1M1780 805v2"/>
<path stroke="#164afe" stroke-width="4" d="M1698 743v3M1698 800v4M1727 749v4M1727 803v4M1751 803v1M1751 805v3M1780 738v1M1780 794v3M1780 798v3"/>
<path stroke="#0096ff" stroke-width="4" d="M1698 746v1M1698 796v1M1727 794v2M1727 797v3M1751 751v3M1751 794v2M1751 798v2M1780 784v5"/>
<path stroke="#00bbf8" stroke-width="4" d="M1698 747v2M1698 788v1M1698 793v3M1727 754v1M1727 792v2M1751 754v1M1751 792v2M1780 742v3M1780 778v2M1780 782v2"/>
<path stroke="#00e1f0" stroke-width="4" d="M1698 749v2M1698 784v4M1698 789v4M1727 755v2M1727 785v7M1751 755v2M1751 790v2M1780 777v1M1780 780v2"/>
<path stroke="#00f096" stroke-width="4" d="M1698 751v2M1698 776v2M1698 781v3M1727 757v1M1727 777v8M1751 757v2M1751 781v7M1780 768v4"/>
<path stroke="#42f120" stroke-width="4" d="M1698 753v1M1698 769v1M1698 772v1M1727 770v3M1727 774v2M1751 759v2M1751 776v1M1780 762v4"/>
<path stroke="#83f40c" stroke-width="4" d="M1698 754v1M1698 764v5M1727 765v1M1727 768v1M1727 773v1M1751 772v2M1751 777v1M1780 749v2M1780 754v1M1780 761v1"/>
<path stroke="#f0f100" stroke-width="4" d="M1698 755v2M1698 761v1M1727 761v1M1751 761v1M1751 764v1M1751 770v2M1780 755v3"/>
<path stroke="#bef400" stroke-width="4" d="M1698 757v1M1698 762v2M1727 759v2M1727 762v3M1727 769v1M1751 762v2M1751 769v1M1751 774v2M1780 751v2M1780 758v3"/>
<path stroke="#fccc00" stroke-width="4" d="M1698 758v3M1727 766v2M1751 765v4"/>
<path stroke="#19f051" stroke-width="4" d="M1698 770v2M1698 773v3M1698 778v2M1727 758v1M1727 776v1M1751 778v3M1780 747v2M1780 766v2"/>
<path stroke="#00e8c3" stroke-width="4" d="M1698 780v1M1751 788v2M1780 745v2M1780 772v5"/>
<path stroke="#0c6aff" stroke-width="4" d="M1698 797v3M1727 753v1M1727 796v1M1727 800v1M1751 750v1M1751 796v2M1751 800v3M1780 739v3M1780 789v5"/>
<path stroke="#4657f8" stroke-width="4" d="M1698 807v1M1698 809v1M1727 807v1M1727 809v1M1780 801v1M1780 804v1M1780 812v1"/>
<path stroke="#4657f8" stroke-width="5" d="M1702.5 745v1M1702.5 811v1M1707.5 741v1M1707.5 807v1M1712.5 808v1M1712.5 811v1M1717.5 742v1M1717.5 805v1M1717.5 808v1M1717.5 815v1M1717.5 816v1M1722.5 811v1M1722.5 813v1M1731.5 801v1M1741.5 811v1M1755.5 811v1M1760.5 794v1M1765.5 735v2M1765.5 805v2M1765.5 809v1M1775.5 733v1M1775.5 798v1M1775.5 807v1M1775.5 812v1M1784.5 737v1M1784.5 792v1M1784.5 800v1M1784.5 808v1M1784.5 811v1"/>
<path stroke="#1b3bfc" stroke-width="5" d="M1702.5 746v1M1702.5 804v4M1702.5 809v2M1707.5 747v2M1707.5 805v2M1707.5 811v1M1712.5 747v2M1712.5 804v3M1717.5 747v2M1717.5 809v2M1722.5 747v2M1722.5 809v2M1731.5 747v3M1731.5 805v3M1731.5 809v2M1736.5 747v2M1736.5 805v2M1736.5 813v2M1741.5 747v2M1741.5 807v1M1741.5 813v2M1746.5 747v2M1746.5 808v3M1755.5 745v1M1755.5 747v2M1755.5 805v2M1755.5 809v2M1755.5 815v1M1760.5 742v4M1760.5 801v3M1760.5 807v2M1765.5 800v1M1765.5 804v1M1770.5 733v2M1770.5 798v5M1770.5 804v3M1770.5 816v1M1775.5 734v1M1775.5 801v3M1784.5 738v1M1784.5 803v1M1784.5 807v1"/>
<path stroke="#164afe" stroke-width="5" d="M1702.5 747v2M1702.5 800v1M1702.5 803v1M1707.5 746v1M1707.5 749v1M1707.5 803v2M1712.5 749v1M1712.5 801v3M1717.5 749v1M1717.5 803v1M1722.5 749v2M1722.5 803v2M1731.5 803v2M1736.5 749v1M1736.5 801v4M1741.5 749v2M1741.5 801v4M1746.5 749v1M1746.5 804v4M1755.5 746v1M1755.5 804v1M1760.5 746v1M1760.5 793v1M1760.5 800v1M1765.5 737v2M1765.5 792v1M1765.5 797v3M1770.5 735v2M1770.5 796v1M1770.5 803v1M1775.5 735v2M1775.5 793v3M1775.5 797v1M1775.5 800v1M1784.5 739v4M1784.5 796v4"/>
<path stroke="#0c6aff" stroke-width="5" d="M1702.5 749v1M1702.5 794v6M1702.5 801v2M1707.5 750v1M1707.5 798v3M1712.5 750v1M1712.5 797v4M1717.5 750v1M1717.5 797v1M1717.5 800v3M1722.5 751v2M1722.5 798v3M1731.5 750v3M1731.5 798v3M1736.5 750v1M1736.5 796v5M1741.5 751v3M1741.5 798v3M1746.5 750v4M1746.5 798v6M1755.5 749v1M1755.5 797v6M1760.5 747v3M1760.5 788v1M1760.5 790v3M1765.5 739v2M1765.5 789v1M1765.5 793v4M1770.5 737v1M1770.5 789v7M1770.5 797v1M1775.5 737v1M1775.5 790v3M1784.5 790v2M1784.5 793v1"/>
<path stroke="#0096ff" stroke-width="5" d="M1702.5 750v1M1702.5 792v1M1707.5 790v2M1707.5 793v5M1712.5 751v2M1712.5 794v3M1717.5 751v3M1717.5 790v2M1717.5 794v3M1717.5 798v2M1722.5 753v2M1722.5 796v2M1731.5 753v1M1731.5 794v4M1736.5 751v2M1736.5 794v2M1741.5 796v2M1746.5 794v4M1755.5 750v3M1760.5 785v1M1760.5 789v1M1765.5 741v1M1765.5 784v2M1765.5 788v1M1765.5 790v2M1770.5 785v4M1775.5 738v1M1775.5 784v1M1775.5 786v4M1784.5 743v3M1784.5 784v6"/>
<path stroke="#00bbf8" stroke-width="5" d="M1702.5 751v2M1702.5 789v3M1702.5 793v1M1707.5 751v2M1707.5 792v1M1712.5 789v1M1712.5 792v2M1717.5 792v2M1722.5 790v6M1731.5 754v1M1731.5 789v1M1731.5 793v1M1736.5 753v1M1736.5 790v4M1741.5 754v3M1741.5 790v6M1746.5 754v1M1755.5 753v1M1755.5 794v3M1760.5 750v1M1760.5 777v1M1760.5 782v3M1760.5 786v2M1765.5 742v1M1765.5 778v2M1765.5 781v1M1765.5 786v2M1770.5 738v3M1770.5 781v1M1775.5 739v2M1775.5 778v3M1775.5 782v2M1775.5 785v1M1784.5 781v3"/>
<path stroke="#00f096" stroke-width="5" d="M1702.5 753v1M1702.5 782v2M1707.5 782v4M1712.5 755v2M1712.5 782v3M1717.5 755v2M1717.5 778v2M1717.5 781v4M1722.5 757v1M1722.5 778v2M1731.5 755v3M1731.5 781v3M1731.5 785v1M1736.5 755v3M1736.5 781v5M1741.5 757v1M1741.5 782v2M1746.5 757v1M1746.5 780v1M1746.5 782v3M1755.5 755v3M1755.5 782v3M1760.5 753v1M1760.5 766v6M1760.5 773v1M1765.5 745v1M1765.5 768v2M1765.5 772v1M1770.5 769v1M1770.5 772v2M1775.5 769v1M1775.5 772v1M1775.5 774v2M1784.5 772v1M1784.5 774v2"/>
<path stroke="#19f051" stroke-width="5" d="M1702.5 754v1M1702.5 776v4M1702.5 781v1M1707.5 754v3M1707.5 777v3M1707.5 781v1M1712.5 777v1M1712.5 780v1M1717.5 757v1M1717.5 780v1M1722.5 773v1M1722.5 777v1M1722.5 780v1M1731.5 780v1M1736.5 777v1M1736.5 780v1M1741.5 780v1M1746.5 758v1M1746.5 778v2M1746.5 781v1M1755.5 781v1M1760.5 754v3M1760.5 762v2M1765.5 746v3M1765.5 764v4M1765.5 770v2M1770.5 742v1M1770.5 766v3M1770.5 770v2M1775.5 759v5M1775.5 765v4M1784.5 750v1M1784.5 769v1M1784.5 773v1"/>
<path stroke="#83f40c" stroke-width="5" d="M1702.5 755v2M1702.5 769v3M1702.5 773v1M1707.5 773v3M1712.5 768v4M1712.5 773v1M1717.5 758v1M1717.5 772v1M1722.5 764v1M1722.5 769v3M1731.5 758v1M1731.5 774v3M1736.5 759v2M1736.5 770v4M1736.5 776v1M1741.5 759v2M1741.5 770v3M1741.5 774v2M1746.5 773v1M1746.5 776v1M1755.5 758v1M1755.5 773v1M1755.5 777v1M1760.5 757v2M1765.5 751v10M1770.5 753v1M1770.5 755v2M1770.5 761v3M1775.5 746v1M1775.5 751v3M1775.5 755v4M1784.5 761v1"/>
<path stroke="#fccc00" stroke-width="5" d="M1702.5 757v1M1702.5 762v2M1707.5 761v1M1707.5 765v1M1707.5 768v2M1712.5 765v1M1717.5 759v2M1717.5 766v2M1731.5 761v1M1731.5 765v3M1731.5 769v1M1736.5 769v1M1741.5 762v3M1746.5 762v4M1746.5 768v1M1746.5 770v2M1755.5 759v3M1770.5 746v7M1775.5 749v1M1784.5 758v3"/>
<path stroke="#f0f100" stroke-width="5" d="M1702.5 758v1M1702.5 766v2M1707.5 766v2M1712.5 758v1M1712.5 761v3M1712.5 766v2M1717.5 762v3M1717.5 768v1M1731.5 759v2M1731.5 770v2M1736.5 761v7M1741.5 761v1M1741.5 765v5M1755.5 766v3M1770.5 745v1M1775.5 747v2M1775.5 750v1M1784.5 762v2"/>
<path stroke="#bef400" stroke-width="5" d="M1702.5 759v2M1702.5 764v2M1702.5 768v1M1707.5 757v2M1707.5 770v3M1712.5 764v1M1717.5 761v1M1717.5 769v3M1722.5 759v5M1722.5 765v4M1731.5 772v2M1736.5 768v1M1736.5 774v2M1741.5 773v1M1746.5 761v1M1746.5 766v2M1746.5 769v1M1746.5 772v1M1755.5 769v4M1755.5 774v3M1765.5 749v2M1770.5 743v2M1770.5 754v1M1770.5 757v2M1775.5 754v1M1784.5 754v1M1784.5 764v1M1784.5 766v2"/>
<path stroke="#fe9f00" stroke-width="5" d="M1702.5 761v1M1707.5 759v2M1707.5 762v3M1712.5 759v2M1717.5 765v1M1731.5 762v2M1731.5 768v1M1755.5 764v2M1784.5 755v3"/>
<path stroke="#42f120" stroke-width="5" d="M1702.5 772v1M1702.5 774v2M1707.5 776v1M1707.5 780v1M1712.5 757v1M1712.5 772v1M1712.5 774v3M1712.5 778v2M1717.5 773v5M1722.5 758v1M1722.5 772v1M1722.5 774v3M1731.5 777v3M1736.5 758v1M1736.5 778v2M1741.5 758v1M1741.5 776v4M1746.5 759v2M1746.5 774v2M1746.5 777v1M1755.5 778v3M1760.5 759v3M1760.5 764v2M1765.5 761v3M1770.5 759v2M1770.5 764v2M1775.5 743v3M1775.5 764v1M1784.5 751v3M1784.5 765v1M1784.5 768v1M1784.5 770v2"/>
<path stroke="#00e8c3" stroke-width="5" d="M1702.5 780v1M1702.5 784v2M1707.5 753v1M1712.5 781v1M1712.5 785v4M1717.5 754v1M1717.5 785v1M1717.5 788v1M1722.5 781v5M1731.5 784v1M1736.5 786v2M1736.5 789v1M1741.5 781v1M1741.5 784v1M1741.5 786v2M1741.5 789v1M1746.5 755v2M1746.5 785v1M1746.5 788v1M1755.5 785v5M1760.5 772v1M1760.5 774v2M1760.5 778v2M1765.5 743v2M1765.5 773v3M1765.5 777v1M1765.5 780v1M1770.5 741v1M1770.5 776v1M1770.5 778v3M1775.5 741v2M1775.5 770v2M1775.5 773v1M1775.5 776v2M1784.5 747v3M1784.5 776v4"/>
<path stroke="#00e1f0" stroke-width="5" d="M1702.5 786v3M1707.5 786v4M1712.5 753v2M1712.5 790v2M1717.5 786v2M1717.5 789v1M1722.5 755v2M1722.5 786v4M1731.5 786v3M1731.5 790v3M1736.5 754v1M1736.5 788v1M1741.5 785v1M1741.5 788v1M1746.5 786v2M1746.5 789v5M1755.5 754v1M1755.5 790v4M1760.5 751v2M1760.5 776v1M1760.5 780v2M1765.5 776v1M1765.5 782v2M1770.5 774v2M1770.5 777v1M1770.5 782v3M1775.5 781v1M1784.5 746v1M1784.5 780v1"/>
<path stroke="#a8b0f7" stroke-width="5" d="M1702.5 808v1M1707.5 739v1M1707.5 801v1M1707.5 808v1M1707.5 812v1M1712.5 738v1M1712.5 745v1M1717.5 741v1M1717.5 804v1M1722.5 742v1M1722.5 743v1M1722.5 745v1M1722.5 805v1M1722.5 807v1M1731.5 746v1M1731.5 808v1M1736.5 738v1M1736.5 739v1M1736.5 809v1M1741.5 809v1M1741.5 812v1M1746.5 811v1M1755.5 739v1M1755.5 803v1M1755.5 808v1M1760.5 796v1M1760.5 798v1M1760.5 805v1M1765.5 801v1M1765.5 803v1M1770.5 808v1M1775.5 796v1M1775.5 805v1M1784.5 794v1M1784.5 801v1M1784.5 804v1"/>
<path stroke="#ff7500" stroke-width="5" d="M1731.5 764v1M1755.5 762v2"/>
<path stroke="#fe9f00" stroke-width="4" d="M1780 753v1"/>
</g>
<path d="M1696.0 817.0H1786.8" stroke="#555" stroke-width="1.1" fill="none"/>
<path d="M1696.0 816.8H1786.8" stroke="#c8281e" stroke-width="1.5" fill="none"/>
<path d="M1695.5 817.3V650.5H1787.5V817.3" fill="none" stroke="#6a6a6a" stroke-width="1.25"/>
<path d="M1698.0 816.7v4.2M1712.4 816.7v4.2M1760.7 816.7v4.2M1784.8 816.7v4.2" stroke="#333" stroke-width="1.1" fill="none"/>
<path d="M1698.0 816.7v1.6M1702.8 816.7v1.6M1707.6 816.7v1.6M1712.4 816.7v1.6M1717.3 816.7v1.6M1722.1 816.7v1.6M1726.9 816.7v1.6M1731.7 816.7v1.6M1736.6 816.7v1.6M1741.4 816.7v1.6M1746.2 816.7v1.6M1751.1 816.7v1.6M1755.9 816.7v1.6M1760.7 816.7v1.6M1765.5 816.7v1.6M1770.4 816.7v1.6M1775.2 816.7v1.6M1780.0 816.7v1.6M1784.8 816.7v1.6" stroke="#333" stroke-width="0.6" fill="none"/>
<text x="1693.8" y="829.6" font-size="8.6" fill="#1c1c1c" textLength="8.4" lengthAdjust="spacingAndGlyphs">17</text>
<text x="1756.5" y="829.6" font-size="8.6" fill="#1c1c1c" textLength="8.4" lengthAdjust="spacingAndGlyphs">30</text>
<text x="1780.6" y="829.6" font-size="8.6" fill="#1c1c1c" textLength="8.4" lengthAdjust="spacingAndGlyphs">35</text>
<path d="M870.9 817.3H875.1M870.9 789.5H875.1M870.9 761.7H875.1M870.9 734.0H875.1M870.9 706.2H875.1M870.9 678.4H875.1M870.9 650.6H875.1" stroke="#333" stroke-width="1" fill="none"/>
<path d="M872.9 808.9H875.1M872.9 804.0H875.1M872.9 800.6H875.1M872.9 797.9H875.1M872.9 795.7H875.1M872.9 793.8H875.1M872.9 792.2H875.1M872.9 790.8H875.1M872.9 781.2H875.1M872.9 776.3H875.1M872.9 772.8H875.1M872.9 770.1H875.1M872.9 767.9H875.1M872.9 766.0H875.1M872.9 764.4H875.1M872.9 763.0H875.1M872.9 753.4H875.1M872.9 748.5H875.1M872.9 745.0H875.1M872.9 742.3H875.1M872.9 740.1H875.1M872.9 738.3H875.1M872.9 736.6H875.1M872.9 735.2H875.1M872.9 725.6H875.1M872.9 720.7H875.1M872.9 717.2H875.1M872.9 714.5H875.1M872.9 712.3H875.1M872.9 710.5H875.1M872.9 708.9H875.1M872.9 707.4H875.1M872.9 697.8H875.1M872.9 692.9H875.1M872.9 689.4H875.1M872.9 686.7H875.1M872.9 684.5H875.1M872.9 682.7H875.1M872.9 681.1H875.1M872.9 679.7H875.1M872.9 670.0H875.1M872.9 665.1H875.1M872.9 661.7H875.1M872.9 659.0H875.1M872.9 656.8H875.1M872.9 654.9H875.1M872.9 653.3H875.1M872.9 651.9H875.1" stroke="#333" stroke-width="0.7" fill="none"/>
<path d="M874.8 650.6V817.3" stroke="#4a4a4a" stroke-width="1.3" fill="none"/>
<path d="M1379.6 386.2H1411.2V380.1L1429.9 389.3L1411.2 398.6V392.4H1379.6Z" fill="#f00"/>
<path d="M1623.9 380.4H1592.1V374.2L1573.5 383.6L1592.1 392.9V386.7H1623.9Z" fill="#f00"/>
</g>
</svg>
</body></html>
